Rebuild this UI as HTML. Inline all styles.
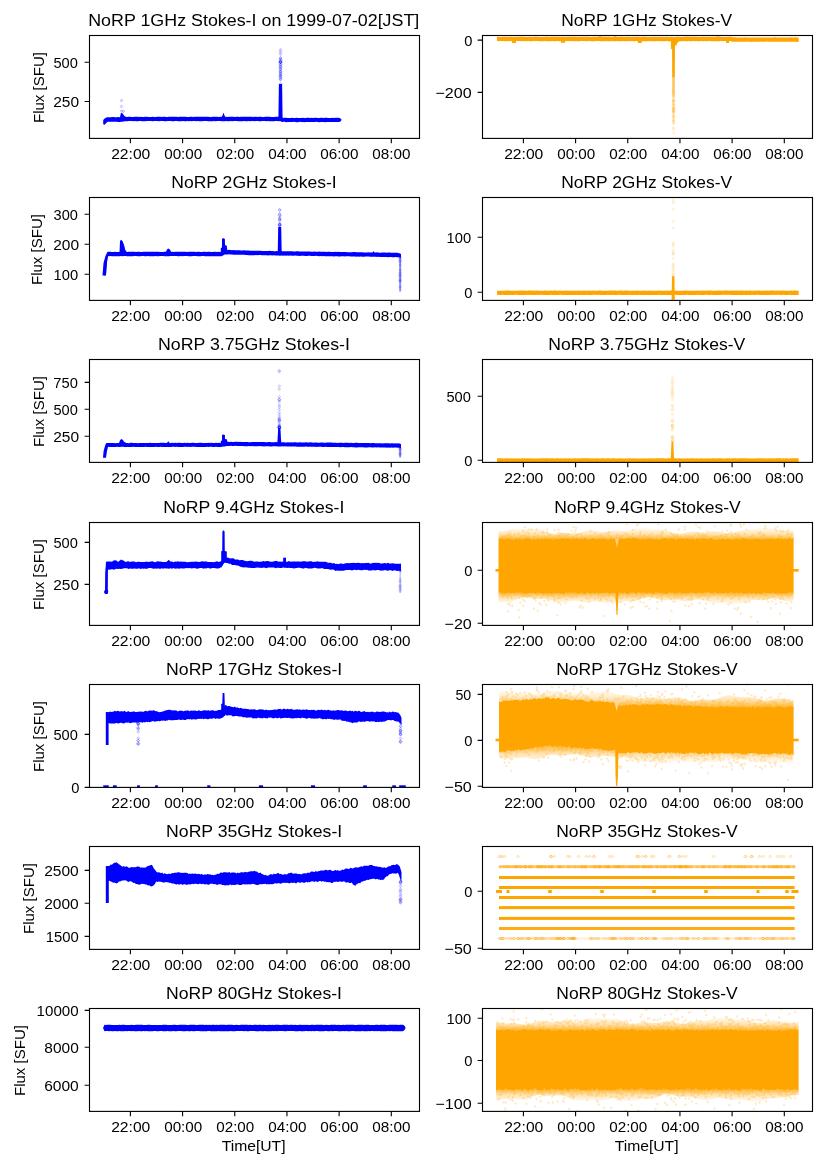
<!DOCTYPE html>
<html><head><meta charset="utf-8"><style>
html,body{margin:0;padding:0;background:#fff;}
svg{display:block;will-change:transform;}
text{font-family:"Liberation Sans",sans-serif;fill:#000;}
</style></head><body>
<svg width="827" height="1169" viewBox="0 0 827 1169">
<rect width="827" height="1169" fill="#fff"/>
<clipPath id="c00"><rect x="89.5" y="35.5" width="330" height="102.9"/></clipPath>
<g clip-path="url(#c00)">
<path d="M103.2 119.95 104.7 118.45 106.2 117.58 107.7 117.21 109.2 117.13 110.7 117.14 112.2 117.07 113.7 117.02 115.2 117.27 116.7 117.29 118.2 117.01 119.7 117.15 121.2 116.97 122.7 117.16 124.2 116.93 125.7 116.76 127.2 116.92 128.7 116.67 130.2 116.68 131.7 116.99 133.2 116.99 134.7 116.81 136.2 116.67 137.7 116.87 139.2 116.92 140.7 116.85 142.2 116.99 143.7 116.92 145.2 116.85 146.7 116.83 148.2 116.92 149.7 116.92 151.2 116.92 152.7 116.84 154.2 116.9 155.7 116.99 157.2 116.71 158.7 116.81 160.2 116.78 161.7 116.93 163.2 116.65 164.7 116.7 166.2 116.96 167.7 116.88 169.2 116.75 170.7 116.75 172.2 116.67 173.7 116.85 175.2 116.71 176.7 116.77 178.2 116.89 179.7 116.79 181.2 116.69 182.7 116.7 184.2 116.82 185.7 116.79 187.2 116.99 188.7 116.92 190.2 116.72 191.7 116.85 193.2 116.94 194.7 116.81 196.2 116.75 197.7 116.76 199.2 116.87 200.7 116.85 202.2 116.82 203.7 116.73 205.2 116.82 206.7 116.86 208.2 116.83 209.7 116.99 211.2 116.98 212.7 116.75 214.2 116.66 215.7 116.79 217.2 116.86 218.7 116.94 220.2 116.82 221.7 116.66 223.2 116.73 224.7 116.81 226.2 116.7 227.7 116.92 229.2 116.82 230.7 116.67 232.2 116.8 233.7 116.84 235.2 116.91 236.7 116.81 238.2 116.67 239.7 117 241.2 116.73 242.7 116.71 244.2 116.69 245.7 116.74 247.2 116.72 248.7 116.82 250.2 116.8 251.7 116.85 253.2 116.98 254.7 116.7 256.2 116.8 257.7 116.93 259.2 116.82 260.7 116.83 262.2 116.88 263.7 116.88 265.2 116.81 266.7 116.78 268.2 116.79 269.7 116.84 271.2 116.99 272.7 116.92 274.2 116.94 275.7 116.8 277.2 116.7 278.7 116.72 280.2 116.82 281.7 117.56 283.2 117.91 284.7 117.71 286.2 117.76 287.7 117.97 289.2 117.99 290.7 117.99 292.2 117.74 293.7 117.91 295.2 117.96 296.7 117.78 298.2 117.88 299.7 117.98 301.2 117.94 302.7 117.82 304.2 117.94 305.7 117.9 307.2 117.75 308.7 117.84 310.2 117.89 311.7 117.83 313.2 117.99 314.7 117.86 316.2 117.85 317.7 117.93 319.2 117.96 320.7 117.69 322.2 117.82 323.7 117.93 325.2 117.79 326.7 117.71 328.2 117.99 329.7 117.99 331.2 117.95 332.7 117.75 334.2 117.94 335.7 117.75 337.2 117.76 338.7 117.81 340.2 118.16 341.5 119.46 341.5 120.01 340.2 121.74 338.7 121.99 337.2 121.92 335.7 121.91 334.2 122.11 332.7 122.1 331.2 121.91 329.7 121.91 328.2 121.91 326.7 121.94 325.2 122.13 323.7 122.03 322.2 122.03 320.7 121.96 319.2 122.14 317.7 121.9 316.2 121.83 314.7 121.89 313.2 121.91 311.7 121.99 310.2 121.89 308.7 122.03 307.2 122.04 305.7 121.99 304.2 122.14 302.7 122.02 301.2 121.88 299.7 121.84 298.2 122.14 296.7 122.14 295.2 122.12 293.7 121.82 292.2 121.91 290.7 121.96 289.2 122.01 287.7 121.9 286.2 122.14 284.7 121.8 283.2 121.81 281.7 121.91 280.2 121.12 278.7 121.17 277.2 121.09 275.7 121.1 274.2 121.31 272.7 121.33 271.2 121.13 269.7 121.31 268.2 121.03 266.7 121.25 265.2 121.07 263.7 121.05 262.2 121.03 260.7 121.13 259.2 121.33 257.7 121.07 256.2 121 254.7 121.29 253.2 121.02 251.7 121.01 250.2 121.22 248.7 120.98 247.2 121.27 245.7 121.25 244.2 121.07 242.7 121.14 241.2 121.3 239.7 121.17 238.2 121.28 236.7 121.07 235.2 121 233.7 121.05 232.2 121.17 230.7 121.1 229.2 121.24 227.7 121.18 226.2 121.08 224.7 121.25 223.2 121.24 221.7 121.27 220.2 120.99 218.7 120.97 217.2 121 215.7 121.15 214.2 121 212.7 121.27 211.2 121.29 209.7 121.17 208.2 121.26 206.7 121.05 205.2 121.07 203.7 121.08 202.2 121.24 200.7 121.16 199.2 121.21 197.7 121.02 196.2 121.26 194.7 121 193.2 120.97 191.7 121.2 190.2 121.02 188.7 121.29 187.2 121.11 185.7 121.18 184.2 121.25 182.7 121.06 181.2 121.26 179.7 121.23 178.2 121.17 176.7 121.01 175.2 121.05 173.7 121.2 172.2 121.28 170.7 121.04 169.2 121 167.7 120.93 166.2 121.24 164.7 121.23 163.2 121.04 161.7 121.1 160.2 121.03 158.7 121.15 157.2 120.96 155.7 120.99 154.2 121.07 152.7 121.15 151.2 120.99 149.7 121.04 148.2 121.05 146.7 121.09 145.2 121.16 143.7 121.25 142.2 121.21 140.7 120.97 139.2 121.11 137.7 121.24 136.2 121.19 134.7 120.92 133.2 121.21 131.7 120.91 130.2 120.99 128.7 121.05 127.2 121.16 125.7 121.27 124.2 121.25 122.7 121.64 121.2 121.65 119.7 122 118.2 122.01 116.7 121.75 115.2 121.65 113.7 121.82 112.2 121.69 110.7 121.76 109.2 121.67 107.7 121.73 106.2 123.08 104.7 124.85 103.2 124.28Z" fill="#0000ff"/>
<path d="M119.8 118 120.8 113.2 122.2 113 124.5 116 127 118Z" fill="#0000ff"/>
<path d="M221.5 118 223.5 112.8 225.5 118Z" fill="#0000ff"/>
<path d="M278.4 119 278.9 84 282.1 84 282.6 119Z" fill="#0000ff"/>
<path d="M280.5 76.9l1.45 1.45l-1.45 1.45l-1.45 -1.45ZM280.5 75.4l1.45 1.45l-1.45 1.45l-1.45 -1.45ZM280.5 75.9l1.45 1.45l-1.45 1.45l-1.45 -1.45ZM280.5 82.3l1.45 1.45l-1.45 1.45l-1.45 -1.45ZM280.5 74.1l1.45 1.45l-1.45 1.45l-1.45 -1.45ZM280.5 74.4l1.45 1.45l-1.45 1.45l-1.45 -1.45ZM280.5 78.3l1.45 1.45l-1.45 1.45l-1.45 -1.45ZM280.5 77.7l1.45 1.45l-1.45 1.45l-1.45 -1.45Z" fill="#0000ff" fill-opacity="0.1" stroke="#0000ff" stroke-width="0.7" stroke-opacity="0.3"/>
<path d="M280.5 60.9l1.45 1.45l-1.45 1.45l-1.45 -1.45ZM280.5 65.8l1.45 1.45l-1.45 1.45l-1.45 -1.45ZM280.5 73.5l1.45 1.45l-1.45 1.45l-1.45 -1.45ZM280.5 66.0l1.45 1.45l-1.45 1.45l-1.45 -1.45ZM280.5 67.6l1.45 1.45l-1.45 1.45l-1.45 -1.45ZM280.5 69.2l1.45 1.45l-1.45 1.45l-1.45 -1.45ZM280.5 61.9l1.45 1.45l-1.45 1.45l-1.45 -1.45ZM280.5 64.9l1.45 1.45l-1.45 1.45l-1.45 -1.45ZM280.5 70.5l1.45 1.45l-1.45 1.45l-1.45 -1.45ZM280.5 60.7l1.45 1.45l-1.45 1.45l-1.45 -1.45ZM280.5 60.7l1.45 1.45l-1.45 1.45l-1.45 -1.45ZM280.5 60.0l1.45 1.45l-1.45 1.45l-1.45 -1.45ZM280.5 72.1l1.45 1.45l-1.45 1.45l-1.45 -1.45ZM280.5 60.7l1.45 1.45l-1.45 1.45l-1.45 -1.45ZM280.5 72.0l1.45 1.45l-1.45 1.45l-1.45 -1.45ZM280.5 63.4l1.45 1.45l-1.45 1.45l-1.45 -1.45ZM280.5 58.3l1.45 1.45l-1.45 1.45l-1.45 -1.45ZM280.5 70.3l1.45 1.45l-1.45 1.45l-1.45 -1.45ZM280.5 67.8l1.45 1.45l-1.45 1.45l-1.45 -1.45ZM280.5 59.0l1.45 1.45l-1.45 1.45l-1.45 -1.45ZM280.5 63.2l1.45 1.45l-1.45 1.45l-1.45 -1.45ZM280.5 60.7l1.45 1.45l-1.45 1.45l-1.45 -1.45Z" fill="#0000ff" fill-opacity="0.1" stroke="#0000ff" stroke-width="0.7" stroke-opacity="0.35"/>
<path d="M280.5 52.9l1.45 1.45l-1.45 1.45l-1.45 -1.45ZM280.5 48.1l1.45 1.45l-1.45 1.45l-1.45 -1.45ZM280.5 49.8l1.45 1.45l-1.45 1.45l-1.45 -1.45ZM280.5 56.7l1.45 1.45l-1.45 1.45l-1.45 -1.45ZM280.5 57.0l1.45 1.45l-1.45 1.45l-1.45 -1.45ZM280.5 56.5l1.45 1.45l-1.45 1.45l-1.45 -1.45ZM280.5 51.4l1.45 1.45l-1.45 1.45l-1.45 -1.45Z" fill="#0000ff" fill-opacity="0.1" stroke="#0000ff" stroke-width="0.7" stroke-opacity="0.25"/>
<path d="M121.5 99.0l1.45 1.45l-1.45 1.45l-1.45 -1.45ZM121.5 105.0l1.45 1.45l-1.45 1.45l-1.45 -1.45ZM121.5 109.8l1.45 1.45l-1.45 1.45l-1.45 -1.45ZM123.3 109.8l1.45 1.45l-1.45 1.45l-1.45 -1.45Z" fill="#0000ff" fill-opacity="0.1" stroke="#0000ff" stroke-width="0.7" stroke-opacity="0.3"/>
</g>
<clipPath id="c01"><rect x="482.5" y="35.5" width="330" height="102.9"/></clipPath>
<g clip-path="url(#c01)">
<path d="M497 36.71 498.5 36.72 500 36.98 501.5 36.97 503 36.75 504.5 36.78 506 36.8 507.5 36.91 509 36.82 510.5 36.82 512 36.83 513.5 36.95 515 36.87 516.5 36.88 518 36.78 519.5 36.7 521 36.72 522.5 36.84 524 36.87 525.5 36.92 527 36.99 528.5 36.99 530 36.86 531.5 36.9 533 36.89 534.5 36.73 536 36.84 537.5 36.83 539 36.93 540.5 36.99 542 36.9 543.5 36.96 545 36.85 546.5 36.7 548 36.8 549.5 36.95 551 36.73 552.5 36.76 554 36.78 555.5 36.73 557 36.77 558.5 36.76 560 36.89 561.5 36.71 563 36.71 564.5 36.95 566 36.77 567.5 36.79 569 36.86 570.5 36.84 572 36.85 573.5 36.72 575 36.85 576.5 36.75 578 36.89 579.5 36.74 581 36.73 582.5 36.86 584 36.83 585.5 36.72 587 36.78 588.5 36.85 590 36.93 591.5 36.9 593 36.79 594.5 36.95 596 36.73 597.5 36.92 599 36.73 600.5 36.91 602 36.71 603.5 36.79 605 36.85 606.5 36.84 608 36.8 609.5 36.82 611 36.91 612.5 36.94 614 36.85 615.5 36.72 617 36.81 618.5 36.98 620 36.75 621.5 36.78 623 36.73 624.5 36.94 626 36.78 627.5 36.98 629 36.8 630.5 36.92 632 36.93 633.5 36.74 635 36.97 636.5 36.84 638 36.74 639.5 36.93 641 36.94 642.5 36.74 644 36.87 645.5 36.78 647 36.99 648.5 36.89 650 36.95 651.5 36.8 653 36.98 654.5 36.71 656 36.99 657.5 36.78 659 36.99 660.5 36.92 662 36.76 663.5 36.95 665 36.94 666.5 36.79 668 36.88 669.5 36.99 671 36.7 672.5 36.95 674 36.99 675.5 36.9 677 36.82 678.5 36.78 680 36.97 681.5 36.9 683 36.99 684.5 36.87 686 36.77 687.5 36.78 689 36.73 690.5 36.77 692 36.74 693.5 36.79 695 36.86 696.5 36.93 698 36.8 699.5 36.91 701 36.97 702.5 36.87 704 36.74 705.5 36.96 707 36.82 708.5 36.88 710 36.85 711.5 36.96 713 36.71 714.5 36.92 716 36.82 717.5 36.87 719 36.99 720.5 36.83 722 36.96 723.5 36.98 725 36.99 726.5 36.95 728 36.97 729.5 36.81 731 36.85 732.5 37.3 734 37.32 735.5 37.3 737 37.53 738.5 37.47 740 37.52 741.5 37.42 743 37.41 744.5 37.36 746 37.39 747.5 37.52 749 37.47 750.5 37.44 752 37.6 753.5 37.59 755 37.48 756.5 37.57 758 37.38 759.5 37.53 761 37.57 762.5 37.55 764 37.53 765.5 37.53 767 37.44 768.5 37.46 770 37.51 771.5 37.41 773 37.54 774.5 37.33 776 37.31 777.5 37.38 779 37.47 780.5 37.45 782 37.43 783.5 37.58 785 37.47 786.5 37.44 788 37.55 789.5 37.57 791 37.36 792.5 37.49 794 37.44 795.5 37.32 797 37.42 798.5 37.51 798.7 37.3 798.7 41.85 798.5 41.63 797 41.89 795.5 41.68 794 41.67 792.5 41.74 791 41.67 789.5 41.69 788 41.79 786.5 41.84 785 41.86 783.5 41.76 782 41.72 780.5 41.79 779 41.63 777.5 41.85 776 41.72 774.5 41.8 773 41.84 771.5 41.79 770 41.69 768.5 41.85 767 41.62 765.5 41.87 764 41.76 762.5 41.75 761 41.79 759.5 41.69 758 41.86 756.5 41.73 755 41.71 753.5 41.76 752 41.71 750.5 41.89 749 41.77 747.5 41.6 746 41.69 744.5 41.74 743 41.71 741.5 41.65 740 41.64 738.5 41.86 737 41.84 735.5 41.8 734 41.72 732.5 41.84 731 41.23 729.5 41.05 728 41.23 726.5 41.02 725 41.01 723.5 41.15 722 41.08 720.5 41.1 719 41.2 717.5 41.15 716 41.23 714.5 41.2 713 41.25 711.5 41.15 710 41 708.5 41.02 707 41.29 705.5 41.06 704 41.14 702.5 41.17 701 41.08 699.5 41.13 698 41.18 696.5 41.04 695 41.24 693.5 41.06 692 41.18 690.5 41.22 689 41.06 687.5 41.23 686 41.24 684.5 41.03 683 41.27 681.5 41.27 680 41.18 678.5 41.22 677 41.28 675.5 41.01 674 41.24 672.5 41.2 671 41.26 669.5 41.21 668 41.14 666.5 41 665 41.19 663.5 41.29 662 41.2 660.5 41.12 659 41.19 657.5 41.07 656 41.26 654.5 41.23 653 41.2 651.5 41.22 650 41.1 648.5 41.29 647 41.14 645.5 41.21 644 41.28 642.5 41.21 641 41.12 639.5 41.14 638 41.15 636.5 41.05 635 41.26 633.5 41.18 632 41.01 630.5 41.13 629 41.04 627.5 41.17 626 41.23 624.5 41.3 623 41.12 621.5 41.21 620 41.14 618.5 41.27 617 41.08 615.5 41.21 614 41.15 612.5 41.03 611 41.23 609.5 41.28 608 41.16 606.5 41.03 605 41.16 603.5 41.13 602 41.2 600.5 41.2 599 41.07 597.5 41.09 596 41.04 594.5 41.19 593 41.3 591.5 41.27 590 41.03 588.5 41.02 587 41.13 585.5 41.04 584 41.3 582.5 41.11 581 41.03 579.5 41.25 578 41.18 576.5 41.28 575 41.2 573.5 41.13 572 41.08 570.5 41.15 569 41.07 567.5 41.09 566 41.25 564.5 41.28 563 41.24 561.5 41.29 560 41.14 558.5 41.16 557 41.08 555.5 41.24 554 41.14 552.5 41.11 551 41.15 549.5 41.22 548 41.23 546.5 41.2 545 41.01 543.5 41.21 542 41.29 540.5 41.19 539 41.26 537.5 41.02 536 41.04 534.5 41.04 533 41.12 531.5 41.23 530 41.14 528.5 41.12 527 41.17 525.5 41.06 524 41.23 522.5 41.02 521 41.28 519.5 41.11 518 41.09 516.5 41.02 515 41.18 513.5 41.06 512 41.15 510.5 41.12 509 41.14 507.5 41 506 41.2 504.5 41.25 503 41.09 501.5 41.03 500 41.21 498.5 41.01 497 41.11Z" fill="#ffa500"/>
<path d="M672 40 672.2 77.5 674.8 77.5 675 40Z" fill="#ffa500"/>
<path d="M670.8 40.5 679.5 40.5 677 43.5 676.2 46 675 45 674.8 50 671 49Z" fill="#ffa500"/>
<rect x="672.2" y="77.5" width="2.6" height="14" fill="#ffa500" fill-opacity="0.65"/>
<rect x="672.5" y="91" width="2" height="30" fill="#ffa500" fill-opacity="0.35"/>
<path d="M673.5 99.6l1.45 1.45l-1.45 1.45l-1.45 -1.45ZM673.5 109.7l1.45 1.45l-1.45 1.45l-1.45 -1.45ZM673.5 106.2l1.45 1.45l-1.45 1.45l-1.45 -1.45ZM673.5 91.3l1.45 1.45l-1.45 1.45l-1.45 -1.45ZM673.5 90.7l1.45 1.45l-1.45 1.45l-1.45 -1.45ZM673.5 91.7l1.45 1.45l-1.45 1.45l-1.45 -1.45ZM673.5 102.7l1.45 1.45l-1.45 1.45l-1.45 -1.45ZM673.5 93.4l1.45 1.45l-1.45 1.45l-1.45 -1.45ZM673.5 109.0l1.45 1.45l-1.45 1.45l-1.45 -1.45ZM673.5 107.4l1.45 1.45l-1.45 1.45l-1.45 -1.45ZM673.5 119.8l1.45 1.45l-1.45 1.45l-1.45 -1.45ZM673.5 116.2l1.45 1.45l-1.45 1.45l-1.45 -1.45ZM673.5 94.0l1.45 1.45l-1.45 1.45l-1.45 -1.45ZM673.5 99.1l1.45 1.45l-1.45 1.45l-1.45 -1.45ZM673.5 95.2l1.45 1.45l-1.45 1.45l-1.45 -1.45ZM673.5 109.4l1.45 1.45l-1.45 1.45l-1.45 -1.45ZM673.5 106.5l1.45 1.45l-1.45 1.45l-1.45 -1.45ZM673.5 91.4l1.45 1.45l-1.45 1.45l-1.45 -1.45ZM673.5 110.6l1.45 1.45l-1.45 1.45l-1.45 -1.45ZM673.5 99.3l1.45 1.45l-1.45 1.45l-1.45 -1.45ZM673.5 103.6l1.45 1.45l-1.45 1.45l-1.45 -1.45ZM673.5 114.2l1.45 1.45l-1.45 1.45l-1.45 -1.45Z" fill="#ffa500" fill-opacity="0.1" stroke="#ffa500" stroke-width="0.7" stroke-opacity="0.3"/>
<path d="M673.5 131.3l1.45 1.45l-1.45 1.45l-1.45 -1.45ZM673.5 122.4l1.45 1.45l-1.45 1.45l-1.45 -1.45ZM673.5 120.4l1.45 1.45l-1.45 1.45l-1.45 -1.45ZM673.5 127.5l1.45 1.45l-1.45 1.45l-1.45 -1.45ZM673.5 120.9l1.45 1.45l-1.45 1.45l-1.45 -1.45ZM673.5 126.6l1.45 1.45l-1.45 1.45l-1.45 -1.45Z" fill="#ffa500" fill-opacity="0.1" stroke="#ffa500" stroke-width="0.7" stroke-opacity="0.2"/>
<rect x="512" y="41" width="4" height="2" fill="#ffa500"/>
<rect x="561" y="41" width="4" height="1.8" fill="#ffa500"/>
<rect x="613.3" y="34.4" width="3" height="2.1" fill="#ffa500"/>
<rect x="637.8" y="41" width="4" height="2" fill="#ffa500"/>
<rect x="716.5" y="34.6" width="3" height="1.9" fill="#ffa500"/>
<rect x="726.1" y="41" width="3" height="2" fill="#ffa500"/>
<rect x="598.5" y="35" width="3" height="1.7" fill="#ffa500"/>
</g>
<clipPath id="c10"><rect x="89.5" y="197.5" width="330" height="102.9"/></clipPath>
<g clip-path="url(#c10)">
<path d="M104.5 261.92 106 255.81 107.5 251.87 109 251.79 110.5 251.78 112 251.98 113.5 252 115 251.71 116.5 251.91 118 251.92 119.5 251.65 121 251.84 122.5 251.71 124 251.83 125.5 251.78 127 251.95 128.5 251.78 130 251.7 131.5 251.82 133 251.74 134.5 251.77 136 251.98 137.5 251.73 139 251.79 140.5 251.89 142 251.99 143.5 251.7 145 251.83 146.5 251.75 148 251.69 149.5 251.75 151 251.68 152.5 251.86 154 251.72 155.5 251.84 157 251.67 158.5 251.69 160 251.97 161.5 251.95 163 251.92 164.5 251.66 166 251.85 167.5 251.78 169 251.89 170.5 251.82 172 251.86 173.5 251.88 175 251.8 176.5 251.8 178 251.68 179.5 251.76 181 251.67 182.5 251.7 184 251.65 185.5 251.77 187 251.94 188.5 251.7 190 251.66 191.5 251.68 193 251.8 194.5 251.75 196 251.93 197.5 251.71 199 251.8 200.5 251.9 202 251.98 203.5 251.7 205 251.65 206.5 251.97 208 251.72 209.5 251.86 211 251.95 212.5 251.9 214 251.73 215.5 251.69 217 251.98 218.5 251.78 220 251.98 221.5 251.75 223 251.22 224.5 250.03 226 249.69 227.5 249.91 229 249.78 230.5 250.07 232 250.21 233.5 250.07 235 250.32 236.5 250.31 238 250.29 239.5 250.27 241 250.48 242.5 250.57 244 250.33 245.5 250.57 247 250.4 248.5 250.47 250 250.7 251.5 250.72 253 250.75 254.5 250.76 256 250.8 257.5 250.84 259 250.84 260.5 250.74 262 250.92 263.5 250.96 265 250.88 266.5 251.07 268 251.07 269.5 250.85 271 251.03 272.5 251.04 274 251.25 275.5 251.13 277 251.09 278.5 251.31 280 251.12 281.5 251.13 283 251.35 284.5 251.17 286 251.25 287.5 251.2 289 251.33 290.5 251.23 292 251.24 293.5 251.51 295 251.51 296.5 251.32 298 251.24 299.5 251.51 301 251.45 302.5 251.43 304 251.54 305.5 251.55 307 251.59 308.5 251.59 310 251.53 311.5 251.66 313 251.65 314.5 251.53 316 251.82 317.5 251.65 319 251.61 320.5 251.78 322 251.83 323.5 251.65 325 251.87 326.5 251.91 328 251.84 329.5 251.77 331 252 332.5 251.95 334 251.96 335.5 251.81 337 251.97 338.5 251.85 340 252.11 341.5 252.07 343 251.98 344.5 251.92 346 252.09 347.5 252.19 349 252.25 350.5 252.13 352 252.27 353.5 252.07 355 252.08 356.5 252.33 358 252.32 359.5 252.16 361 252.24 362.5 252.2 364 252.38 365.5 252.48 367 252.45 368.5 252.29 370 252.49 371.5 252.49 373 252.49 374.5 252.51 376 252.53 377.5 252.37 379 252.66 380.5 252.74 382 252.43 383.5 252.47 385 252.46 386.5 252.67 388 252.51 389.5 252.54 391 252.81 392.5 252.65 394 252.64 395.5 252.72 397 252.79 398.5 252.89 400 253.38 401 253.92 401 257.58 400 257.41 398.5 257.33 397 257.23 395.5 257.09 394 257.23 392.5 257.16 391 257.06 389.5 257.06 388 257.13 386.5 257.12 385 256.97 383.5 256.99 382 256.93 380.5 257.09 379 256.77 377.5 256.97 376 256.79 374.5 256.78 373 256.69 371.5 256.75 370 256.76 368.5 256.58 367 256.62 365.5 256.62 364 256.71 362.5 256.78 361 256.61 359.5 256.69 358 256.52 356.5 256.73 355 256.62 353.5 256.44 352 256.45 350.5 256.52 349 256.36 347.5 256.37 346 256.32 344.5 256.48 343 256.36 341.5 256.37 340 256.49 338.5 256.41 337 256.16 335.5 256.15 334 256.39 332.5 256.28 331 256.21 329.5 256.2 328 256.23 326.5 256.24 325 256.2 323.5 255.99 322 256.17 320.5 256.03 319 256.21 317.5 256.02 316 255.86 314.5 255.95 313 255.91 311.5 255.9 310 255.87 308.5 255.86 307 255.96 305.5 255.89 304 255.74 302.5 255.7 301 255.7 299.5 255.88 298 255.77 296.5 255.67 295 255.55 293.5 255.84 292 255.76 290.5 255.51 289 255.7 287.5 255.61 286 255.68 284.5 255.41 283 255.65 281.5 255.56 280 255.67 278.5 255.61 277 255.53 275.5 255.57 274 255.3 272.5 255.53 271 255.22 269.5 255.26 268 255.48 266.5 255.19 265 255.17 263.5 255.13 262 255.36 260.5 255.12 259 255.06 257.5 255.24 256 255.05 254.5 255.18 253 255.2 251.5 255.14 250 255.14 248.5 255.14 247 255.02 245.5 255.03 244 254.75 242.5 254.83 241 254.72 239.5 254.86 238 254.86 236.5 254.64 235 254.79 233.5 254.73 232 254.54 230.5 254.5 229 254.33 227.5 254.51 226 254.41 224.5 254.59 223 255.56 221.5 256.24 220 256.15 218.5 256.25 217 256.17 215.5 256.13 214 256.15 212.5 256.22 211 256.28 209.5 256.13 208 256.27 206.5 256.21 205 256.13 203.5 256.06 202 256.03 200.5 256.13 199 256.25 197.5 256.19 196 256.04 194.5 256.12 193 256.07 191.5 256.13 190 256.21 188.5 256.23 187 256.12 185.5 256.11 184 256.11 182.5 256.18 181 256.03 179.5 256.3 178 256.34 176.5 256.02 175 256.04 173.5 256.04 172 256.02 170.5 256 169 256.27 167.5 256.17 166 256.15 164.5 256.18 163 256.09 161.5 256.09 160 256.02 158.5 256.3 157 256.22 155.5 256 154 256.29 152.5 256.28 151 256.32 149.5 256.28 148 256.06 146.5 256.29 145 256.19 143.5 256.07 142 256.12 140.5 256.27 139 256.17 137.5 256.3 136 256.09 134.5 256.12 133 256.21 131.5 256.33 130 256.14 128.5 256.18 127 256.23 125.5 256.1 124 256.06 122.5 256.26 121 256 119.5 256.2 118 256.31 116.5 256.31 115 256.32 113.5 256.24 112 256.32 110.5 256.02 109 256.28 107.5 256.1 106 274.21 104.5 276.02Z" fill="#0000ff"/>
<path d="M102.5 275.5 103.5 263 105.5 256 107.5 252 108 256.5 106.5 265 106 275.5Z" fill="#0000ff"/>
<path d="M119.5 253 120 241 121.2 239.8 122.6 241.2 123.5 243.5 124.5 246.5 125.2 250 126.5 251.5 126.5 253Z" fill="#0000ff"/>
<path d="M165.5 253 167 249.5 168.3 248.6 170 249.5 171.5 253Z" fill="#0000ff"/>
<path d="M220.8 254 220.8 248 222 247.5 222 239 223.4 238 224.9 239 225 245 226.8 245.8 227.2 250 227.2 254Z" fill="#0000ff"/>
<path d="M277.7 254 278.2 227 281.2 227 281.7 254Z" fill="#0000ff"/>
<path d="M279.7 223.9l1.45 1.45l-1.45 1.45l-1.45 -1.45ZM279.7 221.5l1.45 1.45l-1.45 1.45l-1.45 -1.45ZM279.7 218.4l1.45 1.45l-1.45 1.45l-1.45 -1.45ZM279.7 218.6l1.45 1.45l-1.45 1.45l-1.45 -1.45ZM279.7 222.7l1.45 1.45l-1.45 1.45l-1.45 -1.45ZM279.7 213.5l1.45 1.45l-1.45 1.45l-1.45 -1.45ZM279.7 213.9l1.45 1.45l-1.45 1.45l-1.45 -1.45ZM279.7 208.6l1.45 1.45l-1.45 1.45l-1.45 -1.45ZM279.7 223.2l1.45 1.45l-1.45 1.45l-1.45 -1.45ZM279.7 212.3l1.45 1.45l-1.45 1.45l-1.45 -1.45ZM279.7 223.6l1.45 1.45l-1.45 1.45l-1.45 -1.45ZM279.7 208.4l1.45 1.45l-1.45 1.45l-1.45 -1.45ZM279.7 223.4l1.45 1.45l-1.45 1.45l-1.45 -1.45ZM279.7 225.5l1.45 1.45l-1.45 1.45l-1.45 -1.45ZM279.7 223.4l1.45 1.45l-1.45 1.45l-1.45 -1.45ZM279.7 217.3l1.45 1.45l-1.45 1.45l-1.45 -1.45ZM279.7 217.5l1.45 1.45l-1.45 1.45l-1.45 -1.45ZM279.7 215.8l1.45 1.45l-1.45 1.45l-1.45 -1.45Z" fill="#0000ff" fill-opacity="0.1" stroke="#0000ff" stroke-width="0.7" stroke-opacity="0.3"/>
<path d="M371 255 373.5 251 376 255Z" fill="#0000ff"/>
<rect x="399.2" y="257" width="1.9" height="34.5" fill="#0000ff" fill-opacity="0.45"/>
<path d="M400.1 271.1l1.45 1.45l-1.45 1.45l-1.45 -1.45ZM400.1 260.2l1.45 1.45l-1.45 1.45l-1.45 -1.45ZM400.1 255.8l1.45 1.45l-1.45 1.45l-1.45 -1.45ZM400.1 285.6l1.45 1.45l-1.45 1.45l-1.45 -1.45ZM400.1 274.1l1.45 1.45l-1.45 1.45l-1.45 -1.45ZM400.1 256.9l1.45 1.45l-1.45 1.45l-1.45 -1.45ZM400.1 279.1l1.45 1.45l-1.45 1.45l-1.45 -1.45ZM400.1 279.8l1.45 1.45l-1.45 1.45l-1.45 -1.45ZM400.1 263.5l1.45 1.45l-1.45 1.45l-1.45 -1.45ZM400.1 272.5l1.45 1.45l-1.45 1.45l-1.45 -1.45ZM400.1 275.3l1.45 1.45l-1.45 1.45l-1.45 -1.45ZM400.1 268.4l1.45 1.45l-1.45 1.45l-1.45 -1.45ZM400.1 259.0l1.45 1.45l-1.45 1.45l-1.45 -1.45ZM400.1 278.1l1.45 1.45l-1.45 1.45l-1.45 -1.45Z" fill="#0000ff" fill-opacity="0.1" stroke="#0000ff" stroke-width="0.7" stroke-opacity="0.22"/>
</g>
<clipPath id="c11"><rect x="482.5" y="197.5" width="330" height="102.9"/></clipPath>
<g clip-path="url(#c11)">
<path d="M497 290.73 498.5 290.77 500 290.68 501.5 290.75 503 290.78 504.5 290.68 506 290.52 507.5 290.56 509 290.57 510.5 290.73 512 290.64 513.5 290.72 515 290.75 516.5 290.77 518 290.74 519.5 290.52 521 290.55 522.5 290.56 524 290.56 525.5 290.74 527 290.71 528.5 290.61 530 290.58 531.5 290.54 533 290.54 534.5 290.77 536 290.62 537.5 290.6 539 290.65 540.5 290.75 542 290.66 543.5 290.77 545 290.52 546.5 290.54 548 290.64 549.5 290.71 551 290.53 552.5 290.63 554 290.54 555.5 290.55 557 290.65 558.5 290.68 560 290.62 561.5 290.67 563 290.75 564.5 290.71 566 290.56 567.5 290.79 569 290.79 570.5 290.61 572 290.72 573.5 290.64 575 290.66 576.5 290.7 578 290.5 579.5 290.74 581 290.68 582.5 290.74 584 290.61 585.5 290.72 587 290.69 588.5 290.58 590 290.7 591.5 290.63 593 290.53 594.5 290.77 596 290.78 597.5 290.73 599 290.57 600.5 290.62 602 290.73 603.5 290.7 605 290.75 606.5 290.66 608 290.79 609.5 290.59 611 290.53 612.5 290.51 614 290.58 615.5 290.51 617 290.79 618.5 290.71 620 290.51 621.5 290.57 623 290.68 624.5 290.52 626 290.61 627.5 290.55 629 290.71 630.5 290.74 632 290.67 633.5 290.76 635 290.69 636.5 290.51 638 290.7 639.5 290.8 641 290.79 642.5 290.75 644 290.56 645.5 290.69 647 290.71 648.5 290.77 650 290.51 651.5 290.67 653 290.74 654.5 290.78 656 290.78 657.5 290.75 659 290.6 660.5 290.76 662 290.79 663.5 290.65 665 290.73 666.5 290.5 668 290.76 669.5 290.64 671 290.57 672.5 290.68 674 290.5 675.5 290.66 677 290.73 678.5 290.68 680 290.79 681.5 290.67 683 290.73 684.5 290.53 686 290.55 687.5 290.65 689 290.79 690.5 290.72 692 290.73 693.5 290.74 695 290.73 696.5 290.54 698 290.76 699.5 290.78 701 290.52 702.5 290.63 704 290.5 705.5 290.68 707 290.53 708.5 290.6 710 290.56 711.5 290.58 713 290.65 714.5 290.77 716 290.74 717.5 290.54 719 290.53 720.5 290.52 722 290.7 723.5 290.6 725 290.56 726.5 290.61 728 290.56 729.5 290.64 731 290.6 732.5 290.59 734 290.72 735.5 290.52 737 290.51 738.5 290.78 740 290.51 741.5 290.51 743 290.6 744.5 290.79 746 290.53 747.5 290.76 749 290.51 750.5 290.6 752 290.78 753.5 290.75 755 290.61 756.5 290.63 758 290.58 759.5 290.52 761 290.73 762.5 290.8 764 290.52 765.5 290.8 767 290.54 768.5 290.77 770 290.56 771.5 290.57 773 290.54 774.5 290.63 776 290.54 777.5 290.74 779 290.6 780.5 290.7 782 290.53 783.5 290.57 785 290.66 786.5 290.64 788 290.79 789.5 290.79 791 290.62 792.5 290.65 794 290.54 795.5 290.62 797 290.76 798.5 290.69 798.7 290.57 798.7 295.05 798.5 294.91 797 295.08 795.5 295.08 794 295.01 792.5 295.1 791 295.05 789.5 294.86 788 295.02 786.5 294.94 785 294.97 783.5 294.87 782 295.05 780.5 295.05 779 294.85 777.5 294.85 776 295.09 774.5 294.81 773 295.06 771.5 294.81 770 294.93 768.5 294.92 767 294.9 765.5 295.06 764 295 762.5 294.92 761 294.88 759.5 295.06 758 294.85 756.5 294.82 755 294.95 753.5 295.05 752 294.85 750.5 294.95 749 294.97 747.5 295.02 746 295.01 744.5 294.97 743 295.02 741.5 295.06 740 295.09 738.5 295 737 295.02 735.5 295.01 734 295.07 732.5 294.89 731 295.1 729.5 294.82 728 294.84 726.5 294.89 725 294.81 723.5 294.83 722 294.85 720.5 294.96 719 294.88 717.5 295.09 716 294.96 714.5 295 713 295.04 711.5 294.85 710 295.08 708.5 294.89 707 294.87 705.5 294.84 704 295.03 702.5 295.07 701 295.08 699.5 294.87 698 294.88 696.5 294.83 695 294.89 693.5 294.98 692 295.08 690.5 295.1 689 295.09 687.5 294.82 686 294.85 684.5 294.99 683 295.09 681.5 294.91 680 294.98 678.5 295.01 677 294.96 675.5 294.86 674 294.8 672.5 294.92 671 294.89 669.5 295.05 668 294.92 666.5 294.92 665 295.07 663.5 295.1 662 294.99 660.5 294.9 659 294.87 657.5 294.89 656 295.01 654.5 295.07 653 294.98 651.5 294.92 650 295.08 648.5 294.89 647 295.05 645.5 294.99 644 295.02 642.5 295 641 295 639.5 294.84 638 295.09 636.5 295.03 635 295.08 633.5 294.97 632 294.95 630.5 294.98 629 294.85 627.5 295.09 626 295.04 624.5 295.04 623 295.05 621.5 295.08 620 294.81 618.5 294.81 617 294.89 615.5 294.9 614 295 612.5 294.85 611 295.08 609.5 294.92 608 294.83 606.5 294.99 605 294.91 603.5 294.97 602 294.91 600.5 295.07 599 294.85 597.5 295.04 596 294.84 594.5 294.82 593 294.84 591.5 295 590 294.91 588.5 295.03 587 294.84 585.5 294.93 584 294.98 582.5 295.04 581 295.06 579.5 294.89 578 295.07 576.5 294.94 575 295.07 573.5 294.89 572 294.98 570.5 295 569 294.99 567.5 295.1 566 295.03 564.5 294.91 563 295.05 561.5 294.87 560 294.82 558.5 294.95 557 295.01 555.5 294.95 554 294.96 552.5 294.89 551 294.8 549.5 295.01 548 295.07 546.5 294.96 545 294.9 543.5 294.95 542 294.84 540.5 294.85 539 295.06 537.5 294.85 536 295.04 534.5 294.93 533 295.05 531.5 294.89 530 294.86 528.5 295.06 527 294.82 525.5 295.03 524 295.06 522.5 294.93 521 294.95 519.5 295.07 518 294.99 516.5 294.83 515 294.83 513.5 295.09 512 294.95 510.5 294.87 509 294.89 507.5 295.04 506 294.91 504.5 294.96 503 294.83 501.5 295.05 500 295.05 498.5 294.8 497 294.96Z" fill="#ffa500"/>
<path d="M671.6 299.8 672 276.3 674.4 276.3 674.8 299.8Z" fill="#ffa500"/>
<path d="M673.2 252.6l1.45 1.45l-1.45 1.45l-1.45 -1.45ZM673.2 252.0l1.45 1.45l-1.45 1.45l-1.45 -1.45ZM673.2 226.4l1.45 1.45l-1.45 1.45l-1.45 -1.45ZM673.2 244.9l1.45 1.45l-1.45 1.45l-1.45 -1.45ZM673.2 256.7l1.45 1.45l-1.45 1.45l-1.45 -1.45ZM673.2 271.2l1.45 1.45l-1.45 1.45l-1.45 -1.45ZM673.2 199.1l1.45 1.45l-1.45 1.45l-1.45 -1.45ZM673.2 220.1l1.45 1.45l-1.45 1.45l-1.45 -1.45ZM673.2 265.7l1.45 1.45l-1.45 1.45l-1.45 -1.45ZM673.2 242.7l1.45 1.45l-1.45 1.45l-1.45 -1.45ZM673.2 241.6l1.45 1.45l-1.45 1.45l-1.45 -1.45ZM673.2 273.9l1.45 1.45l-1.45 1.45l-1.45 -1.45ZM673.2 201.5l1.45 1.45l-1.45 1.45l-1.45 -1.45ZM673.2 248.8l1.45 1.45l-1.45 1.45l-1.45 -1.45ZM673.2 274.8l1.45 1.45l-1.45 1.45l-1.45 -1.45ZM673.2 208.1l1.45 1.45l-1.45 1.45l-1.45 -1.45ZM673.2 266.5l1.45 1.45l-1.45 1.45l-1.45 -1.45ZM673.2 268.9l1.45 1.45l-1.45 1.45l-1.45 -1.45ZM673.2 262.6l1.45 1.45l-1.45 1.45l-1.45 -1.45ZM673.2 251.4l1.45 1.45l-1.45 1.45l-1.45 -1.45ZM673.2 273.6l1.45 1.45l-1.45 1.45l-1.45 -1.45ZM673.2 264.0l1.45 1.45l-1.45 1.45l-1.45 -1.45Z" fill="#ffa500" fill-opacity="0.1" stroke="#ffa500" stroke-width="0.7" stroke-opacity="0.2"/>
</g>
<clipPath id="c20"><rect x="89.5" y="359.5" width="330" height="102.9"/></clipPath>
<g clip-path="url(#c20)">
<path d="M106.5 443.06 108 443.03 109.5 442.92 111 443.05 112.5 443.04 114 443.01 115.5 443.13 117 443.03 118.5 442.99 120 442.94 121.5 443.15 123 443.08 124.5 443.14 126 442.92 127.5 442.96 129 443.15 130.5 442.86 132 442.87 133.5 442.96 135 442.97 136.5 443.1 138 443.14 139.5 442.98 141 443.12 142.5 443.08 144 443.06 145.5 443.12 147 442.99 148.5 442.99 150 442.87 151.5 442.97 153 442.93 154.5 442.97 156 442.91 157.5 442.97 159 443.02 160.5 442.81 162 442.8 163.5 442.85 165 442.89 166.5 443 168 443.02 169.5 443 171 443.07 172.5 442.85 174 442.96 175.5 442.83 177 442.96 178.5 442.79 180 442.82 181.5 443.07 183 443 184.5 442.79 186 442.92 187.5 442.76 189 442.94 190.5 443.03 192 442.86 193.5 442.81 195 442.96 196.5 443.02 198 442.94 199.5 442.75 201 442.81 202.5 443 204 442.96 205.5 443 207 443.01 208.5 442.78 210 442.97 211.5 442.85 213 442.88 214.5 442.95 216 442.79 217.5 442.97 219 442.81 220.5 442.97 222 442.73 223.5 442.58 225 442.35 226.5 441.92 228 441.76 229.5 441.92 231 441.76 232.5 441.97 234 441.93 235.5 441.8 237 441.87 238.5 442.05 240 441.79 241.5 442.04 243 442.03 244.5 441.89 246 442.03 247.5 442.06 249 442.13 250.5 442.14 252 442 253.5 442.12 255 442.02 256.5 442.1 258 442.09 259.5 441.95 261 442.1 262.5 442.09 264 442.01 265.5 442.23 267 442.25 268.5 442.04 270 442.07 271.5 442.26 273 442.29 274.5 442.13 276 442.09 277.5 442.32 279 442.11 280.5 442.14 282 442.23 283.5 442.3 285 442.41 286.5 442.44 288 442.18 289.5 442.4 291 442.28 292.5 442.42 294 442.26 295.5 442.35 297 442.45 298.5 442.5 300 442.34 301.5 442.55 303 442.52 304.5 442.43 306 442.35 307.5 442.44 309 442.55 310.5 442.37 312 442.59 313.5 442.66 315 442.6 316.5 442.56 318 442.69 319.5 442.66 321 442.62 322.5 442.57 324 442.71 325.5 442.66 327 442.51 328.5 442.49 330 442.6 331.5 442.61 333 442.66 334.5 442.81 336 442.86 337.5 442.88 339 442.63 340.5 442.71 342 442.65 343.5 442.95 345 442.78 346.5 442.85 348 442.79 349.5 442.93 351 442.74 352.5 443.04 354 442.91 355.5 442.87 357 442.84 358.5 442.91 360 442.94 361.5 442.93 363 442.91 364.5 443.09 366 443.01 367.5 442.96 369 442.99 370.5 443.14 372 443.05 373.5 443.05 375 443.15 376.5 443.15 378 443.24 379.5 443.2 381 443.21 382.5 443.38 384 443.23 385.5 443.15 387 443.2 388.5 443.26 390 443.38 391.5 443.29 393 443.36 394.5 443.42 396 443.31 397.5 443.56 399 443.37 400.5 443.89 401 443.82 401 448.12 400.5 448.01 399 447.73 397.5 447.74 396 447.62 394.5 447.62 393 447.68 391.5 447.55 390 447.71 388.5 447.51 387 447.65 385.5 447.55 384 447.52 382.5 447.61 381 447.46 379.5 447.43 378 447.36 376.5 447.57 375 447.36 373.5 447.58 372 447.47 370.5 447.33 369 447.35 367.5 447.38 366 447.49 364.5 447.44 363 447.31 361.5 447.2 360 447.29 358.5 447.21 357 447.39 355.5 447.38 354 447.2 352.5 447.22 351 447.06 349.5 447.23 348 447.16 346.5 447.16 345 447.21 343.5 447.08 342 447.09 340.5 447.21 339 446.91 337.5 447.07 336 447.02 334.5 447.01 333 446.9 331.5 446.99 330 446.96 328.5 447.07 327 447.02 325.5 446.81 324 447.01 322.5 446.97 321 446.82 319.5 446.78 318 446.84 316.5 446.91 315 446.8 313.5 446.82 312 446.83 310.5 446.68 309 446.73 307.5 446.63 306 446.57 304.5 446.81 303 446.66 301.5 446.78 300 446.69 298.5 446.72 297 446.67 295.5 446.59 294 446.46 292.5 446.44 291 446.62 289.5 446.47 288 446.4 286.5 446.58 285 446.34 283.5 446.55 282 446.3 280.5 446.42 279 446.49 277.5 446.41 276 446.36 274.5 446.23 273 446.3 271.5 446.43 270 446.43 268.5 446.24 267 446.37 265.5 446.27 264 446.39 262.5 446.37 261 446.33 259.5 446.11 258 446.25 256.5 446.21 255 446.25 253.5 446.2 252 446.03 250.5 446.15 249 446.07 247.5 446.2 246 446.14 244.5 446.15 243 446.04 241.5 445.96 240 446.11 238.5 446 237 445.94 235.5 445.82 234 445.98 232.5 446.03 231 445.76 229.5 445.99 228 445.94 226.5 446.05 225 446.4 223.5 446.59 222 446.8 220.5 447.01 219 446.9 217.5 446.88 216 446.85 214.5 447.01 213 446.94 211.5 446.8 210 446.85 208.5 446.94 207 446.86 205.5 447.01 204 447.09 202.5 447.04 201 447 199.5 446.99 198 446.93 196.5 446.99 195 446.81 193.5 446.84 192 446.87 190.5 447.05 189 446.81 187.5 446.94 186 446.84 184.5 446.81 183 447.04 181.5 446.89 180 446.97 178.5 447.01 177 446.81 175.5 447.06 174 446.81 172.5 446.82 171 446.94 169.5 447.09 168 447.05 166.5 446.89 165 446.95 163.5 446.99 162 446.92 160.5 446.86 159 446.88 157.5 446.94 156 446.85 154.5 446.88 153 447.09 151.5 447.01 150 447.05 148.5 447.05 147 446.95 145.5 446.84 144 446.89 142.5 446.97 141 446.92 139.5 447.06 138 447.07 136.5 447.04 135 446.93 133.5 446.86 132 447 130.5 446.9 129 447.07 127.5 446.93 126 447 124.5 447.07 123 446.85 121.5 446.86 120 447 118.5 446.89 117 446.8 115.5 446.88 114 447.08 112.5 446.98 111 446.95 109.5 447.01 108 446.87 106.5 446.94Z" fill="#0000ff"/>
<path d="M103 457.8 103.6 451 105 446 106 443.2 108.5 443.5 108 447 107 451 106 457.8Z" fill="#0000ff"/>
<path d="M118.5 444 120.2 440 121.5 438.9 123 440 124 441.8 126.5 443 126.5 444Z" fill="#0000ff"/>
<path d="M166 444 168.3 441.3 170.5 444Z" fill="#0000ff"/>
<path d="M220.8 445 220.8 441 222 440.5 222 435 223.4 434.6 224.9 435 225 439 226.8 439.2 227.6 442.5 227.6 445Z" fill="#0000ff"/>
<path d="M277.3 444 278.2 428 280.4 428 281.3 444Z" fill="#0000ff"/>
<path d="M279.3 413.3l1.45 1.45l-1.45 1.45l-1.45 -1.45ZM279.3 400.3l1.45 1.45l-1.45 1.45l-1.45 -1.45ZM279.3 426.5l1.45 1.45l-1.45 1.45l-1.45 -1.45ZM279.3 422.1l1.45 1.45l-1.45 1.45l-1.45 -1.45ZM279.3 398.4l1.45 1.45l-1.45 1.45l-1.45 -1.45ZM279.3 408.2l1.45 1.45l-1.45 1.45l-1.45 -1.45ZM279.3 425.3l1.45 1.45l-1.45 1.45l-1.45 -1.45ZM279.3 425.0l1.45 1.45l-1.45 1.45l-1.45 -1.45ZM279.3 426.3l1.45 1.45l-1.45 1.45l-1.45 -1.45ZM279.3 426.2l1.45 1.45l-1.45 1.45l-1.45 -1.45ZM279.3 419.8l1.45 1.45l-1.45 1.45l-1.45 -1.45ZM279.3 384.7l1.45 1.45l-1.45 1.45l-1.45 -1.45ZM279.3 426.3l1.45 1.45l-1.45 1.45l-1.45 -1.45ZM279.3 411.3l1.45 1.45l-1.45 1.45l-1.45 -1.45ZM279.3 369.1l1.45 1.45l-1.45 1.45l-1.45 -1.45ZM279.3 425.8l1.45 1.45l-1.45 1.45l-1.45 -1.45ZM279.3 425.5l1.45 1.45l-1.45 1.45l-1.45 -1.45ZM279.3 403.8l1.45 1.45l-1.45 1.45l-1.45 -1.45ZM279.3 397.9l1.45 1.45l-1.45 1.45l-1.45 -1.45ZM279.3 424.8l1.45 1.45l-1.45 1.45l-1.45 -1.45ZM279.3 417.1l1.45 1.45l-1.45 1.45l-1.45 -1.45ZM279.3 405.6l1.45 1.45l-1.45 1.45l-1.45 -1.45ZM279.3 417.8l1.45 1.45l-1.45 1.45l-1.45 -1.45ZM279.3 395.4l1.45 1.45l-1.45 1.45l-1.45 -1.45ZM279.3 370.3l1.45 1.45l-1.45 1.45l-1.45 -1.45ZM279.3 419.1l1.45 1.45l-1.45 1.45l-1.45 -1.45ZM279.3 398.5l1.45 1.45l-1.45 1.45l-1.45 -1.45ZM279.3 425.8l1.45 1.45l-1.45 1.45l-1.45 -1.45ZM279.3 418.8l1.45 1.45l-1.45 1.45l-1.45 -1.45ZM279.3 387.8l1.45 1.45l-1.45 1.45l-1.45 -1.45ZM279.3 426.5l1.45 1.45l-1.45 1.45l-1.45 -1.45ZM279.3 415.6l1.45 1.45l-1.45 1.45l-1.45 -1.45ZM279.3 423.6l1.45 1.45l-1.45 1.45l-1.45 -1.45ZM279.3 417.7l1.45 1.45l-1.45 1.45l-1.45 -1.45ZM279.3 425.9l1.45 1.45l-1.45 1.45l-1.45 -1.45ZM279.3 424.7l1.45 1.45l-1.45 1.45l-1.45 -1.45ZM279.3 426.5l1.45 1.45l-1.45 1.45l-1.45 -1.45ZM279.3 419.6l1.45 1.45l-1.45 1.45l-1.45 -1.45ZM279.3 426.4l1.45 1.45l-1.45 1.45l-1.45 -1.45ZM279.3 424.0l1.45 1.45l-1.45 1.45l-1.45 -1.45Z" fill="#0000ff" fill-opacity="0.1" stroke="#0000ff" stroke-width="0.7" stroke-opacity="0.24"/>
<rect x="399.2" y="447" width="1.9" height="10.5" fill="#0000ff" fill-opacity="0.45"/>
<path d="M400.1 448.3l1.45 1.45l-1.45 1.45l-1.45 -1.45ZM400.1 452.7l1.45 1.45l-1.45 1.45l-1.45 -1.45ZM400.1 447.5l1.45 1.45l-1.45 1.45l-1.45 -1.45ZM400.1 447.1l1.45 1.45l-1.45 1.45l-1.45 -1.45ZM400.1 453.3l1.45 1.45l-1.45 1.45l-1.45 -1.45ZM400.1 451.1l1.45 1.45l-1.45 1.45l-1.45 -1.45Z" fill="#0000ff" fill-opacity="0.1" stroke="#0000ff" stroke-width="0.7" stroke-opacity="0.22"/>
</g>
<clipPath id="c21"><rect x="482.5" y="359.5" width="330" height="102.9"/></clipPath>
<g clip-path="url(#c21)">
<path d="M497 458.47 498.5 458.29 500 458.3 501.5 458.22 503 458.42 504.5 458.42 506 458.28 507.5 458.3 509 458.41 510.5 458.29 512 458.38 513.5 458.27 515 458.46 516.5 458.43 518 458.23 519.5 458.39 521 458.42 522.5 458.26 524 458.31 525.5 458.46 527 458.33 528.5 458.3 530 458.45 531.5 458.3 533 458.46 534.5 458.4 536 458.48 537.5 458.44 539 458.21 540.5 458.38 542 458.2 543.5 458.37 545 458.32 546.5 458.24 548 458.29 549.5 458.47 551 458.32 552.5 458.31 554 458.45 555.5 458.47 557 458.24 558.5 458.35 560 458.44 561.5 458.36 563 458.43 564.5 458.26 566 458.35 567.5 458.47 569 458.25 570.5 458.47 572 458.42 573.5 458.49 575 458.28 576.5 458.47 578 458.34 579.5 458.47 581 458.36 582.5 458.29 584 458.34 585.5 458.36 587 458.35 588.5 458.37 590 458.32 591.5 458.47 593 458.36 594.5 458.43 596 458.24 597.5 458.22 599 458.48 600.5 458.46 602 458.29 603.5 458.33 605 458.49 606.5 458.29 608 458.22 609.5 458.37 611 458.4 612.5 458.33 614 458.22 615.5 458.42 617 458.41 618.5 458.44 620 458.31 621.5 458.36 623 458.42 624.5 458.38 626 458.49 627.5 458.41 629 458.21 630.5 458.32 632 458.42 633.5 458.22 635 458.39 636.5 458.42 638 458.49 639.5 458.46 641 458.44 642.5 458.43 644 458.24 645.5 458.42 647 458.43 648.5 458.32 650 458.22 651.5 458.41 653 458.27 654.5 458.39 656 458.33 657.5 458.32 659 458.22 660.5 458.27 662 458.35 663.5 458.25 665 458.39 666.5 458.38 668 458.21 669.5 458.34 671 458.27 672.5 458.41 674 458.23 675.5 458.32 677 458.43 678.5 458.22 680 458.36 681.5 458.4 683 458.42 684.5 458.47 686 458.44 687.5 458.29 689 458.46 690.5 458.42 692 458.37 693.5 458.34 695 458.39 696.5 458.26 698 458.42 699.5 458.39 701 458.37 702.5 458.46 704 458.43 705.5 458.46 707 458.28 708.5 458.46 710 458.3 711.5 458.43 713 458.31 714.5 458.3 716 458.39 717.5 458.22 719 458.3 720.5 458.33 722 458.49 723.5 458.38 725 458.42 726.5 458.36 728 458.22 729.5 458.24 731 458.48 732.5 458.3 734 458.22 735.5 458.34 737 458.47 738.5 458.24 740 458.37 741.5 458.21 743 458.24 744.5 458.25 746 458.22 747.5 458.48 749 458.26 750.5 458.41 752 458.46 753.5 458.39 755 458.32 756.5 458.5 758 458.37 759.5 458.26 761 458.35 762.5 458.34 764 458.41 765.5 458.21 767 458.43 768.5 458.3 770 458.31 771.5 458.5 773 458.2 774.5 458.43 776 458.2 777.5 458.22 779 458.23 780.5 458.24 782 458.38 783.5 458.37 785 458.4 786.5 458.22 788 458.49 789.5 458.46 791 458.21 792.5 458.26 794 458.29 795.5 458.21 797 458.34 798.5 458.25 798.7 458.37 798.7 462.09 798.5 462.13 797 462.1 795.5 462.29 794 462.01 792.5 462.19 791 462.04 789.5 462.09 788 462.27 786.5 462.15 785 462.28 783.5 462.28 782 462.29 780.5 462.19 779 462.21 777.5 462.14 776 462.27 774.5 462.01 773 462.07 771.5 462.14 770 462.28 768.5 462.15 767 462.13 765.5 462.25 764 462 762.5 462.24 761 462.24 759.5 462.07 758 462.29 756.5 462.07 755 462.17 753.5 462.27 752 462.09 750.5 462.2 749 462.22 747.5 462 746 462.07 744.5 462.08 743 462.06 741.5 462.06 740 462.19 738.5 462.07 737 462.04 735.5 462.29 734 462.05 732.5 462.09 731 462.07 729.5 462.09 728 462.21 726.5 462.16 725 462.28 723.5 462.05 722 462.28 720.5 462.21 719 462.29 717.5 462.17 716 462.25 714.5 462.1 713 462.13 711.5 462.29 710 462.05 708.5 462.13 707 462.27 705.5 462.28 704 462.23 702.5 462.15 701 462.03 699.5 462.07 698 462.11 696.5 462.02 695 462 693.5 462.14 692 462.01 690.5 462.19 689 462.23 687.5 462.29 686 462.14 684.5 462.08 683 462.1 681.5 462.27 680 462.11 678.5 462.29 677 462.2 675.5 462.02 674 462.12 672.5 462.14 671 462.14 669.5 462.03 668 462.27 666.5 462.07 665 462.17 663.5 462.03 662 462.22 660.5 462.02 659 462.25 657.5 462.19 656 462.26 654.5 462.04 653 462.16 651.5 462.11 650 462.23 648.5 462.16 647 462.06 645.5 462.18 644 462.07 642.5 462.25 641 462.25 639.5 462.02 638 462.23 636.5 462.23 635 462.13 633.5 462.23 632 462.03 630.5 462.18 629 462.12 627.5 462.07 626 462.25 624.5 462.03 623 462.24 621.5 462.06 620 462.05 618.5 462.27 617 462.09 615.5 462 614 462.13 612.5 462.3 611 462.25 609.5 462.11 608 462.17 606.5 462.26 605 462.11 603.5 462.11 602 462.18 600.5 462.14 599 462.12 597.5 462.09 596 462.27 594.5 462.18 593 462.04 591.5 462.02 590 462.15 588.5 462.01 587 462.24 585.5 462.05 584 462.29 582.5 462.11 581 462.19 579.5 462.15 578 462.2 576.5 462.16 575 462.05 573.5 462.16 572 462.27 570.5 462.08 569 462.26 567.5 462.04 566 462.19 564.5 462.05 563 462.09 561.5 462.25 560 462.15 558.5 462.1 557 462.23 555.5 462.14 554 462.18 552.5 462.12 551 462.21 549.5 462.11 548 462.06 546.5 462.21 545 462.19 543.5 462.22 542 462.07 540.5 462.13 539 462.23 537.5 462.19 536 462.21 534.5 462.2 533 462.01 531.5 462.17 530 462.26 528.5 462.03 527 462.07 525.5 462.26 524 462.08 522.5 462.07 521 462.07 519.5 462.04 518 462.16 516.5 462.12 515 462.14 513.5 462.26 512 462.01 510.5 462.06 509 462.13 507.5 462.29 506 462.2 504.5 462.13 503 462.24 501.5 462.17 500 462.13 498.5 462.02 497 462.27Z" fill="#ffa500"/>
<path d="M670.7 459 671.5 441.5 673.3 441.5 674.1 459Z" fill="#ffa500"/>
<path d="M672.4 379.0l1.45 1.45l-1.45 1.45l-1.45 -1.45ZM672.4 404.6l1.45 1.45l-1.45 1.45l-1.45 -1.45ZM672.4 376.3l1.45 1.45l-1.45 1.45l-1.45 -1.45ZM672.4 389.4l1.45 1.45l-1.45 1.45l-1.45 -1.45ZM672.4 391.9l1.45 1.45l-1.45 1.45l-1.45 -1.45ZM672.4 436.3l1.45 1.45l-1.45 1.45l-1.45 -1.45ZM672.4 407.2l1.45 1.45l-1.45 1.45l-1.45 -1.45ZM672.4 435.5l1.45 1.45l-1.45 1.45l-1.45 -1.45ZM672.4 391.8l1.45 1.45l-1.45 1.45l-1.45 -1.45ZM672.4 398.4l1.45 1.45l-1.45 1.45l-1.45 -1.45ZM672.4 384.0l1.45 1.45l-1.45 1.45l-1.45 -1.45ZM672.4 436.5l1.45 1.45l-1.45 1.45l-1.45 -1.45ZM672.4 428.5l1.45 1.45l-1.45 1.45l-1.45 -1.45ZM672.4 419.2l1.45 1.45l-1.45 1.45l-1.45 -1.45ZM672.4 418.8l1.45 1.45l-1.45 1.45l-1.45 -1.45ZM672.4 412.8l1.45 1.45l-1.45 1.45l-1.45 -1.45ZM672.4 391.2l1.45 1.45l-1.45 1.45l-1.45 -1.45ZM672.4 424.3l1.45 1.45l-1.45 1.45l-1.45 -1.45ZM672.4 440.0l1.45 1.45l-1.45 1.45l-1.45 -1.45ZM672.4 438.1l1.45 1.45l-1.45 1.45l-1.45 -1.45ZM672.4 408.8l1.45 1.45l-1.45 1.45l-1.45 -1.45ZM672.4 434.7l1.45 1.45l-1.45 1.45l-1.45 -1.45ZM672.4 388.5l1.45 1.45l-1.45 1.45l-1.45 -1.45ZM672.4 439.2l1.45 1.45l-1.45 1.45l-1.45 -1.45ZM672.4 425.7l1.45 1.45l-1.45 1.45l-1.45 -1.45ZM672.4 419.9l1.45 1.45l-1.45 1.45l-1.45 -1.45ZM672.4 423.5l1.45 1.45l-1.45 1.45l-1.45 -1.45ZM672.4 381.2l1.45 1.45l-1.45 1.45l-1.45 -1.45ZM672.4 436.4l1.45 1.45l-1.45 1.45l-1.45 -1.45ZM672.4 395.5l1.45 1.45l-1.45 1.45l-1.45 -1.45ZM672.4 386.4l1.45 1.45l-1.45 1.45l-1.45 -1.45ZM672.4 427.3l1.45 1.45l-1.45 1.45l-1.45 -1.45ZM672.4 386.1l1.45 1.45l-1.45 1.45l-1.45 -1.45ZM672.4 425.3l1.45 1.45l-1.45 1.45l-1.45 -1.45ZM672.4 424.2l1.45 1.45l-1.45 1.45l-1.45 -1.45ZM672.4 393.8l1.45 1.45l-1.45 1.45l-1.45 -1.45ZM672.4 404.1l1.45 1.45l-1.45 1.45l-1.45 -1.45ZM672.4 439.9l1.45 1.45l-1.45 1.45l-1.45 -1.45ZM672.4 381.6l1.45 1.45l-1.45 1.45l-1.45 -1.45ZM672.4 423.7l1.45 1.45l-1.45 1.45l-1.45 -1.45Z" fill="#ffa500" fill-opacity="0.1" stroke="#ffa500" stroke-width="0.7" stroke-opacity="0.2"/>
</g>
<clipPath id="c30"><rect x="89.5" y="522.5" width="330" height="102.9"/></clipPath>
<g clip-path="url(#c30)">
<path d="M106 561.67 107.5 561.57 109 561.62 110.5 561.6 112 561.63 113.5 560.61 115 560.18 116.5 560.39 118 561.99 119.5 560.67 121 559.58 122.5 560.27 124 560.81 125.5 561.92 127 561.49 128.5 561.34 130 561.97 131.5 561.4 133 561.47 134.5 561.6 136 562.18 137.5 561.79 139 561.64 140.5 561.93 142 562 143.5 561.92 145 561.97 146.5 561.49 148 561.89 149.5 561.82 151 561.62 152.5 561.35 154 561.94 155.5 562.16 157 561.32 158.5 561.45 160 561.49 161.5 561.73 163 561.99 164.5 562.06 166 561.93 167.5 561.79 169 562.14 170.5 561.57 172 561.54 173.5 562.19 175 561.44 176.5 561.76 178 561.37 179.5 561.77 181 561.48 182.5 561.79 184 561.65 185.5 561.75 187 562.18 188.5 562.07 190 561.99 191.5 561.83 193 561.87 194.5 561.71 196 561.61 197.5 561.84 199 561.91 200.5 561.74 202 561.34 203.5 561.5 205 561.61 206.5 561.46 208 561.99 209.5 562.11 211 562.12 212.5 562.09 214 562.19 215.5 561.64 217 561.37 218.5 562.1 220 561.58 221.5 561.1 223 560 224.5 559.29 226 557.6 227.5 557.44 229 557.88 230.5 558.39 232 558.3 233.5 558.31 235 559.41 236.5 559.59 238 559.6 239.5 560.14 241 559.98 242.5 559.97 244 560.44 245.5 561 247 561.13 248.5 561.1 250 560.8 251.5 560.69 253 561.19 254.5 561.67 256 561.61 257.5 561.43 259 561.71 260.5 561.71 262 561.43 263.5 561.07 265 561.62 266.5 561.04 268 561.05 269.5 561.45 271 561.65 272.5 561.69 274 561.26 275.5 561.12 277 561.09 278.5 561.68 280 561.49 281.5 561.86 283 561.61 284.5 561.62 286 561.78 287.5 561.83 289 561.01 290.5 561.63 292 561.46 293.5 561.43 295 561.49 296.5 561.39 298 561.48 299.5 561.49 301 561.87 302.5 561.37 304 561.34 305.5 561.3 307 561.67 308.5 561.54 310 561.24 311.5 561.31 313 561.93 314.5 561.68 316 561.83 317.5 561.35 319 561.63 320.5 561.64 322 561.8 323.5 561.82 325 561.8 326.5 562.11 328 562.7 329.5 562.77 331 562.79 332.5 563.53 334 562.99 335.5 564 337 563.69 338.5 564.24 340 563.43 341.5 563.58 343 563.92 344.5 563.58 346 563.19 347.5 563.1 349 563.18 350.5 563.12 352 562.94 353.5 562.7 355 563.04 356.5 562.96 358 562.81 359.5 563.08 361 563.35 362.5 563.03 364 563.25 365.5 562.93 367 562.91 368.5 562.78 370 563.51 371.5 563.6 373 562.79 374.5 562.98 376 562.75 377.5 562.92 379 562.81 380.5 563.54 382 563.52 383.5 563.15 385 563.02 386.5 563.61 388 562.87 389.5 563.53 391 563.56 392.5 563.36 394 563.6 395.5 563.7 397 563.72 398.5 563.77 400 563.76 401 563.39 401 571.3 400 570.88 398.5 570.85 397 570.99 395.5 570.56 394 570.37 392.5 570.94 391 570.29 389.5 570.23 388 570.83 386.5 570.53 385 570.1 383.5 570.5 382 570.48 380.5 570.7 379 570.08 377.5 570 376 570.23 374.5 570.38 373 569.98 371.5 570.51 370 570.54 368.5 570.57 367 569.71 365.5 570.05 364 569.87 362.5 570.28 361 570.18 359.5 569.96 358 569.85 356.5 570.29 355 569.63 353.5 569.98 352 570.5 350.5 570.02 349 570.02 347.5 569.9 346 569.97 344.5 570.51 343 570.75 341.5 570.68 340 570.82 338.5 570.74 337 570.6 335.5 570.89 334 569.77 332.5 569.52 331 569.75 329.5 569.43 328 569.08 326.5 568.89 325 569 323.5 568.75 322 568.1 320.5 568.59 319 568.6 317.5 568.62 316 568 314.5 567.84 313 568.32 311.5 568.42 310 568.56 308.5 568.41 307 568.29 305.5 567.83 304 568.56 302.5 568.54 301 568.02 299.5 567.83 298 567.86 296.5 567.92 295 568.19 293.5 568.47 292 568.06 290.5 567.99 289 567.71 287.5 567.97 286 567.81 284.5 567.64 283 567.57 281.5 567.88 280 568 278.5 567.64 277 567.77 275.5 568.19 274 567.6 272.5 567.52 271 567.5 269.5 567.56 268 567.51 266.5 568.13 265 567.64 263.5 567.59 262 568.12 260.5 567.69 259 567.8 257.5 567.57 256 567.69 254.5 568.06 253 568.03 251.5 568.06 250 567.85 248.5 567.68 247 567.61 245.5 567.2 244 567.45 242.5 567.22 241 566.94 239.5 566.19 238 565.61 236.5 565.45 235 565 233.5 564.95 232 564.91 230.5 563.76 229 563.84 227.5 563.02 226 562.99 224.5 562.02 223 564.51 221.5 567.14 220 567.73 218.5 568.42 217 568.58 215.5 568.31 214 568.01 212.5 567.98 211 568.56 209.5 568.49 208 567.84 206.5 568.43 205 568.18 203.5 568.65 202 568.07 200.5 568.08 199 568.37 197.5 568.65 196 568.45 194.5 567.91 193 568.21 191.5 568.4 190 568.12 188.5 568.26 187 568.01 185.5 568.16 184 568.42 182.5 568.45 181 568.19 179.5 568.79 178 568.41 176.5 568.4 175 568.75 173.5 567.99 172 568.71 170.5 568.33 169 568.85 167.5 568.53 166 568.51 164.5 568.17 163 568.8 161.5 568.16 160 568.89 158.5 568.15 157 568.87 155.5 568.44 154 568.81 152.5 568.42 151 568.1 149.5 568.12 148 568.23 146.5 568.95 145 568.47 143.5 568.69 142 568.43 140.5 569.01 139 568.17 137.5 568.63 136 568.8 134.5 568.52 133 568.69 131.5 568.87 130 568.54 128.5 569.04 127 568.26 125.5 568.37 124 568.27 122.5 568.68 121 569.1 119.5 568.69 118 568.95 116.5 568.8 115 569.15 113.5 569.64 112 569.06 110.5 569.72 109 569.5 107.5 569.91 106 570Z" fill="#0000ff"/>
<path d="M105 593.5 105.2 573 106 562 108.2 562 107.9 573 107.8 593.5Z" fill="#0000ff"/>
<path d="M104.2 591 105.5 589.5 108.2 590.5 108 593.5 105.8 594.2 104.2 593Z" fill="#0000ff"/>
<path d="M166 562.5 168.7 559.8 171 562.5Z" fill="#0000ff"/>
<path d="M221.2 567.5 221.2 551.2 222.2 551 222.4 531.5 223.5 530.3 224.6 531.5 224.8 551 226.8 551.5 226.8 562 224 563Z" fill="#0000ff"/>
<rect x="283.2" y="557.7" width="2.8" height="6" fill="#0000ff"/>
<rect x="399.4" y="569" width="1.6" height="23.5" fill="#0000ff" fill-opacity="0.22"/>
<path d="M400.2 580.3l1.45 1.45l-1.45 1.45l-1.45 -1.45ZM400.2 590.2l1.45 1.45l-1.45 1.45l-1.45 -1.45ZM400.2 585.8l1.45 1.45l-1.45 1.45l-1.45 -1.45ZM400.2 583.4l1.45 1.45l-1.45 1.45l-1.45 -1.45ZM400.2 569.2l1.45 1.45l-1.45 1.45l-1.45 -1.45ZM400.2 585.3l1.45 1.45l-1.45 1.45l-1.45 -1.45ZM400.2 579.8l1.45 1.45l-1.45 1.45l-1.45 -1.45ZM400.2 587.6l1.45 1.45l-1.45 1.45l-1.45 -1.45ZM400.2 577.6l1.45 1.45l-1.45 1.45l-1.45 -1.45ZM400.2 569.9l1.45 1.45l-1.45 1.45l-1.45 -1.45ZM400.2 588.2l1.45 1.45l-1.45 1.45l-1.45 -1.45ZM400.2 584.4l1.45 1.45l-1.45 1.45l-1.45 -1.45Z" fill="#0000ff" fill-opacity="0.1" stroke="#0000ff" stroke-width="0.7" stroke-opacity="0.16"/>
</g>
<clipPath id="c31"><rect x="482.5" y="522.5" width="330" height="102.9"/></clipPath>
<g clip-path="url(#c31)">
<linearGradient id="g1" x1="0" y1="0" x2="0" y2="1"><stop offset="0" stop-color="#ffa500" stop-opacity="0"/><stop offset="0.55" stop-color="#ffa500" stop-opacity="0.31"/><stop offset="1" stop-color="#ffa500" stop-opacity="0.78"/></linearGradient>
<path d="M498.5 540 502.19 540 505.88 540 509.57 540 513.25 540 516.94 540 520.63 540 524.32 540 528.01 540 531.7 540 535.39 540 539.08 540 542.76 540 546.45 540 550.14 540 553.83 540 557.52 540 561.21 540 564.9 540 568.59 540 572.27 540 575.96 540 579.65 540 583.34 540 587.03 540 590.72 540 594.41 540 598.1 540 601.78 540 605.47 540 609.16 540 612.85 540 616.54 540 620.23 540 623.92 540 627.61 540 631.3 540 634.98 540 638.67 540 642.36 540 646.05 540 649.74 540 653.43 540 657.12 540 660.81 540 664.49 540 668.18 540 671.87 540 675.56 540 679.25 540 682.94 540 686.63 540 690.32 540 694 540 697.69 540 701.38 540 705.07 540 708.76 540 712.45 540 716.14 540 719.83 540 723.51 540 727.2 540 730.89 540 734.58 540 738.27 540 741.96 540 745.65 540 749.34 540 753.02 540 756.71 540 760.4 540 764.09 540 767.78 540 771.47 540 775.16 540 778.85 540 782.53 540 786.22 540 789.91 540 793.6 540 793.6 531.07 789.91 530.72 786.22 530.83 782.53 530.96 778.85 530.56 775.16 529.46 771.47 528.06 767.78 527.04 764.09 526.94 760.4 527.71 756.71 528.81 753.02 529.61 749.34 529.87 745.65 529.89 741.96 530.2 738.27 531.1 734.58 532.35 730.89 533.35 727.2 533.54 723.51 532.89 719.83 531.87 716.14 531.2 712.45 531.25 708.76 531.84 705.07 532.42 701.38 532.51 697.69 532.11 694 531.68 690.32 531.75 686.63 532.47 682.94 533.45 679.25 533.99 675.56 533.62 671.87 532.46 668.18 531.06 664.49 530.08 660.81 529.72 657.12 529.69 653.43 529.45 649.74 528.72 646.05 527.73 642.36 527.1 638.67 527.32 634.98 528.4 631.3 529.8 627.61 530.82 623.92 531.07 620.23 530.78 616.54 530.5 612.85 530.7 609.16 531.35 605.47 531.98 601.78 532.05 598.1 531.44 594.41 530.57 590.72 530.13 587.03 530.54 583.34 531.66 579.65 532.89 575.96 533.6 572.27 533.6 568.59 533.24 564.9 533.06 561.21 533.35 557.52 533.85 553.83 533.99 550.14 533.29 546.45 531.82 542.76 530.16 539.08 529.01 535.39 528.71 531.7 529.02 528.01 529.35 524.32 529.26 520.63 528.79 516.94 528.41 513.25 528.63 509.57 529.54 505.88 530.68 502.19 531.38 498.5 531.22Z" fill="url(#g1)"/>
<linearGradient id="g2" x1="0" y1="0" x2="0" y2="1"><stop offset="0" stop-color="#ffa500" stop-opacity="0.78"/><stop offset="0.45" stop-color="#ffa500" stop-opacity="0.31"/><stop offset="1" stop-color="#ffa500" stop-opacity="0"/></linearGradient>
<path d="M498.5 592 502.19 592 505.88 592 509.57 592 513.25 592 516.94 592 520.63 592 524.32 592 528.01 592 531.7 592 535.39 592 539.08 592 542.76 592 546.45 592 550.14 592 553.83 592 557.52 592 561.21 592 564.9 592 568.59 592 572.27 592 575.96 592 579.65 592 583.34 592 587.03 592 590.72 592 594.41 592 598.1 592 601.78 592 605.47 592 609.16 592 612.85 592 616.54 592 620.23 592 623.92 592 627.61 592 631.3 592 634.98 592 638.67 592 642.36 592 646.05 592 649.74 592 653.43 592 657.12 592 660.81 592 664.49 592 668.18 592 671.87 592 675.56 592 679.25 592 682.94 592 686.63 592 690.32 592 694 592 697.69 592 701.38 592 705.07 592 708.76 592 712.45 592 716.14 592 719.83 592 723.51 592 727.2 592 730.89 592 734.58 592 738.27 592 741.96 592 745.65 592 749.34 592 753.02 592 756.71 592 760.4 592 764.09 592 767.78 592 771.47 592 775.16 592 778.85 592 782.53 592 786.22 592 789.91 592 793.6 592 793.6 600.37 789.91 601.13 786.22 601.14 782.53 600.36 778.85 599.27 775.16 598.58 771.47 598.65 767.78 599.29 764.09 599.96 760.4 600.21 756.71 600.05 753.02 599.97 749.34 600.51 745.65 601.79 741.96 603.37 738.27 604.55 734.58 604.82 730.89 604.27 727.2 603.43 723.51 602.91 719.83 602.88 716.14 603 712.45 602.75 708.76 601.86 705.07 600.6 701.38 599.61 697.69 599.43 694 600.06 690.32 600.98 686.63 601.51 682.94 601.31 679.25 600.6 675.56 599.95 671.87 599.8 668.18 600.1 664.49 600.37 660.81 600.07 657.12 599.12 653.43 597.96 649.74 597.28 646.05 597.54 642.36 598.59 638.67 599.86 634.98 600.74 631.3 601.05 627.61 601.15 623.92 601.55 620.23 602.5 616.54 603.7 612.85 604.51 609.16 604.44 605.47 603.53 601.78 602.34 598.1 601.56 594.41 601.49 590.72 601.91 587.03 602.23 583.34 602.04 579.65 601.41 575.96 600.84 572.27 600.86 568.59 601.53 564.9 602.39 561.21 602.77 557.52 602.26 553.83 601.04 550.14 599.74 546.45 598.94 542.76 598.81 539.08 598.95 535.39 598.85 531.7 598.28 528.01 597.54 524.32 597.23 520.63 597.82 516.94 599.2 513.25 600.77 509.57 601.85 505.88 602.13 502.19 601.89 498.5 601.71Z" fill="url(#g2)"/>
<path d="M498.5 539.67 500 538.62 501.5 538.73 503 539.04 504.5 539.57 506 538.41 507.5 538.38 509 538.98 510.5 538.99 512 539.53 513.5 539.99 515 539.26 516.5 538.83 518 539.86 519.5 538.41 521 539.54 522.5 539.53 524 539.92 525.5 538 527 538.52 528.5 538.25 530 538.77 531.5 539.93 533 539.34 534.5 539 536 539.77 537.5 538.1 539 539.26 540.5 539.69 542 538.36 543.5 539.75 545 538.14 546.5 539.09 548 538.9 549.5 539.31 551 539.03 552.5 539.63 554 539.93 555.5 538.27 557 539.53 558.5 538.44 560 539.58 561.5 538.06 563 538.21 564.5 538.49 566 538.47 567.5 538.84 569 538.54 570.5 539.76 572 539.05 573.5 538.35 575 539.6 576.5 538.15 578 538.22 579.5 539.18 581 539.27 582.5 539.1 584 539.23 585.5 538.01 587 539.23 588.5 539.95 590 539.81 591.5 538.56 593 538.01 594.5 539.01 596 539.02 597.5 538.9 599 538.5 600.5 539.56 602 538.78 603.5 538.89 605 538.75 606.5 539.64 608 539.66 609.5 539.3 611 538.15 612.5 539.31 614 538.81 615.5 539.39 617 539.79 618.5 539.87 620 538.37 621.5 538.45 623 539.25 624.5 538.63 626 538.65 627.5 538.2 629 538.08 630.5 539.19 632 538.02 633.5 538.08 635 538.82 636.5 538.23 638 539.02 639.5 539.25 641 539.51 642.5 538.25 644 539.68 645.5 539.86 647 538.39 648.5 538.45 650 539.03 651.5 538.33 653 539.9 654.5 539.48 656 539.42 657.5 539.16 659 539.66 660.5 539.86 662 539.32 663.5 538.2 665 538.03 666.5 538.51 668 539.04 669.5 539.5 671 538.08 672.5 538.95 674 538.54 675.5 539.94 677 539.58 678.5 538.32 680 538.41 681.5 538.24 683 538.8 684.5 539.15 686 538.84 687.5 538.3 689 539.38 690.5 538.93 692 539.45 693.5 538.46 695 539.98 696.5 538.63 698 538.09 699.5 539.95 701 538.81 702.5 538.71 704 538.3 705.5 538.83 707 539.49 708.5 539.19 710 538.08 711.5 538.19 713 539.73 714.5 539.81 716 539.81 717.5 539.95 719 539.11 720.5 539.72 722 538.27 723.5 538.69 725 539.75 726.5 538.92 728 539.35 729.5 539.01 731 539.56 732.5 539.67 734 539.63 735.5 539.24 737 538.58 738.5 538.9 740 539.91 741.5 538.58 743 538.25 744.5 538.45 746 538.42 747.5 539.98 749 539.07 750.5 539.87 752 538.47 753.5 539.65 755 538.58 756.5 539.49 758 538.61 759.5 539.37 761 539.92 762.5 539.22 764 539.38 765.5 538.2 767 539.41 768.5 538.99 770 538.9 771.5 538.1 773 539.8 774.5 538.8 776 538.98 777.5 538.53 779 538.07 780.5 539.38 782 538.6 783.5 538.95 785 538.88 786.5 539.87 788 538.37 789.5 538.05 791 539.29 792.5 539.36 793.6 538.01 793.6 593.08 792.5 592.36 791 592.81 789.5 592.17 788 592.72 786.5 593.77 785 593.48 783.5 593.55 782 593.11 780.5 594 779 592.41 777.5 593.76 776 593.07 774.5 593.86 773 592.32 771.5 593.29 770 593.51 768.5 593.21 767 593.23 765.5 592.7 764 592.02 762.5 593.59 761 593.87 759.5 593.88 758 592.78 756.5 593.94 755 593.82 753.5 593.07 752 593.81 750.5 593.56 749 592.43 747.5 593.36 746 593.81 744.5 593.61 743 593.7 741.5 592.32 740 592.99 738.5 593.42 737 592.35 735.5 593.26 734 593.07 732.5 592.7 731 592.08 729.5 592.43 728 593.65 726.5 592.16 725 593.05 723.5 593.46 722 593.38 720.5 592.82 719 593.08 717.5 593.86 716 592.21 714.5 592.32 713 593.31 711.5 593.36 710 592.99 708.5 592.07 707 592.12 705.5 592.54 704 592.38 702.5 593.36 701 593.02 699.5 592.14 698 592.14 696.5 593.78 695 593.25 693.5 592.6 692 592.71 690.5 592.54 689 592.68 687.5 593.6 686 592.94 684.5 593.24 683 593.21 681.5 593.63 680 592.12 678.5 592.38 677 593.52 675.5 593.49 674 593.8 672.5 592.16 671 593.16 669.5 592.04 668 593.77 666.5 593.85 665 593.69 663.5 593.6 662 592.45 660.5 593.1 659 592.81 657.5 592.38 656 592.1 654.5 593.06 653 593.64 651.5 593.58 650 592.27 648.5 592.74 647 593.79 645.5 592.91 644 592.62 642.5 592.19 641 593.09 639.5 592.02 638 592.48 636.5 593.4 635 593.22 633.5 592.08 632 593 630.5 592.04 629 593.41 627.5 593.87 626 593.62 624.5 592.07 623 593.92 621.5 592.38 620 592.54 618.5 592.77 617 592.35 615.5 592.56 614 593.23 612.5 592.87 611 592.93 609.5 593.88 608 592.76 606.5 592.55 605 593.2 603.5 592.4 602 593.36 600.5 592.31 599 593.69 597.5 592.51 596 592.64 594.5 593.9 593 592.52 591.5 593.36 590 593.28 588.5 592.67 587 592.41 585.5 593.41 584 593.91 582.5 592.22 581 592.92 579.5 593.48 578 593.89 576.5 592.61 575 592.16 573.5 593.11 572 592.29 570.5 592.78 569 592.62 567.5 592.63 566 592.01 564.5 593.98 563 593.93 561.5 593.65 560 593.23 558.5 592.77 557 593.83 555.5 592.49 554 593.37 552.5 593.4 551 593.72 549.5 593.34 548 593.52 546.5 593.25 545 593.56 543.5 593.78 542 593.43 540.5 592.98 539 592.96 537.5 592.17 536 593.93 534.5 593.26 533 592.97 531.5 592.77 530 592.47 528.5 592.91 527 593.45 525.5 593.63 524 593.41 522.5 592.49 521 592.87 519.5 592.1 518 592.45 516.5 592.8 515 592.78 513.5 593.03 512 592.89 510.5 593.29 509 592.04 507.5 593.24 506 592.9 504.5 593.52 503 593.63 501.5 592.15 500 592.15 498.5 592.22Z" fill="#ffa500"/>
<path d="M736.0 535.7l1.4 1.4l-1.4 1.4l-1.4 -1.4ZM736.0 594.0l1.4 1.4l-1.4 1.4l-1.4 -1.4ZM569.0 538.6l1.4 1.4l-1.4 1.4l-1.4 -1.4ZM569.0 592.8l1.4 1.4l-1.4 1.4l-1.4 -1.4ZM671.0 538.3l1.4 1.4l-1.4 1.4l-1.4 -1.4ZM671.0 598.2l1.4 1.4l-1.4 1.4l-1.4 -1.4ZM567.8 537.5l1.4 1.4l-1.4 1.4l-1.4 -1.4ZM567.8 590.8l1.4 1.4l-1.4 1.4l-1.4 -1.4ZM791.4 533.2l1.4 1.4l-1.4 1.4l-1.4 -1.4ZM791.4 600.6l1.4 1.4l-1.4 1.4l-1.4 -1.4ZM679.9 538.5l1.4 1.4l-1.4 1.4l-1.4 -1.4ZM679.9 592.5l1.4 1.4l-1.4 1.4l-1.4 -1.4ZM645.3 538.1l1.4 1.4l-1.4 1.4l-1.4 -1.4ZM645.3 605.2l1.4 1.4l-1.4 1.4l-1.4 -1.4ZM607.6 537.9l1.4 1.4l-1.4 1.4l-1.4 -1.4ZM607.6 598.8l1.4 1.4l-1.4 1.4l-1.4 -1.4ZM536.5 528.1l1.4 1.4l-1.4 1.4l-1.4 -1.4ZM536.5 593.5l1.4 1.4l-1.4 1.4l-1.4 -1.4ZM661.2 536.9l1.4 1.4l-1.4 1.4l-1.4 -1.4ZM661.2 593.8l1.4 1.4l-1.4 1.4l-1.4 -1.4ZM554.6 538.4l1.4 1.4l-1.4 1.4l-1.4 -1.4ZM554.6 600.2l1.4 1.4l-1.4 1.4l-1.4 -1.4ZM568.6 532.5l1.4 1.4l-1.4 1.4l-1.4 -1.4ZM568.6 591.7l1.4 1.4l-1.4 1.4l-1.4 -1.4ZM783.0 529.6l1.4 1.4l-1.4 1.4l-1.4 -1.4ZM783.0 597.3l1.4 1.4l-1.4 1.4l-1.4 -1.4ZM722.8 535.1l1.4 1.4l-1.4 1.4l-1.4 -1.4ZM722.8 596.9l1.4 1.4l-1.4 1.4l-1.4 -1.4ZM535.8 536.0l1.4 1.4l-1.4 1.4l-1.4 -1.4ZM535.8 599.0l1.4 1.4l-1.4 1.4l-1.4 -1.4ZM558.7 528.3l1.4 1.4l-1.4 1.4l-1.4 -1.4ZM558.7 601.1l1.4 1.4l-1.4 1.4l-1.4 -1.4ZM619.6 536.8l1.4 1.4l-1.4 1.4l-1.4 -1.4ZM619.6 593.5l1.4 1.4l-1.4 1.4l-1.4 -1.4ZM612.7 517.5l1.4 1.4l-1.4 1.4l-1.4 -1.4ZM612.7 592.9l1.4 1.4l-1.4 1.4l-1.4 -1.4ZM507.8 538.2l1.4 1.4l-1.4 1.4l-1.4 -1.4ZM507.8 596.7l1.4 1.4l-1.4 1.4l-1.4 -1.4ZM790.0 535.9l1.4 1.4l-1.4 1.4l-1.4 -1.4ZM790.0 593.8l1.4 1.4l-1.4 1.4l-1.4 -1.4ZM660.8 533.1l1.4 1.4l-1.4 1.4l-1.4 -1.4ZM660.8 591.8l1.4 1.4l-1.4 1.4l-1.4 -1.4ZM677.9 535.3l1.4 1.4l-1.4 1.4l-1.4 -1.4ZM677.9 595.3l1.4 1.4l-1.4 1.4l-1.4 -1.4ZM552.8 537.9l1.4 1.4l-1.4 1.4l-1.4 -1.4ZM552.8 592.7l1.4 1.4l-1.4 1.4l-1.4 -1.4ZM770.8 536.9l1.4 1.4l-1.4 1.4l-1.4 -1.4ZM770.8 595.0l1.4 1.4l-1.4 1.4l-1.4 -1.4ZM589.6 538.2l1.4 1.4l-1.4 1.4l-1.4 -1.4ZM589.6 590.9l1.4 1.4l-1.4 1.4l-1.4 -1.4ZM737.7 532.6l1.4 1.4l-1.4 1.4l-1.4 -1.4ZM737.7 592.9l1.4 1.4l-1.4 1.4l-1.4 -1.4ZM699.6 534.1l1.4 1.4l-1.4 1.4l-1.4 -1.4ZM699.6 601.6l1.4 1.4l-1.4 1.4l-1.4 -1.4ZM779.9 536.5l1.4 1.4l-1.4 1.4l-1.4 -1.4ZM779.9 612.3l1.4 1.4l-1.4 1.4l-1.4 -1.4ZM780.8 535.0l1.4 1.4l-1.4 1.4l-1.4 -1.4ZM780.8 600.9l1.4 1.4l-1.4 1.4l-1.4 -1.4ZM643.4 536.7l1.4 1.4l-1.4 1.4l-1.4 -1.4ZM643.4 592.0l1.4 1.4l-1.4 1.4l-1.4 -1.4ZM755.9 537.9l1.4 1.4l-1.4 1.4l-1.4 -1.4ZM755.9 590.9l1.4 1.4l-1.4 1.4l-1.4 -1.4ZM735.2 532.7l1.4 1.4l-1.4 1.4l-1.4 -1.4ZM735.2 593.8l1.4 1.4l-1.4 1.4l-1.4 -1.4ZM744.5 538.4l1.4 1.4l-1.4 1.4l-1.4 -1.4ZM744.5 592.0l1.4 1.4l-1.4 1.4l-1.4 -1.4ZM584.7 536.4l1.4 1.4l-1.4 1.4l-1.4 -1.4ZM584.7 591.5l1.4 1.4l-1.4 1.4l-1.4 -1.4ZM520.3 536.9l1.4 1.4l-1.4 1.4l-1.4 -1.4ZM520.3 601.6l1.4 1.4l-1.4 1.4l-1.4 -1.4ZM787.3 533.1l1.4 1.4l-1.4 1.4l-1.4 -1.4ZM787.3 593.7l1.4 1.4l-1.4 1.4l-1.4 -1.4ZM573.7 525.8l1.4 1.4l-1.4 1.4l-1.4 -1.4ZM573.7 594.2l1.4 1.4l-1.4 1.4l-1.4 -1.4ZM712.8 538.5l1.4 1.4l-1.4 1.4l-1.4 -1.4ZM712.8 591.7l1.4 1.4l-1.4 1.4l-1.4 -1.4ZM744.9 532.3l1.4 1.4l-1.4 1.4l-1.4 -1.4ZM744.9 600.8l1.4 1.4l-1.4 1.4l-1.4 -1.4ZM675.7 536.4l1.4 1.4l-1.4 1.4l-1.4 -1.4ZM675.7 594.8l1.4 1.4l-1.4 1.4l-1.4 -1.4ZM748.1 537.1l1.4 1.4l-1.4 1.4l-1.4 -1.4ZM748.1 594.3l1.4 1.4l-1.4 1.4l-1.4 -1.4ZM580.6 532.8l1.4 1.4l-1.4 1.4l-1.4 -1.4ZM580.6 590.6l1.4 1.4l-1.4 1.4l-1.4 -1.4ZM700.2 526.3l1.4 1.4l-1.4 1.4l-1.4 -1.4ZM700.2 590.7l1.4 1.4l-1.4 1.4l-1.4 -1.4ZM673.4 534.5l1.4 1.4l-1.4 1.4l-1.4 -1.4ZM673.4 599.8l1.4 1.4l-1.4 1.4l-1.4 -1.4ZM670.7 537.4l1.4 1.4l-1.4 1.4l-1.4 -1.4ZM670.7 593.1l1.4 1.4l-1.4 1.4l-1.4 -1.4ZM780.0 529.2l1.4 1.4l-1.4 1.4l-1.4 -1.4ZM780.0 591.3l1.4 1.4l-1.4 1.4l-1.4 -1.4ZM527.7 538.2l1.4 1.4l-1.4 1.4l-1.4 -1.4ZM527.7 590.7l1.4 1.4l-1.4 1.4l-1.4 -1.4ZM630.5 538.0l1.4 1.4l-1.4 1.4l-1.4 -1.4ZM630.5 600.3l1.4 1.4l-1.4 1.4l-1.4 -1.4ZM691.4 538.1l1.4 1.4l-1.4 1.4l-1.4 -1.4ZM691.4 594.3l1.4 1.4l-1.4 1.4l-1.4 -1.4ZM594.7 535.9l1.4 1.4l-1.4 1.4l-1.4 -1.4ZM594.7 591.8l1.4 1.4l-1.4 1.4l-1.4 -1.4ZM548.5 537.8l1.4 1.4l-1.4 1.4l-1.4 -1.4ZM548.5 592.9l1.4 1.4l-1.4 1.4l-1.4 -1.4ZM707.4 535.4l1.4 1.4l-1.4 1.4l-1.4 -1.4ZM707.4 590.8l1.4 1.4l-1.4 1.4l-1.4 -1.4ZM707.6 530.3l1.4 1.4l-1.4 1.4l-1.4 -1.4ZM707.6 597.7l1.4 1.4l-1.4 1.4l-1.4 -1.4ZM731.0 538.6l1.4 1.4l-1.4 1.4l-1.4 -1.4ZM731.0 593.6l1.4 1.4l-1.4 1.4l-1.4 -1.4ZM518.5 532.8l1.4 1.4l-1.4 1.4l-1.4 -1.4ZM518.5 591.5l1.4 1.4l-1.4 1.4l-1.4 -1.4ZM707.8 537.4l1.4 1.4l-1.4 1.4l-1.4 -1.4ZM707.8 596.3l1.4 1.4l-1.4 1.4l-1.4 -1.4ZM591.6 538.4l1.4 1.4l-1.4 1.4l-1.4 -1.4ZM591.6 593.0l1.4 1.4l-1.4 1.4l-1.4 -1.4ZM590.4 529.4l1.4 1.4l-1.4 1.4l-1.4 -1.4ZM590.4 592.3l1.4 1.4l-1.4 1.4l-1.4 -1.4ZM647.0 535.4l1.4 1.4l-1.4 1.4l-1.4 -1.4ZM647.0 604.8l1.4 1.4l-1.4 1.4l-1.4 -1.4ZM528.8 534.9l1.4 1.4l-1.4 1.4l-1.4 -1.4ZM528.8 594.0l1.4 1.4l-1.4 1.4l-1.4 -1.4ZM714.6 524.9l1.4 1.4l-1.4 1.4l-1.4 -1.4ZM714.6 592.4l1.4 1.4l-1.4 1.4l-1.4 -1.4ZM704.3 535.6l1.4 1.4l-1.4 1.4l-1.4 -1.4ZM704.3 594.5l1.4 1.4l-1.4 1.4l-1.4 -1.4ZM518.6 531.9l1.4 1.4l-1.4 1.4l-1.4 -1.4ZM518.6 608.7l1.4 1.4l-1.4 1.4l-1.4 -1.4ZM603.8 537.1l1.4 1.4l-1.4 1.4l-1.4 -1.4ZM603.8 614.6l1.4 1.4l-1.4 1.4l-1.4 -1.4ZM531.4 538.3l1.4 1.4l-1.4 1.4l-1.4 -1.4ZM531.4 591.0l1.4 1.4l-1.4 1.4l-1.4 -1.4ZM737.9 532.9l1.4 1.4l-1.4 1.4l-1.4 -1.4ZM737.9 593.5l1.4 1.4l-1.4 1.4l-1.4 -1.4ZM681.5 538.5l1.4 1.4l-1.4 1.4l-1.4 -1.4ZM681.5 595.6l1.4 1.4l-1.4 1.4l-1.4 -1.4ZM629.3 535.7l1.4 1.4l-1.4 1.4l-1.4 -1.4ZM629.3 593.0l1.4 1.4l-1.4 1.4l-1.4 -1.4ZM617.3 537.6l1.4 1.4l-1.4 1.4l-1.4 -1.4ZM617.3 590.8l1.4 1.4l-1.4 1.4l-1.4 -1.4ZM626.7 537.5l1.4 1.4l-1.4 1.4l-1.4 -1.4ZM626.7 596.4l1.4 1.4l-1.4 1.4l-1.4 -1.4ZM738.7 533.5l1.4 1.4l-1.4 1.4l-1.4 -1.4ZM738.7 593.5l1.4 1.4l-1.4 1.4l-1.4 -1.4ZM569.1 536.7l1.4 1.4l-1.4 1.4l-1.4 -1.4ZM569.1 593.8l1.4 1.4l-1.4 1.4l-1.4 -1.4ZM684.6 525.4l1.4 1.4l-1.4 1.4l-1.4 -1.4ZM684.6 591.0l1.4 1.4l-1.4 1.4l-1.4 -1.4ZM640.1 535.9l1.4 1.4l-1.4 1.4l-1.4 -1.4ZM640.1 596.7l1.4 1.4l-1.4 1.4l-1.4 -1.4ZM760.1 532.6l1.4 1.4l-1.4 1.4l-1.4 -1.4ZM760.1 595.3l1.4 1.4l-1.4 1.4l-1.4 -1.4ZM721.6 534.2l1.4 1.4l-1.4 1.4l-1.4 -1.4ZM721.6 600.0l1.4 1.4l-1.4 1.4l-1.4 -1.4ZM704.2 534.0l1.4 1.4l-1.4 1.4l-1.4 -1.4ZM704.2 592.0l1.4 1.4l-1.4 1.4l-1.4 -1.4ZM767.8 536.6l1.4 1.4l-1.4 1.4l-1.4 -1.4ZM767.8 595.2l1.4 1.4l-1.4 1.4l-1.4 -1.4ZM740.9 525.3l1.4 1.4l-1.4 1.4l-1.4 -1.4ZM740.9 612.3l1.4 1.4l-1.4 1.4l-1.4 -1.4ZM501.9 537.1l1.4 1.4l-1.4 1.4l-1.4 -1.4ZM501.9 592.4l1.4 1.4l-1.4 1.4l-1.4 -1.4ZM614.3 538.0l1.4 1.4l-1.4 1.4l-1.4 -1.4ZM614.3 594.5l1.4 1.4l-1.4 1.4l-1.4 -1.4ZM523.2 537.2l1.4 1.4l-1.4 1.4l-1.4 -1.4ZM523.2 604.4l1.4 1.4l-1.4 1.4l-1.4 -1.4ZM716.8 536.1l1.4 1.4l-1.4 1.4l-1.4 -1.4ZM716.8 591.1l1.4 1.4l-1.4 1.4l-1.4 -1.4ZM779.2 533.7l1.4 1.4l-1.4 1.4l-1.4 -1.4ZM779.2 591.7l1.4 1.4l-1.4 1.4l-1.4 -1.4ZM597.9 534.5l1.4 1.4l-1.4 1.4l-1.4 -1.4ZM597.9 596.1l1.4 1.4l-1.4 1.4l-1.4 -1.4ZM576.2 526.5l1.4 1.4l-1.4 1.4l-1.4 -1.4ZM576.2 592.5l1.4 1.4l-1.4 1.4l-1.4 -1.4ZM574.3 531.1l1.4 1.4l-1.4 1.4l-1.4 -1.4ZM574.3 591.4l1.4 1.4l-1.4 1.4l-1.4 -1.4ZM699.0 537.7l1.4 1.4l-1.4 1.4l-1.4 -1.4ZM699.0 595.0l1.4 1.4l-1.4 1.4l-1.4 -1.4ZM581.0 536.7l1.4 1.4l-1.4 1.4l-1.4 -1.4ZM581.0 604.2l1.4 1.4l-1.4 1.4l-1.4 -1.4ZM636.4 536.3l1.4 1.4l-1.4 1.4l-1.4 -1.4ZM636.4 595.2l1.4 1.4l-1.4 1.4l-1.4 -1.4ZM582.0 537.8l1.4 1.4l-1.4 1.4l-1.4 -1.4ZM582.0 592.9l1.4 1.4l-1.4 1.4l-1.4 -1.4ZM579.6 537.8l1.4 1.4l-1.4 1.4l-1.4 -1.4ZM579.6 606.1l1.4 1.4l-1.4 1.4l-1.4 -1.4ZM510.0 531.9l1.4 1.4l-1.4 1.4l-1.4 -1.4ZM510.0 603.7l1.4 1.4l-1.4 1.4l-1.4 -1.4ZM705.8 538.5l1.4 1.4l-1.4 1.4l-1.4 -1.4ZM705.8 593.9l1.4 1.4l-1.4 1.4l-1.4 -1.4ZM511.5 534.9l1.4 1.4l-1.4 1.4l-1.4 -1.4ZM511.5 596.4l1.4 1.4l-1.4 1.4l-1.4 -1.4ZM570.2 538.6l1.4 1.4l-1.4 1.4l-1.4 -1.4ZM570.2 594.4l1.4 1.4l-1.4 1.4l-1.4 -1.4ZM527.6 537.1l1.4 1.4l-1.4 1.4l-1.4 -1.4ZM527.6 593.5l1.4 1.4l-1.4 1.4l-1.4 -1.4ZM761.3 536.8l1.4 1.4l-1.4 1.4l-1.4 -1.4ZM761.3 591.3l1.4 1.4l-1.4 1.4l-1.4 -1.4ZM731.3 531.7l1.4 1.4l-1.4 1.4l-1.4 -1.4ZM731.3 594.2l1.4 1.4l-1.4 1.4l-1.4 -1.4ZM514.4 537.8l1.4 1.4l-1.4 1.4l-1.4 -1.4ZM514.4 593.1l1.4 1.4l-1.4 1.4l-1.4 -1.4ZM661.2 537.6l1.4 1.4l-1.4 1.4l-1.4 -1.4ZM661.2 598.4l1.4 1.4l-1.4 1.4l-1.4 -1.4ZM746.4 528.2l1.4 1.4l-1.4 1.4l-1.4 -1.4ZM746.4 600.9l1.4 1.4l-1.4 1.4l-1.4 -1.4ZM505.1 535.1l1.4 1.4l-1.4 1.4l-1.4 -1.4ZM505.1 591.0l1.4 1.4l-1.4 1.4l-1.4 -1.4ZM762.8 533.1l1.4 1.4l-1.4 1.4l-1.4 -1.4ZM762.8 597.4l1.4 1.4l-1.4 1.4l-1.4 -1.4ZM555.0 538.4l1.4 1.4l-1.4 1.4l-1.4 -1.4ZM555.0 598.7l1.4 1.4l-1.4 1.4l-1.4 -1.4ZM677.2 534.7l1.4 1.4l-1.4 1.4l-1.4 -1.4ZM677.2 593.7l1.4 1.4l-1.4 1.4l-1.4 -1.4ZM733.7 537.0l1.4 1.4l-1.4 1.4l-1.4 -1.4ZM733.7 592.1l1.4 1.4l-1.4 1.4l-1.4 -1.4ZM603.1 537.2l1.4 1.4l-1.4 1.4l-1.4 -1.4ZM603.1 595.3l1.4 1.4l-1.4 1.4l-1.4 -1.4ZM760.0 538.3l1.4 1.4l-1.4 1.4l-1.4 -1.4ZM760.0 590.9l1.4 1.4l-1.4 1.4l-1.4 -1.4ZM649.5 534.1l1.4 1.4l-1.4 1.4l-1.4 -1.4ZM649.5 591.6l1.4 1.4l-1.4 1.4l-1.4 -1.4ZM578.8 538.4l1.4 1.4l-1.4 1.4l-1.4 -1.4ZM578.8 590.8l1.4 1.4l-1.4 1.4l-1.4 -1.4ZM644.6 534.0l1.4 1.4l-1.4 1.4l-1.4 -1.4ZM644.6 595.7l1.4 1.4l-1.4 1.4l-1.4 -1.4ZM546.2 538.2l1.4 1.4l-1.4 1.4l-1.4 -1.4ZM546.2 603.4l1.4 1.4l-1.4 1.4l-1.4 -1.4ZM657.3 536.5l1.4 1.4l-1.4 1.4l-1.4 -1.4ZM657.3 596.2l1.4 1.4l-1.4 1.4l-1.4 -1.4ZM712.6 535.6l1.4 1.4l-1.4 1.4l-1.4 -1.4ZM712.6 591.0l1.4 1.4l-1.4 1.4l-1.4 -1.4ZM741.6 537.6l1.4 1.4l-1.4 1.4l-1.4 -1.4ZM741.6 590.8l1.4 1.4l-1.4 1.4l-1.4 -1.4ZM602.9 535.6l1.4 1.4l-1.4 1.4l-1.4 -1.4ZM602.9 595.3l1.4 1.4l-1.4 1.4l-1.4 -1.4ZM550.9 533.7l1.4 1.4l-1.4 1.4l-1.4 -1.4ZM550.9 593.9l1.4 1.4l-1.4 1.4l-1.4 -1.4ZM547.3 531.0l1.4 1.4l-1.4 1.4l-1.4 -1.4ZM547.3 598.5l1.4 1.4l-1.4 1.4l-1.4 -1.4ZM764.7 534.0l1.4 1.4l-1.4 1.4l-1.4 -1.4ZM764.7 591.8l1.4 1.4l-1.4 1.4l-1.4 -1.4ZM727.2 529.3l1.4 1.4l-1.4 1.4l-1.4 -1.4ZM727.2 594.3l1.4 1.4l-1.4 1.4l-1.4 -1.4ZM765.4 524.6l1.4 1.4l-1.4 1.4l-1.4 -1.4ZM765.4 593.0l1.4 1.4l-1.4 1.4l-1.4 -1.4ZM775.1 527.6l1.4 1.4l-1.4 1.4l-1.4 -1.4ZM775.1 598.2l1.4 1.4l-1.4 1.4l-1.4 -1.4ZM503.3 536.9l1.4 1.4l-1.4 1.4l-1.4 -1.4ZM503.3 595.2l1.4 1.4l-1.4 1.4l-1.4 -1.4ZM677.4 533.0l1.4 1.4l-1.4 1.4l-1.4 -1.4ZM677.4 595.6l1.4 1.4l-1.4 1.4l-1.4 -1.4ZM547.2 527.9l1.4 1.4l-1.4 1.4l-1.4 -1.4ZM547.2 594.3l1.4 1.4l-1.4 1.4l-1.4 -1.4ZM757.5 537.7l1.4 1.4l-1.4 1.4l-1.4 -1.4ZM757.5 620.6l1.4 1.4l-1.4 1.4l-1.4 -1.4ZM662.1 532.6l1.4 1.4l-1.4 1.4l-1.4 -1.4ZM662.1 597.1l1.4 1.4l-1.4 1.4l-1.4 -1.4ZM757.9 536.8l1.4 1.4l-1.4 1.4l-1.4 -1.4ZM757.9 591.0l1.4 1.4l-1.4 1.4l-1.4 -1.4ZM618.5 537.8l1.4 1.4l-1.4 1.4l-1.4 -1.4ZM618.5 594.3l1.4 1.4l-1.4 1.4l-1.4 -1.4ZM738.1 536.8l1.4 1.4l-1.4 1.4l-1.4 -1.4ZM738.1 591.3l1.4 1.4l-1.4 1.4l-1.4 -1.4ZM507.9 536.4l1.4 1.4l-1.4 1.4l-1.4 -1.4ZM507.9 594.8l1.4 1.4l-1.4 1.4l-1.4 -1.4ZM507.7 534.2l1.4 1.4l-1.4 1.4l-1.4 -1.4ZM507.7 591.7l1.4 1.4l-1.4 1.4l-1.4 -1.4ZM531.3 528.1l1.4 1.4l-1.4 1.4l-1.4 -1.4ZM531.3 594.2l1.4 1.4l-1.4 1.4l-1.4 -1.4ZM761.5 535.7l1.4 1.4l-1.4 1.4l-1.4 -1.4ZM761.5 591.2l1.4 1.4l-1.4 1.4l-1.4 -1.4ZM570.1 536.4l1.4 1.4l-1.4 1.4l-1.4 -1.4ZM570.1 595.5l1.4 1.4l-1.4 1.4l-1.4 -1.4ZM725.2 533.0l1.4 1.4l-1.4 1.4l-1.4 -1.4ZM725.2 595.6l1.4 1.4l-1.4 1.4l-1.4 -1.4ZM573.9 536.4l1.4 1.4l-1.4 1.4l-1.4 -1.4ZM573.9 592.9l1.4 1.4l-1.4 1.4l-1.4 -1.4ZM643.0 537.4l1.4 1.4l-1.4 1.4l-1.4 -1.4ZM643.0 594.3l1.4 1.4l-1.4 1.4l-1.4 -1.4ZM634.0 538.5l1.4 1.4l-1.4 1.4l-1.4 -1.4ZM634.0 598.9l1.4 1.4l-1.4 1.4l-1.4 -1.4ZM671.3 532.1l1.4 1.4l-1.4 1.4l-1.4 -1.4ZM671.3 597.0l1.4 1.4l-1.4 1.4l-1.4 -1.4ZM713.5 518.5l1.4 1.4l-1.4 1.4l-1.4 -1.4ZM713.5 592.9l1.4 1.4l-1.4 1.4l-1.4 -1.4ZM615.0 538.6l1.4 1.4l-1.4 1.4l-1.4 -1.4ZM615.0 595.8l1.4 1.4l-1.4 1.4l-1.4 -1.4ZM669.9 535.2l1.4 1.4l-1.4 1.4l-1.4 -1.4ZM669.9 619.7l1.4 1.4l-1.4 1.4l-1.4 -1.4ZM557.5 537.6l1.4 1.4l-1.4 1.4l-1.4 -1.4ZM557.5 597.0l1.4 1.4l-1.4 1.4l-1.4 -1.4ZM737.3 536.0l1.4 1.4l-1.4 1.4l-1.4 -1.4ZM737.3 590.9l1.4 1.4l-1.4 1.4l-1.4 -1.4ZM608.2 531.6l1.4 1.4l-1.4 1.4l-1.4 -1.4ZM608.2 593.9l1.4 1.4l-1.4 1.4l-1.4 -1.4ZM634.8 536.6l1.4 1.4l-1.4 1.4l-1.4 -1.4ZM634.8 595.4l1.4 1.4l-1.4 1.4l-1.4 -1.4ZM674.8 533.9l1.4 1.4l-1.4 1.4l-1.4 -1.4ZM674.8 600.2l1.4 1.4l-1.4 1.4l-1.4 -1.4ZM719.5 536.7l1.4 1.4l-1.4 1.4l-1.4 -1.4ZM719.5 592.0l1.4 1.4l-1.4 1.4l-1.4 -1.4ZM728.4 532.3l1.4 1.4l-1.4 1.4l-1.4 -1.4ZM728.4 603.2l1.4 1.4l-1.4 1.4l-1.4 -1.4ZM558.1 531.1l1.4 1.4l-1.4 1.4l-1.4 -1.4ZM558.1 601.2l1.4 1.4l-1.4 1.4l-1.4 -1.4ZM522.6 537.1l1.4 1.4l-1.4 1.4l-1.4 -1.4ZM522.6 595.4l1.4 1.4l-1.4 1.4l-1.4 -1.4ZM542.7 531.5l1.4 1.4l-1.4 1.4l-1.4 -1.4ZM542.7 592.1l1.4 1.4l-1.4 1.4l-1.4 -1.4ZM699.3 537.2l1.4 1.4l-1.4 1.4l-1.4 -1.4ZM699.3 591.8l1.4 1.4l-1.4 1.4l-1.4 -1.4ZM560.5 535.8l1.4 1.4l-1.4 1.4l-1.4 -1.4ZM560.5 596.6l1.4 1.4l-1.4 1.4l-1.4 -1.4ZM563.6 534.0l1.4 1.4l-1.4 1.4l-1.4 -1.4ZM563.6 592.6l1.4 1.4l-1.4 1.4l-1.4 -1.4ZM689.6 536.8l1.4 1.4l-1.4 1.4l-1.4 -1.4ZM689.6 591.6l1.4 1.4l-1.4 1.4l-1.4 -1.4ZM541.2 538.4l1.4 1.4l-1.4 1.4l-1.4 -1.4ZM541.2 596.3l1.4 1.4l-1.4 1.4l-1.4 -1.4ZM620.8 538.1l1.4 1.4l-1.4 1.4l-1.4 -1.4ZM620.8 600.8l1.4 1.4l-1.4 1.4l-1.4 -1.4ZM691.3 538.5l1.4 1.4l-1.4 1.4l-1.4 -1.4ZM691.3 596.8l1.4 1.4l-1.4 1.4l-1.4 -1.4ZM673.7 536.3l1.4 1.4l-1.4 1.4l-1.4 -1.4ZM673.7 593.9l1.4 1.4l-1.4 1.4l-1.4 -1.4ZM781.1 536.7l1.4 1.4l-1.4 1.4l-1.4 -1.4ZM781.1 595.5l1.4 1.4l-1.4 1.4l-1.4 -1.4ZM685.7 536.8l1.4 1.4l-1.4 1.4l-1.4 -1.4ZM685.7 592.6l1.4 1.4l-1.4 1.4l-1.4 -1.4ZM720.5 534.6l1.4 1.4l-1.4 1.4l-1.4 -1.4ZM720.5 593.5l1.4 1.4l-1.4 1.4l-1.4 -1.4ZM650.1 537.6l1.4 1.4l-1.4 1.4l-1.4 -1.4ZM650.1 598.1l1.4 1.4l-1.4 1.4l-1.4 -1.4ZM505.8 534.5l1.4 1.4l-1.4 1.4l-1.4 -1.4ZM505.8 593.5l1.4 1.4l-1.4 1.4l-1.4 -1.4ZM564.7 535.1l1.4 1.4l-1.4 1.4l-1.4 -1.4ZM564.7 594.8l1.4 1.4l-1.4 1.4l-1.4 -1.4ZM525.3 535.9l1.4 1.4l-1.4 1.4l-1.4 -1.4ZM525.3 591.5l1.4 1.4l-1.4 1.4l-1.4 -1.4ZM733.4 537.0l1.4 1.4l-1.4 1.4l-1.4 -1.4ZM733.4 592.5l1.4 1.4l-1.4 1.4l-1.4 -1.4ZM562.9 538.4l1.4 1.4l-1.4 1.4l-1.4 -1.4ZM562.9 591.6l1.4 1.4l-1.4 1.4l-1.4 -1.4ZM544.3 534.7l1.4 1.4l-1.4 1.4l-1.4 -1.4ZM544.3 599.6l1.4 1.4l-1.4 1.4l-1.4 -1.4ZM564.6 538.1l1.4 1.4l-1.4 1.4l-1.4 -1.4ZM564.6 594.3l1.4 1.4l-1.4 1.4l-1.4 -1.4ZM533.8 536.5l1.4 1.4l-1.4 1.4l-1.4 -1.4ZM533.8 597.5l1.4 1.4l-1.4 1.4l-1.4 -1.4ZM559.3 533.8l1.4 1.4l-1.4 1.4l-1.4 -1.4ZM559.3 594.3l1.4 1.4l-1.4 1.4l-1.4 -1.4ZM524.8 537.5l1.4 1.4l-1.4 1.4l-1.4 -1.4ZM524.8 595.0l1.4 1.4l-1.4 1.4l-1.4 -1.4ZM528.1 537.7l1.4 1.4l-1.4 1.4l-1.4 -1.4ZM528.1 594.7l1.4 1.4l-1.4 1.4l-1.4 -1.4ZM739.0 535.7l1.4 1.4l-1.4 1.4l-1.4 -1.4ZM739.0 595.8l1.4 1.4l-1.4 1.4l-1.4 -1.4ZM502.6 537.2l1.4 1.4l-1.4 1.4l-1.4 -1.4ZM502.6 592.4l1.4 1.4l-1.4 1.4l-1.4 -1.4ZM766.8 536.8l1.4 1.4l-1.4 1.4l-1.4 -1.4ZM766.8 598.0l1.4 1.4l-1.4 1.4l-1.4 -1.4ZM510.0 535.8l1.4 1.4l-1.4 1.4l-1.4 -1.4ZM510.0 601.3l1.4 1.4l-1.4 1.4l-1.4 -1.4ZM725.3 535.1l1.4 1.4l-1.4 1.4l-1.4 -1.4ZM725.3 591.6l1.4 1.4l-1.4 1.4l-1.4 -1.4ZM770.6 538.3l1.4 1.4l-1.4 1.4l-1.4 -1.4ZM770.6 606.7l1.4 1.4l-1.4 1.4l-1.4 -1.4ZM726.7 533.5l1.4 1.4l-1.4 1.4l-1.4 -1.4ZM726.7 594.2l1.4 1.4l-1.4 1.4l-1.4 -1.4ZM547.9 536.9l1.4 1.4l-1.4 1.4l-1.4 -1.4ZM547.9 595.8l1.4 1.4l-1.4 1.4l-1.4 -1.4ZM691.6 536.6l1.4 1.4l-1.4 1.4l-1.4 -1.4ZM691.6 598.4l1.4 1.4l-1.4 1.4l-1.4 -1.4ZM515.6 537.2l1.4 1.4l-1.4 1.4l-1.4 -1.4ZM515.6 591.1l1.4 1.4l-1.4 1.4l-1.4 -1.4ZM594.9 532.3l1.4 1.4l-1.4 1.4l-1.4 -1.4ZM594.9 597.3l1.4 1.4l-1.4 1.4l-1.4 -1.4ZM543.6 537.1l1.4 1.4l-1.4 1.4l-1.4 -1.4ZM543.6 591.2l1.4 1.4l-1.4 1.4l-1.4 -1.4ZM693.3 536.3l1.4 1.4l-1.4 1.4l-1.4 -1.4ZM693.3 591.9l1.4 1.4l-1.4 1.4l-1.4 -1.4ZM609.3 530.6l1.4 1.4l-1.4 1.4l-1.4 -1.4ZM609.3 593.3l1.4 1.4l-1.4 1.4l-1.4 -1.4ZM701.8 534.6l1.4 1.4l-1.4 1.4l-1.4 -1.4ZM701.8 593.7l1.4 1.4l-1.4 1.4l-1.4 -1.4ZM662.5 536.8l1.4 1.4l-1.4 1.4l-1.4 -1.4ZM662.5 591.7l1.4 1.4l-1.4 1.4l-1.4 -1.4ZM644.4 537.1l1.4 1.4l-1.4 1.4l-1.4 -1.4ZM644.4 592.5l1.4 1.4l-1.4 1.4l-1.4 -1.4ZM554.5 528.8l1.4 1.4l-1.4 1.4l-1.4 -1.4ZM554.5 593.3l1.4 1.4l-1.4 1.4l-1.4 -1.4ZM558.5 538.5l1.4 1.4l-1.4 1.4l-1.4 -1.4ZM558.5 591.8l1.4 1.4l-1.4 1.4l-1.4 -1.4ZM753.7 537.0l1.4 1.4l-1.4 1.4l-1.4 -1.4ZM753.7 595.9l1.4 1.4l-1.4 1.4l-1.4 -1.4ZM567.3 534.4l1.4 1.4l-1.4 1.4l-1.4 -1.4ZM567.3 593.5l1.4 1.4l-1.4 1.4l-1.4 -1.4ZM715.1 535.6l1.4 1.4l-1.4 1.4l-1.4 -1.4ZM715.1 592.9l1.4 1.4l-1.4 1.4l-1.4 -1.4ZM581.8 535.0l1.4 1.4l-1.4 1.4l-1.4 -1.4ZM581.8 599.2l1.4 1.4l-1.4 1.4l-1.4 -1.4ZM702.0 536.0l1.4 1.4l-1.4 1.4l-1.4 -1.4ZM702.0 592.5l1.4 1.4l-1.4 1.4l-1.4 -1.4ZM760.4 531.1l1.4 1.4l-1.4 1.4l-1.4 -1.4ZM760.4 591.4l1.4 1.4l-1.4 1.4l-1.4 -1.4ZM698.4 532.7l1.4 1.4l-1.4 1.4l-1.4 -1.4ZM698.4 596.0l1.4 1.4l-1.4 1.4l-1.4 -1.4ZM781.7 530.2l1.4 1.4l-1.4 1.4l-1.4 -1.4ZM781.7 592.0l1.4 1.4l-1.4 1.4l-1.4 -1.4ZM791.1 537.0l1.4 1.4l-1.4 1.4l-1.4 -1.4ZM791.1 592.9l1.4 1.4l-1.4 1.4l-1.4 -1.4ZM785.2 537.9l1.4 1.4l-1.4 1.4l-1.4 -1.4ZM785.2 593.0l1.4 1.4l-1.4 1.4l-1.4 -1.4ZM682.8 537.3l1.4 1.4l-1.4 1.4l-1.4 -1.4ZM682.8 592.1l1.4 1.4l-1.4 1.4l-1.4 -1.4ZM732.0 534.8l1.4 1.4l-1.4 1.4l-1.4 -1.4ZM732.0 597.1l1.4 1.4l-1.4 1.4l-1.4 -1.4ZM730.7 530.4l1.4 1.4l-1.4 1.4l-1.4 -1.4ZM730.7 601.4l1.4 1.4l-1.4 1.4l-1.4 -1.4ZM740.5 523.3l1.4 1.4l-1.4 1.4l-1.4 -1.4ZM740.5 593.9l1.4 1.4l-1.4 1.4l-1.4 -1.4ZM704.9 535.7l1.4 1.4l-1.4 1.4l-1.4 -1.4ZM704.9 607.3l1.4 1.4l-1.4 1.4l-1.4 -1.4ZM691.3 536.3l1.4 1.4l-1.4 1.4l-1.4 -1.4ZM691.3 595.8l1.4 1.4l-1.4 1.4l-1.4 -1.4ZM586.1 538.0l1.4 1.4l-1.4 1.4l-1.4 -1.4ZM586.1 592.9l1.4 1.4l-1.4 1.4l-1.4 -1.4ZM540.0 538.6l1.4 1.4l-1.4 1.4l-1.4 -1.4ZM540.0 591.1l1.4 1.4l-1.4 1.4l-1.4 -1.4ZM632.7 532.8l1.4 1.4l-1.4 1.4l-1.4 -1.4ZM632.7 590.8l1.4 1.4l-1.4 1.4l-1.4 -1.4ZM686.0 538.1l1.4 1.4l-1.4 1.4l-1.4 -1.4ZM686.0 594.0l1.4 1.4l-1.4 1.4l-1.4 -1.4ZM586.4 536.2l1.4 1.4l-1.4 1.4l-1.4 -1.4ZM586.4 596.6l1.4 1.4l-1.4 1.4l-1.4 -1.4ZM620.8 536.6l1.4 1.4l-1.4 1.4l-1.4 -1.4ZM620.8 596.9l1.4 1.4l-1.4 1.4l-1.4 -1.4ZM533.8 536.9l1.4 1.4l-1.4 1.4l-1.4 -1.4ZM533.8 596.4l1.4 1.4l-1.4 1.4l-1.4 -1.4ZM743.9 523.1l1.4 1.4l-1.4 1.4l-1.4 -1.4ZM743.9 592.0l1.4 1.4l-1.4 1.4l-1.4 -1.4ZM682.6 537.1l1.4 1.4l-1.4 1.4l-1.4 -1.4ZM682.6 596.4l1.4 1.4l-1.4 1.4l-1.4 -1.4ZM747.2 538.0l1.4 1.4l-1.4 1.4l-1.4 -1.4ZM747.2 592.6l1.4 1.4l-1.4 1.4l-1.4 -1.4ZM773.5 536.9l1.4 1.4l-1.4 1.4l-1.4 -1.4ZM773.5 595.4l1.4 1.4l-1.4 1.4l-1.4 -1.4ZM739.1 537.3l1.4 1.4l-1.4 1.4l-1.4 -1.4ZM739.1 597.9l1.4 1.4l-1.4 1.4l-1.4 -1.4ZM501.1 536.9l1.4 1.4l-1.4 1.4l-1.4 -1.4ZM501.1 591.5l1.4 1.4l-1.4 1.4l-1.4 -1.4ZM601.0 537.6l1.4 1.4l-1.4 1.4l-1.4 -1.4ZM601.0 590.7l1.4 1.4l-1.4 1.4l-1.4 -1.4ZM734.6 537.8l1.4 1.4l-1.4 1.4l-1.4 -1.4ZM734.6 594.7l1.4 1.4l-1.4 1.4l-1.4 -1.4ZM661.9 531.0l1.4 1.4l-1.4 1.4l-1.4 -1.4ZM661.9 599.6l1.4 1.4l-1.4 1.4l-1.4 -1.4ZM681.6 537.9l1.4 1.4l-1.4 1.4l-1.4 -1.4ZM681.6 597.5l1.4 1.4l-1.4 1.4l-1.4 -1.4ZM528.5 528.0l1.4 1.4l-1.4 1.4l-1.4 -1.4ZM528.5 592.4l1.4 1.4l-1.4 1.4l-1.4 -1.4ZM573.8 537.6l1.4 1.4l-1.4 1.4l-1.4 -1.4ZM573.8 593.0l1.4 1.4l-1.4 1.4l-1.4 -1.4ZM731.2 530.9l1.4 1.4l-1.4 1.4l-1.4 -1.4ZM731.2 597.2l1.4 1.4l-1.4 1.4l-1.4 -1.4ZM713.0 537.5l1.4 1.4l-1.4 1.4l-1.4 -1.4ZM713.0 592.5l1.4 1.4l-1.4 1.4l-1.4 -1.4ZM588.9 536.3l1.4 1.4l-1.4 1.4l-1.4 -1.4ZM588.9 600.6l1.4 1.4l-1.4 1.4l-1.4 -1.4ZM790.9 538.3l1.4 1.4l-1.4 1.4l-1.4 -1.4ZM790.9 606.6l1.4 1.4l-1.4 1.4l-1.4 -1.4ZM768.3 536.1l1.4 1.4l-1.4 1.4l-1.4 -1.4ZM768.3 596.3l1.4 1.4l-1.4 1.4l-1.4 -1.4ZM729.2 537.8l1.4 1.4l-1.4 1.4l-1.4 -1.4ZM729.2 595.2l1.4 1.4l-1.4 1.4l-1.4 -1.4ZM786.8 530.1l1.4 1.4l-1.4 1.4l-1.4 -1.4ZM786.8 602.2l1.4 1.4l-1.4 1.4l-1.4 -1.4ZM524.8 533.6l1.4 1.4l-1.4 1.4l-1.4 -1.4ZM524.8 593.8l1.4 1.4l-1.4 1.4l-1.4 -1.4ZM765.6 537.9l1.4 1.4l-1.4 1.4l-1.4 -1.4ZM765.6 594.4l1.4 1.4l-1.4 1.4l-1.4 -1.4ZM535.2 532.1l1.4 1.4l-1.4 1.4l-1.4 -1.4ZM535.2 596.8l1.4 1.4l-1.4 1.4l-1.4 -1.4ZM509.1 537.1l1.4 1.4l-1.4 1.4l-1.4 -1.4ZM509.1 591.3l1.4 1.4l-1.4 1.4l-1.4 -1.4ZM685.6 534.6l1.4 1.4l-1.4 1.4l-1.4 -1.4ZM685.6 590.9l1.4 1.4l-1.4 1.4l-1.4 -1.4ZM777.8 525.2l1.4 1.4l-1.4 1.4l-1.4 -1.4ZM777.8 593.4l1.4 1.4l-1.4 1.4l-1.4 -1.4ZM667.7 536.8l1.4 1.4l-1.4 1.4l-1.4 -1.4ZM667.7 595.1l1.4 1.4l-1.4 1.4l-1.4 -1.4ZM616.4 536.3l1.4 1.4l-1.4 1.4l-1.4 -1.4ZM616.4 597.2l1.4 1.4l-1.4 1.4l-1.4 -1.4ZM554.5 537.2l1.4 1.4l-1.4 1.4l-1.4 -1.4ZM554.5 597.5l1.4 1.4l-1.4 1.4l-1.4 -1.4ZM565.7 538.3l1.4 1.4l-1.4 1.4l-1.4 -1.4ZM565.7 602.2l1.4 1.4l-1.4 1.4l-1.4 -1.4ZM546.6 536.5l1.4 1.4l-1.4 1.4l-1.4 -1.4ZM546.6 592.4l1.4 1.4l-1.4 1.4l-1.4 -1.4ZM576.4 536.9l1.4 1.4l-1.4 1.4l-1.4 -1.4ZM576.4 594.3l1.4 1.4l-1.4 1.4l-1.4 -1.4ZM533.9 535.6l1.4 1.4l-1.4 1.4l-1.4 -1.4ZM533.9 590.9l1.4 1.4l-1.4 1.4l-1.4 -1.4ZM523.0 537.7l1.4 1.4l-1.4 1.4l-1.4 -1.4ZM523.0 591.9l1.4 1.4l-1.4 1.4l-1.4 -1.4ZM599.8 537.2l1.4 1.4l-1.4 1.4l-1.4 -1.4ZM599.8 599.3l1.4 1.4l-1.4 1.4l-1.4 -1.4ZM692.2 536.0l1.4 1.4l-1.4 1.4l-1.4 -1.4ZM692.2 597.7l1.4 1.4l-1.4 1.4l-1.4 -1.4ZM700.3 537.1l1.4 1.4l-1.4 1.4l-1.4 -1.4ZM700.3 595.2l1.4 1.4l-1.4 1.4l-1.4 -1.4ZM717.7 535.5l1.4 1.4l-1.4 1.4l-1.4 -1.4ZM717.7 597.3l1.4 1.4l-1.4 1.4l-1.4 -1.4ZM684.8 528.1l1.4 1.4l-1.4 1.4l-1.4 -1.4ZM684.8 592.1l1.4 1.4l-1.4 1.4l-1.4 -1.4ZM696.2 523.5l1.4 1.4l-1.4 1.4l-1.4 -1.4ZM696.2 594.2l1.4 1.4l-1.4 1.4l-1.4 -1.4ZM764.4 538.2l1.4 1.4l-1.4 1.4l-1.4 -1.4ZM764.4 596.8l1.4 1.4l-1.4 1.4l-1.4 -1.4ZM577.5 533.1l1.4 1.4l-1.4 1.4l-1.4 -1.4ZM577.5 593.2l1.4 1.4l-1.4 1.4l-1.4 -1.4ZM656.3 537.5l1.4 1.4l-1.4 1.4l-1.4 -1.4ZM656.3 592.0l1.4 1.4l-1.4 1.4l-1.4 -1.4ZM752.8 534.5l1.4 1.4l-1.4 1.4l-1.4 -1.4ZM752.8 595.4l1.4 1.4l-1.4 1.4l-1.4 -1.4ZM533.8 537.2l1.4 1.4l-1.4 1.4l-1.4 -1.4ZM533.8 607.1l1.4 1.4l-1.4 1.4l-1.4 -1.4ZM559.4 535.5l1.4 1.4l-1.4 1.4l-1.4 -1.4ZM559.4 596.3l1.4 1.4l-1.4 1.4l-1.4 -1.4ZM649.1 535.4l1.4 1.4l-1.4 1.4l-1.4 -1.4ZM649.1 607.5l1.4 1.4l-1.4 1.4l-1.4 -1.4ZM728.2 537.5l1.4 1.4l-1.4 1.4l-1.4 -1.4ZM728.2 593.3l1.4 1.4l-1.4 1.4l-1.4 -1.4ZM622.6 534.0l1.4 1.4l-1.4 1.4l-1.4 -1.4ZM622.6 596.0l1.4 1.4l-1.4 1.4l-1.4 -1.4ZM576.2 533.9l1.4 1.4l-1.4 1.4l-1.4 -1.4ZM576.2 593.3l1.4 1.4l-1.4 1.4l-1.4 -1.4ZM504.5 537.2l1.4 1.4l-1.4 1.4l-1.4 -1.4ZM504.5 592.9l1.4 1.4l-1.4 1.4l-1.4 -1.4ZM557.5 534.2l1.4 1.4l-1.4 1.4l-1.4 -1.4ZM557.5 614.0l1.4 1.4l-1.4 1.4l-1.4 -1.4ZM772.1 534.6l1.4 1.4l-1.4 1.4l-1.4 -1.4ZM772.1 599.9l1.4 1.4l-1.4 1.4l-1.4 -1.4ZM643.6 535.1l1.4 1.4l-1.4 1.4l-1.4 -1.4ZM643.6 601.4l1.4 1.4l-1.4 1.4l-1.4 -1.4ZM517.4 536.8l1.4 1.4l-1.4 1.4l-1.4 -1.4ZM517.4 592.8l1.4 1.4l-1.4 1.4l-1.4 -1.4ZM599.6 536.4l1.4 1.4l-1.4 1.4l-1.4 -1.4ZM599.6 590.9l1.4 1.4l-1.4 1.4l-1.4 -1.4ZM698.4 526.0l1.4 1.4l-1.4 1.4l-1.4 -1.4ZM698.4 591.9l1.4 1.4l-1.4 1.4l-1.4 -1.4ZM554.3 537.0l1.4 1.4l-1.4 1.4l-1.4 -1.4ZM554.3 598.2l1.4 1.4l-1.4 1.4l-1.4 -1.4ZM566.2 532.7l1.4 1.4l-1.4 1.4l-1.4 -1.4ZM566.2 591.5l1.4 1.4l-1.4 1.4l-1.4 -1.4ZM673.8 533.5l1.4 1.4l-1.4 1.4l-1.4 -1.4ZM673.8 596.0l1.4 1.4l-1.4 1.4l-1.4 -1.4ZM524.7 526.0l1.4 1.4l-1.4 1.4l-1.4 -1.4ZM524.7 599.6l1.4 1.4l-1.4 1.4l-1.4 -1.4ZM640.5 530.8l1.4 1.4l-1.4 1.4l-1.4 -1.4ZM640.5 595.0l1.4 1.4l-1.4 1.4l-1.4 -1.4ZM549.2 536.6l1.4 1.4l-1.4 1.4l-1.4 -1.4ZM549.2 598.9l1.4 1.4l-1.4 1.4l-1.4 -1.4ZM635.5 538.4l1.4 1.4l-1.4 1.4l-1.4 -1.4ZM635.5 591.5l1.4 1.4l-1.4 1.4l-1.4 -1.4ZM554.4 535.1l1.4 1.4l-1.4 1.4l-1.4 -1.4ZM554.4 595.6l1.4 1.4l-1.4 1.4l-1.4 -1.4ZM630.8 536.5l1.4 1.4l-1.4 1.4l-1.4 -1.4ZM630.8 606.4l1.4 1.4l-1.4 1.4l-1.4 -1.4ZM600.2 534.1l1.4 1.4l-1.4 1.4l-1.4 -1.4ZM600.2 591.7l1.4 1.4l-1.4 1.4l-1.4 -1.4ZM650.2 537.8l1.4 1.4l-1.4 1.4l-1.4 -1.4ZM650.2 591.2l1.4 1.4l-1.4 1.4l-1.4 -1.4ZM598.4 538.1l1.4 1.4l-1.4 1.4l-1.4 -1.4ZM598.4 592.9l1.4 1.4l-1.4 1.4l-1.4 -1.4ZM690.7 535.4l1.4 1.4l-1.4 1.4l-1.4 -1.4ZM690.7 598.2l1.4 1.4l-1.4 1.4l-1.4 -1.4ZM639.4 538.2l1.4 1.4l-1.4 1.4l-1.4 -1.4ZM639.4 596.8l1.4 1.4l-1.4 1.4l-1.4 -1.4ZM617.4 533.0l1.4 1.4l-1.4 1.4l-1.4 -1.4ZM617.4 608.4l1.4 1.4l-1.4 1.4l-1.4 -1.4ZM653.1 537.4l1.4 1.4l-1.4 1.4l-1.4 -1.4ZM653.1 592.7l1.4 1.4l-1.4 1.4l-1.4 -1.4ZM645.6 537.1l1.4 1.4l-1.4 1.4l-1.4 -1.4ZM645.6 591.1l1.4 1.4l-1.4 1.4l-1.4 -1.4ZM616.4 534.3l1.4 1.4l-1.4 1.4l-1.4 -1.4ZM616.4 598.7l1.4 1.4l-1.4 1.4l-1.4 -1.4ZM722.5 530.0l1.4 1.4l-1.4 1.4l-1.4 -1.4ZM722.5 598.4l1.4 1.4l-1.4 1.4l-1.4 -1.4ZM620.2 534.5l1.4 1.4l-1.4 1.4l-1.4 -1.4ZM620.2 590.9l1.4 1.4l-1.4 1.4l-1.4 -1.4ZM731.9 533.7l1.4 1.4l-1.4 1.4l-1.4 -1.4ZM731.9 592.1l1.4 1.4l-1.4 1.4l-1.4 -1.4ZM638.0 537.3l1.4 1.4l-1.4 1.4l-1.4 -1.4ZM638.0 598.2l1.4 1.4l-1.4 1.4l-1.4 -1.4ZM624.6 532.5l1.4 1.4l-1.4 1.4l-1.4 -1.4ZM624.6 603.0l1.4 1.4l-1.4 1.4l-1.4 -1.4ZM727.2 536.7l1.4 1.4l-1.4 1.4l-1.4 -1.4ZM727.2 592.6l1.4 1.4l-1.4 1.4l-1.4 -1.4ZM776.3 529.2l1.4 1.4l-1.4 1.4l-1.4 -1.4ZM776.3 591.6l1.4 1.4l-1.4 1.4l-1.4 -1.4ZM605.8 532.4l1.4 1.4l-1.4 1.4l-1.4 -1.4ZM605.8 597.4l1.4 1.4l-1.4 1.4l-1.4 -1.4ZM582.7 536.2l1.4 1.4l-1.4 1.4l-1.4 -1.4ZM582.7 606.3l1.4 1.4l-1.4 1.4l-1.4 -1.4ZM526.4 537.3l1.4 1.4l-1.4 1.4l-1.4 -1.4ZM526.4 595.8l1.4 1.4l-1.4 1.4l-1.4 -1.4ZM765.1 526.9l1.4 1.4l-1.4 1.4l-1.4 -1.4ZM765.1 593.6l1.4 1.4l-1.4 1.4l-1.4 -1.4ZM730.8 524.3l1.4 1.4l-1.4 1.4l-1.4 -1.4ZM730.8 592.5l1.4 1.4l-1.4 1.4l-1.4 -1.4ZM566.4 537.4l1.4 1.4l-1.4 1.4l-1.4 -1.4ZM566.4 597.9l1.4 1.4l-1.4 1.4l-1.4 -1.4ZM540.8 535.4l1.4 1.4l-1.4 1.4l-1.4 -1.4ZM540.8 603.3l1.4 1.4l-1.4 1.4l-1.4 -1.4ZM558.7 534.6l1.4 1.4l-1.4 1.4l-1.4 -1.4ZM558.7 594.2l1.4 1.4l-1.4 1.4l-1.4 -1.4ZM782.3 535.7l1.4 1.4l-1.4 1.4l-1.4 -1.4ZM782.3 593.8l1.4 1.4l-1.4 1.4l-1.4 -1.4ZM763.9 533.0l1.4 1.4l-1.4 1.4l-1.4 -1.4ZM763.9 591.4l1.4 1.4l-1.4 1.4l-1.4 -1.4ZM734.8 536.6l1.4 1.4l-1.4 1.4l-1.4 -1.4ZM734.8 607.2l1.4 1.4l-1.4 1.4l-1.4 -1.4ZM781.3 535.9l1.4 1.4l-1.4 1.4l-1.4 -1.4ZM781.3 593.2l1.4 1.4l-1.4 1.4l-1.4 -1.4ZM566.3 537.3l1.4 1.4l-1.4 1.4l-1.4 -1.4ZM566.3 591.7l1.4 1.4l-1.4 1.4l-1.4 -1.4ZM549.1 533.4l1.4 1.4l-1.4 1.4l-1.4 -1.4ZM549.1 590.9l1.4 1.4l-1.4 1.4l-1.4 -1.4ZM674.9 535.0l1.4 1.4l-1.4 1.4l-1.4 -1.4ZM674.9 597.0l1.4 1.4l-1.4 1.4l-1.4 -1.4ZM665.7 528.1l1.4 1.4l-1.4 1.4l-1.4 -1.4ZM665.7 592.2l1.4 1.4l-1.4 1.4l-1.4 -1.4ZM527.2 535.1l1.4 1.4l-1.4 1.4l-1.4 -1.4ZM527.2 592.1l1.4 1.4l-1.4 1.4l-1.4 -1.4ZM788.6 528.4l1.4 1.4l-1.4 1.4l-1.4 -1.4ZM788.6 596.2l1.4 1.4l-1.4 1.4l-1.4 -1.4ZM743.5 537.5l1.4 1.4l-1.4 1.4l-1.4 -1.4ZM743.5 593.8l1.4 1.4l-1.4 1.4l-1.4 -1.4ZM611.8 536.9l1.4 1.4l-1.4 1.4l-1.4 -1.4ZM611.8 592.8l1.4 1.4l-1.4 1.4l-1.4 -1.4ZM639.6 534.4l1.4 1.4l-1.4 1.4l-1.4 -1.4ZM639.6 590.7l1.4 1.4l-1.4 1.4l-1.4 -1.4ZM657.5 538.1l1.4 1.4l-1.4 1.4l-1.4 -1.4ZM657.5 607.2l1.4 1.4l-1.4 1.4l-1.4 -1.4ZM661.2 535.0l1.4 1.4l-1.4 1.4l-1.4 -1.4ZM661.2 592.4l1.4 1.4l-1.4 1.4l-1.4 -1.4ZM706.1 533.6l1.4 1.4l-1.4 1.4l-1.4 -1.4ZM706.1 602.2l1.4 1.4l-1.4 1.4l-1.4 -1.4ZM669.6 537.3l1.4 1.4l-1.4 1.4l-1.4 -1.4ZM669.6 595.4l1.4 1.4l-1.4 1.4l-1.4 -1.4ZM514.7 533.1l1.4 1.4l-1.4 1.4l-1.4 -1.4ZM514.7 592.4l1.4 1.4l-1.4 1.4l-1.4 -1.4ZM710.1 538.0l1.4 1.4l-1.4 1.4l-1.4 -1.4ZM710.1 595.0l1.4 1.4l-1.4 1.4l-1.4 -1.4ZM549.4 538.5l1.4 1.4l-1.4 1.4l-1.4 -1.4ZM549.4 592.1l1.4 1.4l-1.4 1.4l-1.4 -1.4ZM747.8 536.6l1.4 1.4l-1.4 1.4l-1.4 -1.4ZM747.8 594.2l1.4 1.4l-1.4 1.4l-1.4 -1.4ZM730.9 523.3l1.4 1.4l-1.4 1.4l-1.4 -1.4ZM730.9 592.0l1.4 1.4l-1.4 1.4l-1.4 -1.4ZM702.7 532.5l1.4 1.4l-1.4 1.4l-1.4 -1.4ZM702.7 598.2l1.4 1.4l-1.4 1.4l-1.4 -1.4ZM601.3 536.0l1.4 1.4l-1.4 1.4l-1.4 -1.4ZM601.3 598.0l1.4 1.4l-1.4 1.4l-1.4 -1.4ZM573.3 535.9l1.4 1.4l-1.4 1.4l-1.4 -1.4ZM573.3 595.4l1.4 1.4l-1.4 1.4l-1.4 -1.4ZM748.6 537.5l1.4 1.4l-1.4 1.4l-1.4 -1.4ZM748.6 595.9l1.4 1.4l-1.4 1.4l-1.4 -1.4ZM563.4 537.9l1.4 1.4l-1.4 1.4l-1.4 -1.4ZM563.4 593.7l1.4 1.4l-1.4 1.4l-1.4 -1.4ZM689.2 534.5l1.4 1.4l-1.4 1.4l-1.4 -1.4ZM689.2 604.8l1.4 1.4l-1.4 1.4l-1.4 -1.4ZM548.0 535.6l1.4 1.4l-1.4 1.4l-1.4 -1.4ZM548.0 593.7l1.4 1.4l-1.4 1.4l-1.4 -1.4ZM575.6 528.6l1.4 1.4l-1.4 1.4l-1.4 -1.4ZM575.6 591.3l1.4 1.4l-1.4 1.4l-1.4 -1.4ZM576.1 538.4l1.4 1.4l-1.4 1.4l-1.4 -1.4ZM576.1 595.6l1.4 1.4l-1.4 1.4l-1.4 -1.4ZM692.1 537.6l1.4 1.4l-1.4 1.4l-1.4 -1.4ZM692.1 602.8l1.4 1.4l-1.4 1.4l-1.4 -1.4ZM685.4 537.7l1.4 1.4l-1.4 1.4l-1.4 -1.4ZM685.4 604.2l1.4 1.4l-1.4 1.4l-1.4 -1.4ZM749.3 537.1l1.4 1.4l-1.4 1.4l-1.4 -1.4ZM749.3 600.2l1.4 1.4l-1.4 1.4l-1.4 -1.4ZM538.1 536.9l1.4 1.4l-1.4 1.4l-1.4 -1.4ZM538.1 593.2l1.4 1.4l-1.4 1.4l-1.4 -1.4ZM779.0 537.2l1.4 1.4l-1.4 1.4l-1.4 -1.4ZM779.0 592.9l1.4 1.4l-1.4 1.4l-1.4 -1.4ZM560.5 531.8l1.4 1.4l-1.4 1.4l-1.4 -1.4ZM560.5 591.6l1.4 1.4l-1.4 1.4l-1.4 -1.4ZM747.6 536.9l1.4 1.4l-1.4 1.4l-1.4 -1.4ZM747.6 594.4l1.4 1.4l-1.4 1.4l-1.4 -1.4ZM756.1 537.4l1.4 1.4l-1.4 1.4l-1.4 -1.4ZM756.1 594.2l1.4 1.4l-1.4 1.4l-1.4 -1.4ZM685.8 535.2l1.4 1.4l-1.4 1.4l-1.4 -1.4ZM685.8 593.1l1.4 1.4l-1.4 1.4l-1.4 -1.4ZM688.7 537.1l1.4 1.4l-1.4 1.4l-1.4 -1.4ZM688.7 591.4l1.4 1.4l-1.4 1.4l-1.4 -1.4ZM502.6 534.9l1.4 1.4l-1.4 1.4l-1.4 -1.4ZM502.6 594.7l1.4 1.4l-1.4 1.4l-1.4 -1.4ZM733.6 537.9l1.4 1.4l-1.4 1.4l-1.4 -1.4ZM733.6 596.0l1.4 1.4l-1.4 1.4l-1.4 -1.4ZM632.4 535.6l1.4 1.4l-1.4 1.4l-1.4 -1.4ZM632.4 599.1l1.4 1.4l-1.4 1.4l-1.4 -1.4ZM651.6 536.3l1.4 1.4l-1.4 1.4l-1.4 -1.4ZM651.6 595.6l1.4 1.4l-1.4 1.4l-1.4 -1.4ZM543.2 530.4l1.4 1.4l-1.4 1.4l-1.4 -1.4ZM543.2 594.1l1.4 1.4l-1.4 1.4l-1.4 -1.4ZM512.4 536.0l1.4 1.4l-1.4 1.4l-1.4 -1.4ZM512.4 604.6l1.4 1.4l-1.4 1.4l-1.4 -1.4ZM785.9 536.4l1.4 1.4l-1.4 1.4l-1.4 -1.4ZM785.9 592.1l1.4 1.4l-1.4 1.4l-1.4 -1.4ZM773.5 537.3l1.4 1.4l-1.4 1.4l-1.4 -1.4ZM773.5 590.7l1.4 1.4l-1.4 1.4l-1.4 -1.4ZM572.2 536.1l1.4 1.4l-1.4 1.4l-1.4 -1.4ZM572.2 596.0l1.4 1.4l-1.4 1.4l-1.4 -1.4ZM519.5 537.0l1.4 1.4l-1.4 1.4l-1.4 -1.4ZM519.5 596.8l1.4 1.4l-1.4 1.4l-1.4 -1.4ZM600.6 537.8l1.4 1.4l-1.4 1.4l-1.4 -1.4ZM600.6 596.6l1.4 1.4l-1.4 1.4l-1.4 -1.4ZM627.5 533.8l1.4 1.4l-1.4 1.4l-1.4 -1.4ZM627.5 593.8l1.4 1.4l-1.4 1.4l-1.4 -1.4ZM737.3 535.7l1.4 1.4l-1.4 1.4l-1.4 -1.4ZM737.3 608.3l1.4 1.4l-1.4 1.4l-1.4 -1.4ZM737.5 533.5l1.4 1.4l-1.4 1.4l-1.4 -1.4ZM737.5 593.8l1.4 1.4l-1.4 1.4l-1.4 -1.4ZM678.1 536.7l1.4 1.4l-1.4 1.4l-1.4 -1.4ZM678.1 591.0l1.4 1.4l-1.4 1.4l-1.4 -1.4ZM758.4 532.0l1.4 1.4l-1.4 1.4l-1.4 -1.4ZM758.4 597.6l1.4 1.4l-1.4 1.4l-1.4 -1.4ZM751.0 535.4l1.4 1.4l-1.4 1.4l-1.4 -1.4ZM751.0 615.6l1.4 1.4l-1.4 1.4l-1.4 -1.4ZM638.2 522.8l1.4 1.4l-1.4 1.4l-1.4 -1.4ZM638.2 591.0l1.4 1.4l-1.4 1.4l-1.4 -1.4ZM610.5 535.2l1.4 1.4l-1.4 1.4l-1.4 -1.4ZM610.5 598.8l1.4 1.4l-1.4 1.4l-1.4 -1.4ZM652.1 532.4l1.4 1.4l-1.4 1.4l-1.4 -1.4ZM652.1 592.8l1.4 1.4l-1.4 1.4l-1.4 -1.4ZM697.8 532.2l1.4 1.4l-1.4 1.4l-1.4 -1.4ZM697.8 595.0l1.4 1.4l-1.4 1.4l-1.4 -1.4ZM506.1 534.3l1.4 1.4l-1.4 1.4l-1.4 -1.4ZM506.1 590.6l1.4 1.4l-1.4 1.4l-1.4 -1.4ZM588.5 538.1l1.4 1.4l-1.4 1.4l-1.4 -1.4ZM588.5 597.5l1.4 1.4l-1.4 1.4l-1.4 -1.4ZM549.2 533.5l1.4 1.4l-1.4 1.4l-1.4 -1.4ZM549.2 591.0l1.4 1.4l-1.4 1.4l-1.4 -1.4ZM560.5 533.8l1.4 1.4l-1.4 1.4l-1.4 -1.4ZM560.5 603.0l1.4 1.4l-1.4 1.4l-1.4 -1.4ZM520.9 534.8l1.4 1.4l-1.4 1.4l-1.4 -1.4ZM520.9 593.0l1.4 1.4l-1.4 1.4l-1.4 -1.4ZM681.7 538.3l1.4 1.4l-1.4 1.4l-1.4 -1.4ZM681.7 590.7l1.4 1.4l-1.4 1.4l-1.4 -1.4ZM523.0 529.7l1.4 1.4l-1.4 1.4l-1.4 -1.4ZM523.0 593.8l1.4 1.4l-1.4 1.4l-1.4 -1.4ZM678.9 538.0l1.4 1.4l-1.4 1.4l-1.4 -1.4ZM678.9 596.2l1.4 1.4l-1.4 1.4l-1.4 -1.4ZM763.2 537.7l1.4 1.4l-1.4 1.4l-1.4 -1.4ZM763.2 597.9l1.4 1.4l-1.4 1.4l-1.4 -1.4ZM747.8 519.2l1.4 1.4l-1.4 1.4l-1.4 -1.4ZM747.8 594.6l1.4 1.4l-1.4 1.4l-1.4 -1.4ZM688.4 536.9l1.4 1.4l-1.4 1.4l-1.4 -1.4ZM688.4 597.9l1.4 1.4l-1.4 1.4l-1.4 -1.4ZM590.7 534.7l1.4 1.4l-1.4 1.4l-1.4 -1.4ZM590.7 595.3l1.4 1.4l-1.4 1.4l-1.4 -1.4ZM789.0 532.4l1.4 1.4l-1.4 1.4l-1.4 -1.4ZM789.0 591.1l1.4 1.4l-1.4 1.4l-1.4 -1.4ZM551.7 536.8l1.4 1.4l-1.4 1.4l-1.4 -1.4ZM551.7 593.0l1.4 1.4l-1.4 1.4l-1.4 -1.4ZM709.4 537.4l1.4 1.4l-1.4 1.4l-1.4 -1.4ZM709.4 594.5l1.4 1.4l-1.4 1.4l-1.4 -1.4ZM632.1 537.1l1.4 1.4l-1.4 1.4l-1.4 -1.4ZM632.1 595.5l1.4 1.4l-1.4 1.4l-1.4 -1.4ZM626.8 523.0l1.4 1.4l-1.4 1.4l-1.4 -1.4ZM626.8 591.3l1.4 1.4l-1.4 1.4l-1.4 -1.4ZM762.6 534.5l1.4 1.4l-1.4 1.4l-1.4 -1.4ZM762.6 593.5l1.4 1.4l-1.4 1.4l-1.4 -1.4ZM522.7 534.4l1.4 1.4l-1.4 1.4l-1.4 -1.4ZM522.7 598.4l1.4 1.4l-1.4 1.4l-1.4 -1.4ZM602.2 533.6l1.4 1.4l-1.4 1.4l-1.4 -1.4ZM602.2 594.2l1.4 1.4l-1.4 1.4l-1.4 -1.4ZM526.4 530.8l1.4 1.4l-1.4 1.4l-1.4 -1.4ZM526.4 592.4l1.4 1.4l-1.4 1.4l-1.4 -1.4ZM640.3 532.9l1.4 1.4l-1.4 1.4l-1.4 -1.4ZM640.3 600.6l1.4 1.4l-1.4 1.4l-1.4 -1.4ZM749.4 536.8l1.4 1.4l-1.4 1.4l-1.4 -1.4ZM749.4 599.6l1.4 1.4l-1.4 1.4l-1.4 -1.4ZM544.6 535.4l1.4 1.4l-1.4 1.4l-1.4 -1.4ZM544.6 593.3l1.4 1.4l-1.4 1.4l-1.4 -1.4ZM753.0 533.5l1.4 1.4l-1.4 1.4l-1.4 -1.4ZM753.0 595.8l1.4 1.4l-1.4 1.4l-1.4 -1.4ZM736.8 536.9l1.4 1.4l-1.4 1.4l-1.4 -1.4ZM736.8 593.4l1.4 1.4l-1.4 1.4l-1.4 -1.4ZM530.0 536.9l1.4 1.4l-1.4 1.4l-1.4 -1.4ZM530.0 591.7l1.4 1.4l-1.4 1.4l-1.4 -1.4ZM713.6 538.0l1.4 1.4l-1.4 1.4l-1.4 -1.4ZM713.6 602.4l1.4 1.4l-1.4 1.4l-1.4 -1.4ZM675.3 536.2l1.4 1.4l-1.4 1.4l-1.4 -1.4ZM675.3 591.2l1.4 1.4l-1.4 1.4l-1.4 -1.4ZM630.4 535.3l1.4 1.4l-1.4 1.4l-1.4 -1.4ZM630.4 591.3l1.4 1.4l-1.4 1.4l-1.4 -1.4ZM785.3 536.8l1.4 1.4l-1.4 1.4l-1.4 -1.4ZM785.3 593.3l1.4 1.4l-1.4 1.4l-1.4 -1.4ZM583.3 536.7l1.4 1.4l-1.4 1.4l-1.4 -1.4ZM583.3 592.2l1.4 1.4l-1.4 1.4l-1.4 -1.4ZM749.5 538.3l1.4 1.4l-1.4 1.4l-1.4 -1.4ZM749.5 592.8l1.4 1.4l-1.4 1.4l-1.4 -1.4ZM674.6 536.0l1.4 1.4l-1.4 1.4l-1.4 -1.4ZM674.6 592.5l1.4 1.4l-1.4 1.4l-1.4 -1.4ZM641.4 538.3l1.4 1.4l-1.4 1.4l-1.4 -1.4ZM641.4 592.4l1.4 1.4l-1.4 1.4l-1.4 -1.4ZM627.1 532.8l1.4 1.4l-1.4 1.4l-1.4 -1.4ZM627.1 593.3l1.4 1.4l-1.4 1.4l-1.4 -1.4ZM621.3 534.4l1.4 1.4l-1.4 1.4l-1.4 -1.4ZM621.3 592.2l1.4 1.4l-1.4 1.4l-1.4 -1.4ZM660.7 537.7l1.4 1.4l-1.4 1.4l-1.4 -1.4ZM660.7 595.2l1.4 1.4l-1.4 1.4l-1.4 -1.4ZM657.5 534.4l1.4 1.4l-1.4 1.4l-1.4 -1.4ZM657.5 600.6l1.4 1.4l-1.4 1.4l-1.4 -1.4ZM732.3 520.7l1.4 1.4l-1.4 1.4l-1.4 -1.4ZM732.3 591.9l1.4 1.4l-1.4 1.4l-1.4 -1.4ZM778.6 536.2l1.4 1.4l-1.4 1.4l-1.4 -1.4ZM778.6 592.8l1.4 1.4l-1.4 1.4l-1.4 -1.4ZM632.9 528.4l1.4 1.4l-1.4 1.4l-1.4 -1.4ZM632.9 605.4l1.4 1.4l-1.4 1.4l-1.4 -1.4ZM735.1 537.2l1.4 1.4l-1.4 1.4l-1.4 -1.4ZM735.1 591.2l1.4 1.4l-1.4 1.4l-1.4 -1.4ZM559.5 534.1l1.4 1.4l-1.4 1.4l-1.4 -1.4ZM559.5 596.4l1.4 1.4l-1.4 1.4l-1.4 -1.4ZM519.2 538.6l1.4 1.4l-1.4 1.4l-1.4 -1.4ZM519.2 616.1l1.4 1.4l-1.4 1.4l-1.4 -1.4ZM598.7 538.4l1.4 1.4l-1.4 1.4l-1.4 -1.4ZM598.7 593.6l1.4 1.4l-1.4 1.4l-1.4 -1.4ZM528.6 531.9l1.4 1.4l-1.4 1.4l-1.4 -1.4ZM528.6 594.2l1.4 1.4l-1.4 1.4l-1.4 -1.4ZM678.8 528.1l1.4 1.4l-1.4 1.4l-1.4 -1.4ZM678.8 591.2l1.4 1.4l-1.4 1.4l-1.4 -1.4ZM562.8 532.4l1.4 1.4l-1.4 1.4l-1.4 -1.4ZM562.8 595.1l1.4 1.4l-1.4 1.4l-1.4 -1.4ZM628.1 536.8l1.4 1.4l-1.4 1.4l-1.4 -1.4ZM628.1 595.2l1.4 1.4l-1.4 1.4l-1.4 -1.4ZM775.9 526.7l1.4 1.4l-1.4 1.4l-1.4 -1.4ZM775.9 602.6l1.4 1.4l-1.4 1.4l-1.4 -1.4ZM785.8 538.0l1.4 1.4l-1.4 1.4l-1.4 -1.4ZM785.8 590.7l1.4 1.4l-1.4 1.4l-1.4 -1.4ZM742.2 537.5l1.4 1.4l-1.4 1.4l-1.4 -1.4ZM742.2 594.1l1.4 1.4l-1.4 1.4l-1.4 -1.4ZM636.8 524.0l1.4 1.4l-1.4 1.4l-1.4 -1.4ZM636.8 593.4l1.4 1.4l-1.4 1.4l-1.4 -1.4ZM539.3 537.7l1.4 1.4l-1.4 1.4l-1.4 -1.4ZM539.3 601.8l1.4 1.4l-1.4 1.4l-1.4 -1.4ZM738.3 538.0l1.4 1.4l-1.4 1.4l-1.4 -1.4ZM738.3 606.5l1.4 1.4l-1.4 1.4l-1.4 -1.4ZM608.6 533.4l1.4 1.4l-1.4 1.4l-1.4 -1.4ZM608.6 594.6l1.4 1.4l-1.4 1.4l-1.4 -1.4ZM750.6 535.9l1.4 1.4l-1.4 1.4l-1.4 -1.4ZM750.6 590.7l1.4 1.4l-1.4 1.4l-1.4 -1.4ZM662.9 531.0l1.4 1.4l-1.4 1.4l-1.4 -1.4ZM662.9 593.1l1.4 1.4l-1.4 1.4l-1.4 -1.4ZM741.4 536.2l1.4 1.4l-1.4 1.4l-1.4 -1.4ZM741.4 592.7l1.4 1.4l-1.4 1.4l-1.4 -1.4ZM604.9 537.6l1.4 1.4l-1.4 1.4l-1.4 -1.4ZM604.9 593.9l1.4 1.4l-1.4 1.4l-1.4 -1.4ZM780.2 535.0l1.4 1.4l-1.4 1.4l-1.4 -1.4ZM780.2 597.6l1.4 1.4l-1.4 1.4l-1.4 -1.4ZM552.4 536.8l1.4 1.4l-1.4 1.4l-1.4 -1.4ZM552.4 594.8l1.4 1.4l-1.4 1.4l-1.4 -1.4ZM612.1 538.6l1.4 1.4l-1.4 1.4l-1.4 -1.4ZM612.1 600.3l1.4 1.4l-1.4 1.4l-1.4 -1.4ZM537.7 534.3l1.4 1.4l-1.4 1.4l-1.4 -1.4ZM537.7 609.5l1.4 1.4l-1.4 1.4l-1.4 -1.4ZM584.6 537.3l1.4 1.4l-1.4 1.4l-1.4 -1.4ZM584.6 592.5l1.4 1.4l-1.4 1.4l-1.4 -1.4ZM658.3 523.0l1.4 1.4l-1.4 1.4l-1.4 -1.4ZM658.3 591.4l1.4 1.4l-1.4 1.4l-1.4 -1.4ZM571.6 529.5l1.4 1.4l-1.4 1.4l-1.4 -1.4ZM571.6 592.2l1.4 1.4l-1.4 1.4l-1.4 -1.4ZM694.9 533.5l1.4 1.4l-1.4 1.4l-1.4 -1.4ZM694.9 590.6l1.4 1.4l-1.4 1.4l-1.4 -1.4ZM508.0 532.9l1.4 1.4l-1.4 1.4l-1.4 -1.4ZM508.0 602.6l1.4 1.4l-1.4 1.4l-1.4 -1.4ZM702.9 536.1l1.4 1.4l-1.4 1.4l-1.4 -1.4ZM702.9 591.1l1.4 1.4l-1.4 1.4l-1.4 -1.4ZM653.9 538.1l1.4 1.4l-1.4 1.4l-1.4 -1.4ZM653.9 592.5l1.4 1.4l-1.4 1.4l-1.4 -1.4ZM510.3 535.7l1.4 1.4l-1.4 1.4l-1.4 -1.4ZM510.3 593.6l1.4 1.4l-1.4 1.4l-1.4 -1.4ZM583.1 537.6l1.4 1.4l-1.4 1.4l-1.4 -1.4ZM583.1 590.9l1.4 1.4l-1.4 1.4l-1.4 -1.4ZM508.1 538.1l1.4 1.4l-1.4 1.4l-1.4 -1.4ZM508.1 610.0l1.4 1.4l-1.4 1.4l-1.4 -1.4ZM509.7 533.6l1.4 1.4l-1.4 1.4l-1.4 -1.4ZM509.7 593.5l1.4 1.4l-1.4 1.4l-1.4 -1.4ZM671.6 537.1l1.4 1.4l-1.4 1.4l-1.4 -1.4ZM671.6 609.6l1.4 1.4l-1.4 1.4l-1.4 -1.4ZM735.9 536.5l1.4 1.4l-1.4 1.4l-1.4 -1.4ZM735.9 593.3l1.4 1.4l-1.4 1.4l-1.4 -1.4ZM768.1 537.9l1.4 1.4l-1.4 1.4l-1.4 -1.4ZM768.1 600.5l1.4 1.4l-1.4 1.4l-1.4 -1.4ZM680.9 535.3l1.4 1.4l-1.4 1.4l-1.4 -1.4ZM680.9 594.3l1.4 1.4l-1.4 1.4l-1.4 -1.4Z" fill="#ffa500" fill-opacity="0.25"/>
<rect x="495.5" y="569" width="4" height="2.6" fill="#ffa500"/>
<rect x="793" y="569" width="5.6" height="2.6" fill="#ffa500"/>
<path d="M615 538.5 617 548 619 538.5Z" fill="#ffcf80"/>
<path d="M615.3 590 618.7 590 618.2 600 617.5 615 616.5 615 615.8 600Z" fill="#ffa500"/>
</g>
<clipPath id="c40"><rect x="89.5" y="684.5" width="330" height="102.9"/></clipPath>
<g clip-path="url(#c40)">
<path d="M106.5 712.99 107.7 712.66 108.9 712.14 110.1 711.61 111.3 712 112.5 711.82 113.7 711.47 114.9 710.68 116.1 711.38 117.3 710.78 118.5 710.91 119.7 711.54 120.9 711.15 122.1 711.29 123.3 711.38 124.5 710.78 125.7 711.83 126.9 711.95 128.1 710.99 129.3 711.63 130.5 711.9 131.7 711.8 132.9 711.81 134.1 711.21 135.3 712.08 136.5 712.12 137.7 711.76 138.9 711.85 140.1 711.44 141.3 711.43 142.5 711.82 143.7 711.85 144.9 711.01 146.1 710.71 147.3 711.62 148.5 710.71 149.7 710.43 150.9 710.53 152.1 710.86 153.3 710.19 154.5 710.52 155.7 711.37 156.9 711.13 158.1 711.85 159.3 712.3 160.5 712.03 161.7 711.79 162.9 711.48 164.1 710.97 165.3 710.52 166.5 710.14 167.7 709.89 168.9 709.63 170.1 709.64 171.3 710.29 172.5 710.56 173.7 710.18 174.9 710.39 176.1 710.37 177.3 711.13 178.5 711.14 179.7 710.46 180.9 710.82 182.1 710.7 183.3 711.34 184.5 710.99 185.7 710.4 186.9 710.67 188.1 710.27 189.3 711.13 190.5 710.82 191.7 710.42 192.9 710.79 194.1 710.39 195.3 710.62 196.5 711.09 197.7 711.09 198.9 710.1 200.1 711.03 201.3 710.93 202.5 710.75 203.7 710.32 204.9 710.14 206.1 710.54 207.3 710.49 208.5 710.15 209.7 710.69 210.9 710.57 212.1 710.28 213.3 710.24 214.5 710.88 215.7 710.77 216.9 710.73 218.1 710.06 219.3 710.07 220.5 709.75 221.7 709.71 222.9 708.77 224.1 706.71 225.3 704.97 226.5 705.6 227.7 706.18 228.9 705.99 230.1 706.31 231.3 706.64 232.5 707 233.7 707.13 234.9 706.53 236.1 707.64 237.3 707.23 238.5 707.9 239.7 708.13 240.9 707.65 242.1 708.44 243.3 708.78 244.5 708.7 245.7 708.65 246.9 709.05 248.1 708.89 249.3 709.56 250.5 709.45 251.7 709.26 252.9 709.56 254.1 709.3 255.3 709.6 256.5 709.99 257.7 710.02 258.9 709.32 260.1 709.38 261.3 709.2 262.5 709.52 263.7 709.67 264.9 710.16 266.1 709.44 267.3 710.29 268.5 709.99 269.7 710.34 270.9 710.02 272.1 710.01 273.3 709.8 274.5 709.4 275.7 709.5 276.9 709.74 278.1 709.06 279.3 709.03 280.5 708.84 281.7 709.63 282.9 708.9 284.1 708.52 285.3 709.26 286.5 709.37 287.7 708.74 288.9 709.28 290.1 709.29 291.3 708.87 292.5 709.4 293.7 709.65 294.9 709.67 296.1 709.57 297.3 709.23 298.5 709.64 299.7 709.24 300.9 710.05 302.1 709.87 303.3 709.48 304.5 709.66 305.7 709.66 306.9 709.21 308.1 709.96 309.3 710.09 310.5 710.27 311.7 709.8 312.9 710.03 314.1 709.86 315.3 710.4 316.5 710.43 317.7 710.04 318.9 709.64 320.1 710.17 321.3 709.53 322.5 709.93 323.7 710.15 324.9 709.77 326.1 710.4 327.3 710.02 328.5 709.78 329.7 710.15 330.9 710.42 332.1 710.7 333.3 710.2 334.5 710.66 335.7 710.48 336.9 710.33 338.1 709.92 339.3 710.24 340.5 710.45 341.7 710.14 342.9 710.81 344.1 710.78 345.3 710.52 346.5 710.72 347.7 711.14 348.9 710.99 350.1 710.6 351.3 711.3 352.5 710.85 353.7 711.63 354.9 710.69 356.1 711.05 357.3 711.51 358.5 710.84 359.7 711.11 360.9 711.95 362.1 711.77 363.3 711.53 364.5 710.99 365.7 711.96 366.9 712.09 368.1 711.82 369.3 712.14 370.5 711.76 371.7 711.64 372.9 711.77 374.1 712.13 375.3 712.28 376.5 711.45 377.7 711.87 378.9 711.85 380.1 711.88 381.3 711.67 382.5 711.46 383.7 711.56 384.9 711.7 386.1 712.13 387.3 712.31 388.5 712.4 389.7 711.56 390.9 712.44 392.1 711.87 393.3 711.5 394.5 712.15 395.7 712.07 396.9 712.49 398.1 712.51 399.3 713.73 400.5 715.48 401.5 717.96 401.5 725.09 400.5 723.7 399.3 722.47 398.1 721.41 396.9 721.58 395.7 721.21 394.5 720.99 393.3 720.11 392.1 720.12 390.9 720.54 389.7 720 388.5 720.08 387.3 720.35 386.1 720.71 384.9 721.57 383.7 721.43 382.5 721.65 381.3 722.04 380.1 721.42 378.9 722.27 377.7 721.68 376.5 722.04 375.3 721.93 374.1 721.37 372.9 721.52 371.7 721.33 370.5 721.54 369.3 721.74 368.1 721.08 366.9 721.28 365.7 721.13 364.5 721.97 363.3 721.41 362.1 721.67 360.9 722.04 359.7 721.42 358.5 721.41 357.3 722.43 356.1 722.44 354.9 722.51 353.7 722.46 352.5 723.17 351.3 722.52 350.1 722.35 348.9 721.96 347.7 721.6 346.5 721.86 345.3 720.69 344.1 720.98 342.9 720.77 341.7 720.74 340.5 719.46 339.3 719.56 338.1 719.84 336.9 719.82 335.7 719.16 334.5 720 333.3 719.62 332.1 719.22 330.9 719.37 329.7 718.81 328.5 719.05 327.3 718.78 326.1 719.47 324.9 718.63 323.7 719.28 322.5 719.24 321.3 718.84 320.1 718.27 318.9 718 317.7 718.79 316.5 718.52 315.3 718.39 314.1 718.71 312.9 718.57 311.7 718.44 310.5 718.42 309.3 717.82 308.1 718.22 306.9 718.72 305.7 718.53 304.5 717.98 303.3 718.09 302.1 717.6 300.9 718.6 299.7 718.12 298.5 717.98 297.3 717.91 296.1 718.29 294.9 718.01 293.7 718.57 292.5 718.55 291.3 718.23 290.1 718.21 288.9 717.76 287.7 717.9 286.5 718.01 285.3 717.68 284.1 717.88 282.9 718.04 281.7 718.23 280.5 718.51 279.3 717.61 278.1 718.21 276.9 718.24 275.7 717.64 274.5 718.1 273.3 718.48 272.1 718.08 270.9 717.47 269.7 717.74 268.5 717.62 267.3 718.41 266.1 718.22 264.9 717.88 263.7 717.81 262.5 718.43 261.3 718.07 260.1 718.36 258.9 717.67 257.7 717.76 256.5 718.39 255.3 718.18 254.1 718.35 252.9 718.47 251.7 717.56 250.5 717.48 249.3 717.44 248.1 717.47 246.9 717.7 245.7 717.43 244.5 716.91 243.3 717.59 242.1 716.86 240.9 716.44 239.7 716.57 238.5 716.54 237.3 716.02 236.1 715.99 234.9 716.02 233.7 716.42 232.5 716.23 231.3 715.3 230.1 715.22 228.9 715.21 227.7 715.44 226.5 715.57 225.3 714.52 224.1 716.14 222.9 717.38 221.7 717.99 220.5 718.48 219.3 718.69 218.1 718.69 216.9 718.13 215.7 718.94 214.5 718.19 213.3 718.28 212.1 718.85 210.9 718.71 209.7 718.57 208.5 719.14 207.3 719.27 206.1 718.75 204.9 718.75 203.7 719.37 202.5 718.59 201.3 718.99 200.1 718.72 198.9 719.06 197.7 718.76 196.5 719.6 195.3 719.58 194.1 719.31 192.9 719.29 191.7 719.87 190.5 719.01 189.3 719.56 188.1 719.01 186.9 719.25 185.7 720.08 184.5 719.99 183.3 719.69 182.1 719.78 180.9 720.04 179.7 719.81 178.5 719.54 177.3 720.12 176.1 719.97 174.9 719.96 173.7 720.36 172.5 720.36 171.3 720.13 170.1 720.27 168.9 719.74 167.7 720.58 166.5 720.45 165.3 720.9 164.1 720.44 162.9 720.87 161.7 720.4 160.5 720.98 159.3 721.31 158.1 721.03 156.9 721.27 155.7 721.42 154.5 721.79 153.3 721.11 152.1 721.18 150.9 721.66 149.7 722.13 148.5 721.66 147.3 722.32 146.1 721.66 144.9 722.46 143.7 721.91 142.5 722.81 141.3 722.19 140.1 722.24 138.9 722.23 137.7 722.43 136.5 722.82 135.3 722.6 134.1 722.45 132.9 722.52 131.7 722.67 130.5 723.29 129.3 722.64 128.1 722.55 126.9 722.75 125.7 722.5 124.5 723.35 123.3 723.38 122.1 723.09 120.9 722.63 119.7 723 118.5 723.39 117.3 723.15 116.1 723.03 114.9 723.58 113.7 723.41 112.5 723.61 111.3 723.44 110.1 723.54 108.9 723.11 107.7 723.18 106.5 723.5Z" fill="#0000ff"/>
<rect x="105.8" y="712" width="2.8" height="33" fill="#0000ff"/>
<path d="M221.2 716 221.2 704 222.3 703.5 222.6 693 224.4 693 224.8 704 225.2 716Z" fill="#0000ff"/>
<path d="M138.2 722.3l1.45 1.45l-1.45 1.45l-1.45 -1.45ZM138.2 726.2l1.45 1.45l-1.45 1.45l-1.45 -1.45ZM138.2 730.4l1.45 1.45l-1.45 1.45l-1.45 -1.45ZM138.2 722.7l1.45 1.45l-1.45 1.45l-1.45 -1.45ZM138.2 739.2l1.45 1.45l-1.45 1.45l-1.45 -1.45ZM138.2 742.0l1.45 1.45l-1.45 1.45l-1.45 -1.45ZM138.2 727.6l1.45 1.45l-1.45 1.45l-1.45 -1.45ZM138.2 736.8l1.45 1.45l-1.45 1.45l-1.45 -1.45ZM138.2 721.6l1.45 1.45l-1.45 1.45l-1.45 -1.45ZM138.2 739.2l1.45 1.45l-1.45 1.45l-1.45 -1.45ZM138.2 742.2l1.45 1.45l-1.45 1.45l-1.45 -1.45ZM138.2 722.4l1.45 1.45l-1.45 1.45l-1.45 -1.45ZM138.2 742.9l1.45 1.45l-1.45 1.45l-1.45 -1.45ZM138.2 723.6l1.45 1.45l-1.45 1.45l-1.45 -1.45ZM138.2 722.0l1.45 1.45l-1.45 1.45l-1.45 -1.45ZM138.2 727.2l1.45 1.45l-1.45 1.45l-1.45 -1.45Z" fill="#0000ff" fill-opacity="0.1" stroke="#0000ff" stroke-width="0.7" stroke-opacity="0.3"/>
<path d="M400.5 730.6l1.45 1.45l-1.45 1.45l-1.45 -1.45ZM400.5 737.1l1.45 1.45l-1.45 1.45l-1.45 -1.45ZM400.5 732.6l1.45 1.45l-1.45 1.45l-1.45 -1.45ZM400.5 739.7l1.45 1.45l-1.45 1.45l-1.45 -1.45ZM400.5 732.6l1.45 1.45l-1.45 1.45l-1.45 -1.45ZM400.5 729.1l1.45 1.45l-1.45 1.45l-1.45 -1.45ZM400.5 729.6l1.45 1.45l-1.45 1.45l-1.45 -1.45ZM400.5 740.8l1.45 1.45l-1.45 1.45l-1.45 -1.45ZM400.5 725.0l1.45 1.45l-1.45 1.45l-1.45 -1.45ZM400.5 728.9l1.45 1.45l-1.45 1.45l-1.45 -1.45ZM400.5 731.5l1.45 1.45l-1.45 1.45l-1.45 -1.45ZM400.5 727.4l1.45 1.45l-1.45 1.45l-1.45 -1.45ZM400.5 740.3l1.45 1.45l-1.45 1.45l-1.45 -1.45ZM400.5 733.4l1.45 1.45l-1.45 1.45l-1.45 -1.45ZM400.5 721.8l1.45 1.45l-1.45 1.45l-1.45 -1.45ZM400.5 724.7l1.45 1.45l-1.45 1.45l-1.45 -1.45Z" fill="#0000ff" fill-opacity="0.1" stroke="#0000ff" stroke-width="0.7" stroke-opacity="0.3"/>
<rect x="103.25" y="785.3" width="5.5" height="2.6" fill="#0000ff"/>
<rect x="112.9" y="785.3" width="3.8" height="2.6" fill="#0000ff"/>
<rect x="137.1" y="785.3" width="2.8" height="2.6" fill="#0000ff"/>
<rect x="155.1" y="785.3" width="2.8" height="2.6" fill="#0000ff"/>
<rect x="207.2" y="785.3" width="3.2" height="2.6" fill="#0000ff"/>
<rect x="258.9" y="785.3" width="4.2" height="2.6" fill="#0000ff"/>
<rect x="310.95" y="785.3" width="4.1" height="2.6" fill="#0000ff"/>
<rect x="363.15" y="785.3" width="3.7" height="2.6" fill="#0000ff"/>
<rect x="392.25" y="785.3" width="3.7" height="2.6" fill="#0000ff"/>
<rect x="399.2" y="785.3" width="6.6" height="2.6" fill="#0000ff"/>
</g>
<clipPath id="c41"><rect x="482.5" y="684.5" width="330" height="102.9"/></clipPath>
<g clip-path="url(#c41)">
<linearGradient id="g3" x1="0" y1="0" x2="0" y2="1"><stop offset="0" stop-color="#ffa500" stop-opacity="0"/><stop offset="0.55" stop-color="#ffa500" stop-opacity="0.31"/><stop offset="1" stop-color="#ffa500" stop-opacity="0.78"/></linearGradient>
<path d="M499 702.5 502.68 702.24 506.37 701.97 510.05 701.71 513.73 701.45 517.41 701.18 521.1 700.92 524.78 700.66 528.46 700.4 532.14 700.13 535.83 699.87 539.51 699.61 543.19 699.34 546.87 699.08 550.56 699.16 554.24 699.39 557.92 699.62 561.6 699.85 565.28 700.08 568.97 700.31 572.65 700.54 576.33 700.77 580.01 701 583.7 701.31 587.38 701.62 591.06 701.92 594.75 702.23 598.43 702.54 602.11 702.84 605.79 703.15 609.48 703.46 613.16 703.76 616.84 705.68 620.52 706.8 624.21 706.55 627.89 706.3 631.57 706.05 635.25 705.8 638.93 705.55 642.62 705.3 646.3 705.05 649.98 705.15 653.66 705.33 657.35 705.52 661.03 705.7 664.71 705.89 668.39 706.07 672.08 706.25 675.76 706.44 679.44 706.62 683.12 706.81 686.81 706.99 690.49 707.17 694.17 707.36 697.86 707.54 701.54 707.73 705.22 707.91 708.9 708 712.59 708 716.27 708 719.95 708 723.63 708 727.32 708 731 708 734.68 708 738.36 708 742.05 708 745.73 708 749.41 708 753.09 708 756.77 708 760.46 708 764.14 708 767.82 708 771.5 708 775.19 708 778.87 708 782.55 708 786.24 708 789.92 708 793.6 708 793.6 700.29 789.92 700.14 786.24 699.46 782.55 698.65 778.87 698.3 775.19 698.71 771.5 699.64 767.82 700.41 764.14 700.45 760.46 699.66 756.77 698.48 753.09 697.57 749.41 697.26 745.73 697.36 742.05 697.35 738.36 696.83 734.68 695.92 731 695.17 727.32 695.19 723.63 696.17 719.95 697.69 716.27 699.04 712.59 699.73 708.9 699.78 705.22 699.6 701.54 699.68 697.86 700.22 694.17 700.8 690.49 700.84 686.81 700.07 683.12 698.79 679.44 697.67 675.76 697.28 672.08 697.68 668.39 698.39 664.71 698.76 661.03 698.5 657.35 697.82 653.66 697.27 649.98 697.23 646.3 697.68 642.62 698.3 638.93 698.2 635.25 697.23 631.57 695.86 627.89 694.79 624.21 694.51 620.52 694.94 616.84 694.21 613.16 692.35 609.48 691.71 605.79 691.08 602.11 691 598.43 691.71 594.75 692.87 591.06 693.79 587.38 693.91 583.7 693.23 580.01 692.23 576.33 691.63 572.65 691.65 568.97 692.02 565.28 692.19 561.6 691.79 557.92 690.96 554.24 690.28 550.56 690.28 546.87 691.21 543.19 692.77 539.51 693.93 535.83 694.24 532.14 693.82 528.46 693.24 524.78 693.01 521.1 693.21 517.41 693.44 513.73 693.17 510.05 692.22 506.37 690.94 502.68 690.04 499 690.03Z" fill="url(#g3)"/>
<linearGradient id="g4" x1="0" y1="0" x2="0" y2="1"><stop offset="0" stop-color="#ffa500" stop-opacity="0.78"/><stop offset="0.45" stop-color="#ffa500" stop-opacity="0.31"/><stop offset="1" stop-color="#ffa500" stop-opacity="0"/></linearGradient>
<path d="M499 751.5 502.68 750.97 506.37 750.45 510.05 749.92 513.73 749.4 517.41 748.87 521.1 748.34 524.78 747.82 528.46 747.29 532.14 746.77 535.83 746.24 539.51 745.71 543.19 745.19 546.87 744.66 550.56 744.7 554.24 744.99 557.92 745.27 561.6 745.56 565.28 745.85 568.97 746.14 572.65 746.43 576.33 746.71 580.01 747 583.7 747.26 587.38 747.51 591.06 747.77 594.75 748.02 598.43 748.28 602.11 748.54 605.79 748.79 609.48 749.05 613.16 749.3 616.84 750.62 620.52 751.53 624.21 751.57 627.89 751.62 631.57 751.66 635.25 751.7 638.93 751.74 642.62 751.78 646.3 751.82 649.98 751.86 653.66 751.9 657.35 751.95 661.03 751.99 664.71 752.03 668.39 752.07 672.08 752.11 675.76 752.15 679.44 752.19 683.12 752.23 686.81 752.27 690.49 752.32 694.17 752.36 697.86 752.4 701.54 752.44 705.22 752.48 708.9 752.51 712.59 752.53 716.27 752.55 719.95 752.57 723.63 752.6 727.32 752.62 731 752.64 734.68 752.66 738.36 752.68 742.05 752.7 745.73 752.72 749.41 752.74 753.09 752.77 756.77 752.79 760.46 752.81 764.14 752.83 767.82 752.85 771.5 752.87 775.19 752.89 778.87 752.91 782.55 752.94 786.24 752.96 789.92 752.98 793.6 753 793.6 763.32 789.92 763.82 786.24 763.68 782.55 763.18 778.87 762.84 775.19 763.04 771.5 763.63 767.82 764.02 764.14 763.65 760.46 762.42 756.77 760.78 753.09 759.46 749.41 758.9 745.73 759.03 742.05 759.31 738.36 759.25 734.68 758.81 731 758.41 727.32 758.62 723.63 759.62 719.95 761.08 716.27 762.28 712.59 762.7 708.9 762.31 705.22 761.64 701.54 761.29 697.86 761.53 694.17 762.09 690.49 762.42 686.81 762.16 683.12 761.48 679.44 760.97 675.76 761.18 672.08 762.16 668.39 763.43 664.71 764.29 661.03 764.3 657.35 763.63 653.66 762.82 649.98 762.37 646.3 762.34 642.62 762.29 638.93 761.7 635.25 760.39 631.57 758.78 627.89 757.55 624.21 757.21 620.52 757.72 616.84 757.67 613.16 756.88 609.48 756.59 605.79 756.03 602.11 755.75 598.43 756.05 594.75 756.75 591.06 757.24 587.38 757.01 583.7 756.02 580.01 754.77 576.33 753.92 572.65 753.9 568.97 754.51 565.28 755.17 561.6 755.37 557.92 755.08 554.24 754.74 550.56 754.87 546.87 755.86 543.19 757.6 539.51 758.86 535.83 759.18 532.14 758.64 528.46 757.85 524.78 757.45 521.1 757.66 517.41 758.18 513.73 758.46 510.05 758.23 506.37 757.69 502.68 757.45 499 758.01Z" fill="url(#g4)"/>
<path d="M499 701.74 500.5 701.93 502 701.95 503.5 700.35 505 700.92 506.5 700.58 508 700.75 509.5 700.98 511 700.18 512.5 700.38 514 699.87 515.5 700 517 699.54 518.5 700.23 520 700.69 521.5 700.59 523 699.34 524.5 700.34 526 699.26 527.5 699.22 529 700.24 530.5 698.68 532 700.08 533.5 698.3 535 698.25 536.5 699.39 538 698.26 539.5 698.14 541 699.25 542.5 698.05 544 699.04 545.5 697.35 547 697.69 548.5 697.07 550 699.02 551.5 698.58 553 698.07 554.5 698.19 556 699.14 557.5 697.82 559 697.99 560.5 699.18 562 699.58 563.5 698.63 565 699.25 566.5 698.83 568 699.26 569.5 699.55 571 700.39 572.5 700.26 574 699.71 575.5 699.26 577 699.96 578.5 699.42 580 699.92 581.5 699.36 583 699.94 584.5 700.73 586 701.22 587.5 701.49 589 701.67 590.5 700.15 592 700.25 593.5 700.62 595 702.03 596.5 701.05 598 702.24 599.5 700.85 601 701.44 602.5 701.38 604 701.78 605.5 702.29 607 701.55 608.5 701.45 610 703.02 611.5 702.75 613 702.28 614.5 702.52 616 703.18 617.5 706.1 619 704.96 620.5 706.24 622 706.27 623.5 705.22 625 705.94 626.5 704.59 628 705.64 629.5 704.34 631 705.33 632.5 704.21 634 704.38 635.5 704.32 637 705.25 638.5 705.25 640 705.41 641.5 705.01 643 703.94 644.5 705.04 646 704.59 647.5 703.89 649 704.79 650.5 704.52 652 704.79 653.5 703.97 655 705.16 656.5 703.48 658 704.35 659.5 704.2 661 704.59 662.5 704.78 664 703.91 665.5 704.14 667 704.36 668.5 706.02 670 704.97 671.5 704.34 673 705.02 674.5 705.35 676 705.15 677.5 706.17 679 705.14 680.5 705.11 682 706.61 683.5 705.81 685 705.71 686.5 706.27 688 705.69 689.5 705.28 691 705.39 692.5 706.66 694 707.05 695.5 705.72 697 706.28 698.5 705.92 700 705.91 701.5 707.17 703 706.63 704.5 707.27 706 706.36 707.5 706.62 709 707.52 710.5 707 712 706.81 713.5 707.53 715 707.64 716.5 707.05 718 707.86 719.5 707.01 721 706.12 722.5 706.35 724 707.89 725.5 706.35 727 706.57 728.5 706.58 730 707.95 731.5 706.48 733 707.61 734.5 706.39 736 707.36 737.5 707.27 739 707.66 740.5 706.26 742 707.56 743.5 706.25 745 706.97 746.5 707.7 748 706.69 749.5 706.94 751 707.95 752.5 706.35 754 707.46 755.5 707.95 757 706.47 758.5 706.55 760 707.23 761.5 707.63 763 706.95 764.5 706.83 766 706.62 767.5 707.02 769 706.86 770.5 706.56 772 707.62 773.5 707.64 775 707.03 776.5 706.49 778 706.39 779.5 706.29 781 707.12 782.5 706.57 784 707.79 785.5 707.22 787 707.87 788.5 706.33 790 706 791.5 706.66 793 706.5 793.6 707.26 793.6 754.78 793 754.42 791.5 753.78 790 754.91 788.5 754.64 787 753.78 785.5 753.45 784 753.83 782.5 752.97 781 754.83 779.5 753.18 778 753.72 776.5 753.76 775 753.09 773.5 753.34 772 753.88 770.5 754.05 769 754.71 767.5 754.03 766 754.18 764.5 754.33 763 753.88 761.5 754.61 760 753.84 758.5 754.68 757 753.46 755.5 753.26 754 753.29 752.5 753.34 751 752.98 749.5 753.44 748 753.2 746.5 754.57 745 754.35 743.5 754.6 742 754.42 740.5 753.64 739 753.26 737.5 753.57 736 752.86 734.5 752.96 733 754.18 731.5 753.41 730 753.33 728.5 753.58 727 753.32 725.5 753.44 724 753.62 722.5 752.76 721 753.02 719.5 753.08 718 753.65 716.5 753.47 715 752.92 713.5 754.03 712 754.42 710.5 753.12 709 752.8 707.5 754.4 706 753.22 704.5 754.45 703 752.64 701.5 753.73 700 753.99 698.5 754.27 697 753.5 695.5 752.54 694 753.34 692.5 752.35 691 753.02 689.5 752.6 688 754.26 686.5 752.62 685 754.16 683.5 753.84 682 753.8 680.5 752.74 679 753.79 677.5 752.33 676 753.81 674.5 752.46 673 753.17 671.5 752.28 670 753.07 668.5 752.61 667 752.59 665.5 754.01 664 752.39 662.5 752.58 661 753.36 659.5 752.99 658 752.99 656.5 753.73 655 753.76 653.5 753.81 652 752.63 650.5 752.81 649 752.62 647.5 752.91 646 753.55 644.5 753.61 643 753.63 641.5 751.94 640 752.99 638.5 752.97 637 751.79 635.5 752.24 634 752.55 632.5 752.57 631 752.79 629.5 753.53 628 751.65 626.5 753.14 625 753.53 623.5 753.48 622 753.18 620.5 752.91 619 753.13 617.5 753.29 616 751.29 614.5 749.56 613 750.21 611.5 750.46 610 750.54 608.5 750.94 607 750.12 605.5 750.49 604 750.59 602.5 749.7 601 748.63 599.5 749.2 598 748.6 596.5 748.88 595 748.63 593.5 748.34 592 747.91 590.5 749.04 589 748.53 587.5 749.41 586 748.25 584.5 749.17 583 747.68 581.5 748.4 580 747.02 578.5 748.39 577 747.85 575.5 747.46 574 747.14 572.5 748.4 571 747.99 569.5 746.36 568 746.6 566.5 747.65 565 746.33 563.5 746.27 562 746.92 560.5 745.86 559 746.4 557.5 746.75 556 746.75 554.5 745.5 553 746.7 551.5 746.16 550 745.2 548.5 745.6 547 746.01 545.5 745.36 544 746.04 542.5 747.06 541 746.56 539.5 746.66 538 747.73 536.5 746.48 535 747.05 533.5 748.13 532 748.49 530.5 747.55 529 749.14 527.5 749.26 526 749.44 524.5 749.24 523 749.83 521.5 750.23 520 750.3 518.5 749.1 517 750.6 515.5 749.77 514 751.16 512.5 750.2 511 751.47 509.5 750.18 508 750.53 506.5 750.77 505 752.37 503.5 751.56 502 751.81 500.5 751.46 499 753.09Z" fill="#ffa500"/>
<path d="M661.8 702.2l1.4 1.4l-1.4 1.4l-1.4 -1.4ZM661.8 756.9l1.4 1.4l-1.4 1.4l-1.4 -1.4ZM668.6 698.0l1.4 1.4l-1.4 1.4l-1.4 -1.4ZM668.6 755.9l1.4 1.4l-1.4 1.4l-1.4 -1.4ZM745.2 704.1l1.4 1.4l-1.4 1.4l-1.4 -1.4ZM745.2 752.1l1.4 1.4l-1.4 1.4l-1.4 -1.4ZM544.2 692.2l1.4 1.4l-1.4 1.4l-1.4 -1.4ZM544.2 744.5l1.4 1.4l-1.4 1.4l-1.4 -1.4ZM691.4 701.6l1.4 1.4l-1.4 1.4l-1.4 -1.4ZM691.4 751.2l1.4 1.4l-1.4 1.4l-1.4 -1.4ZM729.2 706.5l1.4 1.4l-1.4 1.4l-1.4 -1.4ZM729.2 760.9l1.4 1.4l-1.4 1.4l-1.4 -1.4ZM745.7 705.5l1.4 1.4l-1.4 1.4l-1.4 -1.4ZM745.7 757.5l1.4 1.4l-1.4 1.4l-1.4 -1.4ZM714.1 706.0l1.4 1.4l-1.4 1.4l-1.4 -1.4ZM714.1 756.5l1.4 1.4l-1.4 1.4l-1.4 -1.4ZM536.6 687.7l1.4 1.4l-1.4 1.4l-1.4 -1.4ZM536.6 750.3l1.4 1.4l-1.4 1.4l-1.4 -1.4ZM786.3 706.4l1.4 1.4l-1.4 1.4l-1.4 -1.4ZM786.3 753.4l1.4 1.4l-1.4 1.4l-1.4 -1.4ZM681.3 701.2l1.4 1.4l-1.4 1.4l-1.4 -1.4ZM681.3 751.8l1.4 1.4l-1.4 1.4l-1.4 -1.4ZM759.4 698.4l1.4 1.4l-1.4 1.4l-1.4 -1.4ZM759.4 753.1l1.4 1.4l-1.4 1.4l-1.4 -1.4ZM543.0 693.1l1.4 1.4l-1.4 1.4l-1.4 -1.4ZM543.0 746.3l1.4 1.4l-1.4 1.4l-1.4 -1.4ZM693.9 703.0l1.4 1.4l-1.4 1.4l-1.4 -1.4ZM693.9 753.4l1.4 1.4l-1.4 1.4l-1.4 -1.4ZM506.8 699.9l1.4 1.4l-1.4 1.4l-1.4 -1.4ZM506.8 751.9l1.4 1.4l-1.4 1.4l-1.4 -1.4ZM712.8 704.2l1.4 1.4l-1.4 1.4l-1.4 -1.4ZM712.8 757.7l1.4 1.4l-1.4 1.4l-1.4 -1.4ZM657.9 694.8l1.4 1.4l-1.4 1.4l-1.4 -1.4ZM657.9 755.7l1.4 1.4l-1.4 1.4l-1.4 -1.4ZM594.4 700.1l1.4 1.4l-1.4 1.4l-1.4 -1.4ZM594.4 746.9l1.4 1.4l-1.4 1.4l-1.4 -1.4ZM512.0 691.4l1.4 1.4l-1.4 1.4l-1.4 -1.4ZM512.0 758.2l1.4 1.4l-1.4 1.4l-1.4 -1.4ZM719.6 706.1l1.4 1.4l-1.4 1.4l-1.4 -1.4ZM719.6 756.4l1.4 1.4l-1.4 1.4l-1.4 -1.4ZM537.7 688.7l1.4 1.4l-1.4 1.4l-1.4 -1.4ZM537.7 749.7l1.4 1.4l-1.4 1.4l-1.4 -1.4ZM719.1 702.5l1.4 1.4l-1.4 1.4l-1.4 -1.4ZM719.1 753.8l1.4 1.4l-1.4 1.4l-1.4 -1.4ZM747.9 692.2l1.4 1.4l-1.4 1.4l-1.4 -1.4ZM747.9 752.7l1.4 1.4l-1.4 1.4l-1.4 -1.4ZM628.0 699.1l1.4 1.4l-1.4 1.4l-1.4 -1.4ZM628.0 755.7l1.4 1.4l-1.4 1.4l-1.4 -1.4ZM620.2 702.8l1.4 1.4l-1.4 1.4l-1.4 -1.4ZM620.2 766.6l1.4 1.4l-1.4 1.4l-1.4 -1.4ZM581.0 698.6l1.4 1.4l-1.4 1.4l-1.4 -1.4ZM581.0 751.2l1.4 1.4l-1.4 1.4l-1.4 -1.4ZM581.3 689.7l1.4 1.4l-1.4 1.4l-1.4 -1.4ZM581.3 747.6l1.4 1.4l-1.4 1.4l-1.4 -1.4ZM770.1 704.5l1.4 1.4l-1.4 1.4l-1.4 -1.4ZM770.1 761.9l1.4 1.4l-1.4 1.4l-1.4 -1.4ZM719.5 700.8l1.4 1.4l-1.4 1.4l-1.4 -1.4ZM719.5 752.3l1.4 1.4l-1.4 1.4l-1.4 -1.4ZM548.4 697.5l1.4 1.4l-1.4 1.4l-1.4 -1.4ZM548.4 744.1l1.4 1.4l-1.4 1.4l-1.4 -1.4ZM694.9 705.7l1.4 1.4l-1.4 1.4l-1.4 -1.4ZM694.9 752.3l1.4 1.4l-1.4 1.4l-1.4 -1.4ZM665.8 703.8l1.4 1.4l-1.4 1.4l-1.4 -1.4ZM665.8 752.6l1.4 1.4l-1.4 1.4l-1.4 -1.4ZM567.1 693.8l1.4 1.4l-1.4 1.4l-1.4 -1.4ZM567.1 745.2l1.4 1.4l-1.4 1.4l-1.4 -1.4ZM791.4 702.6l1.4 1.4l-1.4 1.4l-1.4 -1.4ZM791.4 757.6l1.4 1.4l-1.4 1.4l-1.4 -1.4ZM661.6 701.3l1.4 1.4l-1.4 1.4l-1.4 -1.4ZM661.6 767.5l1.4 1.4l-1.4 1.4l-1.4 -1.4ZM761.1 699.0l1.4 1.4l-1.4 1.4l-1.4 -1.4ZM761.1 751.6l1.4 1.4l-1.4 1.4l-1.4 -1.4ZM672.4 692.4l1.4 1.4l-1.4 1.4l-1.4 -1.4ZM672.4 755.6l1.4 1.4l-1.4 1.4l-1.4 -1.4ZM650.1 699.1l1.4 1.4l-1.4 1.4l-1.4 -1.4ZM650.1 751.4l1.4 1.4l-1.4 1.4l-1.4 -1.4ZM712.7 699.9l1.4 1.4l-1.4 1.4l-1.4 -1.4ZM712.7 751.5l1.4 1.4l-1.4 1.4l-1.4 -1.4ZM649.2 699.7l1.4 1.4l-1.4 1.4l-1.4 -1.4ZM649.2 752.5l1.4 1.4l-1.4 1.4l-1.4 -1.4ZM699.3 695.0l1.4 1.4l-1.4 1.4l-1.4 -1.4ZM699.3 762.4l1.4 1.4l-1.4 1.4l-1.4 -1.4ZM590.2 699.7l1.4 1.4l-1.4 1.4l-1.4 -1.4ZM590.2 755.5l1.4 1.4l-1.4 1.4l-1.4 -1.4ZM678.9 697.4l1.4 1.4l-1.4 1.4l-1.4 -1.4ZM678.9 760.5l1.4 1.4l-1.4 1.4l-1.4 -1.4ZM582.0 695.9l1.4 1.4l-1.4 1.4l-1.4 -1.4ZM582.0 747.5l1.4 1.4l-1.4 1.4l-1.4 -1.4ZM733.0 701.4l1.4 1.4l-1.4 1.4l-1.4 -1.4ZM733.0 752.6l1.4 1.4l-1.4 1.4l-1.4 -1.4ZM646.3 699.7l1.4 1.4l-1.4 1.4l-1.4 -1.4ZM646.3 751.7l1.4 1.4l-1.4 1.4l-1.4 -1.4ZM553.7 695.1l1.4 1.4l-1.4 1.4l-1.4 -1.4ZM553.7 743.9l1.4 1.4l-1.4 1.4l-1.4 -1.4ZM644.9 691.4l1.4 1.4l-1.4 1.4l-1.4 -1.4ZM644.9 758.8l1.4 1.4l-1.4 1.4l-1.4 -1.4ZM516.3 692.2l1.4 1.4l-1.4 1.4l-1.4 -1.4ZM516.3 753.7l1.4 1.4l-1.4 1.4l-1.4 -1.4ZM707.0 706.5l1.4 1.4l-1.4 1.4l-1.4 -1.4ZM707.0 757.9l1.4 1.4l-1.4 1.4l-1.4 -1.4ZM557.5 691.0l1.4 1.4l-1.4 1.4l-1.4 -1.4ZM557.5 745.7l1.4 1.4l-1.4 1.4l-1.4 -1.4ZM607.4 701.1l1.4 1.4l-1.4 1.4l-1.4 -1.4ZM607.4 757.2l1.4 1.4l-1.4 1.4l-1.4 -1.4ZM565.2 689.6l1.4 1.4l-1.4 1.4l-1.4 -1.4ZM565.2 747.9l1.4 1.4l-1.4 1.4l-1.4 -1.4ZM543.8 693.2l1.4 1.4l-1.4 1.4l-1.4 -1.4ZM543.8 747.3l1.4 1.4l-1.4 1.4l-1.4 -1.4ZM508.4 692.8l1.4 1.4l-1.4 1.4l-1.4 -1.4ZM508.4 750.3l1.4 1.4l-1.4 1.4l-1.4 -1.4ZM507.5 694.1l1.4 1.4l-1.4 1.4l-1.4 -1.4ZM507.5 755.1l1.4 1.4l-1.4 1.4l-1.4 -1.4ZM613.0 701.4l1.4 1.4l-1.4 1.4l-1.4 -1.4ZM613.0 751.5l1.4 1.4l-1.4 1.4l-1.4 -1.4ZM671.5 699.7l1.4 1.4l-1.4 1.4l-1.4 -1.4ZM671.5 753.9l1.4 1.4l-1.4 1.4l-1.4 -1.4ZM666.1 698.9l1.4 1.4l-1.4 1.4l-1.4 -1.4ZM666.1 751.7l1.4 1.4l-1.4 1.4l-1.4 -1.4ZM553.2 695.0l1.4 1.4l-1.4 1.4l-1.4 -1.4ZM553.2 750.2l1.4 1.4l-1.4 1.4l-1.4 -1.4ZM734.6 698.2l1.4 1.4l-1.4 1.4l-1.4 -1.4ZM734.6 754.0l1.4 1.4l-1.4 1.4l-1.4 -1.4ZM708.6 706.1l1.4 1.4l-1.4 1.4l-1.4 -1.4ZM708.6 753.5l1.4 1.4l-1.4 1.4l-1.4 -1.4ZM520.0 691.7l1.4 1.4l-1.4 1.4l-1.4 -1.4ZM520.0 787.4l1.4 1.4l-1.4 1.4l-1.4 -1.4ZM695.8 699.9l1.4 1.4l-1.4 1.4l-1.4 -1.4ZM695.8 753.2l1.4 1.4l-1.4 1.4l-1.4 -1.4ZM732.3 706.2l1.4 1.4l-1.4 1.4l-1.4 -1.4ZM732.3 753.5l1.4 1.4l-1.4 1.4l-1.4 -1.4ZM602.8 692.7l1.4 1.4l-1.4 1.4l-1.4 -1.4ZM602.8 748.1l1.4 1.4l-1.4 1.4l-1.4 -1.4ZM546.9 697.3l1.4 1.4l-1.4 1.4l-1.4 -1.4ZM546.9 752.1l1.4 1.4l-1.4 1.4l-1.4 -1.4ZM592.5 690.4l1.4 1.4l-1.4 1.4l-1.4 -1.4ZM592.5 748.3l1.4 1.4l-1.4 1.4l-1.4 -1.4ZM744.5 705.6l1.4 1.4l-1.4 1.4l-1.4 -1.4ZM744.5 762.5l1.4 1.4l-1.4 1.4l-1.4 -1.4ZM784.4 697.3l1.4 1.4l-1.4 1.4l-1.4 -1.4ZM784.4 757.2l1.4 1.4l-1.4 1.4l-1.4 -1.4ZM761.9 695.8l1.4 1.4l-1.4 1.4l-1.4 -1.4ZM761.9 767.3l1.4 1.4l-1.4 1.4l-1.4 -1.4ZM580.8 691.3l1.4 1.4l-1.4 1.4l-1.4 -1.4ZM580.8 752.9l1.4 1.4l-1.4 1.4l-1.4 -1.4ZM601.4 700.6l1.4 1.4l-1.4 1.4l-1.4 -1.4ZM601.4 758.1l1.4 1.4l-1.4 1.4l-1.4 -1.4ZM638.2 700.9l1.4 1.4l-1.4 1.4l-1.4 -1.4ZM638.2 760.8l1.4 1.4l-1.4 1.4l-1.4 -1.4ZM641.6 702.7l1.4 1.4l-1.4 1.4l-1.4 -1.4ZM641.6 755.9l1.4 1.4l-1.4 1.4l-1.4 -1.4ZM655.7 702.6l1.4 1.4l-1.4 1.4l-1.4 -1.4ZM655.7 756.2l1.4 1.4l-1.4 1.4l-1.4 -1.4ZM764.1 705.4l1.4 1.4l-1.4 1.4l-1.4 -1.4ZM764.1 759.5l1.4 1.4l-1.4 1.4l-1.4 -1.4ZM720.3 703.3l1.4 1.4l-1.4 1.4l-1.4 -1.4ZM720.3 752.2l1.4 1.4l-1.4 1.4l-1.4 -1.4ZM694.4 704.5l1.4 1.4l-1.4 1.4l-1.4 -1.4ZM694.4 752.3l1.4 1.4l-1.4 1.4l-1.4 -1.4ZM749.4 705.2l1.4 1.4l-1.4 1.4l-1.4 -1.4ZM749.4 751.8l1.4 1.4l-1.4 1.4l-1.4 -1.4ZM747.0 683.4l1.4 1.4l-1.4 1.4l-1.4 -1.4ZM747.0 753.1l1.4 1.4l-1.4 1.4l-1.4 -1.4ZM618.6 702.1l1.4 1.4l-1.4 1.4l-1.4 -1.4ZM618.6 756.8l1.4 1.4l-1.4 1.4l-1.4 -1.4ZM504.1 696.1l1.4 1.4l-1.4 1.4l-1.4 -1.4ZM504.1 750.7l1.4 1.4l-1.4 1.4l-1.4 -1.4ZM771.4 704.2l1.4 1.4l-1.4 1.4l-1.4 -1.4ZM771.4 765.3l1.4 1.4l-1.4 1.4l-1.4 -1.4ZM631.8 699.9l1.4 1.4l-1.4 1.4l-1.4 -1.4ZM631.8 750.4l1.4 1.4l-1.4 1.4l-1.4 -1.4ZM559.6 696.8l1.4 1.4l-1.4 1.4l-1.4 -1.4ZM559.6 746.2l1.4 1.4l-1.4 1.4l-1.4 -1.4ZM551.0 695.4l1.4 1.4l-1.4 1.4l-1.4 -1.4ZM551.0 743.8l1.4 1.4l-1.4 1.4l-1.4 -1.4ZM665.6 690.0l1.4 1.4l-1.4 1.4l-1.4 -1.4ZM665.6 760.0l1.4 1.4l-1.4 1.4l-1.4 -1.4ZM681.9 687.7l1.4 1.4l-1.4 1.4l-1.4 -1.4ZM681.9 757.1l1.4 1.4l-1.4 1.4l-1.4 -1.4ZM685.4 702.8l1.4 1.4l-1.4 1.4l-1.4 -1.4ZM685.4 751.3l1.4 1.4l-1.4 1.4l-1.4 -1.4ZM761.0 696.6l1.4 1.4l-1.4 1.4l-1.4 -1.4ZM761.0 759.3l1.4 1.4l-1.4 1.4l-1.4 -1.4ZM701.4 699.0l1.4 1.4l-1.4 1.4l-1.4 -1.4ZM701.4 766.3l1.4 1.4l-1.4 1.4l-1.4 -1.4ZM783.9 700.1l1.4 1.4l-1.4 1.4l-1.4 -1.4ZM783.9 751.6l1.4 1.4l-1.4 1.4l-1.4 -1.4ZM776.7 702.9l1.4 1.4l-1.4 1.4l-1.4 -1.4ZM776.7 754.4l1.4 1.4l-1.4 1.4l-1.4 -1.4ZM626.2 703.6l1.4 1.4l-1.4 1.4l-1.4 -1.4ZM626.2 750.4l1.4 1.4l-1.4 1.4l-1.4 -1.4ZM680.8 701.1l1.4 1.4l-1.4 1.4l-1.4 -1.4ZM680.8 751.2l1.4 1.4l-1.4 1.4l-1.4 -1.4ZM769.6 696.3l1.4 1.4l-1.4 1.4l-1.4 -1.4ZM769.6 761.1l1.4 1.4l-1.4 1.4l-1.4 -1.4ZM657.2 702.0l1.4 1.4l-1.4 1.4l-1.4 -1.4ZM657.2 753.6l1.4 1.4l-1.4 1.4l-1.4 -1.4ZM608.6 688.3l1.4 1.4l-1.4 1.4l-1.4 -1.4ZM608.6 759.7l1.4 1.4l-1.4 1.4l-1.4 -1.4ZM762.5 703.4l1.4 1.4l-1.4 1.4l-1.4 -1.4ZM762.5 754.9l1.4 1.4l-1.4 1.4l-1.4 -1.4ZM700.9 704.8l1.4 1.4l-1.4 1.4l-1.4 -1.4ZM700.9 752.0l1.4 1.4l-1.4 1.4l-1.4 -1.4ZM787.7 705.2l1.4 1.4l-1.4 1.4l-1.4 -1.4ZM787.7 753.1l1.4 1.4l-1.4 1.4l-1.4 -1.4ZM644.1 703.4l1.4 1.4l-1.4 1.4l-1.4 -1.4ZM644.1 754.0l1.4 1.4l-1.4 1.4l-1.4 -1.4ZM547.2 689.9l1.4 1.4l-1.4 1.4l-1.4 -1.4ZM547.2 743.6l1.4 1.4l-1.4 1.4l-1.4 -1.4ZM734.4 705.2l1.4 1.4l-1.4 1.4l-1.4 -1.4ZM734.4 758.7l1.4 1.4l-1.4 1.4l-1.4 -1.4ZM734.0 692.9l1.4 1.4l-1.4 1.4l-1.4 -1.4ZM734.0 752.2l1.4 1.4l-1.4 1.4l-1.4 -1.4ZM787.6 705.9l1.4 1.4l-1.4 1.4l-1.4 -1.4ZM787.6 753.6l1.4 1.4l-1.4 1.4l-1.4 -1.4ZM502.6 697.8l1.4 1.4l-1.4 1.4l-1.4 -1.4ZM502.6 750.0l1.4 1.4l-1.4 1.4l-1.4 -1.4ZM662.5 692.5l1.4 1.4l-1.4 1.4l-1.4 -1.4ZM662.5 757.9l1.4 1.4l-1.4 1.4l-1.4 -1.4ZM689.4 705.3l1.4 1.4l-1.4 1.4l-1.4 -1.4ZM689.4 771.6l1.4 1.4l-1.4 1.4l-1.4 -1.4ZM606.9 688.7l1.4 1.4l-1.4 1.4l-1.4 -1.4ZM606.9 748.2l1.4 1.4l-1.4 1.4l-1.4 -1.4ZM587.7 687.3l1.4 1.4l-1.4 1.4l-1.4 -1.4ZM587.7 752.7l1.4 1.4l-1.4 1.4l-1.4 -1.4ZM554.8 695.3l1.4 1.4l-1.4 1.4l-1.4 -1.4ZM554.8 747.4l1.4 1.4l-1.4 1.4l-1.4 -1.4ZM573.9 698.1l1.4 1.4l-1.4 1.4l-1.4 -1.4ZM573.9 745.5l1.4 1.4l-1.4 1.4l-1.4 -1.4ZM649.1 701.3l1.4 1.4l-1.4 1.4l-1.4 -1.4ZM649.1 752.5l1.4 1.4l-1.4 1.4l-1.4 -1.4ZM640.4 702.2l1.4 1.4l-1.4 1.4l-1.4 -1.4ZM640.4 752.7l1.4 1.4l-1.4 1.4l-1.4 -1.4ZM723.2 705.9l1.4 1.4l-1.4 1.4l-1.4 -1.4ZM723.2 751.7l1.4 1.4l-1.4 1.4l-1.4 -1.4ZM630.8 703.2l1.4 1.4l-1.4 1.4l-1.4 -1.4ZM630.8 753.3l1.4 1.4l-1.4 1.4l-1.4 -1.4ZM751.2 693.7l1.4 1.4l-1.4 1.4l-1.4 -1.4ZM751.2 759.5l1.4 1.4l-1.4 1.4l-1.4 -1.4ZM769.0 705.4l1.4 1.4l-1.4 1.4l-1.4 -1.4ZM769.0 753.5l1.4 1.4l-1.4 1.4l-1.4 -1.4ZM533.1 697.2l1.4 1.4l-1.4 1.4l-1.4 -1.4ZM533.1 746.7l1.4 1.4l-1.4 1.4l-1.4 -1.4ZM570.4 697.2l1.4 1.4l-1.4 1.4l-1.4 -1.4ZM570.4 758.4l1.4 1.4l-1.4 1.4l-1.4 -1.4ZM650.7 693.7l1.4 1.4l-1.4 1.4l-1.4 -1.4ZM650.7 754.1l1.4 1.4l-1.4 1.4l-1.4 -1.4ZM718.9 701.7l1.4 1.4l-1.4 1.4l-1.4 -1.4ZM718.9 755.5l1.4 1.4l-1.4 1.4l-1.4 -1.4ZM770.0 702.6l1.4 1.4l-1.4 1.4l-1.4 -1.4ZM770.0 754.8l1.4 1.4l-1.4 1.4l-1.4 -1.4ZM567.4 698.4l1.4 1.4l-1.4 1.4l-1.4 -1.4ZM567.4 747.3l1.4 1.4l-1.4 1.4l-1.4 -1.4ZM618.9 704.9l1.4 1.4l-1.4 1.4l-1.4 -1.4ZM618.9 764.7l1.4 1.4l-1.4 1.4l-1.4 -1.4ZM505.6 698.1l1.4 1.4l-1.4 1.4l-1.4 -1.4ZM505.6 750.5l1.4 1.4l-1.4 1.4l-1.4 -1.4ZM619.6 697.5l1.4 1.4l-1.4 1.4l-1.4 -1.4ZM619.6 766.1l1.4 1.4l-1.4 1.4l-1.4 -1.4ZM616.7 698.5l1.4 1.4l-1.4 1.4l-1.4 -1.4ZM616.7 759.7l1.4 1.4l-1.4 1.4l-1.4 -1.4ZM585.1 697.8l1.4 1.4l-1.4 1.4l-1.4 -1.4ZM585.1 748.7l1.4 1.4l-1.4 1.4l-1.4 -1.4ZM744.5 705.0l1.4 1.4l-1.4 1.4l-1.4 -1.4ZM744.5 762.2l1.4 1.4l-1.4 1.4l-1.4 -1.4ZM554.5 693.0l1.4 1.4l-1.4 1.4l-1.4 -1.4ZM554.5 748.4l1.4 1.4l-1.4 1.4l-1.4 -1.4ZM510.4 698.5l1.4 1.4l-1.4 1.4l-1.4 -1.4ZM510.4 757.1l1.4 1.4l-1.4 1.4l-1.4 -1.4ZM617.7 705.3l1.4 1.4l-1.4 1.4l-1.4 -1.4ZM617.7 753.2l1.4 1.4l-1.4 1.4l-1.4 -1.4ZM658.2 701.4l1.4 1.4l-1.4 1.4l-1.4 -1.4ZM658.2 753.2l1.4 1.4l-1.4 1.4l-1.4 -1.4ZM774.1 701.7l1.4 1.4l-1.4 1.4l-1.4 -1.4ZM774.1 754.3l1.4 1.4l-1.4 1.4l-1.4 -1.4ZM630.8 698.2l1.4 1.4l-1.4 1.4l-1.4 -1.4ZM630.8 751.6l1.4 1.4l-1.4 1.4l-1.4 -1.4ZM641.1 697.7l1.4 1.4l-1.4 1.4l-1.4 -1.4ZM641.1 750.8l1.4 1.4l-1.4 1.4l-1.4 -1.4ZM543.6 697.7l1.4 1.4l-1.4 1.4l-1.4 -1.4ZM543.6 749.0l1.4 1.4l-1.4 1.4l-1.4 -1.4ZM733.8 701.8l1.4 1.4l-1.4 1.4l-1.4 -1.4ZM733.8 755.9l1.4 1.4l-1.4 1.4l-1.4 -1.4ZM509.8 698.3l1.4 1.4l-1.4 1.4l-1.4 -1.4ZM509.8 751.5l1.4 1.4l-1.4 1.4l-1.4 -1.4ZM598.7 699.9l1.4 1.4l-1.4 1.4l-1.4 -1.4ZM598.7 749.1l1.4 1.4l-1.4 1.4l-1.4 -1.4ZM566.8 698.5l1.4 1.4l-1.4 1.4l-1.4 -1.4ZM566.8 748.6l1.4 1.4l-1.4 1.4l-1.4 -1.4ZM507.6 698.0l1.4 1.4l-1.4 1.4l-1.4 -1.4ZM507.6 751.3l1.4 1.4l-1.4 1.4l-1.4 -1.4ZM736.8 701.2l1.4 1.4l-1.4 1.4l-1.4 -1.4ZM736.8 754.2l1.4 1.4l-1.4 1.4l-1.4 -1.4ZM502.3 695.4l1.4 1.4l-1.4 1.4l-1.4 -1.4ZM502.3 755.8l1.4 1.4l-1.4 1.4l-1.4 -1.4ZM686.5 685.0l1.4 1.4l-1.4 1.4l-1.4 -1.4ZM686.5 754.1l1.4 1.4l-1.4 1.4l-1.4 -1.4ZM615.9 699.2l1.4 1.4l-1.4 1.4l-1.4 -1.4ZM615.9 748.6l1.4 1.4l-1.4 1.4l-1.4 -1.4ZM683.2 704.8l1.4 1.4l-1.4 1.4l-1.4 -1.4ZM683.2 756.1l1.4 1.4l-1.4 1.4l-1.4 -1.4ZM678.9 700.1l1.4 1.4l-1.4 1.4l-1.4 -1.4ZM678.9 751.8l1.4 1.4l-1.4 1.4l-1.4 -1.4ZM708.2 694.0l1.4 1.4l-1.4 1.4l-1.4 -1.4ZM708.2 771.5l1.4 1.4l-1.4 1.4l-1.4 -1.4ZM723.6 705.8l1.4 1.4l-1.4 1.4l-1.4 -1.4ZM723.6 758.3l1.4 1.4l-1.4 1.4l-1.4 -1.4ZM552.2 680.7l1.4 1.4l-1.4 1.4l-1.4 -1.4ZM552.2 743.6l1.4 1.4l-1.4 1.4l-1.4 -1.4ZM505.4 698.4l1.4 1.4l-1.4 1.4l-1.4 -1.4ZM505.4 749.6l1.4 1.4l-1.4 1.4l-1.4 -1.4ZM778.2 694.9l1.4 1.4l-1.4 1.4l-1.4 -1.4ZM778.2 753.0l1.4 1.4l-1.4 1.4l-1.4 -1.4ZM754.1 704.7l1.4 1.4l-1.4 1.4l-1.4 -1.4ZM754.1 759.6l1.4 1.4l-1.4 1.4l-1.4 -1.4ZM536.8 686.0l1.4 1.4l-1.4 1.4l-1.4 -1.4ZM536.8 747.5l1.4 1.4l-1.4 1.4l-1.4 -1.4ZM569.3 696.3l1.4 1.4l-1.4 1.4l-1.4 -1.4ZM569.3 744.8l1.4 1.4l-1.4 1.4l-1.4 -1.4ZM511.3 697.4l1.4 1.4l-1.4 1.4l-1.4 -1.4ZM511.3 752.7l1.4 1.4l-1.4 1.4l-1.4 -1.4ZM791.2 703.4l1.4 1.4l-1.4 1.4l-1.4 -1.4ZM791.2 753.6l1.4 1.4l-1.4 1.4l-1.4 -1.4ZM576.7 699.3l1.4 1.4l-1.4 1.4l-1.4 -1.4ZM576.7 757.2l1.4 1.4l-1.4 1.4l-1.4 -1.4ZM704.5 705.1l1.4 1.4l-1.4 1.4l-1.4 -1.4ZM704.5 757.9l1.4 1.4l-1.4 1.4l-1.4 -1.4ZM701.8 701.9l1.4 1.4l-1.4 1.4l-1.4 -1.4ZM701.8 753.9l1.4 1.4l-1.4 1.4l-1.4 -1.4ZM754.3 695.1l1.4 1.4l-1.4 1.4l-1.4 -1.4ZM754.3 758.2l1.4 1.4l-1.4 1.4l-1.4 -1.4ZM554.6 695.4l1.4 1.4l-1.4 1.4l-1.4 -1.4ZM554.6 748.6l1.4 1.4l-1.4 1.4l-1.4 -1.4ZM778.0 703.5l1.4 1.4l-1.4 1.4l-1.4 -1.4ZM778.0 754.7l1.4 1.4l-1.4 1.4l-1.4 -1.4ZM520.3 699.3l1.4 1.4l-1.4 1.4l-1.4 -1.4ZM520.3 748.6l1.4 1.4l-1.4 1.4l-1.4 -1.4ZM697.7 705.1l1.4 1.4l-1.4 1.4l-1.4 -1.4ZM697.7 757.7l1.4 1.4l-1.4 1.4l-1.4 -1.4ZM688.0 704.2l1.4 1.4l-1.4 1.4l-1.4 -1.4ZM688.0 754.4l1.4 1.4l-1.4 1.4l-1.4 -1.4ZM743.8 706.5l1.4 1.4l-1.4 1.4l-1.4 -1.4ZM743.8 756.0l1.4 1.4l-1.4 1.4l-1.4 -1.4ZM719.8 691.7l1.4 1.4l-1.4 1.4l-1.4 -1.4ZM719.8 753.1l1.4 1.4l-1.4 1.4l-1.4 -1.4ZM686.3 698.4l1.4 1.4l-1.4 1.4l-1.4 -1.4ZM686.3 752.6l1.4 1.4l-1.4 1.4l-1.4 -1.4ZM726.6 700.5l1.4 1.4l-1.4 1.4l-1.4 -1.4ZM726.6 765.7l1.4 1.4l-1.4 1.4l-1.4 -1.4ZM621.4 704.8l1.4 1.4l-1.4 1.4l-1.4 -1.4ZM621.4 753.6l1.4 1.4l-1.4 1.4l-1.4 -1.4ZM698.2 695.4l1.4 1.4l-1.4 1.4l-1.4 -1.4ZM698.2 757.8l1.4 1.4l-1.4 1.4l-1.4 -1.4ZM660.0 695.7l1.4 1.4l-1.4 1.4l-1.4 -1.4ZM660.0 759.7l1.4 1.4l-1.4 1.4l-1.4 -1.4ZM679.0 703.8l1.4 1.4l-1.4 1.4l-1.4 -1.4ZM679.0 750.8l1.4 1.4l-1.4 1.4l-1.4 -1.4ZM671.4 704.8l1.4 1.4l-1.4 1.4l-1.4 -1.4ZM671.4 752.8l1.4 1.4l-1.4 1.4l-1.4 -1.4ZM789.0 705.3l1.4 1.4l-1.4 1.4l-1.4 -1.4ZM789.0 757.2l1.4 1.4l-1.4 1.4l-1.4 -1.4ZM714.8 704.9l1.4 1.4l-1.4 1.4l-1.4 -1.4ZM714.8 755.6l1.4 1.4l-1.4 1.4l-1.4 -1.4ZM758.8 700.9l1.4 1.4l-1.4 1.4l-1.4 -1.4ZM758.8 753.4l1.4 1.4l-1.4 1.4l-1.4 -1.4ZM790.5 701.7l1.4 1.4l-1.4 1.4l-1.4 -1.4ZM790.5 752.9l1.4 1.4l-1.4 1.4l-1.4 -1.4ZM736.1 699.9l1.4 1.4l-1.4 1.4l-1.4 -1.4ZM736.1 761.3l1.4 1.4l-1.4 1.4l-1.4 -1.4ZM744.4 699.6l1.4 1.4l-1.4 1.4l-1.4 -1.4ZM744.4 753.7l1.4 1.4l-1.4 1.4l-1.4 -1.4ZM720.9 700.2l1.4 1.4l-1.4 1.4l-1.4 -1.4ZM720.9 759.5l1.4 1.4l-1.4 1.4l-1.4 -1.4ZM563.2 679.6l1.4 1.4l-1.4 1.4l-1.4 -1.4ZM563.2 748.4l1.4 1.4l-1.4 1.4l-1.4 -1.4ZM765.5 703.4l1.4 1.4l-1.4 1.4l-1.4 -1.4ZM765.5 758.7l1.4 1.4l-1.4 1.4l-1.4 -1.4ZM676.7 703.6l1.4 1.4l-1.4 1.4l-1.4 -1.4ZM676.7 754.0l1.4 1.4l-1.4 1.4l-1.4 -1.4ZM740.1 705.2l1.4 1.4l-1.4 1.4l-1.4 -1.4ZM740.1 763.7l1.4 1.4l-1.4 1.4l-1.4 -1.4ZM713.9 699.8l1.4 1.4l-1.4 1.4l-1.4 -1.4ZM713.9 754.7l1.4 1.4l-1.4 1.4l-1.4 -1.4ZM707.1 702.2l1.4 1.4l-1.4 1.4l-1.4 -1.4ZM707.1 753.7l1.4 1.4l-1.4 1.4l-1.4 -1.4ZM501.1 697.3l1.4 1.4l-1.4 1.4l-1.4 -1.4ZM501.1 755.4l1.4 1.4l-1.4 1.4l-1.4 -1.4ZM662.3 702.1l1.4 1.4l-1.4 1.4l-1.4 -1.4ZM662.3 754.4l1.4 1.4l-1.4 1.4l-1.4 -1.4ZM531.0 694.3l1.4 1.4l-1.4 1.4l-1.4 -1.4ZM531.0 745.9l1.4 1.4l-1.4 1.4l-1.4 -1.4ZM538.9 697.9l1.4 1.4l-1.4 1.4l-1.4 -1.4ZM538.9 759.0l1.4 1.4l-1.4 1.4l-1.4 -1.4ZM765.4 702.3l1.4 1.4l-1.4 1.4l-1.4 -1.4ZM765.4 764.8l1.4 1.4l-1.4 1.4l-1.4 -1.4ZM561.6 693.7l1.4 1.4l-1.4 1.4l-1.4 -1.4ZM561.6 747.2l1.4 1.4l-1.4 1.4l-1.4 -1.4ZM531.9 695.0l1.4 1.4l-1.4 1.4l-1.4 -1.4ZM531.9 746.0l1.4 1.4l-1.4 1.4l-1.4 -1.4ZM582.3 699.1l1.4 1.4l-1.4 1.4l-1.4 -1.4ZM582.3 747.1l1.4 1.4l-1.4 1.4l-1.4 -1.4ZM762.0 703.6l1.4 1.4l-1.4 1.4l-1.4 -1.4ZM762.0 755.2l1.4 1.4l-1.4 1.4l-1.4 -1.4ZM542.6 697.3l1.4 1.4l-1.4 1.4l-1.4 -1.4ZM542.6 744.4l1.4 1.4l-1.4 1.4l-1.4 -1.4ZM705.0 702.7l1.4 1.4l-1.4 1.4l-1.4 -1.4ZM705.0 757.6l1.4 1.4l-1.4 1.4l-1.4 -1.4ZM671.4 703.6l1.4 1.4l-1.4 1.4l-1.4 -1.4ZM671.4 753.1l1.4 1.4l-1.4 1.4l-1.4 -1.4ZM607.5 690.4l1.4 1.4l-1.4 1.4l-1.4 -1.4ZM607.5 753.3l1.4 1.4l-1.4 1.4l-1.4 -1.4ZM743.2 701.9l1.4 1.4l-1.4 1.4l-1.4 -1.4ZM743.2 767.1l1.4 1.4l-1.4 1.4l-1.4 -1.4ZM723.5 706.6l1.4 1.4l-1.4 1.4l-1.4 -1.4ZM723.5 751.6l1.4 1.4l-1.4 1.4l-1.4 -1.4ZM511.8 690.3l1.4 1.4l-1.4 1.4l-1.4 -1.4ZM511.8 749.4l1.4 1.4l-1.4 1.4l-1.4 -1.4ZM635.4 700.5l1.4 1.4l-1.4 1.4l-1.4 -1.4ZM635.4 751.5l1.4 1.4l-1.4 1.4l-1.4 -1.4ZM581.0 690.2l1.4 1.4l-1.4 1.4l-1.4 -1.4ZM581.0 746.6l1.4 1.4l-1.4 1.4l-1.4 -1.4ZM743.0 703.8l1.4 1.4l-1.4 1.4l-1.4 -1.4ZM743.0 756.9l1.4 1.4l-1.4 1.4l-1.4 -1.4ZM614.9 697.5l1.4 1.4l-1.4 1.4l-1.4 -1.4ZM614.9 753.9l1.4 1.4l-1.4 1.4l-1.4 -1.4ZM623.8 703.6l1.4 1.4l-1.4 1.4l-1.4 -1.4ZM623.8 752.9l1.4 1.4l-1.4 1.4l-1.4 -1.4ZM717.9 706.6l1.4 1.4l-1.4 1.4l-1.4 -1.4ZM717.9 752.3l1.4 1.4l-1.4 1.4l-1.4 -1.4ZM602.8 696.2l1.4 1.4l-1.4 1.4l-1.4 -1.4ZM602.8 750.6l1.4 1.4l-1.4 1.4l-1.4 -1.4ZM566.1 689.4l1.4 1.4l-1.4 1.4l-1.4 -1.4ZM566.1 748.6l1.4 1.4l-1.4 1.4l-1.4 -1.4ZM760.0 704.5l1.4 1.4l-1.4 1.4l-1.4 -1.4ZM760.0 765.8l1.4 1.4l-1.4 1.4l-1.4 -1.4ZM669.9 702.9l1.4 1.4l-1.4 1.4l-1.4 -1.4ZM669.9 751.5l1.4 1.4l-1.4 1.4l-1.4 -1.4ZM733.9 705.8l1.4 1.4l-1.4 1.4l-1.4 -1.4ZM733.9 759.5l1.4 1.4l-1.4 1.4l-1.4 -1.4ZM737.2 706.0l1.4 1.4l-1.4 1.4l-1.4 -1.4ZM737.2 757.5l1.4 1.4l-1.4 1.4l-1.4 -1.4ZM704.9 706.1l1.4 1.4l-1.4 1.4l-1.4 -1.4ZM704.9 757.9l1.4 1.4l-1.4 1.4l-1.4 -1.4ZM777.4 704.8l1.4 1.4l-1.4 1.4l-1.4 -1.4ZM777.4 755.1l1.4 1.4l-1.4 1.4l-1.4 -1.4ZM620.2 704.2l1.4 1.4l-1.4 1.4l-1.4 -1.4ZM620.2 751.0l1.4 1.4l-1.4 1.4l-1.4 -1.4ZM694.2 690.9l1.4 1.4l-1.4 1.4l-1.4 -1.4ZM694.2 751.6l1.4 1.4l-1.4 1.4l-1.4 -1.4ZM506.8 697.1l1.4 1.4l-1.4 1.4l-1.4 -1.4ZM506.8 750.5l1.4 1.4l-1.4 1.4l-1.4 -1.4ZM753.7 705.1l1.4 1.4l-1.4 1.4l-1.4 -1.4ZM753.7 751.5l1.4 1.4l-1.4 1.4l-1.4 -1.4ZM591.0 698.2l1.4 1.4l-1.4 1.4l-1.4 -1.4ZM591.0 749.1l1.4 1.4l-1.4 1.4l-1.4 -1.4ZM620.1 703.9l1.4 1.4l-1.4 1.4l-1.4 -1.4ZM620.1 766.0l1.4 1.4l-1.4 1.4l-1.4 -1.4ZM504.5 699.6l1.4 1.4l-1.4 1.4l-1.4 -1.4ZM504.5 757.5l1.4 1.4l-1.4 1.4l-1.4 -1.4ZM559.2 697.3l1.4 1.4l-1.4 1.4l-1.4 -1.4ZM559.2 746.4l1.4 1.4l-1.4 1.4l-1.4 -1.4ZM684.8 697.8l1.4 1.4l-1.4 1.4l-1.4 -1.4ZM684.8 758.3l1.4 1.4l-1.4 1.4l-1.4 -1.4ZM552.1 686.0l1.4 1.4l-1.4 1.4l-1.4 -1.4ZM552.1 744.3l1.4 1.4l-1.4 1.4l-1.4 -1.4ZM735.9 698.0l1.4 1.4l-1.4 1.4l-1.4 -1.4ZM735.9 751.9l1.4 1.4l-1.4 1.4l-1.4 -1.4ZM610.9 701.1l1.4 1.4l-1.4 1.4l-1.4 -1.4ZM610.9 750.7l1.4 1.4l-1.4 1.4l-1.4 -1.4ZM728.6 699.5l1.4 1.4l-1.4 1.4l-1.4 -1.4ZM728.6 758.0l1.4 1.4l-1.4 1.4l-1.4 -1.4ZM509.2 698.9l1.4 1.4l-1.4 1.4l-1.4 -1.4ZM509.2 761.0l1.4 1.4l-1.4 1.4l-1.4 -1.4ZM715.5 700.3l1.4 1.4l-1.4 1.4l-1.4 -1.4ZM715.5 752.1l1.4 1.4l-1.4 1.4l-1.4 -1.4ZM546.0 694.8l1.4 1.4l-1.4 1.4l-1.4 -1.4ZM546.0 747.9l1.4 1.4l-1.4 1.4l-1.4 -1.4ZM536.8 689.3l1.4 1.4l-1.4 1.4l-1.4 -1.4ZM536.8 748.8l1.4 1.4l-1.4 1.4l-1.4 -1.4ZM771.1 696.2l1.4 1.4l-1.4 1.4l-1.4 -1.4ZM771.1 753.9l1.4 1.4l-1.4 1.4l-1.4 -1.4ZM580.9 691.7l1.4 1.4l-1.4 1.4l-1.4 -1.4ZM580.9 749.0l1.4 1.4l-1.4 1.4l-1.4 -1.4ZM675.6 699.4l1.4 1.4l-1.4 1.4l-1.4 -1.4ZM675.6 769.0l1.4 1.4l-1.4 1.4l-1.4 -1.4ZM650.6 701.1l1.4 1.4l-1.4 1.4l-1.4 -1.4ZM650.6 759.8l1.4 1.4l-1.4 1.4l-1.4 -1.4ZM522.8 696.9l1.4 1.4l-1.4 1.4l-1.4 -1.4ZM522.8 747.9l1.4 1.4l-1.4 1.4l-1.4 -1.4ZM678.6 697.6l1.4 1.4l-1.4 1.4l-1.4 -1.4ZM678.6 753.4l1.4 1.4l-1.4 1.4l-1.4 -1.4ZM561.0 697.8l1.4 1.4l-1.4 1.4l-1.4 -1.4ZM561.0 755.2l1.4 1.4l-1.4 1.4l-1.4 -1.4ZM671.2 692.8l1.4 1.4l-1.4 1.4l-1.4 -1.4ZM671.2 752.2l1.4 1.4l-1.4 1.4l-1.4 -1.4ZM583.8 699.0l1.4 1.4l-1.4 1.4l-1.4 -1.4ZM583.8 750.7l1.4 1.4l-1.4 1.4l-1.4 -1.4ZM664.2 695.9l1.4 1.4l-1.4 1.4l-1.4 -1.4ZM664.2 754.9l1.4 1.4l-1.4 1.4l-1.4 -1.4ZM598.0 700.6l1.4 1.4l-1.4 1.4l-1.4 -1.4ZM598.0 754.2l1.4 1.4l-1.4 1.4l-1.4 -1.4ZM777.0 704.9l1.4 1.4l-1.4 1.4l-1.4 -1.4ZM777.0 753.3l1.4 1.4l-1.4 1.4l-1.4 -1.4ZM653.7 701.9l1.4 1.4l-1.4 1.4l-1.4 -1.4ZM653.7 757.1l1.4 1.4l-1.4 1.4l-1.4 -1.4ZM640.6 701.1l1.4 1.4l-1.4 1.4l-1.4 -1.4ZM640.6 752.6l1.4 1.4l-1.4 1.4l-1.4 -1.4ZM573.6 687.9l1.4 1.4l-1.4 1.4l-1.4 -1.4ZM573.6 758.9l1.4 1.4l-1.4 1.4l-1.4 -1.4ZM561.7 696.4l1.4 1.4l-1.4 1.4l-1.4 -1.4ZM561.7 750.3l1.4 1.4l-1.4 1.4l-1.4 -1.4ZM603.6 699.0l1.4 1.4l-1.4 1.4l-1.4 -1.4ZM603.6 751.2l1.4 1.4l-1.4 1.4l-1.4 -1.4ZM579.4 697.4l1.4 1.4l-1.4 1.4l-1.4 -1.4ZM579.4 751.6l1.4 1.4l-1.4 1.4l-1.4 -1.4ZM774.4 706.3l1.4 1.4l-1.4 1.4l-1.4 -1.4ZM774.4 761.5l1.4 1.4l-1.4 1.4l-1.4 -1.4ZM525.9 694.5l1.4 1.4l-1.4 1.4l-1.4 -1.4ZM525.9 746.5l1.4 1.4l-1.4 1.4l-1.4 -1.4ZM659.5 703.1l1.4 1.4l-1.4 1.4l-1.4 -1.4ZM659.5 758.5l1.4 1.4l-1.4 1.4l-1.4 -1.4ZM506.5 697.4l1.4 1.4l-1.4 1.4l-1.4 -1.4ZM506.5 764.6l1.4 1.4l-1.4 1.4l-1.4 -1.4ZM655.5 701.5l1.4 1.4l-1.4 1.4l-1.4 -1.4ZM655.5 755.5l1.4 1.4l-1.4 1.4l-1.4 -1.4ZM732.1 701.5l1.4 1.4l-1.4 1.4l-1.4 -1.4ZM732.1 753.8l1.4 1.4l-1.4 1.4l-1.4 -1.4ZM560.4 691.7l1.4 1.4l-1.4 1.4l-1.4 -1.4ZM560.4 747.4l1.4 1.4l-1.4 1.4l-1.4 -1.4ZM779.4 704.8l1.4 1.4l-1.4 1.4l-1.4 -1.4ZM779.4 753.3l1.4 1.4l-1.4 1.4l-1.4 -1.4ZM636.4 684.8l1.4 1.4l-1.4 1.4l-1.4 -1.4ZM636.4 757.6l1.4 1.4l-1.4 1.4l-1.4 -1.4ZM586.4 694.9l1.4 1.4l-1.4 1.4l-1.4 -1.4ZM586.4 754.4l1.4 1.4l-1.4 1.4l-1.4 -1.4ZM517.2 693.8l1.4 1.4l-1.4 1.4l-1.4 -1.4ZM517.2 750.6l1.4 1.4l-1.4 1.4l-1.4 -1.4ZM757.6 700.5l1.4 1.4l-1.4 1.4l-1.4 -1.4ZM757.6 753.6l1.4 1.4l-1.4 1.4l-1.4 -1.4ZM524.2 697.0l1.4 1.4l-1.4 1.4l-1.4 -1.4ZM524.2 748.8l1.4 1.4l-1.4 1.4l-1.4 -1.4ZM559.9 693.2l1.4 1.4l-1.4 1.4l-1.4 -1.4ZM559.9 753.6l1.4 1.4l-1.4 1.4l-1.4 -1.4ZM629.9 704.2l1.4 1.4l-1.4 1.4l-1.4 -1.4ZM629.9 754.2l1.4 1.4l-1.4 1.4l-1.4 -1.4ZM599.7 701.0l1.4 1.4l-1.4 1.4l-1.4 -1.4ZM599.7 747.5l1.4 1.4l-1.4 1.4l-1.4 -1.4ZM613.9 702.3l1.4 1.4l-1.4 1.4l-1.4 -1.4ZM613.9 748.6l1.4 1.4l-1.4 1.4l-1.4 -1.4ZM776.3 703.2l1.4 1.4l-1.4 1.4l-1.4 -1.4ZM776.3 752.5l1.4 1.4l-1.4 1.4l-1.4 -1.4ZM512.6 698.6l1.4 1.4l-1.4 1.4l-1.4 -1.4ZM512.6 750.0l1.4 1.4l-1.4 1.4l-1.4 -1.4ZM775.3 705.7l1.4 1.4l-1.4 1.4l-1.4 -1.4ZM775.3 763.6l1.4 1.4l-1.4 1.4l-1.4 -1.4ZM647.1 696.4l1.4 1.4l-1.4 1.4l-1.4 -1.4ZM647.1 754.4l1.4 1.4l-1.4 1.4l-1.4 -1.4ZM780.3 692.4l1.4 1.4l-1.4 1.4l-1.4 -1.4ZM780.3 756.2l1.4 1.4l-1.4 1.4l-1.4 -1.4ZM599.1 699.6l1.4 1.4l-1.4 1.4l-1.4 -1.4ZM599.1 747.8l1.4 1.4l-1.4 1.4l-1.4 -1.4ZM567.4 694.6l1.4 1.4l-1.4 1.4l-1.4 -1.4ZM567.4 747.2l1.4 1.4l-1.4 1.4l-1.4 -1.4ZM658.0 690.8l1.4 1.4l-1.4 1.4l-1.4 -1.4ZM658.0 756.9l1.4 1.4l-1.4 1.4l-1.4 -1.4ZM772.8 700.2l1.4 1.4l-1.4 1.4l-1.4 -1.4ZM772.8 752.8l1.4 1.4l-1.4 1.4l-1.4 -1.4ZM512.8 694.8l1.4 1.4l-1.4 1.4l-1.4 -1.4ZM512.8 748.9l1.4 1.4l-1.4 1.4l-1.4 -1.4ZM691.7 705.4l1.4 1.4l-1.4 1.4l-1.4 -1.4ZM691.7 755.1l1.4 1.4l-1.4 1.4l-1.4 -1.4ZM654.4 701.3l1.4 1.4l-1.4 1.4l-1.4 -1.4ZM654.4 758.5l1.4 1.4l-1.4 1.4l-1.4 -1.4ZM704.5 705.4l1.4 1.4l-1.4 1.4l-1.4 -1.4ZM704.5 754.3l1.4 1.4l-1.4 1.4l-1.4 -1.4ZM621.6 703.2l1.4 1.4l-1.4 1.4l-1.4 -1.4ZM621.6 751.4l1.4 1.4l-1.4 1.4l-1.4 -1.4ZM565.1 694.5l1.4 1.4l-1.4 1.4l-1.4 -1.4ZM565.1 744.7l1.4 1.4l-1.4 1.4l-1.4 -1.4ZM625.6 702.0l1.4 1.4l-1.4 1.4l-1.4 -1.4ZM625.6 753.2l1.4 1.4l-1.4 1.4l-1.4 -1.4ZM702.1 699.2l1.4 1.4l-1.4 1.4l-1.4 -1.4ZM702.1 754.8l1.4 1.4l-1.4 1.4l-1.4 -1.4ZM547.9 696.8l1.4 1.4l-1.4 1.4l-1.4 -1.4ZM547.9 756.1l1.4 1.4l-1.4 1.4l-1.4 -1.4ZM636.7 701.3l1.4 1.4l-1.4 1.4l-1.4 -1.4ZM636.7 751.5l1.4 1.4l-1.4 1.4l-1.4 -1.4ZM684.2 703.4l1.4 1.4l-1.4 1.4l-1.4 -1.4ZM684.2 754.9l1.4 1.4l-1.4 1.4l-1.4 -1.4ZM661.9 693.7l1.4 1.4l-1.4 1.4l-1.4 -1.4ZM661.9 757.8l1.4 1.4l-1.4 1.4l-1.4 -1.4ZM766.7 697.5l1.4 1.4l-1.4 1.4l-1.4 -1.4ZM766.7 751.9l1.4 1.4l-1.4 1.4l-1.4 -1.4ZM679.6 703.8l1.4 1.4l-1.4 1.4l-1.4 -1.4ZM679.6 752.8l1.4 1.4l-1.4 1.4l-1.4 -1.4ZM650.4 700.5l1.4 1.4l-1.4 1.4l-1.4 -1.4ZM650.4 754.6l1.4 1.4l-1.4 1.4l-1.4 -1.4ZM628.3 704.4l1.4 1.4l-1.4 1.4l-1.4 -1.4ZM628.3 770.0l1.4 1.4l-1.4 1.4l-1.4 -1.4ZM511.1 687.4l1.4 1.4l-1.4 1.4l-1.4 -1.4ZM511.1 769.4l1.4 1.4l-1.4 1.4l-1.4 -1.4ZM694.5 704.9l1.4 1.4l-1.4 1.4l-1.4 -1.4ZM694.5 756.8l1.4 1.4l-1.4 1.4l-1.4 -1.4ZM597.8 699.1l1.4 1.4l-1.4 1.4l-1.4 -1.4ZM597.8 755.9l1.4 1.4l-1.4 1.4l-1.4 -1.4ZM712.0 706.5l1.4 1.4l-1.4 1.4l-1.4 -1.4ZM712.0 764.8l1.4 1.4l-1.4 1.4l-1.4 -1.4ZM615.1 701.0l1.4 1.4l-1.4 1.4l-1.4 -1.4ZM615.1 750.4l1.4 1.4l-1.4 1.4l-1.4 -1.4ZM560.3 695.9l1.4 1.4l-1.4 1.4l-1.4 -1.4ZM560.3 752.9l1.4 1.4l-1.4 1.4l-1.4 -1.4ZM785.9 698.5l1.4 1.4l-1.4 1.4l-1.4 -1.4ZM785.9 756.5l1.4 1.4l-1.4 1.4l-1.4 -1.4ZM624.5 702.3l1.4 1.4l-1.4 1.4l-1.4 -1.4ZM624.5 751.0l1.4 1.4l-1.4 1.4l-1.4 -1.4ZM574.0 699.0l1.4 1.4l-1.4 1.4l-1.4 -1.4ZM574.0 752.3l1.4 1.4l-1.4 1.4l-1.4 -1.4ZM531.1 697.9l1.4 1.4l-1.4 1.4l-1.4 -1.4ZM531.1 748.2l1.4 1.4l-1.4 1.4l-1.4 -1.4ZM737.3 706.3l1.4 1.4l-1.4 1.4l-1.4 -1.4ZM737.3 758.0l1.4 1.4l-1.4 1.4l-1.4 -1.4ZM587.7 698.0l1.4 1.4l-1.4 1.4l-1.4 -1.4ZM587.7 749.0l1.4 1.4l-1.4 1.4l-1.4 -1.4ZM788.6 683.4l1.4 1.4l-1.4 1.4l-1.4 -1.4ZM788.6 753.0l1.4 1.4l-1.4 1.4l-1.4 -1.4ZM675.5 703.3l1.4 1.4l-1.4 1.4l-1.4 -1.4ZM675.5 752.7l1.4 1.4l-1.4 1.4l-1.4 -1.4ZM740.5 702.1l1.4 1.4l-1.4 1.4l-1.4 -1.4ZM740.5 754.9l1.4 1.4l-1.4 1.4l-1.4 -1.4ZM589.3 698.3l1.4 1.4l-1.4 1.4l-1.4 -1.4ZM589.3 749.3l1.4 1.4l-1.4 1.4l-1.4 -1.4ZM739.9 705.2l1.4 1.4l-1.4 1.4l-1.4 -1.4ZM739.9 755.3l1.4 1.4l-1.4 1.4l-1.4 -1.4ZM731.7 706.3l1.4 1.4l-1.4 1.4l-1.4 -1.4ZM731.7 752.5l1.4 1.4l-1.4 1.4l-1.4 -1.4ZM723.1 706.3l1.4 1.4l-1.4 1.4l-1.4 -1.4ZM723.1 765.2l1.4 1.4l-1.4 1.4l-1.4 -1.4ZM626.9 700.6l1.4 1.4l-1.4 1.4l-1.4 -1.4ZM626.9 750.8l1.4 1.4l-1.4 1.4l-1.4 -1.4ZM630.3 702.0l1.4 1.4l-1.4 1.4l-1.4 -1.4ZM630.3 757.5l1.4 1.4l-1.4 1.4l-1.4 -1.4ZM673.9 704.2l1.4 1.4l-1.4 1.4l-1.4 -1.4ZM673.9 751.1l1.4 1.4l-1.4 1.4l-1.4 -1.4ZM576.6 695.5l1.4 1.4l-1.4 1.4l-1.4 -1.4ZM576.6 745.9l1.4 1.4l-1.4 1.4l-1.4 -1.4ZM545.8 695.9l1.4 1.4l-1.4 1.4l-1.4 -1.4ZM545.8 744.7l1.4 1.4l-1.4 1.4l-1.4 -1.4ZM677.5 704.0l1.4 1.4l-1.4 1.4l-1.4 -1.4ZM677.5 751.9l1.4 1.4l-1.4 1.4l-1.4 -1.4ZM719.6 702.3l1.4 1.4l-1.4 1.4l-1.4 -1.4ZM719.6 757.6l1.4 1.4l-1.4 1.4l-1.4 -1.4ZM542.9 693.6l1.4 1.4l-1.4 1.4l-1.4 -1.4ZM542.9 746.1l1.4 1.4l-1.4 1.4l-1.4 -1.4ZM638.3 703.1l1.4 1.4l-1.4 1.4l-1.4 -1.4ZM638.3 758.5l1.4 1.4l-1.4 1.4l-1.4 -1.4ZM737.9 703.9l1.4 1.4l-1.4 1.4l-1.4 -1.4ZM737.9 753.4l1.4 1.4l-1.4 1.4l-1.4 -1.4ZM573.3 696.1l1.4 1.4l-1.4 1.4l-1.4 -1.4ZM573.3 746.8l1.4 1.4l-1.4 1.4l-1.4 -1.4ZM628.4 700.7l1.4 1.4l-1.4 1.4l-1.4 -1.4ZM628.4 759.4l1.4 1.4l-1.4 1.4l-1.4 -1.4ZM749.5 706.3l1.4 1.4l-1.4 1.4l-1.4 -1.4ZM749.5 758.6l1.4 1.4l-1.4 1.4l-1.4 -1.4ZM613.8 701.9l1.4 1.4l-1.4 1.4l-1.4 -1.4ZM613.8 750.9l1.4 1.4l-1.4 1.4l-1.4 -1.4ZM755.0 704.4l1.4 1.4l-1.4 1.4l-1.4 -1.4ZM755.0 753.1l1.4 1.4l-1.4 1.4l-1.4 -1.4ZM656.3 700.4l1.4 1.4l-1.4 1.4l-1.4 -1.4ZM656.3 762.6l1.4 1.4l-1.4 1.4l-1.4 -1.4ZM765.0 689.0l1.4 1.4l-1.4 1.4l-1.4 -1.4ZM765.0 751.8l1.4 1.4l-1.4 1.4l-1.4 -1.4ZM712.2 703.7l1.4 1.4l-1.4 1.4l-1.4 -1.4ZM712.2 755.4l1.4 1.4l-1.4 1.4l-1.4 -1.4ZM745.8 705.0l1.4 1.4l-1.4 1.4l-1.4 -1.4ZM745.8 751.3l1.4 1.4l-1.4 1.4l-1.4 -1.4ZM574.2 684.5l1.4 1.4l-1.4 1.4l-1.4 -1.4ZM574.2 757.8l1.4 1.4l-1.4 1.4l-1.4 -1.4ZM635.7 703.7l1.4 1.4l-1.4 1.4l-1.4 -1.4ZM635.7 756.8l1.4 1.4l-1.4 1.4l-1.4 -1.4ZM591.6 691.3l1.4 1.4l-1.4 1.4l-1.4 -1.4ZM591.6 749.8l1.4 1.4l-1.4 1.4l-1.4 -1.4ZM586.8 699.9l1.4 1.4l-1.4 1.4l-1.4 -1.4ZM586.8 747.6l1.4 1.4l-1.4 1.4l-1.4 -1.4ZM599.1 699.7l1.4 1.4l-1.4 1.4l-1.4 -1.4ZM599.1 753.6l1.4 1.4l-1.4 1.4l-1.4 -1.4ZM747.5 701.9l1.4 1.4l-1.4 1.4l-1.4 -1.4ZM747.5 754.2l1.4 1.4l-1.4 1.4l-1.4 -1.4ZM697.4 705.9l1.4 1.4l-1.4 1.4l-1.4 -1.4ZM697.4 754.4l1.4 1.4l-1.4 1.4l-1.4 -1.4ZM656.5 699.9l1.4 1.4l-1.4 1.4l-1.4 -1.4ZM656.5 752.0l1.4 1.4l-1.4 1.4l-1.4 -1.4ZM753.3 704.7l1.4 1.4l-1.4 1.4l-1.4 -1.4ZM753.3 754.3l1.4 1.4l-1.4 1.4l-1.4 -1.4ZM535.7 695.3l1.4 1.4l-1.4 1.4l-1.4 -1.4ZM535.7 744.9l1.4 1.4l-1.4 1.4l-1.4 -1.4ZM655.1 703.0l1.4 1.4l-1.4 1.4l-1.4 -1.4ZM655.1 765.0l1.4 1.4l-1.4 1.4l-1.4 -1.4ZM630.9 703.5l1.4 1.4l-1.4 1.4l-1.4 -1.4ZM630.9 755.5l1.4 1.4l-1.4 1.4l-1.4 -1.4ZM541.1 694.8l1.4 1.4l-1.4 1.4l-1.4 -1.4ZM541.1 747.0l1.4 1.4l-1.4 1.4l-1.4 -1.4ZM775.8 700.7l1.4 1.4l-1.4 1.4l-1.4 -1.4ZM775.8 760.9l1.4 1.4l-1.4 1.4l-1.4 -1.4ZM787.9 702.6l1.4 1.4l-1.4 1.4l-1.4 -1.4ZM787.9 756.9l1.4 1.4l-1.4 1.4l-1.4 -1.4ZM701.2 698.7l1.4 1.4l-1.4 1.4l-1.4 -1.4ZM701.2 760.8l1.4 1.4l-1.4 1.4l-1.4 -1.4ZM755.5 695.4l1.4 1.4l-1.4 1.4l-1.4 -1.4ZM755.5 764.7l1.4 1.4l-1.4 1.4l-1.4 -1.4ZM549.9 691.2l1.4 1.4l-1.4 1.4l-1.4 -1.4ZM549.9 749.2l1.4 1.4l-1.4 1.4l-1.4 -1.4ZM761.2 704.6l1.4 1.4l-1.4 1.4l-1.4 -1.4ZM761.2 758.3l1.4 1.4l-1.4 1.4l-1.4 -1.4ZM502.1 698.7l1.4 1.4l-1.4 1.4l-1.4 -1.4ZM502.1 750.9l1.4 1.4l-1.4 1.4l-1.4 -1.4ZM571.1 698.7l1.4 1.4l-1.4 1.4l-1.4 -1.4ZM571.1 748.4l1.4 1.4l-1.4 1.4l-1.4 -1.4ZM541.0 697.9l1.4 1.4l-1.4 1.4l-1.4 -1.4ZM541.0 748.7l1.4 1.4l-1.4 1.4l-1.4 -1.4ZM727.4 704.8l1.4 1.4l-1.4 1.4l-1.4 -1.4ZM727.4 751.4l1.4 1.4l-1.4 1.4l-1.4 -1.4ZM754.1 704.7l1.4 1.4l-1.4 1.4l-1.4 -1.4ZM754.1 753.7l1.4 1.4l-1.4 1.4l-1.4 -1.4ZM763.5 705.9l1.4 1.4l-1.4 1.4l-1.4 -1.4ZM763.5 756.5l1.4 1.4l-1.4 1.4l-1.4 -1.4ZM607.4 697.8l1.4 1.4l-1.4 1.4l-1.4 -1.4ZM607.4 750.4l1.4 1.4l-1.4 1.4l-1.4 -1.4ZM559.1 685.9l1.4 1.4l-1.4 1.4l-1.4 -1.4ZM559.1 747.5l1.4 1.4l-1.4 1.4l-1.4 -1.4ZM554.0 695.3l1.4 1.4l-1.4 1.4l-1.4 -1.4ZM554.0 748.0l1.4 1.4l-1.4 1.4l-1.4 -1.4ZM767.7 705.0l1.4 1.4l-1.4 1.4l-1.4 -1.4ZM767.7 752.0l1.4 1.4l-1.4 1.4l-1.4 -1.4ZM636.9 696.0l1.4 1.4l-1.4 1.4l-1.4 -1.4ZM636.9 750.5l1.4 1.4l-1.4 1.4l-1.4 -1.4ZM768.7 703.6l1.4 1.4l-1.4 1.4l-1.4 -1.4ZM768.7 754.5l1.4 1.4l-1.4 1.4l-1.4 -1.4ZM682.3 699.5l1.4 1.4l-1.4 1.4l-1.4 -1.4ZM682.3 755.9l1.4 1.4l-1.4 1.4l-1.4 -1.4ZM770.0 702.4l1.4 1.4l-1.4 1.4l-1.4 -1.4ZM770.0 753.3l1.4 1.4l-1.4 1.4l-1.4 -1.4ZM618.9 703.1l1.4 1.4l-1.4 1.4l-1.4 -1.4ZM618.9 751.3l1.4 1.4l-1.4 1.4l-1.4 -1.4ZM589.2 698.3l1.4 1.4l-1.4 1.4l-1.4 -1.4ZM589.2 760.1l1.4 1.4l-1.4 1.4l-1.4 -1.4ZM760.7 700.7l1.4 1.4l-1.4 1.4l-1.4 -1.4ZM760.7 757.4l1.4 1.4l-1.4 1.4l-1.4 -1.4ZM575.6 697.3l1.4 1.4l-1.4 1.4l-1.4 -1.4ZM575.6 746.4l1.4 1.4l-1.4 1.4l-1.4 -1.4ZM739.3 701.6l1.4 1.4l-1.4 1.4l-1.4 -1.4ZM739.3 756.3l1.4 1.4l-1.4 1.4l-1.4 -1.4ZM506.4 694.8l1.4 1.4l-1.4 1.4l-1.4 -1.4ZM506.4 756.6l1.4 1.4l-1.4 1.4l-1.4 -1.4ZM652.8 697.6l1.4 1.4l-1.4 1.4l-1.4 -1.4ZM652.8 758.5l1.4 1.4l-1.4 1.4l-1.4 -1.4ZM686.2 703.9l1.4 1.4l-1.4 1.4l-1.4 -1.4ZM686.2 754.8l1.4 1.4l-1.4 1.4l-1.4 -1.4ZM756.7 706.1l1.4 1.4l-1.4 1.4l-1.4 -1.4ZM756.7 759.9l1.4 1.4l-1.4 1.4l-1.4 -1.4ZM600.2 696.1l1.4 1.4l-1.4 1.4l-1.4 -1.4ZM600.2 747.6l1.4 1.4l-1.4 1.4l-1.4 -1.4ZM633.5 676.7l1.4 1.4l-1.4 1.4l-1.4 -1.4ZM633.5 754.5l1.4 1.4l-1.4 1.4l-1.4 -1.4ZM640.6 702.4l1.4 1.4l-1.4 1.4l-1.4 -1.4ZM640.6 752.6l1.4 1.4l-1.4 1.4l-1.4 -1.4ZM692.4 694.8l1.4 1.4l-1.4 1.4l-1.4 -1.4ZM692.4 751.6l1.4 1.4l-1.4 1.4l-1.4 -1.4ZM600.1 699.2l1.4 1.4l-1.4 1.4l-1.4 -1.4ZM600.1 748.6l1.4 1.4l-1.4 1.4l-1.4 -1.4ZM783.1 699.1l1.4 1.4l-1.4 1.4l-1.4 -1.4ZM783.1 755.1l1.4 1.4l-1.4 1.4l-1.4 -1.4ZM506.2 690.6l1.4 1.4l-1.4 1.4l-1.4 -1.4ZM506.2 755.5l1.4 1.4l-1.4 1.4l-1.4 -1.4ZM757.7 705.0l1.4 1.4l-1.4 1.4l-1.4 -1.4ZM757.7 753.2l1.4 1.4l-1.4 1.4l-1.4 -1.4ZM619.6 703.2l1.4 1.4l-1.4 1.4l-1.4 -1.4ZM619.6 753.0l1.4 1.4l-1.4 1.4l-1.4 -1.4ZM789.0 698.2l1.4 1.4l-1.4 1.4l-1.4 -1.4ZM789.0 751.9l1.4 1.4l-1.4 1.4l-1.4 -1.4ZM626.4 704.3l1.4 1.4l-1.4 1.4l-1.4 -1.4ZM626.4 753.4l1.4 1.4l-1.4 1.4l-1.4 -1.4ZM632.4 699.8l1.4 1.4l-1.4 1.4l-1.4 -1.4ZM632.4 759.2l1.4 1.4l-1.4 1.4l-1.4 -1.4ZM640.0 695.0l1.4 1.4l-1.4 1.4l-1.4 -1.4ZM640.0 751.4l1.4 1.4l-1.4 1.4l-1.4 -1.4ZM599.8 700.7l1.4 1.4l-1.4 1.4l-1.4 -1.4ZM599.8 755.3l1.4 1.4l-1.4 1.4l-1.4 -1.4ZM737.9 702.7l1.4 1.4l-1.4 1.4l-1.4 -1.4ZM737.9 752.8l1.4 1.4l-1.4 1.4l-1.4 -1.4ZM600.0 701.1l1.4 1.4l-1.4 1.4l-1.4 -1.4ZM600.0 751.8l1.4 1.4l-1.4 1.4l-1.4 -1.4ZM563.0 697.4l1.4 1.4l-1.4 1.4l-1.4 -1.4ZM563.0 745.9l1.4 1.4l-1.4 1.4l-1.4 -1.4ZM731.8 705.1l1.4 1.4l-1.4 1.4l-1.4 -1.4ZM731.8 764.5l1.4 1.4l-1.4 1.4l-1.4 -1.4ZM669.7 704.2l1.4 1.4l-1.4 1.4l-1.4 -1.4ZM669.7 751.9l1.4 1.4l-1.4 1.4l-1.4 -1.4ZM790.9 703.6l1.4 1.4l-1.4 1.4l-1.4 -1.4ZM790.9 755.7l1.4 1.4l-1.4 1.4l-1.4 -1.4ZM529.9 691.9l1.4 1.4l-1.4 1.4l-1.4 -1.4ZM529.9 747.9l1.4 1.4l-1.4 1.4l-1.4 -1.4ZM505.3 700.0l1.4 1.4l-1.4 1.4l-1.4 -1.4ZM505.3 751.0l1.4 1.4l-1.4 1.4l-1.4 -1.4ZM526.6 697.5l1.4 1.4l-1.4 1.4l-1.4 -1.4ZM526.6 751.1l1.4 1.4l-1.4 1.4l-1.4 -1.4ZM557.8 680.2l1.4 1.4l-1.4 1.4l-1.4 -1.4ZM557.8 748.4l1.4 1.4l-1.4 1.4l-1.4 -1.4ZM690.6 701.6l1.4 1.4l-1.4 1.4l-1.4 -1.4ZM690.6 754.4l1.4 1.4l-1.4 1.4l-1.4 -1.4ZM688.6 704.3l1.4 1.4l-1.4 1.4l-1.4 -1.4ZM688.6 752.9l1.4 1.4l-1.4 1.4l-1.4 -1.4ZM565.5 695.2l1.4 1.4l-1.4 1.4l-1.4 -1.4ZM565.5 748.5l1.4 1.4l-1.4 1.4l-1.4 -1.4ZM738.1 701.2l1.4 1.4l-1.4 1.4l-1.4 -1.4ZM738.1 760.7l1.4 1.4l-1.4 1.4l-1.4 -1.4ZM618.0 696.7l1.4 1.4l-1.4 1.4l-1.4 -1.4ZM618.0 750.9l1.4 1.4l-1.4 1.4l-1.4 -1.4ZM641.6 699.5l1.4 1.4l-1.4 1.4l-1.4 -1.4ZM641.6 750.5l1.4 1.4l-1.4 1.4l-1.4 -1.4ZM575.0 697.1l1.4 1.4l-1.4 1.4l-1.4 -1.4ZM575.0 751.4l1.4 1.4l-1.4 1.4l-1.4 -1.4ZM621.4 686.4l1.4 1.4l-1.4 1.4l-1.4 -1.4ZM621.4 755.2l1.4 1.4l-1.4 1.4l-1.4 -1.4ZM744.3 688.7l1.4 1.4l-1.4 1.4l-1.4 -1.4ZM744.3 754.9l1.4 1.4l-1.4 1.4l-1.4 -1.4ZM679.2 704.7l1.4 1.4l-1.4 1.4l-1.4 -1.4ZM679.2 754.8l1.4 1.4l-1.4 1.4l-1.4 -1.4ZM575.5 697.4l1.4 1.4l-1.4 1.4l-1.4 -1.4ZM575.5 749.0l1.4 1.4l-1.4 1.4l-1.4 -1.4ZM553.6 693.6l1.4 1.4l-1.4 1.4l-1.4 -1.4ZM553.6 745.1l1.4 1.4l-1.4 1.4l-1.4 -1.4ZM740.9 681.6l1.4 1.4l-1.4 1.4l-1.4 -1.4ZM740.9 753.0l1.4 1.4l-1.4 1.4l-1.4 -1.4ZM586.9 699.7l1.4 1.4l-1.4 1.4l-1.4 -1.4ZM586.9 746.3l1.4 1.4l-1.4 1.4l-1.4 -1.4ZM536.0 697.3l1.4 1.4l-1.4 1.4l-1.4 -1.4ZM536.0 750.4l1.4 1.4l-1.4 1.4l-1.4 -1.4ZM712.1 704.1l1.4 1.4l-1.4 1.4l-1.4 -1.4ZM712.1 753.7l1.4 1.4l-1.4 1.4l-1.4 -1.4ZM602.9 700.6l1.4 1.4l-1.4 1.4l-1.4 -1.4ZM602.9 762.8l1.4 1.4l-1.4 1.4l-1.4 -1.4ZM543.6 695.5l1.4 1.4l-1.4 1.4l-1.4 -1.4ZM543.6 743.9l1.4 1.4l-1.4 1.4l-1.4 -1.4ZM659.1 701.3l1.4 1.4l-1.4 1.4l-1.4 -1.4ZM659.1 751.0l1.4 1.4l-1.4 1.4l-1.4 -1.4ZM682.8 702.3l1.4 1.4l-1.4 1.4l-1.4 -1.4ZM682.8 756.6l1.4 1.4l-1.4 1.4l-1.4 -1.4ZM661.8 702.6l1.4 1.4l-1.4 1.4l-1.4 -1.4ZM661.8 755.9l1.4 1.4l-1.4 1.4l-1.4 -1.4ZM645.3 694.7l1.4 1.4l-1.4 1.4l-1.4 -1.4ZM645.3 763.6l1.4 1.4l-1.4 1.4l-1.4 -1.4ZM757.1 701.9l1.4 1.4l-1.4 1.4l-1.4 -1.4ZM757.1 753.1l1.4 1.4l-1.4 1.4l-1.4 -1.4ZM524.7 690.9l1.4 1.4l-1.4 1.4l-1.4 -1.4ZM524.7 746.5l1.4 1.4l-1.4 1.4l-1.4 -1.4ZM753.7 705.8l1.4 1.4l-1.4 1.4l-1.4 -1.4ZM753.7 753.0l1.4 1.4l-1.4 1.4l-1.4 -1.4ZM699.0 705.4l1.4 1.4l-1.4 1.4l-1.4 -1.4ZM699.0 753.3l1.4 1.4l-1.4 1.4l-1.4 -1.4ZM639.5 704.1l1.4 1.4l-1.4 1.4l-1.4 -1.4ZM639.5 751.1l1.4 1.4l-1.4 1.4l-1.4 -1.4ZM570.7 694.7l1.4 1.4l-1.4 1.4l-1.4 -1.4ZM570.7 749.8l1.4 1.4l-1.4 1.4l-1.4 -1.4ZM537.6 678.5l1.4 1.4l-1.4 1.4l-1.4 -1.4ZM537.6 745.9l1.4 1.4l-1.4 1.4l-1.4 -1.4ZM548.3 695.9l1.4 1.4l-1.4 1.4l-1.4 -1.4ZM548.3 743.7l1.4 1.4l-1.4 1.4l-1.4 -1.4ZM609.6 701.9l1.4 1.4l-1.4 1.4l-1.4 -1.4ZM609.6 749.1l1.4 1.4l-1.4 1.4l-1.4 -1.4ZM738.7 705.8l1.4 1.4l-1.4 1.4l-1.4 -1.4ZM738.7 755.4l1.4 1.4l-1.4 1.4l-1.4 -1.4ZM637.5 698.4l1.4 1.4l-1.4 1.4l-1.4 -1.4ZM637.5 751.2l1.4 1.4l-1.4 1.4l-1.4 -1.4ZM781.1 704.8l1.4 1.4l-1.4 1.4l-1.4 -1.4ZM781.1 765.2l1.4 1.4l-1.4 1.4l-1.4 -1.4ZM565.1 697.4l1.4 1.4l-1.4 1.4l-1.4 -1.4ZM565.1 753.7l1.4 1.4l-1.4 1.4l-1.4 -1.4ZM626.1 699.9l1.4 1.4l-1.4 1.4l-1.4 -1.4ZM626.1 759.0l1.4 1.4l-1.4 1.4l-1.4 -1.4ZM704.0 700.7l1.4 1.4l-1.4 1.4l-1.4 -1.4ZM704.0 759.3l1.4 1.4l-1.4 1.4l-1.4 -1.4ZM504.4 699.6l1.4 1.4l-1.4 1.4l-1.4 -1.4ZM504.4 761.2l1.4 1.4l-1.4 1.4l-1.4 -1.4ZM731.2 706.2l1.4 1.4l-1.4 1.4l-1.4 -1.4ZM731.2 761.9l1.4 1.4l-1.4 1.4l-1.4 -1.4ZM719.1 704.4l1.4 1.4l-1.4 1.4l-1.4 -1.4ZM719.1 753.6l1.4 1.4l-1.4 1.4l-1.4 -1.4ZM602.2 694.0l1.4 1.4l-1.4 1.4l-1.4 -1.4ZM602.2 748.6l1.4 1.4l-1.4 1.4l-1.4 -1.4ZM622.9 701.2l1.4 1.4l-1.4 1.4l-1.4 -1.4ZM622.9 753.6l1.4 1.4l-1.4 1.4l-1.4 -1.4ZM646.5 702.9l1.4 1.4l-1.4 1.4l-1.4 -1.4ZM646.5 755.4l1.4 1.4l-1.4 1.4l-1.4 -1.4ZM581.4 685.5l1.4 1.4l-1.4 1.4l-1.4 -1.4ZM581.4 746.9l1.4 1.4l-1.4 1.4l-1.4 -1.4ZM785.5 704.0l1.4 1.4l-1.4 1.4l-1.4 -1.4ZM785.5 752.0l1.4 1.4l-1.4 1.4l-1.4 -1.4ZM619.3 703.5l1.4 1.4l-1.4 1.4l-1.4 -1.4ZM619.3 751.3l1.4 1.4l-1.4 1.4l-1.4 -1.4ZM670.3 701.2l1.4 1.4l-1.4 1.4l-1.4 -1.4ZM670.3 755.9l1.4 1.4l-1.4 1.4l-1.4 -1.4ZM662.4 703.5l1.4 1.4l-1.4 1.4l-1.4 -1.4ZM662.4 760.3l1.4 1.4l-1.4 1.4l-1.4 -1.4ZM635.8 704.3l1.4 1.4l-1.4 1.4l-1.4 -1.4ZM635.8 756.3l1.4 1.4l-1.4 1.4l-1.4 -1.4ZM783.9 698.6l1.4 1.4l-1.4 1.4l-1.4 -1.4ZM783.9 758.9l1.4 1.4l-1.4 1.4l-1.4 -1.4ZM700.9 705.5l1.4 1.4l-1.4 1.4l-1.4 -1.4ZM700.9 752.0l1.4 1.4l-1.4 1.4l-1.4 -1.4ZM742.2 700.2l1.4 1.4l-1.4 1.4l-1.4 -1.4ZM742.2 755.3l1.4 1.4l-1.4 1.4l-1.4 -1.4ZM585.5 695.9l1.4 1.4l-1.4 1.4l-1.4 -1.4ZM585.5 758.3l1.4 1.4l-1.4 1.4l-1.4 -1.4ZM532.7 697.1l1.4 1.4l-1.4 1.4l-1.4 -1.4ZM532.7 749.3l1.4 1.4l-1.4 1.4l-1.4 -1.4ZM578.6 693.7l1.4 1.4l-1.4 1.4l-1.4 -1.4ZM578.6 746.6l1.4 1.4l-1.4 1.4l-1.4 -1.4ZM541.7 697.0l1.4 1.4l-1.4 1.4l-1.4 -1.4ZM541.7 744.1l1.4 1.4l-1.4 1.4l-1.4 -1.4ZM621.2 702.1l1.4 1.4l-1.4 1.4l-1.4 -1.4ZM621.2 765.1l1.4 1.4l-1.4 1.4l-1.4 -1.4ZM640.6 693.4l1.4 1.4l-1.4 1.4l-1.4 -1.4ZM640.6 750.8l1.4 1.4l-1.4 1.4l-1.4 -1.4ZM607.9 690.4l1.4 1.4l-1.4 1.4l-1.4 -1.4ZM607.9 749.4l1.4 1.4l-1.4 1.4l-1.4 -1.4ZM505.4 700.3l1.4 1.4l-1.4 1.4l-1.4 -1.4ZM505.4 754.6l1.4 1.4l-1.4 1.4l-1.4 -1.4ZM695.1 701.5l1.4 1.4l-1.4 1.4l-1.4 -1.4ZM695.1 759.5l1.4 1.4l-1.4 1.4l-1.4 -1.4ZM749.6 698.4l1.4 1.4l-1.4 1.4l-1.4 -1.4ZM749.6 758.1l1.4 1.4l-1.4 1.4l-1.4 -1.4ZM586.9 697.5l1.4 1.4l-1.4 1.4l-1.4 -1.4ZM586.9 751.3l1.4 1.4l-1.4 1.4l-1.4 -1.4ZM632.9 704.1l1.4 1.4l-1.4 1.4l-1.4 -1.4ZM632.9 752.3l1.4 1.4l-1.4 1.4l-1.4 -1.4ZM617.4 703.8l1.4 1.4l-1.4 1.4l-1.4 -1.4ZM617.4 750.3l1.4 1.4l-1.4 1.4l-1.4 -1.4ZM669.5 703.5l1.4 1.4l-1.4 1.4l-1.4 -1.4ZM669.5 755.4l1.4 1.4l-1.4 1.4l-1.4 -1.4ZM599.7 696.3l1.4 1.4l-1.4 1.4l-1.4 -1.4ZM599.7 755.2l1.4 1.4l-1.4 1.4l-1.4 -1.4ZM657.5 702.4l1.4 1.4l-1.4 1.4l-1.4 -1.4ZM657.5 755.9l1.4 1.4l-1.4 1.4l-1.4 -1.4ZM583.6 693.8l1.4 1.4l-1.4 1.4l-1.4 -1.4ZM583.6 760.5l1.4 1.4l-1.4 1.4l-1.4 -1.4ZM742.1 702.8l1.4 1.4l-1.4 1.4l-1.4 -1.4ZM742.1 762.8l1.4 1.4l-1.4 1.4l-1.4 -1.4ZM659.1 699.7l1.4 1.4l-1.4 1.4l-1.4 -1.4ZM659.1 750.6l1.4 1.4l-1.4 1.4l-1.4 -1.4ZM611.2 700.6l1.4 1.4l-1.4 1.4l-1.4 -1.4ZM611.2 748.0l1.4 1.4l-1.4 1.4l-1.4 -1.4ZM515.7 695.9l1.4 1.4l-1.4 1.4l-1.4 -1.4ZM515.7 748.7l1.4 1.4l-1.4 1.4l-1.4 -1.4ZM623.2 695.6l1.4 1.4l-1.4 1.4l-1.4 -1.4ZM623.2 750.5l1.4 1.4l-1.4 1.4l-1.4 -1.4ZM588.5 696.4l1.4 1.4l-1.4 1.4l-1.4 -1.4ZM588.5 752.3l1.4 1.4l-1.4 1.4l-1.4 -1.4ZM614.5 702.3l1.4 1.4l-1.4 1.4l-1.4 -1.4ZM614.5 751.6l1.4 1.4l-1.4 1.4l-1.4 -1.4ZM524.8 698.1l1.4 1.4l-1.4 1.4l-1.4 -1.4ZM524.8 750.6l1.4 1.4l-1.4 1.4l-1.4 -1.4ZM543.9 697.7l1.4 1.4l-1.4 1.4l-1.4 -1.4ZM543.9 756.1l1.4 1.4l-1.4 1.4l-1.4 -1.4ZM529.0 692.3l1.4 1.4l-1.4 1.4l-1.4 -1.4ZM529.0 753.1l1.4 1.4l-1.4 1.4l-1.4 -1.4ZM745.7 706.6l1.4 1.4l-1.4 1.4l-1.4 -1.4ZM745.7 751.9l1.4 1.4l-1.4 1.4l-1.4 -1.4ZM767.6 703.8l1.4 1.4l-1.4 1.4l-1.4 -1.4ZM767.6 755.1l1.4 1.4l-1.4 1.4l-1.4 -1.4ZM519.1 698.4l1.4 1.4l-1.4 1.4l-1.4 -1.4ZM519.1 747.3l1.4 1.4l-1.4 1.4l-1.4 -1.4ZM644.6 702.3l1.4 1.4l-1.4 1.4l-1.4 -1.4ZM644.6 757.4l1.4 1.4l-1.4 1.4l-1.4 -1.4ZM731.9 705.1l1.4 1.4l-1.4 1.4l-1.4 -1.4ZM731.9 768.0l1.4 1.4l-1.4 1.4l-1.4 -1.4ZM600.0 700.8l1.4 1.4l-1.4 1.4l-1.4 -1.4ZM600.0 748.6l1.4 1.4l-1.4 1.4l-1.4 -1.4ZM741.7 703.3l1.4 1.4l-1.4 1.4l-1.4 -1.4ZM741.7 764.9l1.4 1.4l-1.4 1.4l-1.4 -1.4ZM570.0 692.0l1.4 1.4l-1.4 1.4l-1.4 -1.4ZM570.0 746.4l1.4 1.4l-1.4 1.4l-1.4 -1.4ZM702.8 697.6l1.4 1.4l-1.4 1.4l-1.4 -1.4ZM702.8 754.5l1.4 1.4l-1.4 1.4l-1.4 -1.4ZM764.8 702.4l1.4 1.4l-1.4 1.4l-1.4 -1.4ZM764.8 754.9l1.4 1.4l-1.4 1.4l-1.4 -1.4ZM731.5 704.6l1.4 1.4l-1.4 1.4l-1.4 -1.4ZM731.5 753.0l1.4 1.4l-1.4 1.4l-1.4 -1.4ZM570.9 698.5l1.4 1.4l-1.4 1.4l-1.4 -1.4ZM570.9 745.4l1.4 1.4l-1.4 1.4l-1.4 -1.4ZM660.6 699.3l1.4 1.4l-1.4 1.4l-1.4 -1.4ZM660.6 751.1l1.4 1.4l-1.4 1.4l-1.4 -1.4ZM782.8 703.6l1.4 1.4l-1.4 1.4l-1.4 -1.4ZM782.8 752.2l1.4 1.4l-1.4 1.4l-1.4 -1.4ZM787.8 705.3l1.4 1.4l-1.4 1.4l-1.4 -1.4ZM787.8 778.4l1.4 1.4l-1.4 1.4l-1.4 -1.4ZM538.8 691.0l1.4 1.4l-1.4 1.4l-1.4 -1.4ZM538.8 747.0l1.4 1.4l-1.4 1.4l-1.4 -1.4ZM504.8 699.8l1.4 1.4l-1.4 1.4l-1.4 -1.4ZM504.8 752.7l1.4 1.4l-1.4 1.4l-1.4 -1.4ZM571.5 695.7l1.4 1.4l-1.4 1.4l-1.4 -1.4ZM571.5 748.0l1.4 1.4l-1.4 1.4l-1.4 -1.4Z" fill="#ffa500" fill-opacity="0.25"/>
<rect x="495.5" y="738.7" width="4" height="2.6" fill="#ffa500"/>
<rect x="793" y="738.7" width="5.6" height="2.6" fill="#ffa500"/>
<path d="M613.6 699 616.7 711 619.8 699Z" fill="#ffd99a"/>
<path d="M615.2 745 618.4 745 618 775 617.3 786 616.1 786 615.5 775Z" fill="#ffa500"/>
</g>
<clipPath id="c50"><rect x="89.5" y="846.5" width="330" height="102.9"/></clipPath>
<g clip-path="url(#c50)">
<path d="M107 866.91 108.2 866.04 109.4 865.89 110.6 864.53 111.8 864.68 113 863.74 114.2 862.73 115.4 862.8 116.6 862.24 117.8 863.32 119 864.34 120.2 865.05 121.4 865.9 122.6 866.64 123.8 866.03 125 866.89 126.2 866.34 127.4 866.65 128.6 867.79 129.8 867.67 131 867.36 132.2 866.88 133.4 867.57 134.6 866.96 135.8 867.18 137 866.6 138.2 866.46 139.4 866.82 140.6 867.67 141.8 867.15 143 867.7 144.2 867.39 145.4 867.76 146.6 866.73 147.8 866.12 149 865.8 150.2 865.28 151.4 864.77 152.6 865.87 153.8 868.54 155 869.73 156.2 871.6 157.4 872.46 158.6 872.28 159.8 872.62 161 873.2 162.2 872.6 163.4 873.94 164.6 873.31 165.8 873.78 167 874.14 168.2 873.84 169.4 873.64 170.6 873.95 171.8 873.09 173 873.13 174.2 872.65 175.4 872.74 176.6 872.71 177.8 872.37 179 872.36 180.2 872.64 181.4 872.85 182.6 872.95 183.8 872.69 185 872.64 186.2 872.84 187.4 872.91 188.6 873.97 189.8 873.58 191 874.07 192.2 873.55 193.4 873.64 194.6 873.75 195.8 873.48 197 874.32 198.2 873.8 199.4 874.05 200.6 874.57 201.8 873.71 203 874.88 204.2 874.44 205.4 874.41 206.6 874.39 207.8 873.99 209 874.56 210.2 874.21 211.4 874.98 212.6 874.81 213.8 875.27 215 874.73 216.2 874.56 217.4 873.7 218.6 874.08 219.8 873.23 221 872.21 222.2 872.99 223.4 872.25 224.6 872.26 225.8 872.23 227 872.47 228.2 872.57 229.4 872.05 230.6 872.9 231.8 872.43 233 872.5 234.2 872.46 235.4 872.8 236.6 873.39 237.8 872.51 239 873.14 240.2 872.53 241.4 872.13 242.6 872.22 243.8 872.51 245 871.8 246.2 872.21 247.4 872.13 248.6 871.67 249.8 871.41 251 871.21 252.2 871.21 253.4 871.22 254.6 870.66 255.8 871.41 257 871.53 258.2 872.71 259.4 873.01 260.6 872.62 261.8 873.92 263 874.2 264.2 875.16 265.4 874.82 266.6 875.5 267.8 875.63 269 875.15 270.2 874.15 271.4 874.15 272.6 874.84 273.8 873.49 275 874.34 276.2 873.63 277.4 873.36 278.6 873.12 279.8 874.21 281 873.71 282.2 874.69 283.4 874.45 284.6 874.19 285.8 874.19 287 874.5 288.2 873.3 289.4 873.18 290.6 872.71 291.8 872.83 293 873.82 294.2 873.45 295.4 873.54 296.6 873.38 297.8 873.93 299 874.11 300.2 874.04 301.4 874.52 302.6 873.43 303.8 873.51 305 873.19 306.2 873.52 307.4 872.83 308.6 872.72 309.8 872.71 311 871.58 312.2 871.46 313.4 871.79 314.6 872.11 315.8 870.88 317 871.78 318.2 871.18 319.4 870.97 320.6 870.48 321.8 870.58 323 870.51 324.2 870.48 325.4 869.83 326.6 870.02 327.8 870.57 329 870.05 330.2 869.86 331.4 870.42 332.6 870.9 333.8 870.92 335 869.84 336.2 870.75 337.4 870.04 338.6 870.77 339.8 870.73 341 870.56 342.2 869.47 343.4 870.04 344.6 869.28 345.8 868.58 347 868.62 348.2 868.97 349.4 868.84 350.6 867.74 351.8 868.26 353 868.4 354.2 867.67 355.4 867.16 356.6 867.54 357.8 867.54 359 867.28 360.2 866.73 361.4 866.16 362.6 866.8 363.8 865.79 365 865.68 366.2 865.63 367.4 865.64 368.6 865.86 369.8 865.1 371 865.01 372.2 864.94 373.4 865.94 374.6 866.07 375.8 866.51 377 866.2 378.2 866.97 379.4 866.66 380.6 867.03 381.8 867.42 383 867.84 384.2 867.22 385.4 867.79 386.6 867.84 387.8 866.87 389 866.25 390.2 866.18 391.4 865.3 392.6 864.96 393.8 864.75 395 865.14 396.2 864.28 397.4 864.13 398.6 865.26 399.8 866.45 401 870.45 401.5 872.1 401.5 882.5 401 881.54 399.8 877.63 398.6 874.02 397.4 872.84 396.2 873.71 395 873.44 393.8 873.5 392.6 873.36 391.4 873.71 390.2 874.04 389 874.61 387.8 876.2 386.6 876.23 385.4 877.25 384.2 879.1 383 879.94 381.8 879.68 380.6 879.98 379.4 879.58 378.2 879.38 377 878.82 375.8 879.55 374.6 878.73 373.4 878.67 372.2 878.85 371 879.23 369.8 879.13 368.6 879.97 367.4 879.77 366.2 880.29 365 880.74 363.8 880.99 362.6 881.55 361.4 881.85 360.2 883.31 359 883.09 357.8 883.62 356.6 884.3 355.4 885.68 354.2 885.22 353 884.46 351.8 882.48 350.6 883.06 349.4 883.08 348.2 882.22 347 882.45 345.8 882.56 344.6 881.62 343.4 881.36 342.2 881.95 341 881.47 339.8 881.49 338.6 881.86 337.4 882.11 336.2 881.47 335 882.12 333.8 881.69 332.6 882.88 331.4 882.97 330.2 882.24 329 882.36 327.8 882.06 326.6 882.22 325.4 881.38 324.2 881.72 323 880.91 321.8 881.86 320.6 881.12 319.4 881.11 318.2 881.81 317 881.9 315.8 881.12 314.6 882.08 313.4 881.57 312.2 881.14 311 881.45 309.8 882.15 308.6 882.07 307.4 882.56 306.2 881.76 305 882.77 303.8 882.69 302.6 882.47 301.4 881.92 300.2 882.95 299 882.51 297.8 882.1 296.6 883.31 295.4 883.23 294.2 882.43 293 883 291.8 882.75 290.6 882.65 289.4 883.59 288.2 883.03 287 882.76 285.8 883.01 284.6 882.74 283.4 882.69 282.2 883.1 281 883.69 279.8 883.47 278.6 883.05 277.4 883.44 276.2 883.44 275 883.28 273.8 883.74 272.6 884.28 271.4 884.15 270.2 884.07 269 884.57 267.8 884.11 266.6 884.54 265.4 883.82 264.2 883.93 263 884.07 261.8 884.18 260.6 884.34 259.4 884.21 258.2 884.96 257 884.95 255.8 884.81 254.6 884.36 253.4 883.92 252.2 883.75 251 884.57 249.8 884.15 248.6 884.21 247.4 884.55 246.2 884.17 245 884.55 243.8 884.27 242.6 884.34 241.4 884.93 240.2 885 239 885.03 237.8 884.2 236.6 884.5 235.4 884.93 234.2 884.94 233 884.78 231.8 885.2 230.6 884.58 229.4 884.86 228.2 885.39 227 884.96 225.8 885.51 224.6 885.26 223.4 885.08 222.2 885.09 221 884.15 219.8 884.13 218.6 884.32 217.4 884.94 216.2 884.62 215 884.09 213.8 884.3 212.6 883.82 211.4 883.75 210.2 883.7 209 884.8 207.8 884.69 206.6 883.97 205.4 884.39 204.2 884.24 203 883.87 201.8 884.21 200.6 883.77 199.4 883.78 198.2 884.32 197 884.06 195.8 883.86 194.6 883.84 193.4 884.33 192.2 883.72 191 884.2 189.8 884.61 188.6 884.25 187.4 884.84 186.2 884.71 185 884.21 183.8 884.13 182.6 884.96 181.4 883.98 180.2 884.32 179 884.71 177.8 883.95 176.6 884.54 175.4 884.28 174.2 883.69 173 883.4 171.8 883.55 170.6 882.71 169.4 883.03 168.2 882.31 167 882.32 165.8 881.96 164.6 882.51 163.4 882.5 162.2 882.33 161 881.67 159.8 881.8 158.6 881.51 157.4 882.07 156.2 881.61 155 883.8 153.8 885.15 152.6 885.95 151.4 886.51 150.2 886 149 885.25 147.8 885.58 146.6 884.61 145.4 884.47 144.2 883.98 143 884.02 141.8 883.74 140.6 884.31 139.4 884.69 138.2 884.51 137 884.11 135.8 883.89 134.6 882.63 133.4 883.1 132.2 881.99 131 881.34 129.8 881.26 128.6 881.94 127.4 881.5 126.2 880.62 125 880.17 123.8 880.41 122.6 880.4 121.4 880.78 120.2 881.47 119 881.53 117.8 882.82 116.6 883.51 115.4 882.96 114.2 882.4 113 882.66 111.8 881.85 110.6 881.48 109.4 880.76 108.2 881.1 107 880.91Z" fill="#0000ff"/>
<rect x="105.8" y="866" width="3" height="37" fill="#0000ff"/>
<path d="M400.5 900.8l1.45 1.45l-1.45 1.45l-1.45 -1.45ZM400.5 893.1l1.45 1.45l-1.45 1.45l-1.45 -1.45ZM400.5 899.7l1.45 1.45l-1.45 1.45l-1.45 -1.45ZM400.5 898.9l1.45 1.45l-1.45 1.45l-1.45 -1.45ZM400.5 901.4l1.45 1.45l-1.45 1.45l-1.45 -1.45ZM400.5 881.3l1.45 1.45l-1.45 1.45l-1.45 -1.45ZM400.5 890.6l1.45 1.45l-1.45 1.45l-1.45 -1.45ZM400.5 884.9l1.45 1.45l-1.45 1.45l-1.45 -1.45ZM400.5 880.0l1.45 1.45l-1.45 1.45l-1.45 -1.45ZM400.5 882.0l1.45 1.45l-1.45 1.45l-1.45 -1.45ZM400.5 894.7l1.45 1.45l-1.45 1.45l-1.45 -1.45ZM400.5 897.0l1.45 1.45l-1.45 1.45l-1.45 -1.45ZM400.5 898.2l1.45 1.45l-1.45 1.45l-1.45 -1.45ZM400.5 889.2l1.45 1.45l-1.45 1.45l-1.45 -1.45ZM400.5 897.8l1.45 1.45l-1.45 1.45l-1.45 -1.45ZM400.5 880.7l1.45 1.45l-1.45 1.45l-1.45 -1.45ZM400.5 888.0l1.45 1.45l-1.45 1.45l-1.45 -1.45ZM400.5 880.2l1.45 1.45l-1.45 1.45l-1.45 -1.45Z" fill="#0000ff" fill-opacity="0.1" stroke="#0000ff" stroke-width="0.7" stroke-opacity="0.3"/>
</g>
<clipPath id="c51"><rect x="482.5" y="846.5" width="330" height="102.9"/></clipPath>
<g clip-path="url(#c51)">
<rect x="499" y="876" width="295.6" height="3" fill="#ffa500"/>
<rect x="499" y="886" width="295.6" height="3" fill="#ffa500"/>
<rect x="499" y="896" width="295.6" height="3" fill="#ffa500"/>
<rect x="499" y="906.1" width="295.6" height="3" fill="#ffa500"/>
<rect x="499" y="916.9" width="295.6" height="3" fill="#ffa500"/>
<rect x="499" y="927" width="295.6" height="3" fill="#ffa500" fill-opacity="0.92"/>
<rect x="499" y="865.3" width="295.6" height="2.8" fill="#ffa500" fill-opacity="0.55"/>
<path d="M645.2 865.2l1.5 1.5l-1.5 1.5l-1.5 -1.5ZM663.6 865.2l1.5 1.5l-1.5 1.5l-1.5 -1.5ZM738.4 865.2l1.5 1.5l-1.5 1.5l-1.5 -1.5ZM593.8 865.2l1.5 1.5l-1.5 1.5l-1.5 -1.5ZM593.9 865.2l1.5 1.5l-1.5 1.5l-1.5 -1.5ZM703.9 865.2l1.5 1.5l-1.5 1.5l-1.5 -1.5ZM642.7 865.2l1.5 1.5l-1.5 1.5l-1.5 -1.5ZM605.2 865.2l1.5 1.5l-1.5 1.5l-1.5 -1.5ZM618.9 865.2l1.5 1.5l-1.5 1.5l-1.5 -1.5ZM596.5 865.2l1.5 1.5l-1.5 1.5l-1.5 -1.5ZM548.5 865.2l1.5 1.5l-1.5 1.5l-1.5 -1.5ZM685.8 865.2l1.5 1.5l-1.5 1.5l-1.5 -1.5ZM763.2 865.2l1.5 1.5l-1.5 1.5l-1.5 -1.5ZM702.6 865.2l1.5 1.5l-1.5 1.5l-1.5 -1.5ZM686.6 865.2l1.5 1.5l-1.5 1.5l-1.5 -1.5ZM598.8 865.2l1.5 1.5l-1.5 1.5l-1.5 -1.5ZM627.1 865.2l1.5 1.5l-1.5 1.5l-1.5 -1.5ZM541.6 865.2l1.5 1.5l-1.5 1.5l-1.5 -1.5ZM714.4 865.2l1.5 1.5l-1.5 1.5l-1.5 -1.5ZM586.6 865.2l1.5 1.5l-1.5 1.5l-1.5 -1.5ZM585.2 865.2l1.5 1.5l-1.5 1.5l-1.5 -1.5ZM788.9 865.2l1.5 1.5l-1.5 1.5l-1.5 -1.5ZM599.6 865.2l1.5 1.5l-1.5 1.5l-1.5 -1.5ZM788.3 865.2l1.5 1.5l-1.5 1.5l-1.5 -1.5ZM681.7 865.2l1.5 1.5l-1.5 1.5l-1.5 -1.5ZM724.0 865.2l1.5 1.5l-1.5 1.5l-1.5 -1.5ZM684.6 865.2l1.5 1.5l-1.5 1.5l-1.5 -1.5ZM551.8 865.2l1.5 1.5l-1.5 1.5l-1.5 -1.5ZM709.7 865.2l1.5 1.5l-1.5 1.5l-1.5 -1.5ZM575.5 865.2l1.5 1.5l-1.5 1.5l-1.5 -1.5ZM619.5 865.2l1.5 1.5l-1.5 1.5l-1.5 -1.5ZM537.6 865.2l1.5 1.5l-1.5 1.5l-1.5 -1.5ZM516.3 865.2l1.5 1.5l-1.5 1.5l-1.5 -1.5ZM607.7 865.2l1.5 1.5l-1.5 1.5l-1.5 -1.5ZM503.2 865.2l1.5 1.5l-1.5 1.5l-1.5 -1.5ZM612.9 865.2l1.5 1.5l-1.5 1.5l-1.5 -1.5ZM750.3 865.2l1.5 1.5l-1.5 1.5l-1.5 -1.5ZM794.2 865.2l1.5 1.5l-1.5 1.5l-1.5 -1.5ZM624.0 865.2l1.5 1.5l-1.5 1.5l-1.5 -1.5ZM530.9 865.2l1.5 1.5l-1.5 1.5l-1.5 -1.5ZM601.3 865.2l1.5 1.5l-1.5 1.5l-1.5 -1.5ZM517.8 865.2l1.5 1.5l-1.5 1.5l-1.5 -1.5ZM563.3 865.2l1.5 1.5l-1.5 1.5l-1.5 -1.5ZM682.7 865.2l1.5 1.5l-1.5 1.5l-1.5 -1.5ZM681.3 865.2l1.5 1.5l-1.5 1.5l-1.5 -1.5ZM508.3 865.2l1.5 1.5l-1.5 1.5l-1.5 -1.5ZM643.1 865.2l1.5 1.5l-1.5 1.5l-1.5 -1.5ZM623.9 865.2l1.5 1.5l-1.5 1.5l-1.5 -1.5ZM616.6 865.2l1.5 1.5l-1.5 1.5l-1.5 -1.5ZM538.9 865.2l1.5 1.5l-1.5 1.5l-1.5 -1.5ZM615.3 865.2l1.5 1.5l-1.5 1.5l-1.5 -1.5ZM529.2 865.2l1.5 1.5l-1.5 1.5l-1.5 -1.5ZM701.8 865.2l1.5 1.5l-1.5 1.5l-1.5 -1.5ZM691.0 865.2l1.5 1.5l-1.5 1.5l-1.5 -1.5ZM684.9 865.2l1.5 1.5l-1.5 1.5l-1.5 -1.5ZM619.5 865.2l1.5 1.5l-1.5 1.5l-1.5 -1.5ZM781.8 865.2l1.5 1.5l-1.5 1.5l-1.5 -1.5ZM608.0 865.2l1.5 1.5l-1.5 1.5l-1.5 -1.5ZM559.3 865.2l1.5 1.5l-1.5 1.5l-1.5 -1.5ZM609.4 865.2l1.5 1.5l-1.5 1.5l-1.5 -1.5ZM768.8 865.2l1.5 1.5l-1.5 1.5l-1.5 -1.5ZM545.7 865.2l1.5 1.5l-1.5 1.5l-1.5 -1.5ZM724.7 865.2l1.5 1.5l-1.5 1.5l-1.5 -1.5ZM776.3 865.2l1.5 1.5l-1.5 1.5l-1.5 -1.5ZM750.8 865.2l1.5 1.5l-1.5 1.5l-1.5 -1.5ZM636.6 865.2l1.5 1.5l-1.5 1.5l-1.5 -1.5ZM632.0 865.2l1.5 1.5l-1.5 1.5l-1.5 -1.5ZM756.6 865.2l1.5 1.5l-1.5 1.5l-1.5 -1.5ZM709.0 865.2l1.5 1.5l-1.5 1.5l-1.5 -1.5ZM737.5 865.2l1.5 1.5l-1.5 1.5l-1.5 -1.5ZM551.7 865.2l1.5 1.5l-1.5 1.5l-1.5 -1.5ZM678.8 865.2l1.5 1.5l-1.5 1.5l-1.5 -1.5ZM717.2 865.2l1.5 1.5l-1.5 1.5l-1.5 -1.5ZM569.4 865.2l1.5 1.5l-1.5 1.5l-1.5 -1.5ZM560.3 865.2l1.5 1.5l-1.5 1.5l-1.5 -1.5ZM747.7 865.2l1.5 1.5l-1.5 1.5l-1.5 -1.5ZM666.9 865.2l1.5 1.5l-1.5 1.5l-1.5 -1.5ZM620.1 865.2l1.5 1.5l-1.5 1.5l-1.5 -1.5ZM642.6 865.2l1.5 1.5l-1.5 1.5l-1.5 -1.5ZM575.0 865.2l1.5 1.5l-1.5 1.5l-1.5 -1.5ZM572.3 865.2l1.5 1.5l-1.5 1.5l-1.5 -1.5ZM530.5 865.2l1.5 1.5l-1.5 1.5l-1.5 -1.5ZM617.8 865.2l1.5 1.5l-1.5 1.5l-1.5 -1.5ZM542.4 865.2l1.5 1.5l-1.5 1.5l-1.5 -1.5ZM764.1 865.2l1.5 1.5l-1.5 1.5l-1.5 -1.5ZM781.6 865.2l1.5 1.5l-1.5 1.5l-1.5 -1.5ZM673.8 865.2l1.5 1.5l-1.5 1.5l-1.5 -1.5ZM525.7 865.2l1.5 1.5l-1.5 1.5l-1.5 -1.5ZM675.9 865.2l1.5 1.5l-1.5 1.5l-1.5 -1.5ZM545.0 865.2l1.5 1.5l-1.5 1.5l-1.5 -1.5ZM608.8 865.2l1.5 1.5l-1.5 1.5l-1.5 -1.5ZM536.9 865.2l1.5 1.5l-1.5 1.5l-1.5 -1.5ZM646.0 865.2l1.5 1.5l-1.5 1.5l-1.5 -1.5ZM521.2 865.2l1.5 1.5l-1.5 1.5l-1.5 -1.5ZM581.7 865.2l1.5 1.5l-1.5 1.5l-1.5 -1.5ZM568.0 865.2l1.5 1.5l-1.5 1.5l-1.5 -1.5ZM636.8 865.2l1.5 1.5l-1.5 1.5l-1.5 -1.5ZM774.1 865.2l1.5 1.5l-1.5 1.5l-1.5 -1.5ZM670.1 865.2l1.5 1.5l-1.5 1.5l-1.5 -1.5ZM730.3 865.2l1.5 1.5l-1.5 1.5l-1.5 -1.5ZM713.4 865.2l1.5 1.5l-1.5 1.5l-1.5 -1.5ZM656.0 865.2l1.5 1.5l-1.5 1.5l-1.5 -1.5ZM519.1 865.2l1.5 1.5l-1.5 1.5l-1.5 -1.5ZM516.2 865.2l1.5 1.5l-1.5 1.5l-1.5 -1.5ZM538.8 865.2l1.5 1.5l-1.5 1.5l-1.5 -1.5ZM651.6 865.2l1.5 1.5l-1.5 1.5l-1.5 -1.5ZM599.4 865.2l1.5 1.5l-1.5 1.5l-1.5 -1.5ZM774.1 865.2l1.5 1.5l-1.5 1.5l-1.5 -1.5ZM558.0 865.2l1.5 1.5l-1.5 1.5l-1.5 -1.5ZM537.9 865.2l1.5 1.5l-1.5 1.5l-1.5 -1.5ZM688.5 865.2l1.5 1.5l-1.5 1.5l-1.5 -1.5ZM678.4 865.2l1.5 1.5l-1.5 1.5l-1.5 -1.5ZM514.7 865.2l1.5 1.5l-1.5 1.5l-1.5 -1.5ZM600.7 865.2l1.5 1.5l-1.5 1.5l-1.5 -1.5ZM630.3 865.2l1.5 1.5l-1.5 1.5l-1.5 -1.5ZM742.2 865.2l1.5 1.5l-1.5 1.5l-1.5 -1.5ZM729.3 865.2l1.5 1.5l-1.5 1.5l-1.5 -1.5ZM757.2 865.2l1.5 1.5l-1.5 1.5l-1.5 -1.5ZM657.4 865.2l1.5 1.5l-1.5 1.5l-1.5 -1.5ZM776.3 865.2l1.5 1.5l-1.5 1.5l-1.5 -1.5ZM638.0 865.2l1.5 1.5l-1.5 1.5l-1.5 -1.5ZM584.4 865.2l1.5 1.5l-1.5 1.5l-1.5 -1.5ZM540.4 865.2l1.5 1.5l-1.5 1.5l-1.5 -1.5ZM744.9 865.2l1.5 1.5l-1.5 1.5l-1.5 -1.5ZM691.2 865.2l1.5 1.5l-1.5 1.5l-1.5 -1.5ZM681.3 865.2l1.5 1.5l-1.5 1.5l-1.5 -1.5ZM788.2 865.2l1.5 1.5l-1.5 1.5l-1.5 -1.5ZM685.9 865.2l1.5 1.5l-1.5 1.5l-1.5 -1.5ZM590.7 865.2l1.5 1.5l-1.5 1.5l-1.5 -1.5ZM704.4 865.2l1.5 1.5l-1.5 1.5l-1.5 -1.5ZM772.7 865.2l1.5 1.5l-1.5 1.5l-1.5 -1.5ZM551.8 865.2l1.5 1.5l-1.5 1.5l-1.5 -1.5ZM777.9 865.2l1.5 1.5l-1.5 1.5l-1.5 -1.5ZM622.0 865.2l1.5 1.5l-1.5 1.5l-1.5 -1.5ZM532.5 865.2l1.5 1.5l-1.5 1.5l-1.5 -1.5ZM649.2 865.2l1.5 1.5l-1.5 1.5l-1.5 -1.5ZM729.8 865.2l1.5 1.5l-1.5 1.5l-1.5 -1.5ZM644.2 865.2l1.5 1.5l-1.5 1.5l-1.5 -1.5ZM578.6 865.2l1.5 1.5l-1.5 1.5l-1.5 -1.5ZM725.9 865.2l1.5 1.5l-1.5 1.5l-1.5 -1.5ZM529.1 865.2l1.5 1.5l-1.5 1.5l-1.5 -1.5ZM697.4 865.2l1.5 1.5l-1.5 1.5l-1.5 -1.5ZM605.9 865.2l1.5 1.5l-1.5 1.5l-1.5 -1.5ZM680.1 865.2l1.5 1.5l-1.5 1.5l-1.5 -1.5ZM648.8 865.2l1.5 1.5l-1.5 1.5l-1.5 -1.5ZM581.8 865.2l1.5 1.5l-1.5 1.5l-1.5 -1.5ZM559.7 865.2l1.5 1.5l-1.5 1.5l-1.5 -1.5ZM741.5 865.2l1.5 1.5l-1.5 1.5l-1.5 -1.5ZM634.1 865.2l1.5 1.5l-1.5 1.5l-1.5 -1.5ZM582.9 865.2l1.5 1.5l-1.5 1.5l-1.5 -1.5ZM674.1 865.2l1.5 1.5l-1.5 1.5l-1.5 -1.5ZM726.0 865.2l1.5 1.5l-1.5 1.5l-1.5 -1.5ZM525.3 865.2l1.5 1.5l-1.5 1.5l-1.5 -1.5ZM634.5 865.2l1.5 1.5l-1.5 1.5l-1.5 -1.5ZM544.0 865.2l1.5 1.5l-1.5 1.5l-1.5 -1.5ZM726.1 865.2l1.5 1.5l-1.5 1.5l-1.5 -1.5ZM512.4 865.2l1.5 1.5l-1.5 1.5l-1.5 -1.5ZM745.1 865.2l1.5 1.5l-1.5 1.5l-1.5 -1.5ZM664.5 865.2l1.5 1.5l-1.5 1.5l-1.5 -1.5ZM651.6 865.2l1.5 1.5l-1.5 1.5l-1.5 -1.5ZM657.8 865.2l1.5 1.5l-1.5 1.5l-1.5 -1.5ZM581.3 865.2l1.5 1.5l-1.5 1.5l-1.5 -1.5ZM632.7 865.2l1.5 1.5l-1.5 1.5l-1.5 -1.5ZM549.3 865.2l1.5 1.5l-1.5 1.5l-1.5 -1.5ZM604.4 865.2l1.5 1.5l-1.5 1.5l-1.5 -1.5ZM675.1 865.2l1.5 1.5l-1.5 1.5l-1.5 -1.5ZM679.7 865.2l1.5 1.5l-1.5 1.5l-1.5 -1.5ZM594.8 865.2l1.5 1.5l-1.5 1.5l-1.5 -1.5ZM681.1 865.2l1.5 1.5l-1.5 1.5l-1.5 -1.5ZM731.0 865.2l1.5 1.5l-1.5 1.5l-1.5 -1.5ZM728.3 865.2l1.5 1.5l-1.5 1.5l-1.5 -1.5ZM500.0 865.2l1.5 1.5l-1.5 1.5l-1.5 -1.5ZM647.0 865.2l1.5 1.5l-1.5 1.5l-1.5 -1.5ZM549.4 865.2l1.5 1.5l-1.5 1.5l-1.5 -1.5ZM741.2 865.2l1.5 1.5l-1.5 1.5l-1.5 -1.5ZM671.2 865.2l1.5 1.5l-1.5 1.5l-1.5 -1.5ZM629.5 865.2l1.5 1.5l-1.5 1.5l-1.5 -1.5ZM679.2 865.2l1.5 1.5l-1.5 1.5l-1.5 -1.5ZM650.0 865.2l1.5 1.5l-1.5 1.5l-1.5 -1.5ZM560.3 865.2l1.5 1.5l-1.5 1.5l-1.5 -1.5ZM769.2 865.2l1.5 1.5l-1.5 1.5l-1.5 -1.5ZM515.7 865.2l1.5 1.5l-1.5 1.5l-1.5 -1.5ZM509.5 865.2l1.5 1.5l-1.5 1.5l-1.5 -1.5ZM585.8 865.2l1.5 1.5l-1.5 1.5l-1.5 -1.5ZM541.0 865.2l1.5 1.5l-1.5 1.5l-1.5 -1.5ZM609.4 865.2l1.5 1.5l-1.5 1.5l-1.5 -1.5ZM681.0 865.2l1.5 1.5l-1.5 1.5l-1.5 -1.5ZM614.4 865.2l1.5 1.5l-1.5 1.5l-1.5 -1.5ZM785.7 865.2l1.5 1.5l-1.5 1.5l-1.5 -1.5ZM595.6 865.2l1.5 1.5l-1.5 1.5l-1.5 -1.5ZM776.8 865.2l1.5 1.5l-1.5 1.5l-1.5 -1.5ZM788.8 865.2l1.5 1.5l-1.5 1.5l-1.5 -1.5ZM661.1 865.2l1.5 1.5l-1.5 1.5l-1.5 -1.5ZM737.3 865.2l1.5 1.5l-1.5 1.5l-1.5 -1.5ZM521.4 865.2l1.5 1.5l-1.5 1.5l-1.5 -1.5ZM774.9 865.2l1.5 1.5l-1.5 1.5l-1.5 -1.5ZM629.6 865.2l1.5 1.5l-1.5 1.5l-1.5 -1.5ZM598.8 865.2l1.5 1.5l-1.5 1.5l-1.5 -1.5ZM771.4 865.2l1.5 1.5l-1.5 1.5l-1.5 -1.5ZM617.6 865.2l1.5 1.5l-1.5 1.5l-1.5 -1.5ZM525.3 865.2l1.5 1.5l-1.5 1.5l-1.5 -1.5ZM507.1 865.2l1.5 1.5l-1.5 1.5l-1.5 -1.5ZM735.2 865.2l1.5 1.5l-1.5 1.5l-1.5 -1.5ZM552.3 865.2l1.5 1.5l-1.5 1.5l-1.5 -1.5ZM687.0 865.2l1.5 1.5l-1.5 1.5l-1.5 -1.5ZM524.7 865.2l1.5 1.5l-1.5 1.5l-1.5 -1.5ZM739.8 865.2l1.5 1.5l-1.5 1.5l-1.5 -1.5ZM785.5 865.2l1.5 1.5l-1.5 1.5l-1.5 -1.5ZM607.8 865.2l1.5 1.5l-1.5 1.5l-1.5 -1.5ZM734.1 865.2l1.5 1.5l-1.5 1.5l-1.5 -1.5ZM764.5 865.2l1.5 1.5l-1.5 1.5l-1.5 -1.5ZM568.0 865.2l1.5 1.5l-1.5 1.5l-1.5 -1.5ZM639.1 865.2l1.5 1.5l-1.5 1.5l-1.5 -1.5ZM794.0 865.2l1.5 1.5l-1.5 1.5l-1.5 -1.5ZM780.5 865.2l1.5 1.5l-1.5 1.5l-1.5 -1.5ZM665.5 865.2l1.5 1.5l-1.5 1.5l-1.5 -1.5ZM661.2 865.2l1.5 1.5l-1.5 1.5l-1.5 -1.5ZM505.2 865.2l1.5 1.5l-1.5 1.5l-1.5 -1.5ZM744.5 865.2l1.5 1.5l-1.5 1.5l-1.5 -1.5ZM778.8 865.2l1.5 1.5l-1.5 1.5l-1.5 -1.5Z" fill="#ffa500" fill-opacity="0.2" stroke="#ffa500" stroke-width="0.8" stroke-opacity="0.35"/>
<rect x="499" y="937.3" width="295.6" height="2.4" fill="#ffa500" fill-opacity="0.14"/>
<path d="M665.8 937.0l1.5 1.5l-1.5 1.5l-1.5 -1.5ZM567.5 937.0l1.5 1.5l-1.5 1.5l-1.5 -1.5ZM536.3 937.0l1.5 1.5l-1.5 1.5l-1.5 -1.5ZM686.7 937.0l1.5 1.5l-1.5 1.5l-1.5 -1.5ZM704.2 937.0l1.5 1.5l-1.5 1.5l-1.5 -1.5ZM675.7 937.0l1.5 1.5l-1.5 1.5l-1.5 -1.5ZM747.3 937.0l1.5 1.5l-1.5 1.5l-1.5 -1.5ZM509.5 937.0l1.5 1.5l-1.5 1.5l-1.5 -1.5ZM500.9 937.0l1.5 1.5l-1.5 1.5l-1.5 -1.5ZM529.3 937.0l1.5 1.5l-1.5 1.5l-1.5 -1.5ZM590.8 937.0l1.5 1.5l-1.5 1.5l-1.5 -1.5ZM513.6 937.0l1.5 1.5l-1.5 1.5l-1.5 -1.5ZM570.4 937.0l1.5 1.5l-1.5 1.5l-1.5 -1.5ZM560.3 937.0l1.5 1.5l-1.5 1.5l-1.5 -1.5ZM739.3 937.0l1.5 1.5l-1.5 1.5l-1.5 -1.5ZM654.8 937.0l1.5 1.5l-1.5 1.5l-1.5 -1.5ZM558.1 937.0l1.5 1.5l-1.5 1.5l-1.5 -1.5ZM648.8 937.0l1.5 1.5l-1.5 1.5l-1.5 -1.5ZM544.8 937.0l1.5 1.5l-1.5 1.5l-1.5 -1.5ZM791.0 937.0l1.5 1.5l-1.5 1.5l-1.5 -1.5ZM525.8 937.0l1.5 1.5l-1.5 1.5l-1.5 -1.5ZM569.5 937.0l1.5 1.5l-1.5 1.5l-1.5 -1.5ZM668.2 937.0l1.5 1.5l-1.5 1.5l-1.5 -1.5ZM763.3 937.0l1.5 1.5l-1.5 1.5l-1.5 -1.5ZM692.8 937.0l1.5 1.5l-1.5 1.5l-1.5 -1.5ZM539.3 937.0l1.5 1.5l-1.5 1.5l-1.5 -1.5ZM679.0 937.0l1.5 1.5l-1.5 1.5l-1.5 -1.5ZM717.6 937.0l1.5 1.5l-1.5 1.5l-1.5 -1.5ZM774.7 937.0l1.5 1.5l-1.5 1.5l-1.5 -1.5ZM687.5 937.0l1.5 1.5l-1.5 1.5l-1.5 -1.5ZM572.9 937.0l1.5 1.5l-1.5 1.5l-1.5 -1.5ZM743.8 937.0l1.5 1.5l-1.5 1.5l-1.5 -1.5ZM705.7 937.0l1.5 1.5l-1.5 1.5l-1.5 -1.5ZM762.7 937.0l1.5 1.5l-1.5 1.5l-1.5 -1.5ZM558.4 937.0l1.5 1.5l-1.5 1.5l-1.5 -1.5ZM746.4 937.0l1.5 1.5l-1.5 1.5l-1.5 -1.5ZM640.9 937.0l1.5 1.5l-1.5 1.5l-1.5 -1.5ZM564.4 937.0l1.5 1.5l-1.5 1.5l-1.5 -1.5ZM574.2 937.0l1.5 1.5l-1.5 1.5l-1.5 -1.5ZM528.3 937.0l1.5 1.5l-1.5 1.5l-1.5 -1.5ZM764.2 937.0l1.5 1.5l-1.5 1.5l-1.5 -1.5ZM541.2 937.0l1.5 1.5l-1.5 1.5l-1.5 -1.5ZM686.2 937.0l1.5 1.5l-1.5 1.5l-1.5 -1.5ZM573.5 937.0l1.5 1.5l-1.5 1.5l-1.5 -1.5ZM572.9 937.0l1.5 1.5l-1.5 1.5l-1.5 -1.5ZM603.2 937.0l1.5 1.5l-1.5 1.5l-1.5 -1.5ZM749.1 937.0l1.5 1.5l-1.5 1.5l-1.5 -1.5ZM518.6 937.0l1.5 1.5l-1.5 1.5l-1.5 -1.5ZM614.4 937.0l1.5 1.5l-1.5 1.5l-1.5 -1.5ZM595.8 937.0l1.5 1.5l-1.5 1.5l-1.5 -1.5ZM642.5 937.0l1.5 1.5l-1.5 1.5l-1.5 -1.5ZM683.3 937.0l1.5 1.5l-1.5 1.5l-1.5 -1.5ZM754.8 937.0l1.5 1.5l-1.5 1.5l-1.5 -1.5ZM686.9 937.0l1.5 1.5l-1.5 1.5l-1.5 -1.5ZM751.0 937.0l1.5 1.5l-1.5 1.5l-1.5 -1.5ZM759.8 937.0l1.5 1.5l-1.5 1.5l-1.5 -1.5ZM739.5 937.0l1.5 1.5l-1.5 1.5l-1.5 -1.5ZM506.5 937.0l1.5 1.5l-1.5 1.5l-1.5 -1.5ZM517.9 937.0l1.5 1.5l-1.5 1.5l-1.5 -1.5ZM653.8 937.0l1.5 1.5l-1.5 1.5l-1.5 -1.5ZM557.2 937.0l1.5 1.5l-1.5 1.5l-1.5 -1.5ZM606.2 937.0l1.5 1.5l-1.5 1.5l-1.5 -1.5ZM655.6 937.0l1.5 1.5l-1.5 1.5l-1.5 -1.5ZM656.1 937.0l1.5 1.5l-1.5 1.5l-1.5 -1.5ZM725.6 937.0l1.5 1.5l-1.5 1.5l-1.5 -1.5ZM727.3 937.0l1.5 1.5l-1.5 1.5l-1.5 -1.5ZM563.4 937.0l1.5 1.5l-1.5 1.5l-1.5 -1.5ZM668.2 937.0l1.5 1.5l-1.5 1.5l-1.5 -1.5ZM638.7 937.0l1.5 1.5l-1.5 1.5l-1.5 -1.5ZM630.4 937.0l1.5 1.5l-1.5 1.5l-1.5 -1.5ZM713.6 937.0l1.5 1.5l-1.5 1.5l-1.5 -1.5ZM710.2 937.0l1.5 1.5l-1.5 1.5l-1.5 -1.5ZM708.1 937.0l1.5 1.5l-1.5 1.5l-1.5 -1.5ZM612.5 937.0l1.5 1.5l-1.5 1.5l-1.5 -1.5ZM523.8 937.0l1.5 1.5l-1.5 1.5l-1.5 -1.5ZM671.8 937.0l1.5 1.5l-1.5 1.5l-1.5 -1.5ZM574.0 937.0l1.5 1.5l-1.5 1.5l-1.5 -1.5ZM590.7 937.0l1.5 1.5l-1.5 1.5l-1.5 -1.5ZM528.6 937.0l1.5 1.5l-1.5 1.5l-1.5 -1.5ZM521.3 937.0l1.5 1.5l-1.5 1.5l-1.5 -1.5ZM630.2 937.0l1.5 1.5l-1.5 1.5l-1.5 -1.5ZM783.1 937.0l1.5 1.5l-1.5 1.5l-1.5 -1.5ZM680.6 937.0l1.5 1.5l-1.5 1.5l-1.5 -1.5ZM573.9 937.0l1.5 1.5l-1.5 1.5l-1.5 -1.5ZM780.1 937.0l1.5 1.5l-1.5 1.5l-1.5 -1.5ZM556.9 937.0l1.5 1.5l-1.5 1.5l-1.5 -1.5ZM698.6 937.0l1.5 1.5l-1.5 1.5l-1.5 -1.5ZM520.1 937.0l1.5 1.5l-1.5 1.5l-1.5 -1.5ZM781.8 937.0l1.5 1.5l-1.5 1.5l-1.5 -1.5ZM768.3 937.0l1.5 1.5l-1.5 1.5l-1.5 -1.5ZM746.4 937.0l1.5 1.5l-1.5 1.5l-1.5 -1.5ZM611.4 937.0l1.5 1.5l-1.5 1.5l-1.5 -1.5ZM632.7 937.0l1.5 1.5l-1.5 1.5l-1.5 -1.5ZM645.8 937.0l1.5 1.5l-1.5 1.5l-1.5 -1.5ZM771.8 937.0l1.5 1.5l-1.5 1.5l-1.5 -1.5ZM671.0 937.0l1.5 1.5l-1.5 1.5l-1.5 -1.5ZM572.2 937.0l1.5 1.5l-1.5 1.5l-1.5 -1.5ZM767.0 937.0l1.5 1.5l-1.5 1.5l-1.5 -1.5ZM623.6 937.0l1.5 1.5l-1.5 1.5l-1.5 -1.5ZM714.8 937.0l1.5 1.5l-1.5 1.5l-1.5 -1.5ZM777.6 937.0l1.5 1.5l-1.5 1.5l-1.5 -1.5ZM727.5 937.0l1.5 1.5l-1.5 1.5l-1.5 -1.5ZM535.8 937.0l1.5 1.5l-1.5 1.5l-1.5 -1.5ZM741.0 937.0l1.5 1.5l-1.5 1.5l-1.5 -1.5ZM632.5 937.0l1.5 1.5l-1.5 1.5l-1.5 -1.5ZM793.8 937.0l1.5 1.5l-1.5 1.5l-1.5 -1.5ZM610.3 937.0l1.5 1.5l-1.5 1.5l-1.5 -1.5ZM551.3 937.0l1.5 1.5l-1.5 1.5l-1.5 -1.5ZM533.8 937.0l1.5 1.5l-1.5 1.5l-1.5 -1.5ZM793.8 937.0l1.5 1.5l-1.5 1.5l-1.5 -1.5ZM626.2 937.0l1.5 1.5l-1.5 1.5l-1.5 -1.5ZM503.1 937.0l1.5 1.5l-1.5 1.5l-1.5 -1.5ZM647.2 937.0l1.5 1.5l-1.5 1.5l-1.5 -1.5ZM782.5 937.0l1.5 1.5l-1.5 1.5l-1.5 -1.5ZM561.4 937.0l1.5 1.5l-1.5 1.5l-1.5 -1.5ZM773.2 937.0l1.5 1.5l-1.5 1.5l-1.5 -1.5ZM793.6 937.0l1.5 1.5l-1.5 1.5l-1.5 -1.5ZM559.4 937.0l1.5 1.5l-1.5 1.5l-1.5 -1.5ZM560.5 937.0l1.5 1.5l-1.5 1.5l-1.5 -1.5ZM541.9 937.0l1.5 1.5l-1.5 1.5l-1.5 -1.5ZM528.4 937.0l1.5 1.5l-1.5 1.5l-1.5 -1.5ZM499.2 937.0l1.5 1.5l-1.5 1.5l-1.5 -1.5ZM563.4 937.0l1.5 1.5l-1.5 1.5l-1.5 -1.5ZM735.6 937.0l1.5 1.5l-1.5 1.5l-1.5 -1.5ZM627.3 937.0l1.5 1.5l-1.5 1.5l-1.5 -1.5ZM620.7 937.0l1.5 1.5l-1.5 1.5l-1.5 -1.5ZM683.3 937.0l1.5 1.5l-1.5 1.5l-1.5 -1.5ZM539.3 937.0l1.5 1.5l-1.5 1.5l-1.5 -1.5ZM728.7 937.0l1.5 1.5l-1.5 1.5l-1.5 -1.5ZM573.1 937.0l1.5 1.5l-1.5 1.5l-1.5 -1.5ZM652.3 937.0l1.5 1.5l-1.5 1.5l-1.5 -1.5ZM563.6 937.0l1.5 1.5l-1.5 1.5l-1.5 -1.5ZM575.5 937.0l1.5 1.5l-1.5 1.5l-1.5 -1.5ZM542.8 937.0l1.5 1.5l-1.5 1.5l-1.5 -1.5ZM615.0 937.0l1.5 1.5l-1.5 1.5l-1.5 -1.5ZM627.2 937.0l1.5 1.5l-1.5 1.5l-1.5 -1.5ZM528.0 937.0l1.5 1.5l-1.5 1.5l-1.5 -1.5ZM745.1 937.0l1.5 1.5l-1.5 1.5l-1.5 -1.5ZM597.6 937.0l1.5 1.5l-1.5 1.5l-1.5 -1.5ZM697.9 937.0l1.5 1.5l-1.5 1.5l-1.5 -1.5ZM555.2 937.0l1.5 1.5l-1.5 1.5l-1.5 -1.5ZM511.5 937.0l1.5 1.5l-1.5 1.5l-1.5 -1.5ZM788.0 937.0l1.5 1.5l-1.5 1.5l-1.5 -1.5ZM569.8 937.0l1.5 1.5l-1.5 1.5l-1.5 -1.5ZM502.5 937.0l1.5 1.5l-1.5 1.5l-1.5 -1.5ZM773.5 937.0l1.5 1.5l-1.5 1.5l-1.5 -1.5ZM624.9 937.0l1.5 1.5l-1.5 1.5l-1.5 -1.5ZM500.9 937.0l1.5 1.5l-1.5 1.5l-1.5 -1.5ZM688.2 937.0l1.5 1.5l-1.5 1.5l-1.5 -1.5ZM598.9 937.0l1.5 1.5l-1.5 1.5l-1.5 -1.5ZM785.2 937.0l1.5 1.5l-1.5 1.5l-1.5 -1.5ZM740.7 937.0l1.5 1.5l-1.5 1.5l-1.5 -1.5ZM694.6 937.0l1.5 1.5l-1.5 1.5l-1.5 -1.5ZM706.4 937.0l1.5 1.5l-1.5 1.5l-1.5 -1.5ZM593.7 937.0l1.5 1.5l-1.5 1.5l-1.5 -1.5ZM770.2 937.0l1.5 1.5l-1.5 1.5l-1.5 -1.5ZM774.7 937.0l1.5 1.5l-1.5 1.5l-1.5 -1.5ZM571.8 937.0l1.5 1.5l-1.5 1.5l-1.5 -1.5ZM514.2 937.0l1.5 1.5l-1.5 1.5l-1.5 -1.5ZM517.8 937.0l1.5 1.5l-1.5 1.5l-1.5 -1.5ZM654.6 937.0l1.5 1.5l-1.5 1.5l-1.5 -1.5ZM681.9 937.0l1.5 1.5l-1.5 1.5l-1.5 -1.5ZM737.2 937.0l1.5 1.5l-1.5 1.5l-1.5 -1.5ZM767.1 937.0l1.5 1.5l-1.5 1.5l-1.5 -1.5ZM612.3 937.0l1.5 1.5l-1.5 1.5l-1.5 -1.5ZM630.2 937.0l1.5 1.5l-1.5 1.5l-1.5 -1.5ZM616.6 937.0l1.5 1.5l-1.5 1.5l-1.5 -1.5ZM766.8 937.0l1.5 1.5l-1.5 1.5l-1.5 -1.5ZM563.5 937.0l1.5 1.5l-1.5 1.5l-1.5 -1.5ZM537.1 937.0l1.5 1.5l-1.5 1.5l-1.5 -1.5ZM557.0 937.0l1.5 1.5l-1.5 1.5l-1.5 -1.5ZM771.8 937.0l1.5 1.5l-1.5 1.5l-1.5 -1.5ZM549.3 937.0l1.5 1.5l-1.5 1.5l-1.5 -1.5ZM793.1 937.0l1.5 1.5l-1.5 1.5l-1.5 -1.5ZM572.6 937.0l1.5 1.5l-1.5 1.5l-1.5 -1.5ZM609.1 937.0l1.5 1.5l-1.5 1.5l-1.5 -1.5ZM552.4 937.0l1.5 1.5l-1.5 1.5l-1.5 -1.5ZM786.8 937.0l1.5 1.5l-1.5 1.5l-1.5 -1.5ZM522.2 937.0l1.5 1.5l-1.5 1.5l-1.5 -1.5ZM546.7 937.0l1.5 1.5l-1.5 1.5l-1.5 -1.5ZM703.6 937.0l1.5 1.5l-1.5 1.5l-1.5 -1.5ZM642.4 937.0l1.5 1.5l-1.5 1.5l-1.5 -1.5ZM614.6 937.0l1.5 1.5l-1.5 1.5l-1.5 -1.5ZM633.6 937.0l1.5 1.5l-1.5 1.5l-1.5 -1.5ZM763.1 937.0l1.5 1.5l-1.5 1.5l-1.5 -1.5ZM543.2 937.0l1.5 1.5l-1.5 1.5l-1.5 -1.5ZM663.3 937.0l1.5 1.5l-1.5 1.5l-1.5 -1.5ZM560.4 937.0l1.5 1.5l-1.5 1.5l-1.5 -1.5ZM645.9 937.0l1.5 1.5l-1.5 1.5l-1.5 -1.5ZM613.1 937.0l1.5 1.5l-1.5 1.5l-1.5 -1.5ZM621.0 937.0l1.5 1.5l-1.5 1.5l-1.5 -1.5ZM591.3 937.0l1.5 1.5l-1.5 1.5l-1.5 -1.5ZM502.7 937.0l1.5 1.5l-1.5 1.5l-1.5 -1.5ZM558.0 937.0l1.5 1.5l-1.5 1.5l-1.5 -1.5ZM715.7 937.0l1.5 1.5l-1.5 1.5l-1.5 -1.5ZM613.2 937.0l1.5 1.5l-1.5 1.5l-1.5 -1.5ZM535.6 937.0l1.5 1.5l-1.5 1.5l-1.5 -1.5ZM530.6 937.0l1.5 1.5l-1.5 1.5l-1.5 -1.5ZM712.8 937.0l1.5 1.5l-1.5 1.5l-1.5 -1.5ZM554.5 937.0l1.5 1.5l-1.5 1.5l-1.5 -1.5Z" fill="#ffa500" fill-opacity="0.12" stroke="#ffa500" stroke-width="0.8" stroke-opacity="0.3"/>
<path d="M777.3 855.0l1.5 1.5l-1.5 1.5l-1.5 -1.5ZM653.7 855.0l1.5 1.5l-1.5 1.5l-1.5 -1.5ZM517.9 855.0l1.5 1.5l-1.5 1.5l-1.5 -1.5ZM593.5 855.0l1.5 1.5l-1.5 1.5l-1.5 -1.5ZM682.8 855.0l1.5 1.5l-1.5 1.5l-1.5 -1.5ZM790.7 855.0l1.5 1.5l-1.5 1.5l-1.5 -1.5ZM770.1 855.0l1.5 1.5l-1.5 1.5l-1.5 -1.5ZM567.7 855.0l1.5 1.5l-1.5 1.5l-1.5 -1.5ZM679.7 855.0l1.5 1.5l-1.5 1.5l-1.5 -1.5ZM668.8 855.0l1.5 1.5l-1.5 1.5l-1.5 -1.5ZM759.6 855.0l1.5 1.5l-1.5 1.5l-1.5 -1.5ZM551.4 855.0l1.5 1.5l-1.5 1.5l-1.5 -1.5ZM651.7 855.0l1.5 1.5l-1.5 1.5l-1.5 -1.5ZM670.2 855.0l1.5 1.5l-1.5 1.5l-1.5 -1.5ZM642.5 855.0l1.5 1.5l-1.5 1.5l-1.5 -1.5ZM638.6 855.0l1.5 1.5l-1.5 1.5l-1.5 -1.5ZM504.5 855.0l1.5 1.5l-1.5 1.5l-1.5 -1.5ZM550.5 855.0l1.5 1.5l-1.5 1.5l-1.5 -1.5ZM780.9 855.0l1.5 1.5l-1.5 1.5l-1.5 -1.5ZM589.6 855.0l1.5 1.5l-1.5 1.5l-1.5 -1.5ZM783.9 855.0l1.5 1.5l-1.5 1.5l-1.5 -1.5ZM502.3 855.0l1.5 1.5l-1.5 1.5l-1.5 -1.5ZM500.4 855.0l1.5 1.5l-1.5 1.5l-1.5 -1.5ZM751.7 855.0l1.5 1.5l-1.5 1.5l-1.5 -1.5ZM586.3 855.0l1.5 1.5l-1.5 1.5l-1.5 -1.5ZM751.3 855.0l1.5 1.5l-1.5 1.5l-1.5 -1.5ZM499.1 855.0l1.5 1.5l-1.5 1.5l-1.5 -1.5ZM678.8 855.0l1.5 1.5l-1.5 1.5l-1.5 -1.5ZM745.5 855.0l1.5 1.5l-1.5 1.5l-1.5 -1.5ZM578.5 855.0l1.5 1.5l-1.5 1.5l-1.5 -1.5ZM752.0 855.0l1.5 1.5l-1.5 1.5l-1.5 -1.5ZM713.6 855.0l1.5 1.5l-1.5 1.5l-1.5 -1.5ZM745.5 855.0l1.5 1.5l-1.5 1.5l-1.5 -1.5ZM609.3 855.0l1.5 1.5l-1.5 1.5l-1.5 -1.5ZM554.5 855.0l1.5 1.5l-1.5 1.5l-1.5 -1.5ZM612.4 855.0l1.5 1.5l-1.5 1.5l-1.5 -1.5ZM594.0 855.0l1.5 1.5l-1.5 1.5l-1.5 -1.5ZM569.9 855.0l1.5 1.5l-1.5 1.5l-1.5 -1.5ZM763.2 855.0l1.5 1.5l-1.5 1.5l-1.5 -1.5ZM551.0 855.0l1.5 1.5l-1.5 1.5l-1.5 -1.5ZM685.9 855.0l1.5 1.5l-1.5 1.5l-1.5 -1.5ZM636.7 855.0l1.5 1.5l-1.5 1.5l-1.5 -1.5ZM638.1 855.0l1.5 1.5l-1.5 1.5l-1.5 -1.5ZM646.0 855.0l1.5 1.5l-1.5 1.5l-1.5 -1.5ZM645.3 855.0l1.5 1.5l-1.5 1.5l-1.5 -1.5Z" fill="#ffa500" fill-opacity="0.12" stroke="#ffa500" stroke-width="0.8" stroke-opacity="0.3"/>
<rect x="496" y="890" width="6" height="3" fill="#ffa500"/>
<rect x="506.5" y="890" width="3" height="3" fill="#ffa500"/>
<rect x="548.25" y="890" width="3.5" height="3" fill="#ffa500"/>
<rect x="600.25" y="890" width="3.5" height="3" fill="#ffa500"/>
<rect x="652.25" y="890" width="3.5" height="3" fill="#ffa500"/>
<rect x="704.25" y="890" width="3.5" height="3" fill="#ffa500"/>
<rect x="756.5" y="890" width="3" height="3" fill="#ffa500"/>
<rect x="785.25" y="890" width="3.5" height="3" fill="#ffa500"/>
<rect x="791.5" y="890" width="7" height="3" fill="#ffa500"/>
</g>
<clipPath id="c60"><rect x="89.5" y="1008.5" width="330" height="102.9"/></clipPath>
<g clip-path="url(#c60)">
<path d="M103 1027.9 104.5 1024.81 106 1025 107.5 1024.71 109 1024.75 110.5 1024.7 112 1024.92 113.5 1024.94 115 1024.98 116.5 1024.94 118 1024.99 119.5 1024.79 121 1024.89 122.5 1024.76 124 1024.77 125.5 1024.9 127 1024.95 128.5 1024.9 130 1024.99 131.5 1024.81 133 1024.94 134.5 1024.96 136 1024.73 137.5 1024.87 139 1024.72 140.5 1024.71 142 1024.8 143.5 1024.93 145 1024.96 146.5 1024.93 148 1024.78 149.5 1024.85 151 1024.91 152.5 1024.99 154 1024.89 155.5 1024.88 157 1024.98 158.5 1024.93 160 1024.91 161.5 1024.88 163 1024.85 164.5 1024.83 166 1024.75 167.5 1024.91 169 1024.97 170.5 1024.91 172 1024.94 173.5 1024.83 175 1024.86 176.5 1024.9 178 1024.97 179.5 1024.77 181 1024.81 182.5 1024.81 184 1024.79 185.5 1024.74 187 1024.99 188.5 1024.94 190 1024.86 191.5 1024.79 193 1024.85 194.5 1024.85 196 1024.91 197.5 1024.93 199 1024.74 200.5 1024.71 202 1024.85 203.5 1024.86 205 1024.96 206.5 1024.82 208 1024.94 209.5 1024.81 211 1024.92 212.5 1024.86 214 1024.74 215.5 1024.91 217 1024.84 218.5 1024.9 220 1024.85 221.5 1024.74 223 1024.85 224.5 1024.71 226 1024.88 227.5 1024.86 229 1024.81 230.5 1024.85 232 1024.8 233.5 1024.91 235 1025 236.5 1024.87 238 1024.98 239.5 1024.93 241 1024.82 242.5 1024.79 244 1024.73 245.5 1024.8 247 1024.83 248.5 1024.9 250 1024.86 251.5 1024.91 253 1024.97 254.5 1024.84 256 1024.81 257.5 1024.91 259 1024.78 260.5 1024.84 262 1024.91 263.5 1024.74 265 1024.99 266.5 1024.92 268 1024.9 269.5 1024.8 271 1024.92 272.5 1024.71 274 1024.97 275.5 1024.86 277 1024.86 278.5 1024.78 280 1024.92 281.5 1024.95 283 1024.78 284.5 1024.76 286 1024.83 287.5 1024.73 289 1024.88 290.5 1024.87 292 1024.85 293.5 1024.96 295 1024.75 296.5 1024.98 298 1024.98 299.5 1024.73 301 1024.86 302.5 1024.96 304 1024.73 305.5 1024.94 307 1024.86 308.5 1025 310 1024.96 311.5 1024.86 313 1024.79 314.5 1024.96 316 1024.77 317.5 1024.81 319 1024.8 320.5 1024.71 322 1024.86 323.5 1025 325 1024.98 326.5 1024.74 328 1024.97 329.5 1024.92 331 1024.8 332.5 1024.78 334 1024.77 335.5 1024.83 337 1024.9 338.5 1024.73 340 1024.99 341.5 1024.92 343 1024.7 344.5 1024.94 346 1024.75 347.5 1024.82 349 1024.81 350.5 1024.81 352 1024.87 353.5 1024.75 355 1024.98 356.5 1024.91 358 1024.77 359.5 1024.78 361 1024.81 362.5 1024.79 364 1024.91 365.5 1024.82 367 1024.83 368.5 1024.76 370 1024.93 371.5 1024.91 373 1024.9 374.5 1024.94 376 1024.78 377.5 1024.85 379 1024.98 380.5 1024.73 382 1024.84 383.5 1024.75 385 1024.78 386.5 1024.88 388 1024.9 389.5 1024.84 391 1024.72 392.5 1024.76 394 1024.71 395.5 1024.83 397 1024.84 398.5 1024.91 400 1024.84 401.5 1024.83 403 1024.77 404.5 1025.69 405.6 1027.73 405.6 1028.08 404.5 1030.11 403 1031.23 401.5 1031.18 400 1031.26 398.5 1031.27 397 1031.24 395.5 1031.22 394 1031.3 392.5 1031.18 391 1031.03 389.5 1031.17 388 1031.05 386.5 1031.3 385 1031.18 383.5 1031.29 382 1031.28 380.5 1031.29 379 1031.06 377.5 1031.19 376 1031.04 374.5 1031.25 373 1031.07 371.5 1031.01 370 1031.19 368.5 1031.07 367 1031.25 365.5 1031.27 364 1031.26 362.5 1031.08 361 1031.29 359.5 1031.21 358 1031.23 356.5 1031.28 355 1031.27 353.5 1031.12 352 1031.02 350.5 1031.14 349 1031.21 347.5 1031.22 346 1031.01 344.5 1031.19 343 1031.09 341.5 1031.16 340 1031.24 338.5 1031.13 337 1031.05 335.5 1031.05 334 1031.11 332.5 1031.25 331 1031.06 329.5 1031.22 328 1031.23 326.5 1031.04 325 1031.08 323.5 1031.2 322 1031.3 320.5 1031.18 319 1031.21 317.5 1031.11 316 1031.07 314.5 1031.24 313 1031.02 311.5 1031.18 310 1031.05 308.5 1031.18 307 1031.11 305.5 1031.07 304 1031.25 302.5 1031.24 301 1031.15 299.5 1031.03 298 1031.2 296.5 1031.23 295 1031.28 293.5 1031.05 292 1031.03 290.5 1031.11 289 1031.09 287.5 1031.05 286 1031.17 284.5 1031.22 283 1031.11 281.5 1031.02 280 1031.03 278.5 1031.02 277 1031.14 275.5 1031.06 274 1031.24 272.5 1031.09 271 1031.26 269.5 1031.28 268 1031.26 266.5 1031.19 265 1031.02 263.5 1031.17 262 1031.13 260.5 1031.06 259 1031.29 257.5 1031.26 256 1031.29 254.5 1031.04 253 1031.04 251.5 1031.07 250 1031.05 248.5 1031.25 247 1031.2 245.5 1031.06 244 1031.22 242.5 1031 241 1031.03 239.5 1031.02 238 1031.07 236.5 1031.01 235 1031.22 233.5 1031.24 232 1031.13 230.5 1031.07 229 1031.13 227.5 1031.13 226 1031.15 224.5 1031.19 223 1031.14 221.5 1031.28 220 1031.17 218.5 1031.02 217 1031.16 215.5 1031.28 214 1031.26 212.5 1031.16 211 1031.19 209.5 1031.01 208 1031.06 206.5 1031.16 205 1031.13 203.5 1031.28 202 1031.27 200.5 1031.26 199 1031.08 197.5 1031.08 196 1031.01 194.5 1031.28 193 1031.29 191.5 1031.05 190 1031.19 188.5 1031.16 187 1031.11 185.5 1031.2 184 1031.26 182.5 1031.24 181 1031.05 179.5 1031.01 178 1031.02 176.5 1031.17 175 1031.19 173.5 1031.11 172 1031.13 170.5 1031.13 169 1031.16 167.5 1031.05 166 1031.27 164.5 1031.24 163 1031.26 161.5 1031.05 160 1031.07 158.5 1031.18 157 1031.23 155.5 1031.1 154 1031.03 152.5 1031.17 151 1031.18 149.5 1031.14 148 1031.27 146.5 1031.08 145 1031.17 143.5 1031.12 142 1031.23 140.5 1031.25 139 1031.12 137.5 1031.17 136 1031.15 134.5 1031.23 133 1031.11 131.5 1031.26 130 1031.02 128.5 1031.07 127 1031.19 125.5 1031.06 124 1031.16 122.5 1031.2 121 1031.27 119.5 1031.03 118 1031.23 116.5 1031.13 115 1031.07 113.5 1031.16 112 1031.26 110.5 1031 109 1031.18 107.5 1031.08 106 1031.02 104.5 1031.19 103 1028.08Z" fill="#0000ff"/>
</g>
<clipPath id="c61"><rect x="482.5" y="1008.5" width="330" height="102.9"/></clipPath>
<g clip-path="url(#c61)">
<linearGradient id="g5" x1="0" y1="0" x2="0" y2="1"><stop offset="0" stop-color="#ffa500" stop-opacity="0"/><stop offset="0.55" stop-color="#ffa500" stop-opacity="0.31"/><stop offset="1" stop-color="#ffa500" stop-opacity="0.78"/></linearGradient>
<path d="M496 1031 499.78 1031 503.56 1031 507.35 1031 511.13 1031 514.91 1031 518.7 1031 522.48 1031 526.26 1031 530.04 1031 533.83 1031 537.61 1031 541.39 1031 545.17 1031 548.96 1031 552.74 1031 556.52 1031 560.3 1031 564.09 1031 567.87 1031 571.65 1031 575.43 1031 579.22 1031 583 1031 586.78 1031 590.56 1031 594.35 1031 598.13 1031 601.91 1031 605.69 1031 609.48 1031 613.26 1031 617.04 1031 620.82 1031 624.61 1031 628.39 1031 632.17 1031 635.95 1031 639.74 1031 643.52 1031 647.3 1031 651.08 1031 654.87 1031 658.65 1031 662.43 1031 666.21 1031 670 1031 673.78 1031 677.56 1031 681.34 1031 685.12 1031 688.91 1031 692.69 1031 696.47 1031 700.25 1031 704.04 1031 707.82 1031 711.6 1031 715.38 1031 719.17 1031 722.95 1031 726.73 1031 730.51 1031 734.3 1031 738.08 1031 741.86 1031 745.64 1031 749.43 1031 753.21 1031 756.99 1031 760.77 1031 764.56 1031 768.34 1031 772.12 1031 775.9 1031 779.69 1031 783.47 1031 787.25 1031 791.04 1031 794.82 1031 798.6 1031 798.6 1022.54 794.82 1022.43 791.04 1022.75 787.25 1022.92 783.47 1022.47 779.69 1021.5 775.9 1020.61 772.12 1020.42 768.34 1021.12 764.56 1022.23 760.77 1022.98 756.99 1022.84 753.21 1021.9 749.43 1020.75 745.64 1020.03 741.86 1019.91 738.08 1019.99 734.3 1019.67 730.51 1018.69 726.73 1017.38 722.95 1016.46 719.17 1016.53 715.38 1017.63 711.6 1019.15 707.82 1020.35 704.04 1020.84 700.25 1020.85 696.47 1020.98 692.69 1021.65 688.91 1022.75 685.12 1023.67 681.34 1023.8 677.56 1023.01 673.78 1021.81 670 1020.97 666.21 1020.99 662.43 1021.75 658.65 1022.63 654.87 1023 651.08 1022.73 647.3 1022.24 643.52 1022.14 639.74 1022.68 635.95 1023.53 632.17 1023.95 628.39 1023.42 624.61 1021.96 620.82 1020.21 617.04 1018.93 613.26 1018.48 609.48 1018.6 605.69 1018.67 601.91 1018.27 598.13 1017.54 594.35 1017.07 590.56 1017.43 586.78 1018.69 583 1020.31 579.22 1021.5 575.43 1021.77 571.65 1021.3 567.87 1020.72 564.09 1020.64 560.3 1021.15 556.52 1021.82 552.74 1022.04 548.96 1021.57 545.17 1020.78 541.39 1020.38 537.61 1020.88 533.83 1022.19 530.04 1023.66 526.26 1024.53 522.48 1024.5 518.7 1023.87 514.91 1023.29 511.13 1023.18 507.35 1023.41 503.56 1023.39 499.78 1022.59 496 1021Z" fill="url(#g5)"/>
<linearGradient id="g6" x1="0" y1="0" x2="0" y2="1"><stop offset="0" stop-color="#ffa500" stop-opacity="0.78"/><stop offset="0.45" stop-color="#ffa500" stop-opacity="0.31"/><stop offset="1" stop-color="#ffa500" stop-opacity="0"/></linearGradient>
<path d="M496 1088.5 499.78 1088.5 503.56 1088.5 507.35 1088.5 511.13 1088.5 514.91 1088.5 518.7 1088.5 522.48 1088.5 526.26 1088.5 530.04 1088.5 533.83 1088.5 537.61 1088.5 541.39 1088.5 545.17 1088.5 548.96 1088.5 552.74 1088.5 556.52 1088.5 560.3 1088.5 564.09 1088.5 567.87 1088.5 571.65 1088.5 575.43 1088.5 579.22 1088.5 583 1088.5 586.78 1088.5 590.56 1088.5 594.35 1088.5 598.13 1088.5 601.91 1088.5 605.69 1088.5 609.48 1088.5 613.26 1088.5 617.04 1088.5 620.82 1088.5 624.61 1088.5 628.39 1088.5 632.17 1088.5 635.95 1088.5 639.74 1088.5 643.52 1088.5 647.3 1088.5 651.08 1088.5 654.87 1088.5 658.65 1088.5 662.43 1088.5 666.21 1088.5 670 1088.5 673.78 1088.5 677.56 1088.5 681.34 1088.5 685.12 1088.5 688.91 1088.5 692.69 1088.5 696.47 1088.5 700.25 1088.5 704.04 1088.5 707.82 1088.5 711.6 1088.5 715.38 1088.5 719.17 1088.5 722.95 1088.5 726.73 1088.5 730.51 1088.5 734.3 1088.5 738.08 1088.5 741.86 1088.5 745.64 1088.5 749.43 1088.5 753.21 1088.5 756.99 1088.5 760.77 1088.5 764.56 1088.5 768.34 1088.5 772.12 1088.5 775.9 1088.5 779.69 1088.5 783.47 1088.5 787.25 1088.5 791.04 1088.5 794.82 1088.5 798.6 1088.5 798.6 1095.07 794.82 1094.62 791.04 1095.15 787.25 1096.26 783.47 1097.24 779.69 1097.68 775.9 1097.75 772.12 1098.01 768.34 1098.93 764.56 1100.44 760.77 1101.91 756.99 1102.62 753.21 1102.26 749.43 1101.16 745.64 1100.09 741.86 1099.63 738.08 1099.79 734.3 1100.08 730.51 1099.92 726.73 1099.15 722.95 1098.2 719.17 1097.74 715.38 1098.15 711.6 1099.17 707.82 1100.1 704.04 1100.24 700.25 1099.44 696.47 1098.19 692.69 1097.18 688.91 1096.81 685.12 1096.9 681.34 1096.87 677.56 1096.26 673.78 1095.18 670 1094.22 666.21 1094.1 662.43 1095.05 658.65 1096.66 654.87 1098.17 651.08 1098.98 647.3 1099.09 643.52 1099.03 639.74 1099.36 635.95 1100.2 632.17 1101.13 628.39 1101.48 624.61 1100.92 620.82 1099.73 617.04 1098.65 613.26 1098.34 609.48 1098.92 605.69 1099.88 601.91 1100.52 598.13 1100.47 594.35 1099.95 590.56 1099.56 586.78 1099.75 583 1100.41 579.22 1100.92 575.43 1100.64 571.65 1099.38 567.87 1097.59 564.09 1096.07 560.3 1095.39 556.52 1095.49 552.74 1095.83 548.96 1095.84 545.17 1095.39 541.39 1094.93 537.61 1095.09 533.83 1096.14 530.04 1097.76 526.26 1099.18 522.48 1099.76 518.7 1099.43 514.91 1098.71 511.13 1098.31 507.35 1098.57 503.56 1099.23 499.78 1099.69 496 1099.51Z" fill="url(#g6)"/>
<path d="M496 1029.99 497.5 1030.09 499 1029.88 500.5 1030.23 502 1029.33 503.5 1030.68 505 1030.1 506.5 1029.47 508 1029.79 509.5 1029.19 511 1030.42 512.5 1030.28 514 1030.39 515.5 1030.74 517 1030.85 518.5 1029.97 520 1030.4 521.5 1029.84 523 1029.08 524.5 1029.01 526 1029.44 527.5 1030.34 529 1030.23 530.5 1029.2 532 1030.53 533.5 1029.35 535 1030.51 536.5 1030.1 538 1029.89 539.5 1029.08 541 1029.54 542.5 1029.32 544 1030.3 545.5 1030.3 547 1029.26 548.5 1029.83 550 1029.56 551.5 1030.8 553 1030.88 554.5 1030.15 556 1030.39 557.5 1030.47 559 1029.37 560.5 1029.16 562 1030.55 563.5 1030.8 565 1030.62 566.5 1030.63 568 1029.55 569.5 1030.24 571 1029.04 572.5 1030.96 574 1029.93 575.5 1030.73 577 1029.3 578.5 1030.24 580 1030.52 581.5 1029.83 583 1029.25 584.5 1030.97 586 1030.54 587.5 1029.19 589 1030.16 590.5 1030.81 592 1029.14 593.5 1029.11 595 1030.15 596.5 1030.61 598 1030.95 599.5 1029.51 601 1029.46 602.5 1029.52 604 1029.62 605.5 1030.29 607 1030.43 608.5 1029.85 610 1029.41 611.5 1030.06 613 1029.97 614.5 1030.22 616 1029.36 617.5 1029.09 619 1030.45 620.5 1029.08 622 1029.37 623.5 1030.19 625 1030.49 626.5 1029.63 628 1029.91 629.5 1029.82 631 1029.01 632.5 1029.04 634 1029.59 635.5 1029.96 637 1030.67 638.5 1030.85 640 1029.36 641.5 1030.49 643 1029.64 644.5 1030.39 646 1030.57 647.5 1029.63 649 1030.66 650.5 1030.86 652 1029.01 653.5 1030.2 655 1030.28 656.5 1029.42 658 1030.58 659.5 1029.41 661 1030.53 662.5 1029.55 664 1029.5 665.5 1030.78 667 1030.23 668.5 1029.31 670 1030.02 671.5 1030.14 673 1030.87 674.5 1030.69 676 1029.11 677.5 1029.02 679 1029.96 680.5 1029.67 682 1030.73 683.5 1029.11 685 1029.74 686.5 1029.54 688 1029.28 689.5 1030.52 691 1029.6 692.5 1030.06 694 1030.39 695.5 1030.65 697 1029.57 698.5 1030.62 700 1030.67 701.5 1030.24 703 1030.14 704.5 1030.12 706 1030.55 707.5 1029.05 709 1030.8 710.5 1029.41 712 1029.49 713.5 1030.08 715 1030.4 716.5 1029.32 718 1029.5 719.5 1030.5 721 1029.24 722.5 1029.72 724 1030.65 725.5 1029.09 727 1030.27 728.5 1030.71 730 1029.09 731.5 1029.49 733 1030.07 734.5 1029.9 736 1029.99 737.5 1029.99 739 1030.83 740.5 1029.72 742 1030.29 743.5 1030.67 745 1030.28 746.5 1030.2 748 1030.89 749.5 1030.43 751 1030.38 752.5 1030.71 754 1030.15 755.5 1030.9 757 1030.02 758.5 1030.32 760 1030.42 761.5 1029.69 763 1029.73 764.5 1030.76 766 1030.76 767.5 1029.69 769 1030.27 770.5 1030.68 772 1030.45 773.5 1030.46 775 1030.52 776.5 1030.93 778 1030.31 779.5 1029.26 781 1031 782.5 1030.95 784 1030.7 785.5 1029.91 787 1030.34 788.5 1029.57 790 1029.54 791.5 1029.69 793 1030.04 794.5 1029.28 796 1029.02 797.5 1030.74 798.6 1030.22 798.6 1088.61 797.5 1090.49 796 1089.14 794.5 1089.09 793 1089.54 791.5 1090.04 790 1089.81 788.5 1089.16 787 1089.02 785.5 1090.12 784 1089.93 782.5 1089.21 781 1089.58 779.5 1089.31 778 1089.11 776.5 1088.85 775 1090 773.5 1089.69 772 1090.25 770.5 1089.21 769 1090.2 767.5 1089.74 766 1089.61 764.5 1088.71 763 1088.77 761.5 1090.2 760 1090.35 758.5 1089.68 757 1089.43 755.5 1090.16 754 1088.81 752.5 1090.06 751 1088.55 749.5 1088.99 748 1089.65 746.5 1089.11 745 1089.18 743.5 1089.02 742 1088.62 740.5 1090.42 739 1090.49 737.5 1090.27 736 1089.36 734.5 1089.51 733 1090.08 731.5 1090.48 730 1088.59 728.5 1089.1 727 1089.24 725.5 1090.13 724 1088.62 722.5 1090.34 721 1089.52 719.5 1090.35 718 1089.59 716.5 1088.64 715 1089.11 713.5 1089.53 712 1088.6 710.5 1090.3 709 1090.07 707.5 1089.89 706 1088.55 704.5 1090.32 703 1089.02 701.5 1089.65 700 1089.66 698.5 1089.27 697 1089.02 695.5 1088.53 694 1089.65 692.5 1089.26 691 1089.65 689.5 1088.57 688 1089.3 686.5 1088.52 685 1089.77 683.5 1089.59 682 1089.7 680.5 1089.04 679 1090.01 677.5 1089.94 676 1089.05 674.5 1089.76 673 1089.41 671.5 1090.01 670 1090.44 668.5 1089.16 667 1089.36 665.5 1089.42 664 1088.7 662.5 1088.64 661 1090.04 659.5 1089.3 658 1089.79 656.5 1089.92 655 1089.81 653.5 1088.81 652 1089.5 650.5 1089.47 649 1089.59 647.5 1090.39 646 1089.73 644.5 1089.24 643 1088.8 641.5 1088.82 640 1088.53 638.5 1089.77 637 1088.88 635.5 1089.97 634 1089.72 632.5 1088.81 631 1088.69 629.5 1090.46 628 1089.79 626.5 1089.06 625 1089.03 623.5 1090.01 622 1088.98 620.5 1088.55 619 1089.87 617.5 1088.62 616 1089.99 614.5 1089.68 613 1090.46 611.5 1089.9 610 1090.21 608.5 1089.25 607 1090.4 605.5 1089.21 604 1089.62 602.5 1090.31 601 1089.54 599.5 1090.31 598 1089.28 596.5 1088.6 595 1090.46 593.5 1089.43 592 1088.55 590.5 1089.68 589 1089.6 587.5 1090.12 586 1089.89 584.5 1090.03 583 1090.11 581.5 1090.36 580 1090.12 578.5 1088.54 577 1089.8 575.5 1088.5 574 1089.03 572.5 1089.17 571 1088.63 569.5 1089.14 568 1090.18 566.5 1089.59 565 1088.67 563.5 1089.32 562 1090.17 560.5 1090.07 559 1089.98 557.5 1089.03 556 1089.4 554.5 1089.35 553 1089.16 551.5 1088.53 550 1090.16 548.5 1089.58 547 1090.27 545.5 1089.35 544 1088.57 542.5 1089.7 541 1090.48 539.5 1090.05 538 1090.44 536.5 1088.93 535 1088.61 533.5 1089.11 532 1089.4 530.5 1089.29 529 1090.43 527.5 1090.16 526 1089.57 524.5 1088.57 523 1090.48 521.5 1090.15 520 1088.97 518.5 1089.52 517 1089.06 515.5 1089.79 514 1090 512.5 1090.33 511 1090.06 509.5 1089.35 508 1090.07 506.5 1088.71 505 1088.67 503.5 1090.21 502 1089.05 500.5 1089.94 499 1089.31 497.5 1089.8 496 1090.24Z" fill="#ffa500"/>
<path d="M632.4 1022.7l1.4 1.4l-1.4 1.4l-1.4 -1.4ZM632.4 1091.9l1.4 1.4l-1.4 1.4l-1.4 -1.4ZM768.9 1028.0l1.4 1.4l-1.4 1.4l-1.4 -1.4ZM768.9 1089.4l1.4 1.4l-1.4 1.4l-1.4 -1.4ZM588.8 1028.9l1.4 1.4l-1.4 1.4l-1.4 -1.4ZM588.8 1087.5l1.4 1.4l-1.4 1.4l-1.4 -1.4ZM651.5 1027.9l1.4 1.4l-1.4 1.4l-1.4 -1.4ZM651.5 1091.6l1.4 1.4l-1.4 1.4l-1.4 -1.4ZM785.4 1004.4l1.4 1.4l-1.4 1.4l-1.4 -1.4ZM785.4 1094.9l1.4 1.4l-1.4 1.4l-1.4 -1.4ZM596.7 1027.3l1.4 1.4l-1.4 1.4l-1.4 -1.4ZM596.7 1099.0l1.4 1.4l-1.4 1.4l-1.4 -1.4ZM567.6 1021.3l1.4 1.4l-1.4 1.4l-1.4 -1.4ZM567.6 1088.6l1.4 1.4l-1.4 1.4l-1.4 -1.4ZM631.7 1025.7l1.4 1.4l-1.4 1.4l-1.4 -1.4ZM631.7 1103.8l1.4 1.4l-1.4 1.4l-1.4 -1.4ZM716.7 1020.8l1.4 1.4l-1.4 1.4l-1.4 -1.4ZM716.7 1089.3l1.4 1.4l-1.4 1.4l-1.4 -1.4ZM602.1 1019.8l1.4 1.4l-1.4 1.4l-1.4 -1.4ZM602.1 1091.7l1.4 1.4l-1.4 1.4l-1.4 -1.4ZM713.1 1029.1l1.4 1.4l-1.4 1.4l-1.4 -1.4ZM713.1 1087.4l1.4 1.4l-1.4 1.4l-1.4 -1.4ZM625.6 1027.8l1.4 1.4l-1.4 1.4l-1.4 -1.4ZM625.6 1088.7l1.4 1.4l-1.4 1.4l-1.4 -1.4ZM741.9 1017.5l1.4 1.4l-1.4 1.4l-1.4 -1.4ZM741.9 1088.4l1.4 1.4l-1.4 1.4l-1.4 -1.4ZM527.6 1028.6l1.4 1.4l-1.4 1.4l-1.4 -1.4ZM527.6 1088.2l1.4 1.4l-1.4 1.4l-1.4 -1.4ZM714.4 1027.3l1.4 1.4l-1.4 1.4l-1.4 -1.4ZM714.4 1107.1l1.4 1.4l-1.4 1.4l-1.4 -1.4ZM503.1 1025.9l1.4 1.4l-1.4 1.4l-1.4 -1.4ZM503.1 1087.8l1.4 1.4l-1.4 1.4l-1.4 -1.4ZM751.9 1027.3l1.4 1.4l-1.4 1.4l-1.4 -1.4ZM751.9 1088.5l1.4 1.4l-1.4 1.4l-1.4 -1.4ZM672.2 1019.7l1.4 1.4l-1.4 1.4l-1.4 -1.4ZM672.2 1087.2l1.4 1.4l-1.4 1.4l-1.4 -1.4ZM566.5 1018.4l1.4 1.4l-1.4 1.4l-1.4 -1.4ZM566.5 1089.9l1.4 1.4l-1.4 1.4l-1.4 -1.4ZM526.3 1016.7l1.4 1.4l-1.4 1.4l-1.4 -1.4ZM526.3 1102.4l1.4 1.4l-1.4 1.4l-1.4 -1.4ZM625.3 1028.6l1.4 1.4l-1.4 1.4l-1.4 -1.4ZM625.3 1087.2l1.4 1.4l-1.4 1.4l-1.4 -1.4ZM720.0 1022.5l1.4 1.4l-1.4 1.4l-1.4 -1.4ZM720.0 1094.1l1.4 1.4l-1.4 1.4l-1.4 -1.4ZM704.6 1027.5l1.4 1.4l-1.4 1.4l-1.4 -1.4ZM704.6 1088.9l1.4 1.4l-1.4 1.4l-1.4 -1.4ZM669.7 1022.0l1.4 1.4l-1.4 1.4l-1.4 -1.4ZM669.7 1090.4l1.4 1.4l-1.4 1.4l-1.4 -1.4ZM651.9 1027.2l1.4 1.4l-1.4 1.4l-1.4 -1.4ZM651.9 1096.1l1.4 1.4l-1.4 1.4l-1.4 -1.4ZM784.1 1028.1l1.4 1.4l-1.4 1.4l-1.4 -1.4ZM784.1 1103.8l1.4 1.4l-1.4 1.4l-1.4 -1.4ZM741.0 1027.1l1.4 1.4l-1.4 1.4l-1.4 -1.4ZM741.0 1088.6l1.4 1.4l-1.4 1.4l-1.4 -1.4ZM702.6 1025.8l1.4 1.4l-1.4 1.4l-1.4 -1.4ZM702.6 1091.7l1.4 1.4l-1.4 1.4l-1.4 -1.4ZM795.2 1010.6l1.4 1.4l-1.4 1.4l-1.4 -1.4ZM795.2 1093.4l1.4 1.4l-1.4 1.4l-1.4 -1.4ZM652.8 1028.7l1.4 1.4l-1.4 1.4l-1.4 -1.4ZM652.8 1087.5l1.4 1.4l-1.4 1.4l-1.4 -1.4ZM743.3 1028.2l1.4 1.4l-1.4 1.4l-1.4 -1.4ZM743.3 1093.1l1.4 1.4l-1.4 1.4l-1.4 -1.4ZM588.6 1028.4l1.4 1.4l-1.4 1.4l-1.4 -1.4ZM588.6 1093.1l1.4 1.4l-1.4 1.4l-1.4 -1.4ZM548.9 1029.2l1.4 1.4l-1.4 1.4l-1.4 -1.4ZM548.9 1115.3l1.4 1.4l-1.4 1.4l-1.4 -1.4ZM617.0 1027.5l1.4 1.4l-1.4 1.4l-1.4 -1.4ZM617.0 1095.2l1.4 1.4l-1.4 1.4l-1.4 -1.4ZM560.8 1022.0l1.4 1.4l-1.4 1.4l-1.4 -1.4ZM560.8 1088.5l1.4 1.4l-1.4 1.4l-1.4 -1.4ZM715.2 1022.9l1.4 1.4l-1.4 1.4l-1.4 -1.4ZM715.2 1087.7l1.4 1.4l-1.4 1.4l-1.4 -1.4ZM612.3 1020.6l1.4 1.4l-1.4 1.4l-1.4 -1.4ZM612.3 1090.6l1.4 1.4l-1.4 1.4l-1.4 -1.4ZM627.0 1029.3l1.4 1.4l-1.4 1.4l-1.4 -1.4ZM627.0 1088.0l1.4 1.4l-1.4 1.4l-1.4 -1.4ZM781.1 1007.9l1.4 1.4l-1.4 1.4l-1.4 -1.4ZM781.1 1090.9l1.4 1.4l-1.4 1.4l-1.4 -1.4ZM696.2 1028.9l1.4 1.4l-1.4 1.4l-1.4 -1.4ZM696.2 1102.2l1.4 1.4l-1.4 1.4l-1.4 -1.4ZM685.8 1023.3l1.4 1.4l-1.4 1.4l-1.4 -1.4ZM685.8 1097.2l1.4 1.4l-1.4 1.4l-1.4 -1.4ZM569.3 1023.9l1.4 1.4l-1.4 1.4l-1.4 -1.4ZM569.3 1090.4l1.4 1.4l-1.4 1.4l-1.4 -1.4ZM588.4 1028.7l1.4 1.4l-1.4 1.4l-1.4 -1.4ZM588.4 1093.6l1.4 1.4l-1.4 1.4l-1.4 -1.4ZM553.9 1028.7l1.4 1.4l-1.4 1.4l-1.4 -1.4ZM553.9 1089.6l1.4 1.4l-1.4 1.4l-1.4 -1.4ZM625.9 1026.8l1.4 1.4l-1.4 1.4l-1.4 -1.4ZM625.9 1088.4l1.4 1.4l-1.4 1.4l-1.4 -1.4ZM789.9 1029.1l1.4 1.4l-1.4 1.4l-1.4 -1.4ZM789.9 1095.4l1.4 1.4l-1.4 1.4l-1.4 -1.4ZM723.5 1026.7l1.4 1.4l-1.4 1.4l-1.4 -1.4ZM723.5 1089.0l1.4 1.4l-1.4 1.4l-1.4 -1.4ZM749.9 1023.0l1.4 1.4l-1.4 1.4l-1.4 -1.4ZM749.9 1088.6l1.4 1.4l-1.4 1.4l-1.4 -1.4ZM760.5 1024.7l1.4 1.4l-1.4 1.4l-1.4 -1.4ZM760.5 1088.1l1.4 1.4l-1.4 1.4l-1.4 -1.4ZM784.1 1027.4l1.4 1.4l-1.4 1.4l-1.4 -1.4ZM784.1 1087.9l1.4 1.4l-1.4 1.4l-1.4 -1.4ZM784.3 1022.9l1.4 1.4l-1.4 1.4l-1.4 -1.4ZM784.3 1090.3l1.4 1.4l-1.4 1.4l-1.4 -1.4ZM662.5 1026.2l1.4 1.4l-1.4 1.4l-1.4 -1.4ZM662.5 1090.8l1.4 1.4l-1.4 1.4l-1.4 -1.4ZM523.0 1024.7l1.4 1.4l-1.4 1.4l-1.4 -1.4ZM523.0 1089.4l1.4 1.4l-1.4 1.4l-1.4 -1.4ZM547.6 1027.5l1.4 1.4l-1.4 1.4l-1.4 -1.4ZM547.6 1089.8l1.4 1.4l-1.4 1.4l-1.4 -1.4ZM513.6 1028.0l1.4 1.4l-1.4 1.4l-1.4 -1.4ZM513.6 1089.0l1.4 1.4l-1.4 1.4l-1.4 -1.4ZM541.5 1027.0l1.4 1.4l-1.4 1.4l-1.4 -1.4ZM541.5 1087.4l1.4 1.4l-1.4 1.4l-1.4 -1.4ZM644.7 1027.6l1.4 1.4l-1.4 1.4l-1.4 -1.4ZM644.7 1088.9l1.4 1.4l-1.4 1.4l-1.4 -1.4ZM693.2 1024.7l1.4 1.4l-1.4 1.4l-1.4 -1.4ZM693.2 1087.8l1.4 1.4l-1.4 1.4l-1.4 -1.4ZM532.8 1024.5l1.4 1.4l-1.4 1.4l-1.4 -1.4ZM532.8 1089.5l1.4 1.4l-1.4 1.4l-1.4 -1.4ZM545.8 1028.1l1.4 1.4l-1.4 1.4l-1.4 -1.4ZM545.8 1088.8l1.4 1.4l-1.4 1.4l-1.4 -1.4ZM569.6 1029.4l1.4 1.4l-1.4 1.4l-1.4 -1.4ZM569.6 1089.3l1.4 1.4l-1.4 1.4l-1.4 -1.4ZM758.6 1029.6l1.4 1.4l-1.4 1.4l-1.4 -1.4ZM758.6 1087.2l1.4 1.4l-1.4 1.4l-1.4 -1.4ZM543.1 1025.8l1.4 1.4l-1.4 1.4l-1.4 -1.4ZM543.1 1089.2l1.4 1.4l-1.4 1.4l-1.4 -1.4ZM711.6 1023.3l1.4 1.4l-1.4 1.4l-1.4 -1.4ZM711.6 1092.6l1.4 1.4l-1.4 1.4l-1.4 -1.4ZM641.8 1020.2l1.4 1.4l-1.4 1.4l-1.4 -1.4ZM641.8 1110.2l1.4 1.4l-1.4 1.4l-1.4 -1.4ZM536.4 1027.2l1.4 1.4l-1.4 1.4l-1.4 -1.4ZM536.4 1097.7l1.4 1.4l-1.4 1.4l-1.4 -1.4ZM691.8 1027.1l1.4 1.4l-1.4 1.4l-1.4 -1.4ZM691.8 1093.7l1.4 1.4l-1.4 1.4l-1.4 -1.4ZM580.6 1020.3l1.4 1.4l-1.4 1.4l-1.4 -1.4ZM580.6 1087.6l1.4 1.4l-1.4 1.4l-1.4 -1.4ZM528.9 1022.2l1.4 1.4l-1.4 1.4l-1.4 -1.4ZM528.9 1090.0l1.4 1.4l-1.4 1.4l-1.4 -1.4ZM730.9 1017.9l1.4 1.4l-1.4 1.4l-1.4 -1.4ZM730.9 1094.3l1.4 1.4l-1.4 1.4l-1.4 -1.4ZM690.9 1028.0l1.4 1.4l-1.4 1.4l-1.4 -1.4ZM690.9 1090.8l1.4 1.4l-1.4 1.4l-1.4 -1.4ZM568.5 1021.3l1.4 1.4l-1.4 1.4l-1.4 -1.4ZM568.5 1112.3l1.4 1.4l-1.4 1.4l-1.4 -1.4ZM508.3 1025.9l1.4 1.4l-1.4 1.4l-1.4 -1.4ZM508.3 1096.3l1.4 1.4l-1.4 1.4l-1.4 -1.4ZM786.6 1027.2l1.4 1.4l-1.4 1.4l-1.4 -1.4ZM786.6 1090.2l1.4 1.4l-1.4 1.4l-1.4 -1.4ZM589.0 1029.3l1.4 1.4l-1.4 1.4l-1.4 -1.4ZM589.0 1088.3l1.4 1.4l-1.4 1.4l-1.4 -1.4ZM788.3 1022.4l1.4 1.4l-1.4 1.4l-1.4 -1.4ZM788.3 1111.3l1.4 1.4l-1.4 1.4l-1.4 -1.4ZM677.8 1029.4l1.4 1.4l-1.4 1.4l-1.4 -1.4ZM677.8 1090.0l1.4 1.4l-1.4 1.4l-1.4 -1.4ZM762.7 1025.9l1.4 1.4l-1.4 1.4l-1.4 -1.4ZM762.7 1096.4l1.4 1.4l-1.4 1.4l-1.4 -1.4ZM502.0 1027.7l1.4 1.4l-1.4 1.4l-1.4 -1.4ZM502.0 1090.0l1.4 1.4l-1.4 1.4l-1.4 -1.4ZM631.8 1028.1l1.4 1.4l-1.4 1.4l-1.4 -1.4ZM631.8 1094.1l1.4 1.4l-1.4 1.4l-1.4 -1.4ZM733.4 1021.0l1.4 1.4l-1.4 1.4l-1.4 -1.4ZM733.4 1089.8l1.4 1.4l-1.4 1.4l-1.4 -1.4ZM523.4 1025.8l1.4 1.4l-1.4 1.4l-1.4 -1.4ZM523.4 1096.6l1.4 1.4l-1.4 1.4l-1.4 -1.4ZM593.2 1029.3l1.4 1.4l-1.4 1.4l-1.4 -1.4ZM593.2 1089.2l1.4 1.4l-1.4 1.4l-1.4 -1.4ZM576.9 1029.6l1.4 1.4l-1.4 1.4l-1.4 -1.4ZM576.9 1092.6l1.4 1.4l-1.4 1.4l-1.4 -1.4ZM503.5 1021.6l1.4 1.4l-1.4 1.4l-1.4 -1.4ZM503.5 1100.9l1.4 1.4l-1.4 1.4l-1.4 -1.4ZM738.6 1022.7l1.4 1.4l-1.4 1.4l-1.4 -1.4ZM738.6 1093.3l1.4 1.4l-1.4 1.4l-1.4 -1.4ZM739.7 1025.7l1.4 1.4l-1.4 1.4l-1.4 -1.4ZM739.7 1091.8l1.4 1.4l-1.4 1.4l-1.4 -1.4ZM505.2 1026.6l1.4 1.4l-1.4 1.4l-1.4 -1.4ZM505.2 1106.9l1.4 1.4l-1.4 1.4l-1.4 -1.4ZM512.8 1027.2l1.4 1.4l-1.4 1.4l-1.4 -1.4ZM512.8 1099.3l1.4 1.4l-1.4 1.4l-1.4 -1.4ZM653.4 1018.4l1.4 1.4l-1.4 1.4l-1.4 -1.4ZM653.4 1091.4l1.4 1.4l-1.4 1.4l-1.4 -1.4ZM604.3 1015.4l1.4 1.4l-1.4 1.4l-1.4 -1.4ZM604.3 1089.5l1.4 1.4l-1.4 1.4l-1.4 -1.4ZM753.9 1023.8l1.4 1.4l-1.4 1.4l-1.4 -1.4ZM753.9 1107.5l1.4 1.4l-1.4 1.4l-1.4 -1.4ZM674.9 1023.0l1.4 1.4l-1.4 1.4l-1.4 -1.4ZM674.9 1087.4l1.4 1.4l-1.4 1.4l-1.4 -1.4ZM703.2 1029.5l1.4 1.4l-1.4 1.4l-1.4 -1.4ZM703.2 1088.5l1.4 1.4l-1.4 1.4l-1.4 -1.4ZM723.0 1028.1l1.4 1.4l-1.4 1.4l-1.4 -1.4ZM723.0 1088.8l1.4 1.4l-1.4 1.4l-1.4 -1.4ZM690.6 1010.5l1.4 1.4l-1.4 1.4l-1.4 -1.4ZM690.6 1087.6l1.4 1.4l-1.4 1.4l-1.4 -1.4ZM544.1 1025.1l1.4 1.4l-1.4 1.4l-1.4 -1.4ZM544.1 1094.0l1.4 1.4l-1.4 1.4l-1.4 -1.4ZM555.1 1024.7l1.4 1.4l-1.4 1.4l-1.4 -1.4ZM555.1 1087.2l1.4 1.4l-1.4 1.4l-1.4 -1.4ZM545.0 1028.8l1.4 1.4l-1.4 1.4l-1.4 -1.4ZM545.0 1089.5l1.4 1.4l-1.4 1.4l-1.4 -1.4ZM682.3 1015.6l1.4 1.4l-1.4 1.4l-1.4 -1.4ZM682.3 1091.2l1.4 1.4l-1.4 1.4l-1.4 -1.4ZM642.2 1026.3l1.4 1.4l-1.4 1.4l-1.4 -1.4ZM642.2 1088.0l1.4 1.4l-1.4 1.4l-1.4 -1.4ZM694.1 1023.7l1.4 1.4l-1.4 1.4l-1.4 -1.4ZM694.1 1092.5l1.4 1.4l-1.4 1.4l-1.4 -1.4ZM616.9 1022.5l1.4 1.4l-1.4 1.4l-1.4 -1.4ZM616.9 1087.5l1.4 1.4l-1.4 1.4l-1.4 -1.4ZM527.3 1026.7l1.4 1.4l-1.4 1.4l-1.4 -1.4ZM527.3 1090.0l1.4 1.4l-1.4 1.4l-1.4 -1.4ZM595.6 1012.7l1.4 1.4l-1.4 1.4l-1.4 -1.4ZM595.6 1094.4l1.4 1.4l-1.4 1.4l-1.4 -1.4ZM633.8 1024.8l1.4 1.4l-1.4 1.4l-1.4 -1.4ZM633.8 1088.8l1.4 1.4l-1.4 1.4l-1.4 -1.4ZM712.5 1022.9l1.4 1.4l-1.4 1.4l-1.4 -1.4ZM712.5 1088.7l1.4 1.4l-1.4 1.4l-1.4 -1.4ZM678.0 1025.8l1.4 1.4l-1.4 1.4l-1.4 -1.4ZM678.0 1092.3l1.4 1.4l-1.4 1.4l-1.4 -1.4ZM501.2 1027.1l1.4 1.4l-1.4 1.4l-1.4 -1.4ZM501.2 1087.3l1.4 1.4l-1.4 1.4l-1.4 -1.4ZM669.1 1027.3l1.4 1.4l-1.4 1.4l-1.4 -1.4ZM669.1 1091.5l1.4 1.4l-1.4 1.4l-1.4 -1.4ZM501.9 1028.1l1.4 1.4l-1.4 1.4l-1.4 -1.4ZM501.9 1089.6l1.4 1.4l-1.4 1.4l-1.4 -1.4ZM671.4 1025.5l1.4 1.4l-1.4 1.4l-1.4 -1.4ZM671.4 1088.7l1.4 1.4l-1.4 1.4l-1.4 -1.4ZM770.8 1029.5l1.4 1.4l-1.4 1.4l-1.4 -1.4ZM770.8 1093.3l1.4 1.4l-1.4 1.4l-1.4 -1.4ZM732.1 1018.6l1.4 1.4l-1.4 1.4l-1.4 -1.4ZM732.1 1087.4l1.4 1.4l-1.4 1.4l-1.4 -1.4ZM651.1 1027.9l1.4 1.4l-1.4 1.4l-1.4 -1.4ZM651.1 1087.5l1.4 1.4l-1.4 1.4l-1.4 -1.4ZM660.3 1017.2l1.4 1.4l-1.4 1.4l-1.4 -1.4ZM660.3 1090.8l1.4 1.4l-1.4 1.4l-1.4 -1.4ZM772.7 1029.3l1.4 1.4l-1.4 1.4l-1.4 -1.4ZM772.7 1095.9l1.4 1.4l-1.4 1.4l-1.4 -1.4ZM608.5 1027.9l1.4 1.4l-1.4 1.4l-1.4 -1.4ZM608.5 1087.3l1.4 1.4l-1.4 1.4l-1.4 -1.4ZM793.7 1022.1l1.4 1.4l-1.4 1.4l-1.4 -1.4ZM793.7 1090.8l1.4 1.4l-1.4 1.4l-1.4 -1.4ZM626.4 1019.3l1.4 1.4l-1.4 1.4l-1.4 -1.4ZM626.4 1114.3l1.4 1.4l-1.4 1.4l-1.4 -1.4ZM784.4 1029.3l1.4 1.4l-1.4 1.4l-1.4 -1.4ZM784.4 1088.7l1.4 1.4l-1.4 1.4l-1.4 -1.4ZM598.7 1027.9l1.4 1.4l-1.4 1.4l-1.4 -1.4ZM598.7 1091.5l1.4 1.4l-1.4 1.4l-1.4 -1.4ZM570.6 1029.5l1.4 1.4l-1.4 1.4l-1.4 -1.4ZM570.6 1094.9l1.4 1.4l-1.4 1.4l-1.4 -1.4ZM543.6 1021.1l1.4 1.4l-1.4 1.4l-1.4 -1.4ZM543.6 1090.3l1.4 1.4l-1.4 1.4l-1.4 -1.4ZM674.9 1017.2l1.4 1.4l-1.4 1.4l-1.4 -1.4ZM674.9 1097.0l1.4 1.4l-1.4 1.4l-1.4 -1.4ZM537.7 1029.1l1.4 1.4l-1.4 1.4l-1.4 -1.4ZM537.7 1091.3l1.4 1.4l-1.4 1.4l-1.4 -1.4ZM683.7 1020.5l1.4 1.4l-1.4 1.4l-1.4 -1.4ZM683.7 1089.4l1.4 1.4l-1.4 1.4l-1.4 -1.4ZM759.1 1025.2l1.4 1.4l-1.4 1.4l-1.4 -1.4ZM759.1 1094.3l1.4 1.4l-1.4 1.4l-1.4 -1.4ZM549.4 1027.9l1.4 1.4l-1.4 1.4l-1.4 -1.4ZM549.4 1089.8l1.4 1.4l-1.4 1.4l-1.4 -1.4ZM659.7 1027.5l1.4 1.4l-1.4 1.4l-1.4 -1.4ZM659.7 1093.6l1.4 1.4l-1.4 1.4l-1.4 -1.4ZM740.2 1028.1l1.4 1.4l-1.4 1.4l-1.4 -1.4ZM740.2 1089.2l1.4 1.4l-1.4 1.4l-1.4 -1.4ZM694.4 1022.6l1.4 1.4l-1.4 1.4l-1.4 -1.4ZM694.4 1090.9l1.4 1.4l-1.4 1.4l-1.4 -1.4ZM586.4 1027.8l1.4 1.4l-1.4 1.4l-1.4 -1.4ZM586.4 1117.2l1.4 1.4l-1.4 1.4l-1.4 -1.4ZM514.2 1021.6l1.4 1.4l-1.4 1.4l-1.4 -1.4ZM514.2 1087.5l1.4 1.4l-1.4 1.4l-1.4 -1.4ZM739.5 1027.6l1.4 1.4l-1.4 1.4l-1.4 -1.4ZM739.5 1101.2l1.4 1.4l-1.4 1.4l-1.4 -1.4ZM556.0 1027.2l1.4 1.4l-1.4 1.4l-1.4 -1.4ZM556.0 1088.1l1.4 1.4l-1.4 1.4l-1.4 -1.4ZM707.8 1024.3l1.4 1.4l-1.4 1.4l-1.4 -1.4ZM707.8 1100.5l1.4 1.4l-1.4 1.4l-1.4 -1.4ZM580.3 1028.3l1.4 1.4l-1.4 1.4l-1.4 -1.4ZM580.3 1089.4l1.4 1.4l-1.4 1.4l-1.4 -1.4ZM675.1 1029.2l1.4 1.4l-1.4 1.4l-1.4 -1.4ZM675.1 1087.5l1.4 1.4l-1.4 1.4l-1.4 -1.4ZM705.7 1024.9l1.4 1.4l-1.4 1.4l-1.4 -1.4ZM705.7 1092.5l1.4 1.4l-1.4 1.4l-1.4 -1.4ZM774.1 1024.2l1.4 1.4l-1.4 1.4l-1.4 -1.4ZM774.1 1095.9l1.4 1.4l-1.4 1.4l-1.4 -1.4ZM778.8 1021.2l1.4 1.4l-1.4 1.4l-1.4 -1.4ZM778.8 1091.0l1.4 1.4l-1.4 1.4l-1.4 -1.4ZM627.0 1024.1l1.4 1.4l-1.4 1.4l-1.4 -1.4ZM627.0 1088.0l1.4 1.4l-1.4 1.4l-1.4 -1.4ZM506.7 1028.9l1.4 1.4l-1.4 1.4l-1.4 -1.4ZM506.7 1087.5l1.4 1.4l-1.4 1.4l-1.4 -1.4ZM724.1 1027.7l1.4 1.4l-1.4 1.4l-1.4 -1.4ZM724.1 1089.0l1.4 1.4l-1.4 1.4l-1.4 -1.4ZM736.4 1027.7l1.4 1.4l-1.4 1.4l-1.4 -1.4ZM736.4 1087.8l1.4 1.4l-1.4 1.4l-1.4 -1.4ZM588.1 1027.4l1.4 1.4l-1.4 1.4l-1.4 -1.4ZM588.1 1092.1l1.4 1.4l-1.4 1.4l-1.4 -1.4ZM661.7 1025.4l1.4 1.4l-1.4 1.4l-1.4 -1.4ZM661.7 1088.2l1.4 1.4l-1.4 1.4l-1.4 -1.4ZM618.5 1023.0l1.4 1.4l-1.4 1.4l-1.4 -1.4ZM618.5 1089.4l1.4 1.4l-1.4 1.4l-1.4 -1.4ZM619.4 1026.6l1.4 1.4l-1.4 1.4l-1.4 -1.4ZM619.4 1091.9l1.4 1.4l-1.4 1.4l-1.4 -1.4ZM764.1 1027.1l1.4 1.4l-1.4 1.4l-1.4 -1.4ZM764.1 1093.1l1.4 1.4l-1.4 1.4l-1.4 -1.4ZM621.7 1028.8l1.4 1.4l-1.4 1.4l-1.4 -1.4ZM621.7 1093.8l1.4 1.4l-1.4 1.4l-1.4 -1.4ZM590.9 1023.7l1.4 1.4l-1.4 1.4l-1.4 -1.4ZM590.9 1087.1l1.4 1.4l-1.4 1.4l-1.4 -1.4ZM683.9 1026.4l1.4 1.4l-1.4 1.4l-1.4 -1.4ZM683.9 1091.7l1.4 1.4l-1.4 1.4l-1.4 -1.4ZM780.5 1028.4l1.4 1.4l-1.4 1.4l-1.4 -1.4ZM780.5 1087.9l1.4 1.4l-1.4 1.4l-1.4 -1.4ZM625.6 1027.4l1.4 1.4l-1.4 1.4l-1.4 -1.4ZM625.6 1109.0l1.4 1.4l-1.4 1.4l-1.4 -1.4ZM700.6 1019.7l1.4 1.4l-1.4 1.4l-1.4 -1.4ZM700.6 1091.5l1.4 1.4l-1.4 1.4l-1.4 -1.4ZM604.2 1023.0l1.4 1.4l-1.4 1.4l-1.4 -1.4ZM604.2 1088.0l1.4 1.4l-1.4 1.4l-1.4 -1.4ZM546.5 1029.2l1.4 1.4l-1.4 1.4l-1.4 -1.4ZM546.5 1090.9l1.4 1.4l-1.4 1.4l-1.4 -1.4ZM674.0 1026.4l1.4 1.4l-1.4 1.4l-1.4 -1.4ZM674.0 1091.2l1.4 1.4l-1.4 1.4l-1.4 -1.4ZM765.6 1026.7l1.4 1.4l-1.4 1.4l-1.4 -1.4ZM765.6 1096.2l1.4 1.4l-1.4 1.4l-1.4 -1.4ZM535.3 1019.6l1.4 1.4l-1.4 1.4l-1.4 -1.4ZM535.3 1105.0l1.4 1.4l-1.4 1.4l-1.4 -1.4ZM520.6 1026.2l1.4 1.4l-1.4 1.4l-1.4 -1.4ZM520.6 1093.6l1.4 1.4l-1.4 1.4l-1.4 -1.4ZM514.1 1018.3l1.4 1.4l-1.4 1.4l-1.4 -1.4ZM514.1 1092.4l1.4 1.4l-1.4 1.4l-1.4 -1.4ZM784.7 1022.8l1.4 1.4l-1.4 1.4l-1.4 -1.4ZM784.7 1087.3l1.4 1.4l-1.4 1.4l-1.4 -1.4ZM540.0 1026.9l1.4 1.4l-1.4 1.4l-1.4 -1.4ZM540.0 1088.8l1.4 1.4l-1.4 1.4l-1.4 -1.4ZM708.5 1022.4l1.4 1.4l-1.4 1.4l-1.4 -1.4ZM708.5 1088.9l1.4 1.4l-1.4 1.4l-1.4 -1.4ZM757.4 1027.5l1.4 1.4l-1.4 1.4l-1.4 -1.4ZM757.4 1087.9l1.4 1.4l-1.4 1.4l-1.4 -1.4ZM526.1 1021.1l1.4 1.4l-1.4 1.4l-1.4 -1.4ZM526.1 1122.5l1.4 1.4l-1.4 1.4l-1.4 -1.4ZM635.0 1028.6l1.4 1.4l-1.4 1.4l-1.4 -1.4ZM635.0 1090.4l1.4 1.4l-1.4 1.4l-1.4 -1.4ZM726.9 1028.0l1.4 1.4l-1.4 1.4l-1.4 -1.4ZM726.9 1087.8l1.4 1.4l-1.4 1.4l-1.4 -1.4ZM697.7 1029.6l1.4 1.4l-1.4 1.4l-1.4 -1.4ZM697.7 1087.7l1.4 1.4l-1.4 1.4l-1.4 -1.4ZM616.0 1024.5l1.4 1.4l-1.4 1.4l-1.4 -1.4ZM616.0 1089.7l1.4 1.4l-1.4 1.4l-1.4 -1.4ZM692.1 1024.6l1.4 1.4l-1.4 1.4l-1.4 -1.4ZM692.1 1088.6l1.4 1.4l-1.4 1.4l-1.4 -1.4ZM697.5 1027.5l1.4 1.4l-1.4 1.4l-1.4 -1.4ZM697.5 1087.5l1.4 1.4l-1.4 1.4l-1.4 -1.4ZM617.7 1022.1l1.4 1.4l-1.4 1.4l-1.4 -1.4ZM617.7 1098.3l1.4 1.4l-1.4 1.4l-1.4 -1.4ZM527.9 1024.1l1.4 1.4l-1.4 1.4l-1.4 -1.4ZM527.9 1095.3l1.4 1.4l-1.4 1.4l-1.4 -1.4ZM677.4 1018.6l1.4 1.4l-1.4 1.4l-1.4 -1.4ZM677.4 1094.1l1.4 1.4l-1.4 1.4l-1.4 -1.4ZM704.7 1027.1l1.4 1.4l-1.4 1.4l-1.4 -1.4ZM704.7 1092.3l1.4 1.4l-1.4 1.4l-1.4 -1.4ZM620.8 1028.2l1.4 1.4l-1.4 1.4l-1.4 -1.4ZM620.8 1098.7l1.4 1.4l-1.4 1.4l-1.4 -1.4ZM664.3 1022.0l1.4 1.4l-1.4 1.4l-1.4 -1.4ZM664.3 1089.6l1.4 1.4l-1.4 1.4l-1.4 -1.4ZM723.2 1025.2l1.4 1.4l-1.4 1.4l-1.4 -1.4ZM723.2 1087.8l1.4 1.4l-1.4 1.4l-1.4 -1.4ZM727.7 1029.5l1.4 1.4l-1.4 1.4l-1.4 -1.4ZM727.7 1088.6l1.4 1.4l-1.4 1.4l-1.4 -1.4ZM588.0 1028.9l1.4 1.4l-1.4 1.4l-1.4 -1.4ZM588.0 1089.8l1.4 1.4l-1.4 1.4l-1.4 -1.4ZM676.7 1009.2l1.4 1.4l-1.4 1.4l-1.4 -1.4ZM676.7 1089.9l1.4 1.4l-1.4 1.4l-1.4 -1.4ZM626.0 1028.6l1.4 1.4l-1.4 1.4l-1.4 -1.4ZM626.0 1094.1l1.4 1.4l-1.4 1.4l-1.4 -1.4ZM795.1 1025.8l1.4 1.4l-1.4 1.4l-1.4 -1.4ZM795.1 1087.6l1.4 1.4l-1.4 1.4l-1.4 -1.4ZM574.9 1023.8l1.4 1.4l-1.4 1.4l-1.4 -1.4ZM574.9 1088.1l1.4 1.4l-1.4 1.4l-1.4 -1.4ZM515.5 1027.9l1.4 1.4l-1.4 1.4l-1.4 -1.4ZM515.5 1102.2l1.4 1.4l-1.4 1.4l-1.4 -1.4ZM513.6 1028.5l1.4 1.4l-1.4 1.4l-1.4 -1.4ZM513.6 1088.7l1.4 1.4l-1.4 1.4l-1.4 -1.4ZM746.7 1027.1l1.4 1.4l-1.4 1.4l-1.4 -1.4ZM746.7 1089.6l1.4 1.4l-1.4 1.4l-1.4 -1.4ZM698.8 1028.2l1.4 1.4l-1.4 1.4l-1.4 -1.4ZM698.8 1089.1l1.4 1.4l-1.4 1.4l-1.4 -1.4ZM714.1 1016.1l1.4 1.4l-1.4 1.4l-1.4 -1.4ZM714.1 1089.0l1.4 1.4l-1.4 1.4l-1.4 -1.4ZM647.4 1023.0l1.4 1.4l-1.4 1.4l-1.4 -1.4ZM647.4 1096.5l1.4 1.4l-1.4 1.4l-1.4 -1.4ZM617.0 1025.7l1.4 1.4l-1.4 1.4l-1.4 -1.4ZM617.0 1087.4l1.4 1.4l-1.4 1.4l-1.4 -1.4ZM738.3 1026.3l1.4 1.4l-1.4 1.4l-1.4 -1.4ZM738.3 1087.7l1.4 1.4l-1.4 1.4l-1.4 -1.4ZM731.2 1022.6l1.4 1.4l-1.4 1.4l-1.4 -1.4ZM731.2 1097.4l1.4 1.4l-1.4 1.4l-1.4 -1.4ZM585.0 1022.3l1.4 1.4l-1.4 1.4l-1.4 -1.4ZM585.0 1089.4l1.4 1.4l-1.4 1.4l-1.4 -1.4ZM707.9 1024.6l1.4 1.4l-1.4 1.4l-1.4 -1.4ZM707.9 1090.8l1.4 1.4l-1.4 1.4l-1.4 -1.4ZM695.2 1028.0l1.4 1.4l-1.4 1.4l-1.4 -1.4ZM695.2 1089.4l1.4 1.4l-1.4 1.4l-1.4 -1.4ZM505.7 1029.2l1.4 1.4l-1.4 1.4l-1.4 -1.4ZM505.7 1090.5l1.4 1.4l-1.4 1.4l-1.4 -1.4ZM685.6 1028.9l1.4 1.4l-1.4 1.4l-1.4 -1.4ZM685.6 1089.4l1.4 1.4l-1.4 1.4l-1.4 -1.4ZM729.3 1022.4l1.4 1.4l-1.4 1.4l-1.4 -1.4ZM729.3 1103.6l1.4 1.4l-1.4 1.4l-1.4 -1.4ZM511.4 1022.5l1.4 1.4l-1.4 1.4l-1.4 -1.4ZM511.4 1087.9l1.4 1.4l-1.4 1.4l-1.4 -1.4ZM597.3 1023.4l1.4 1.4l-1.4 1.4l-1.4 -1.4ZM597.3 1092.3l1.4 1.4l-1.4 1.4l-1.4 -1.4ZM742.6 1025.7l1.4 1.4l-1.4 1.4l-1.4 -1.4ZM742.6 1087.6l1.4 1.4l-1.4 1.4l-1.4 -1.4ZM587.3 1028.3l1.4 1.4l-1.4 1.4l-1.4 -1.4ZM587.3 1098.8l1.4 1.4l-1.4 1.4l-1.4 -1.4ZM753.5 1018.5l1.4 1.4l-1.4 1.4l-1.4 -1.4ZM753.5 1090.0l1.4 1.4l-1.4 1.4l-1.4 -1.4ZM688.3 1021.3l1.4 1.4l-1.4 1.4l-1.4 -1.4ZM688.3 1089.3l1.4 1.4l-1.4 1.4l-1.4 -1.4ZM528.6 1025.5l1.4 1.4l-1.4 1.4l-1.4 -1.4ZM528.6 1091.3l1.4 1.4l-1.4 1.4l-1.4 -1.4ZM759.2 1018.6l1.4 1.4l-1.4 1.4l-1.4 -1.4ZM759.2 1089.1l1.4 1.4l-1.4 1.4l-1.4 -1.4ZM766.2 1028.8l1.4 1.4l-1.4 1.4l-1.4 -1.4ZM766.2 1089.7l1.4 1.4l-1.4 1.4l-1.4 -1.4ZM581.8 1025.3l1.4 1.4l-1.4 1.4l-1.4 -1.4ZM581.8 1087.8l1.4 1.4l-1.4 1.4l-1.4 -1.4ZM630.8 1018.8l1.4 1.4l-1.4 1.4l-1.4 -1.4ZM630.8 1089.3l1.4 1.4l-1.4 1.4l-1.4 -1.4ZM525.8 1027.1l1.4 1.4l-1.4 1.4l-1.4 -1.4ZM525.8 1090.4l1.4 1.4l-1.4 1.4l-1.4 -1.4ZM647.8 1017.4l1.4 1.4l-1.4 1.4l-1.4 -1.4ZM647.8 1090.3l1.4 1.4l-1.4 1.4l-1.4 -1.4ZM645.1 1021.5l1.4 1.4l-1.4 1.4l-1.4 -1.4ZM645.1 1088.4l1.4 1.4l-1.4 1.4l-1.4 -1.4ZM562.9 1027.7l1.4 1.4l-1.4 1.4l-1.4 -1.4ZM562.9 1099.4l1.4 1.4l-1.4 1.4l-1.4 -1.4ZM792.2 1028.1l1.4 1.4l-1.4 1.4l-1.4 -1.4ZM792.2 1092.9l1.4 1.4l-1.4 1.4l-1.4 -1.4ZM644.4 1027.2l1.4 1.4l-1.4 1.4l-1.4 -1.4ZM644.4 1088.4l1.4 1.4l-1.4 1.4l-1.4 -1.4ZM604.9 1028.4l1.4 1.4l-1.4 1.4l-1.4 -1.4ZM604.9 1087.6l1.4 1.4l-1.4 1.4l-1.4 -1.4ZM725.4 1025.3l1.4 1.4l-1.4 1.4l-1.4 -1.4ZM725.4 1092.5l1.4 1.4l-1.4 1.4l-1.4 -1.4ZM566.5 1027.4l1.4 1.4l-1.4 1.4l-1.4 -1.4ZM566.5 1088.5l1.4 1.4l-1.4 1.4l-1.4 -1.4ZM614.0 1021.8l1.4 1.4l-1.4 1.4l-1.4 -1.4ZM614.0 1088.0l1.4 1.4l-1.4 1.4l-1.4 -1.4ZM794.0 1029.1l1.4 1.4l-1.4 1.4l-1.4 -1.4ZM794.0 1091.2l1.4 1.4l-1.4 1.4l-1.4 -1.4ZM640.8 1028.6l1.4 1.4l-1.4 1.4l-1.4 -1.4ZM640.8 1087.4l1.4 1.4l-1.4 1.4l-1.4 -1.4ZM608.8 1024.5l1.4 1.4l-1.4 1.4l-1.4 -1.4ZM608.8 1089.3l1.4 1.4l-1.4 1.4l-1.4 -1.4ZM764.5 1026.6l1.4 1.4l-1.4 1.4l-1.4 -1.4ZM764.5 1091.0l1.4 1.4l-1.4 1.4l-1.4 -1.4ZM502.4 1022.4l1.4 1.4l-1.4 1.4l-1.4 -1.4ZM502.4 1087.8l1.4 1.4l-1.4 1.4l-1.4 -1.4ZM614.1 1022.2l1.4 1.4l-1.4 1.4l-1.4 -1.4ZM614.1 1087.7l1.4 1.4l-1.4 1.4l-1.4 -1.4ZM599.5 1028.4l1.4 1.4l-1.4 1.4l-1.4 -1.4ZM599.5 1089.6l1.4 1.4l-1.4 1.4l-1.4 -1.4ZM760.5 1024.0l1.4 1.4l-1.4 1.4l-1.4 -1.4ZM760.5 1089.2l1.4 1.4l-1.4 1.4l-1.4 -1.4ZM555.4 1028.3l1.4 1.4l-1.4 1.4l-1.4 -1.4ZM555.4 1088.2l1.4 1.4l-1.4 1.4l-1.4 -1.4ZM587.8 1018.5l1.4 1.4l-1.4 1.4l-1.4 -1.4ZM587.8 1089.7l1.4 1.4l-1.4 1.4l-1.4 -1.4ZM673.4 1029.1l1.4 1.4l-1.4 1.4l-1.4 -1.4ZM673.4 1089.3l1.4 1.4l-1.4 1.4l-1.4 -1.4ZM547.2 1028.7l1.4 1.4l-1.4 1.4l-1.4 -1.4ZM547.2 1088.0l1.4 1.4l-1.4 1.4l-1.4 -1.4ZM731.1 1025.2l1.4 1.4l-1.4 1.4l-1.4 -1.4ZM731.1 1093.4l1.4 1.4l-1.4 1.4l-1.4 -1.4ZM623.3 1025.4l1.4 1.4l-1.4 1.4l-1.4 -1.4ZM623.3 1092.2l1.4 1.4l-1.4 1.4l-1.4 -1.4ZM552.2 1018.2l1.4 1.4l-1.4 1.4l-1.4 -1.4ZM552.2 1095.5l1.4 1.4l-1.4 1.4l-1.4 -1.4ZM573.9 1024.8l1.4 1.4l-1.4 1.4l-1.4 -1.4ZM573.9 1090.1l1.4 1.4l-1.4 1.4l-1.4 -1.4ZM596.4 1023.2l1.4 1.4l-1.4 1.4l-1.4 -1.4ZM596.4 1094.8l1.4 1.4l-1.4 1.4l-1.4 -1.4ZM652.2 1028.9l1.4 1.4l-1.4 1.4l-1.4 -1.4ZM652.2 1087.4l1.4 1.4l-1.4 1.4l-1.4 -1.4ZM671.4 1012.9l1.4 1.4l-1.4 1.4l-1.4 -1.4ZM671.4 1097.9l1.4 1.4l-1.4 1.4l-1.4 -1.4ZM530.8 1027.8l1.4 1.4l-1.4 1.4l-1.4 -1.4ZM530.8 1087.2l1.4 1.4l-1.4 1.4l-1.4 -1.4ZM592.1 1028.2l1.4 1.4l-1.4 1.4l-1.4 -1.4ZM592.1 1093.7l1.4 1.4l-1.4 1.4l-1.4 -1.4ZM531.0 1028.9l1.4 1.4l-1.4 1.4l-1.4 -1.4ZM531.0 1093.7l1.4 1.4l-1.4 1.4l-1.4 -1.4ZM614.2 1013.2l1.4 1.4l-1.4 1.4l-1.4 -1.4ZM614.2 1087.1l1.4 1.4l-1.4 1.4l-1.4 -1.4ZM555.4 1023.8l1.4 1.4l-1.4 1.4l-1.4 -1.4ZM555.4 1087.1l1.4 1.4l-1.4 1.4l-1.4 -1.4ZM577.6 1025.8l1.4 1.4l-1.4 1.4l-1.4 -1.4ZM577.6 1089.2l1.4 1.4l-1.4 1.4l-1.4 -1.4ZM628.9 1028.8l1.4 1.4l-1.4 1.4l-1.4 -1.4ZM628.9 1097.2l1.4 1.4l-1.4 1.4l-1.4 -1.4ZM635.1 1028.8l1.4 1.4l-1.4 1.4l-1.4 -1.4ZM635.1 1090.2l1.4 1.4l-1.4 1.4l-1.4 -1.4ZM745.8 1028.3l1.4 1.4l-1.4 1.4l-1.4 -1.4ZM745.8 1093.0l1.4 1.4l-1.4 1.4l-1.4 -1.4ZM570.0 1025.5l1.4 1.4l-1.4 1.4l-1.4 -1.4ZM570.0 1088.0l1.4 1.4l-1.4 1.4l-1.4 -1.4ZM749.7 1023.6l1.4 1.4l-1.4 1.4l-1.4 -1.4ZM749.7 1097.8l1.4 1.4l-1.4 1.4l-1.4 -1.4ZM689.8 1024.5l1.4 1.4l-1.4 1.4l-1.4 -1.4ZM689.8 1089.0l1.4 1.4l-1.4 1.4l-1.4 -1.4ZM641.2 1025.5l1.4 1.4l-1.4 1.4l-1.4 -1.4ZM641.2 1090.7l1.4 1.4l-1.4 1.4l-1.4 -1.4ZM644.2 1019.7l1.4 1.4l-1.4 1.4l-1.4 -1.4ZM644.2 1090.3l1.4 1.4l-1.4 1.4l-1.4 -1.4ZM782.5 1023.6l1.4 1.4l-1.4 1.4l-1.4 -1.4ZM782.5 1089.6l1.4 1.4l-1.4 1.4l-1.4 -1.4ZM785.0 1029.3l1.4 1.4l-1.4 1.4l-1.4 -1.4ZM785.0 1088.8l1.4 1.4l-1.4 1.4l-1.4 -1.4ZM728.0 1029.3l1.4 1.4l-1.4 1.4l-1.4 -1.4ZM728.0 1091.4l1.4 1.4l-1.4 1.4l-1.4 -1.4ZM524.9 1025.5l1.4 1.4l-1.4 1.4l-1.4 -1.4ZM524.9 1091.9l1.4 1.4l-1.4 1.4l-1.4 -1.4ZM754.9 1026.4l1.4 1.4l-1.4 1.4l-1.4 -1.4ZM754.9 1087.9l1.4 1.4l-1.4 1.4l-1.4 -1.4ZM518.9 1029.4l1.4 1.4l-1.4 1.4l-1.4 -1.4ZM518.9 1087.7l1.4 1.4l-1.4 1.4l-1.4 -1.4ZM682.8 1023.2l1.4 1.4l-1.4 1.4l-1.4 -1.4ZM682.8 1089.8l1.4 1.4l-1.4 1.4l-1.4 -1.4ZM685.7 1018.8l1.4 1.4l-1.4 1.4l-1.4 -1.4ZM685.7 1087.6l1.4 1.4l-1.4 1.4l-1.4 -1.4ZM654.1 1024.9l1.4 1.4l-1.4 1.4l-1.4 -1.4ZM654.1 1089.5l1.4 1.4l-1.4 1.4l-1.4 -1.4ZM749.7 1019.9l1.4 1.4l-1.4 1.4l-1.4 -1.4ZM749.7 1092.0l1.4 1.4l-1.4 1.4l-1.4 -1.4ZM775.7 1027.5l1.4 1.4l-1.4 1.4l-1.4 -1.4ZM775.7 1088.9l1.4 1.4l-1.4 1.4l-1.4 -1.4ZM724.1 1027.6l1.4 1.4l-1.4 1.4l-1.4 -1.4ZM724.1 1090.7l1.4 1.4l-1.4 1.4l-1.4 -1.4ZM654.9 1002.0l1.4 1.4l-1.4 1.4l-1.4 -1.4ZM654.9 1092.3l1.4 1.4l-1.4 1.4l-1.4 -1.4ZM673.5 1019.6l1.4 1.4l-1.4 1.4l-1.4 -1.4ZM673.5 1088.0l1.4 1.4l-1.4 1.4l-1.4 -1.4ZM591.9 1023.9l1.4 1.4l-1.4 1.4l-1.4 -1.4ZM591.9 1094.2l1.4 1.4l-1.4 1.4l-1.4 -1.4ZM665.0 1024.9l1.4 1.4l-1.4 1.4l-1.4 -1.4ZM665.0 1101.5l1.4 1.4l-1.4 1.4l-1.4 -1.4ZM541.3 1029.0l1.4 1.4l-1.4 1.4l-1.4 -1.4ZM541.3 1091.2l1.4 1.4l-1.4 1.4l-1.4 -1.4ZM723.1 1029.4l1.4 1.4l-1.4 1.4l-1.4 -1.4ZM723.1 1088.0l1.4 1.4l-1.4 1.4l-1.4 -1.4ZM598.8 1027.6l1.4 1.4l-1.4 1.4l-1.4 -1.4ZM598.8 1089.6l1.4 1.4l-1.4 1.4l-1.4 -1.4ZM553.9 1027.0l1.4 1.4l-1.4 1.4l-1.4 -1.4ZM553.9 1093.3l1.4 1.4l-1.4 1.4l-1.4 -1.4ZM748.7 1029.5l1.4 1.4l-1.4 1.4l-1.4 -1.4ZM748.7 1090.2l1.4 1.4l-1.4 1.4l-1.4 -1.4ZM532.2 1026.9l1.4 1.4l-1.4 1.4l-1.4 -1.4ZM532.2 1087.7l1.4 1.4l-1.4 1.4l-1.4 -1.4ZM619.2 1028.6l1.4 1.4l-1.4 1.4l-1.4 -1.4ZM619.2 1097.3l1.4 1.4l-1.4 1.4l-1.4 -1.4ZM543.1 1022.3l1.4 1.4l-1.4 1.4l-1.4 -1.4ZM543.1 1087.4l1.4 1.4l-1.4 1.4l-1.4 -1.4ZM543.5 1026.3l1.4 1.4l-1.4 1.4l-1.4 -1.4ZM543.5 1093.4l1.4 1.4l-1.4 1.4l-1.4 -1.4ZM569.6 1026.3l1.4 1.4l-1.4 1.4l-1.4 -1.4ZM569.6 1087.8l1.4 1.4l-1.4 1.4l-1.4 -1.4ZM730.3 1023.1l1.4 1.4l-1.4 1.4l-1.4 -1.4ZM730.3 1089.1l1.4 1.4l-1.4 1.4l-1.4 -1.4ZM746.8 1027.8l1.4 1.4l-1.4 1.4l-1.4 -1.4ZM746.8 1090.5l1.4 1.4l-1.4 1.4l-1.4 -1.4ZM636.4 1027.4l1.4 1.4l-1.4 1.4l-1.4 -1.4ZM636.4 1089.6l1.4 1.4l-1.4 1.4l-1.4 -1.4ZM729.3 1018.7l1.4 1.4l-1.4 1.4l-1.4 -1.4ZM729.3 1087.2l1.4 1.4l-1.4 1.4l-1.4 -1.4ZM502.5 1016.9l1.4 1.4l-1.4 1.4l-1.4 -1.4ZM502.5 1089.6l1.4 1.4l-1.4 1.4l-1.4 -1.4ZM528.0 1026.1l1.4 1.4l-1.4 1.4l-1.4 -1.4ZM528.0 1094.8l1.4 1.4l-1.4 1.4l-1.4 -1.4ZM609.8 1026.3l1.4 1.4l-1.4 1.4l-1.4 -1.4ZM609.8 1089.8l1.4 1.4l-1.4 1.4l-1.4 -1.4ZM717.7 1026.2l1.4 1.4l-1.4 1.4l-1.4 -1.4ZM717.7 1090.1l1.4 1.4l-1.4 1.4l-1.4 -1.4ZM704.0 1029.2l1.4 1.4l-1.4 1.4l-1.4 -1.4ZM704.0 1087.1l1.4 1.4l-1.4 1.4l-1.4 -1.4ZM577.7 1018.8l1.4 1.4l-1.4 1.4l-1.4 -1.4ZM577.7 1109.2l1.4 1.4l-1.4 1.4l-1.4 -1.4ZM575.0 1019.2l1.4 1.4l-1.4 1.4l-1.4 -1.4ZM575.0 1088.6l1.4 1.4l-1.4 1.4l-1.4 -1.4ZM627.5 1021.1l1.4 1.4l-1.4 1.4l-1.4 -1.4ZM627.5 1090.5l1.4 1.4l-1.4 1.4l-1.4 -1.4ZM760.0 1018.6l1.4 1.4l-1.4 1.4l-1.4 -1.4ZM760.0 1089.7l1.4 1.4l-1.4 1.4l-1.4 -1.4ZM571.2 1019.1l1.4 1.4l-1.4 1.4l-1.4 -1.4ZM571.2 1092.5l1.4 1.4l-1.4 1.4l-1.4 -1.4ZM586.6 1025.4l1.4 1.4l-1.4 1.4l-1.4 -1.4ZM586.6 1088.3l1.4 1.4l-1.4 1.4l-1.4 -1.4ZM590.4 1026.6l1.4 1.4l-1.4 1.4l-1.4 -1.4ZM590.4 1092.5l1.4 1.4l-1.4 1.4l-1.4 -1.4ZM656.0 1027.2l1.4 1.4l-1.4 1.4l-1.4 -1.4ZM656.0 1089.6l1.4 1.4l-1.4 1.4l-1.4 -1.4ZM589.5 1029.5l1.4 1.4l-1.4 1.4l-1.4 -1.4ZM589.5 1088.5l1.4 1.4l-1.4 1.4l-1.4 -1.4ZM765.2 1021.8l1.4 1.4l-1.4 1.4l-1.4 -1.4ZM765.2 1088.2l1.4 1.4l-1.4 1.4l-1.4 -1.4ZM569.1 1019.8l1.4 1.4l-1.4 1.4l-1.4 -1.4ZM569.1 1107.7l1.4 1.4l-1.4 1.4l-1.4 -1.4ZM658.6 1022.9l1.4 1.4l-1.4 1.4l-1.4 -1.4ZM658.6 1091.4l1.4 1.4l-1.4 1.4l-1.4 -1.4ZM604.7 1020.7l1.4 1.4l-1.4 1.4l-1.4 -1.4ZM604.7 1087.9l1.4 1.4l-1.4 1.4l-1.4 -1.4ZM726.3 1027.8l1.4 1.4l-1.4 1.4l-1.4 -1.4ZM726.3 1091.7l1.4 1.4l-1.4 1.4l-1.4 -1.4ZM778.4 1029.4l1.4 1.4l-1.4 1.4l-1.4 -1.4ZM778.4 1092.2l1.4 1.4l-1.4 1.4l-1.4 -1.4ZM767.1 1024.6l1.4 1.4l-1.4 1.4l-1.4 -1.4ZM767.1 1087.5l1.4 1.4l-1.4 1.4l-1.4 -1.4ZM737.2 1014.9l1.4 1.4l-1.4 1.4l-1.4 -1.4ZM737.2 1092.1l1.4 1.4l-1.4 1.4l-1.4 -1.4ZM562.2 1029.2l1.4 1.4l-1.4 1.4l-1.4 -1.4ZM562.2 1091.9l1.4 1.4l-1.4 1.4l-1.4 -1.4ZM601.7 1026.5l1.4 1.4l-1.4 1.4l-1.4 -1.4ZM601.7 1094.7l1.4 1.4l-1.4 1.4l-1.4 -1.4ZM768.0 1024.7l1.4 1.4l-1.4 1.4l-1.4 -1.4ZM768.0 1088.2l1.4 1.4l-1.4 1.4l-1.4 -1.4ZM585.4 1019.1l1.4 1.4l-1.4 1.4l-1.4 -1.4ZM585.4 1088.2l1.4 1.4l-1.4 1.4l-1.4 -1.4ZM550.9 1013.0l1.4 1.4l-1.4 1.4l-1.4 -1.4ZM550.9 1091.0l1.4 1.4l-1.4 1.4l-1.4 -1.4ZM530.2 1024.8l1.4 1.4l-1.4 1.4l-1.4 -1.4ZM530.2 1096.5l1.4 1.4l-1.4 1.4l-1.4 -1.4ZM781.0 1029.5l1.4 1.4l-1.4 1.4l-1.4 -1.4ZM781.0 1092.6l1.4 1.4l-1.4 1.4l-1.4 -1.4ZM599.0 1029.2l1.4 1.4l-1.4 1.4l-1.4 -1.4ZM599.0 1093.0l1.4 1.4l-1.4 1.4l-1.4 -1.4ZM739.4 1027.3l1.4 1.4l-1.4 1.4l-1.4 -1.4ZM739.4 1089.5l1.4 1.4l-1.4 1.4l-1.4 -1.4ZM638.4 1025.6l1.4 1.4l-1.4 1.4l-1.4 -1.4ZM638.4 1109.3l1.4 1.4l-1.4 1.4l-1.4 -1.4ZM514.1 1026.4l1.4 1.4l-1.4 1.4l-1.4 -1.4ZM514.1 1090.3l1.4 1.4l-1.4 1.4l-1.4 -1.4ZM557.6 1024.3l1.4 1.4l-1.4 1.4l-1.4 -1.4ZM557.6 1100.2l1.4 1.4l-1.4 1.4l-1.4 -1.4ZM570.1 1019.6l1.4 1.4l-1.4 1.4l-1.4 -1.4ZM570.1 1088.2l1.4 1.4l-1.4 1.4l-1.4 -1.4ZM528.1 1024.7l1.4 1.4l-1.4 1.4l-1.4 -1.4ZM528.1 1092.5l1.4 1.4l-1.4 1.4l-1.4 -1.4ZM747.7 1017.1l1.4 1.4l-1.4 1.4l-1.4 -1.4ZM747.7 1092.9l1.4 1.4l-1.4 1.4l-1.4 -1.4ZM766.7 1029.2l1.4 1.4l-1.4 1.4l-1.4 -1.4ZM766.7 1087.3l1.4 1.4l-1.4 1.4l-1.4 -1.4ZM750.8 1027.5l1.4 1.4l-1.4 1.4l-1.4 -1.4ZM750.8 1089.9l1.4 1.4l-1.4 1.4l-1.4 -1.4ZM743.3 1017.7l1.4 1.4l-1.4 1.4l-1.4 -1.4ZM743.3 1094.8l1.4 1.4l-1.4 1.4l-1.4 -1.4ZM505.2 1027.0l1.4 1.4l-1.4 1.4l-1.4 -1.4ZM505.2 1108.9l1.4 1.4l-1.4 1.4l-1.4 -1.4ZM564.0 1027.0l1.4 1.4l-1.4 1.4l-1.4 -1.4ZM564.0 1096.7l1.4 1.4l-1.4 1.4l-1.4 -1.4ZM649.5 1016.8l1.4 1.4l-1.4 1.4l-1.4 -1.4ZM649.5 1090.7l1.4 1.4l-1.4 1.4l-1.4 -1.4ZM693.1 1025.4l1.4 1.4l-1.4 1.4l-1.4 -1.4ZM693.1 1087.8l1.4 1.4l-1.4 1.4l-1.4 -1.4ZM520.7 1026.1l1.4 1.4l-1.4 1.4l-1.4 -1.4ZM520.7 1089.5l1.4 1.4l-1.4 1.4l-1.4 -1.4ZM647.0 1029.3l1.4 1.4l-1.4 1.4l-1.4 -1.4ZM647.0 1091.2l1.4 1.4l-1.4 1.4l-1.4 -1.4ZM727.5 1016.4l1.4 1.4l-1.4 1.4l-1.4 -1.4ZM727.5 1088.4l1.4 1.4l-1.4 1.4l-1.4 -1.4ZM512.5 1018.8l1.4 1.4l-1.4 1.4l-1.4 -1.4ZM512.5 1097.7l1.4 1.4l-1.4 1.4l-1.4 -1.4ZM730.3 1028.3l1.4 1.4l-1.4 1.4l-1.4 -1.4ZM730.3 1094.9l1.4 1.4l-1.4 1.4l-1.4 -1.4ZM562.9 1025.3l1.4 1.4l-1.4 1.4l-1.4 -1.4ZM562.9 1088.9l1.4 1.4l-1.4 1.4l-1.4 -1.4ZM541.5 1027.9l1.4 1.4l-1.4 1.4l-1.4 -1.4ZM541.5 1117.3l1.4 1.4l-1.4 1.4l-1.4 -1.4ZM528.3 1025.9l1.4 1.4l-1.4 1.4l-1.4 -1.4ZM528.3 1087.3l1.4 1.4l-1.4 1.4l-1.4 -1.4ZM616.4 1027.7l1.4 1.4l-1.4 1.4l-1.4 -1.4ZM616.4 1091.9l1.4 1.4l-1.4 1.4l-1.4 -1.4ZM660.2 1027.2l1.4 1.4l-1.4 1.4l-1.4 -1.4ZM660.2 1091.1l1.4 1.4l-1.4 1.4l-1.4 -1.4ZM518.0 1026.6l1.4 1.4l-1.4 1.4l-1.4 -1.4ZM518.0 1087.2l1.4 1.4l-1.4 1.4l-1.4 -1.4ZM527.8 1026.4l1.4 1.4l-1.4 1.4l-1.4 -1.4ZM527.8 1095.0l1.4 1.4l-1.4 1.4l-1.4 -1.4ZM642.0 1028.9l1.4 1.4l-1.4 1.4l-1.4 -1.4ZM642.0 1090.8l1.4 1.4l-1.4 1.4l-1.4 -1.4ZM604.7 1013.8l1.4 1.4l-1.4 1.4l-1.4 -1.4ZM604.7 1092.4l1.4 1.4l-1.4 1.4l-1.4 -1.4ZM499.6 1025.8l1.4 1.4l-1.4 1.4l-1.4 -1.4ZM499.6 1097.1l1.4 1.4l-1.4 1.4l-1.4 -1.4ZM761.6 1019.5l1.4 1.4l-1.4 1.4l-1.4 -1.4ZM761.6 1093.5l1.4 1.4l-1.4 1.4l-1.4 -1.4ZM789.2 1028.9l1.4 1.4l-1.4 1.4l-1.4 -1.4ZM789.2 1089.7l1.4 1.4l-1.4 1.4l-1.4 -1.4ZM667.5 1025.8l1.4 1.4l-1.4 1.4l-1.4 -1.4ZM667.5 1091.2l1.4 1.4l-1.4 1.4l-1.4 -1.4ZM752.1 1026.1l1.4 1.4l-1.4 1.4l-1.4 -1.4ZM752.1 1087.2l1.4 1.4l-1.4 1.4l-1.4 -1.4ZM582.4 1024.1l1.4 1.4l-1.4 1.4l-1.4 -1.4ZM582.4 1092.7l1.4 1.4l-1.4 1.4l-1.4 -1.4ZM689.2 1023.6l1.4 1.4l-1.4 1.4l-1.4 -1.4ZM689.2 1097.2l1.4 1.4l-1.4 1.4l-1.4 -1.4ZM666.4 1028.3l1.4 1.4l-1.4 1.4l-1.4 -1.4ZM666.4 1087.3l1.4 1.4l-1.4 1.4l-1.4 -1.4ZM779.0 1016.1l1.4 1.4l-1.4 1.4l-1.4 -1.4ZM779.0 1093.3l1.4 1.4l-1.4 1.4l-1.4 -1.4ZM641.9 1029.2l1.4 1.4l-1.4 1.4l-1.4 -1.4ZM641.9 1088.6l1.4 1.4l-1.4 1.4l-1.4 -1.4ZM546.7 1020.3l1.4 1.4l-1.4 1.4l-1.4 -1.4ZM546.7 1090.5l1.4 1.4l-1.4 1.4l-1.4 -1.4ZM591.7 1029.5l1.4 1.4l-1.4 1.4l-1.4 -1.4ZM591.7 1093.7l1.4 1.4l-1.4 1.4l-1.4 -1.4ZM566.4 1021.4l1.4 1.4l-1.4 1.4l-1.4 -1.4ZM566.4 1088.7l1.4 1.4l-1.4 1.4l-1.4 -1.4ZM779.9 1025.3l1.4 1.4l-1.4 1.4l-1.4 -1.4ZM779.9 1089.9l1.4 1.4l-1.4 1.4l-1.4 -1.4ZM620.7 1021.2l1.4 1.4l-1.4 1.4l-1.4 -1.4ZM620.7 1092.0l1.4 1.4l-1.4 1.4l-1.4 -1.4ZM572.2 1029.0l1.4 1.4l-1.4 1.4l-1.4 -1.4ZM572.2 1093.4l1.4 1.4l-1.4 1.4l-1.4 -1.4ZM553.9 1024.3l1.4 1.4l-1.4 1.4l-1.4 -1.4ZM553.9 1091.0l1.4 1.4l-1.4 1.4l-1.4 -1.4ZM654.7 1018.3l1.4 1.4l-1.4 1.4l-1.4 -1.4ZM654.7 1089.6l1.4 1.4l-1.4 1.4l-1.4 -1.4ZM721.5 1021.1l1.4 1.4l-1.4 1.4l-1.4 -1.4ZM721.5 1090.7l1.4 1.4l-1.4 1.4l-1.4 -1.4ZM591.5 1028.3l1.4 1.4l-1.4 1.4l-1.4 -1.4ZM591.5 1087.5l1.4 1.4l-1.4 1.4l-1.4 -1.4ZM510.6 1017.8l1.4 1.4l-1.4 1.4l-1.4 -1.4ZM510.6 1098.3l1.4 1.4l-1.4 1.4l-1.4 -1.4ZM618.2 1028.6l1.4 1.4l-1.4 1.4l-1.4 -1.4ZM618.2 1091.0l1.4 1.4l-1.4 1.4l-1.4 -1.4ZM558.2 1021.1l1.4 1.4l-1.4 1.4l-1.4 -1.4ZM558.2 1087.3l1.4 1.4l-1.4 1.4l-1.4 -1.4ZM619.8 1026.6l1.4 1.4l-1.4 1.4l-1.4 -1.4ZM619.8 1096.8l1.4 1.4l-1.4 1.4l-1.4 -1.4ZM633.6 1027.7l1.4 1.4l-1.4 1.4l-1.4 -1.4ZM633.6 1092.3l1.4 1.4l-1.4 1.4l-1.4 -1.4ZM646.3 1008.6l1.4 1.4l-1.4 1.4l-1.4 -1.4ZM646.3 1091.3l1.4 1.4l-1.4 1.4l-1.4 -1.4ZM766.2 1013.7l1.4 1.4l-1.4 1.4l-1.4 -1.4ZM766.2 1089.9l1.4 1.4l-1.4 1.4l-1.4 -1.4ZM698.2 1024.7l1.4 1.4l-1.4 1.4l-1.4 -1.4ZM698.2 1091.0l1.4 1.4l-1.4 1.4l-1.4 -1.4ZM753.1 1029.3l1.4 1.4l-1.4 1.4l-1.4 -1.4ZM753.1 1090.6l1.4 1.4l-1.4 1.4l-1.4 -1.4ZM639.2 1028.8l1.4 1.4l-1.4 1.4l-1.4 -1.4ZM639.2 1096.0l1.4 1.4l-1.4 1.4l-1.4 -1.4ZM540.6 1029.4l1.4 1.4l-1.4 1.4l-1.4 -1.4ZM540.6 1099.6l1.4 1.4l-1.4 1.4l-1.4 -1.4ZM737.6 1023.0l1.4 1.4l-1.4 1.4l-1.4 -1.4ZM737.6 1087.6l1.4 1.4l-1.4 1.4l-1.4 -1.4ZM690.8 1020.3l1.4 1.4l-1.4 1.4l-1.4 -1.4ZM690.8 1090.9l1.4 1.4l-1.4 1.4l-1.4 -1.4ZM663.8 1024.4l1.4 1.4l-1.4 1.4l-1.4 -1.4ZM663.8 1087.7l1.4 1.4l-1.4 1.4l-1.4 -1.4ZM668.4 1027.1l1.4 1.4l-1.4 1.4l-1.4 -1.4ZM668.4 1088.1l1.4 1.4l-1.4 1.4l-1.4 -1.4ZM691.1 1024.5l1.4 1.4l-1.4 1.4l-1.4 -1.4ZM691.1 1087.9l1.4 1.4l-1.4 1.4l-1.4 -1.4ZM663.9 1024.0l1.4 1.4l-1.4 1.4l-1.4 -1.4ZM663.9 1088.6l1.4 1.4l-1.4 1.4l-1.4 -1.4ZM660.3 1024.5l1.4 1.4l-1.4 1.4l-1.4 -1.4ZM660.3 1093.7l1.4 1.4l-1.4 1.4l-1.4 -1.4ZM727.9 1025.5l1.4 1.4l-1.4 1.4l-1.4 -1.4ZM727.9 1090.0l1.4 1.4l-1.4 1.4l-1.4 -1.4ZM756.0 1027.6l1.4 1.4l-1.4 1.4l-1.4 -1.4ZM756.0 1102.4l1.4 1.4l-1.4 1.4l-1.4 -1.4ZM698.3 1025.0l1.4 1.4l-1.4 1.4l-1.4 -1.4ZM698.3 1093.1l1.4 1.4l-1.4 1.4l-1.4 -1.4ZM794.3 1027.9l1.4 1.4l-1.4 1.4l-1.4 -1.4ZM794.3 1087.5l1.4 1.4l-1.4 1.4l-1.4 -1.4ZM669.2 1028.6l1.4 1.4l-1.4 1.4l-1.4 -1.4ZM669.2 1087.2l1.4 1.4l-1.4 1.4l-1.4 -1.4ZM635.7 1027.6l1.4 1.4l-1.4 1.4l-1.4 -1.4ZM635.7 1089.2l1.4 1.4l-1.4 1.4l-1.4 -1.4ZM725.9 1028.4l1.4 1.4l-1.4 1.4l-1.4 -1.4ZM725.9 1096.1l1.4 1.4l-1.4 1.4l-1.4 -1.4ZM655.6 1027.6l1.4 1.4l-1.4 1.4l-1.4 -1.4ZM655.6 1107.4l1.4 1.4l-1.4 1.4l-1.4 -1.4ZM575.1 1027.0l1.4 1.4l-1.4 1.4l-1.4 -1.4ZM575.1 1087.6l1.4 1.4l-1.4 1.4l-1.4 -1.4ZM768.2 1018.7l1.4 1.4l-1.4 1.4l-1.4 -1.4ZM768.2 1090.9l1.4 1.4l-1.4 1.4l-1.4 -1.4ZM752.1 1018.6l1.4 1.4l-1.4 1.4l-1.4 -1.4ZM752.1 1094.9l1.4 1.4l-1.4 1.4l-1.4 -1.4ZM563.7 1019.8l1.4 1.4l-1.4 1.4l-1.4 -1.4ZM563.7 1100.3l1.4 1.4l-1.4 1.4l-1.4 -1.4ZM694.6 1023.1l1.4 1.4l-1.4 1.4l-1.4 -1.4ZM694.6 1095.8l1.4 1.4l-1.4 1.4l-1.4 -1.4ZM563.9 1028.4l1.4 1.4l-1.4 1.4l-1.4 -1.4ZM563.9 1092.4l1.4 1.4l-1.4 1.4l-1.4 -1.4ZM631.1 1028.7l1.4 1.4l-1.4 1.4l-1.4 -1.4ZM631.1 1089.9l1.4 1.4l-1.4 1.4l-1.4 -1.4ZM515.0 1026.0l1.4 1.4l-1.4 1.4l-1.4 -1.4ZM515.0 1091.1l1.4 1.4l-1.4 1.4l-1.4 -1.4ZM573.5 1026.2l1.4 1.4l-1.4 1.4l-1.4 -1.4ZM573.5 1093.5l1.4 1.4l-1.4 1.4l-1.4 -1.4ZM572.9 1028.0l1.4 1.4l-1.4 1.4l-1.4 -1.4ZM572.9 1096.6l1.4 1.4l-1.4 1.4l-1.4 -1.4ZM682.0 1023.5l1.4 1.4l-1.4 1.4l-1.4 -1.4ZM682.0 1094.1l1.4 1.4l-1.4 1.4l-1.4 -1.4ZM603.1 1027.2l1.4 1.4l-1.4 1.4l-1.4 -1.4ZM603.1 1088.4l1.4 1.4l-1.4 1.4l-1.4 -1.4ZM505.8 1028.4l1.4 1.4l-1.4 1.4l-1.4 -1.4ZM505.8 1101.2l1.4 1.4l-1.4 1.4l-1.4 -1.4ZM693.5 1028.5l1.4 1.4l-1.4 1.4l-1.4 -1.4ZM693.5 1087.8l1.4 1.4l-1.4 1.4l-1.4 -1.4ZM532.2 1025.3l1.4 1.4l-1.4 1.4l-1.4 -1.4ZM532.2 1092.3l1.4 1.4l-1.4 1.4l-1.4 -1.4ZM615.8 1026.9l1.4 1.4l-1.4 1.4l-1.4 -1.4ZM615.8 1095.5l1.4 1.4l-1.4 1.4l-1.4 -1.4ZM667.4 1023.9l1.4 1.4l-1.4 1.4l-1.4 -1.4ZM667.4 1094.3l1.4 1.4l-1.4 1.4l-1.4 -1.4ZM591.4 1028.3l1.4 1.4l-1.4 1.4l-1.4 -1.4ZM591.4 1089.1l1.4 1.4l-1.4 1.4l-1.4 -1.4ZM574.6 1014.4l1.4 1.4l-1.4 1.4l-1.4 -1.4ZM574.6 1089.9l1.4 1.4l-1.4 1.4l-1.4 -1.4ZM648.1 1028.1l1.4 1.4l-1.4 1.4l-1.4 -1.4ZM648.1 1090.1l1.4 1.4l-1.4 1.4l-1.4 -1.4ZM648.5 1024.9l1.4 1.4l-1.4 1.4l-1.4 -1.4ZM648.5 1089.3l1.4 1.4l-1.4 1.4l-1.4 -1.4ZM738.1 1024.4l1.4 1.4l-1.4 1.4l-1.4 -1.4ZM738.1 1091.1l1.4 1.4l-1.4 1.4l-1.4 -1.4ZM539.7 1022.4l1.4 1.4l-1.4 1.4l-1.4 -1.4ZM539.7 1095.5l1.4 1.4l-1.4 1.4l-1.4 -1.4ZM539.1 1024.8l1.4 1.4l-1.4 1.4l-1.4 -1.4ZM539.1 1090.9l1.4 1.4l-1.4 1.4l-1.4 -1.4ZM588.1 1027.3l1.4 1.4l-1.4 1.4l-1.4 -1.4ZM588.1 1089.8l1.4 1.4l-1.4 1.4l-1.4 -1.4ZM712.8 1027.7l1.4 1.4l-1.4 1.4l-1.4 -1.4ZM712.8 1090.4l1.4 1.4l-1.4 1.4l-1.4 -1.4ZM756.7 1018.4l1.4 1.4l-1.4 1.4l-1.4 -1.4ZM756.7 1093.5l1.4 1.4l-1.4 1.4l-1.4 -1.4ZM579.8 1026.9l1.4 1.4l-1.4 1.4l-1.4 -1.4ZM579.8 1087.5l1.4 1.4l-1.4 1.4l-1.4 -1.4ZM768.7 1025.0l1.4 1.4l-1.4 1.4l-1.4 -1.4ZM768.7 1090.0l1.4 1.4l-1.4 1.4l-1.4 -1.4ZM586.4 1025.7l1.4 1.4l-1.4 1.4l-1.4 -1.4ZM586.4 1087.6l1.4 1.4l-1.4 1.4l-1.4 -1.4ZM692.2 1028.8l1.4 1.4l-1.4 1.4l-1.4 -1.4ZM692.2 1089.8l1.4 1.4l-1.4 1.4l-1.4 -1.4ZM691.8 1023.2l1.4 1.4l-1.4 1.4l-1.4 -1.4ZM691.8 1100.0l1.4 1.4l-1.4 1.4l-1.4 -1.4ZM515.1 1027.7l1.4 1.4l-1.4 1.4l-1.4 -1.4ZM515.1 1087.1l1.4 1.4l-1.4 1.4l-1.4 -1.4ZM675.7 1025.9l1.4 1.4l-1.4 1.4l-1.4 -1.4ZM675.7 1103.1l1.4 1.4l-1.4 1.4l-1.4 -1.4ZM650.2 1025.4l1.4 1.4l-1.4 1.4l-1.4 -1.4ZM650.2 1091.4l1.4 1.4l-1.4 1.4l-1.4 -1.4ZM662.3 1025.8l1.4 1.4l-1.4 1.4l-1.4 -1.4ZM662.3 1090.0l1.4 1.4l-1.4 1.4l-1.4 -1.4ZM787.9 1023.5l1.4 1.4l-1.4 1.4l-1.4 -1.4ZM787.9 1093.9l1.4 1.4l-1.4 1.4l-1.4 -1.4ZM789.3 1012.5l1.4 1.4l-1.4 1.4l-1.4 -1.4ZM789.3 1088.4l1.4 1.4l-1.4 1.4l-1.4 -1.4ZM539.8 1027.5l1.4 1.4l-1.4 1.4l-1.4 -1.4ZM539.8 1090.1l1.4 1.4l-1.4 1.4l-1.4 -1.4ZM726.0 1015.4l1.4 1.4l-1.4 1.4l-1.4 -1.4ZM726.0 1094.7l1.4 1.4l-1.4 1.4l-1.4 -1.4ZM511.1 1028.2l1.4 1.4l-1.4 1.4l-1.4 -1.4ZM511.1 1090.0l1.4 1.4l-1.4 1.4l-1.4 -1.4ZM734.9 1027.8l1.4 1.4l-1.4 1.4l-1.4 -1.4ZM734.9 1092.3l1.4 1.4l-1.4 1.4l-1.4 -1.4ZM681.5 1028.1l1.4 1.4l-1.4 1.4l-1.4 -1.4ZM681.5 1087.6l1.4 1.4l-1.4 1.4l-1.4 -1.4ZM729.0 1023.9l1.4 1.4l-1.4 1.4l-1.4 -1.4ZM729.0 1087.3l1.4 1.4l-1.4 1.4l-1.4 -1.4ZM572.6 1022.3l1.4 1.4l-1.4 1.4l-1.4 -1.4ZM572.6 1093.7l1.4 1.4l-1.4 1.4l-1.4 -1.4ZM665.1 1013.7l1.4 1.4l-1.4 1.4l-1.4 -1.4ZM665.1 1090.3l1.4 1.4l-1.4 1.4l-1.4 -1.4ZM792.3 1028.7l1.4 1.4l-1.4 1.4l-1.4 -1.4ZM792.3 1087.8l1.4 1.4l-1.4 1.4l-1.4 -1.4ZM597.8 1027.3l1.4 1.4l-1.4 1.4l-1.4 -1.4ZM597.8 1100.4l1.4 1.4l-1.4 1.4l-1.4 -1.4ZM632.5 1027.5l1.4 1.4l-1.4 1.4l-1.4 -1.4ZM632.5 1094.1l1.4 1.4l-1.4 1.4l-1.4 -1.4ZM592.6 1029.4l1.4 1.4l-1.4 1.4l-1.4 -1.4ZM592.6 1087.8l1.4 1.4l-1.4 1.4l-1.4 -1.4ZM705.3 1009.4l1.4 1.4l-1.4 1.4l-1.4 -1.4ZM705.3 1092.1l1.4 1.4l-1.4 1.4l-1.4 -1.4ZM761.5 1024.6l1.4 1.4l-1.4 1.4l-1.4 -1.4ZM761.5 1090.0l1.4 1.4l-1.4 1.4l-1.4 -1.4ZM657.6 1018.7l1.4 1.4l-1.4 1.4l-1.4 -1.4ZM657.6 1092.9l1.4 1.4l-1.4 1.4l-1.4 -1.4ZM758.2 1029.5l1.4 1.4l-1.4 1.4l-1.4 -1.4ZM758.2 1088.1l1.4 1.4l-1.4 1.4l-1.4 -1.4ZM518.3 1017.9l1.4 1.4l-1.4 1.4l-1.4 -1.4ZM518.3 1088.4l1.4 1.4l-1.4 1.4l-1.4 -1.4ZM601.6 1029.6l1.4 1.4l-1.4 1.4l-1.4 -1.4ZM601.6 1087.4l1.4 1.4l-1.4 1.4l-1.4 -1.4ZM748.6 1019.7l1.4 1.4l-1.4 1.4l-1.4 -1.4ZM748.6 1098.0l1.4 1.4l-1.4 1.4l-1.4 -1.4ZM499.8 1024.4l1.4 1.4l-1.4 1.4l-1.4 -1.4ZM499.8 1093.5l1.4 1.4l-1.4 1.4l-1.4 -1.4ZM754.4 1022.3l1.4 1.4l-1.4 1.4l-1.4 -1.4ZM754.4 1095.6l1.4 1.4l-1.4 1.4l-1.4 -1.4ZM745.3 1027.7l1.4 1.4l-1.4 1.4l-1.4 -1.4ZM745.3 1092.0l1.4 1.4l-1.4 1.4l-1.4 -1.4ZM706.0 1013.8l1.4 1.4l-1.4 1.4l-1.4 -1.4ZM706.0 1088.8l1.4 1.4l-1.4 1.4l-1.4 -1.4ZM548.4 1029.3l1.4 1.4l-1.4 1.4l-1.4 -1.4ZM548.4 1101.3l1.4 1.4l-1.4 1.4l-1.4 -1.4ZM598.8 1022.2l1.4 1.4l-1.4 1.4l-1.4 -1.4ZM598.8 1103.3l1.4 1.4l-1.4 1.4l-1.4 -1.4ZM645.1 1028.8l1.4 1.4l-1.4 1.4l-1.4 -1.4ZM645.1 1096.4l1.4 1.4l-1.4 1.4l-1.4 -1.4ZM667.0 1021.5l1.4 1.4l-1.4 1.4l-1.4 -1.4ZM667.0 1103.5l1.4 1.4l-1.4 1.4l-1.4 -1.4ZM673.8 1021.6l1.4 1.4l-1.4 1.4l-1.4 -1.4ZM673.8 1100.2l1.4 1.4l-1.4 1.4l-1.4 -1.4ZM513.7 1010.1l1.4 1.4l-1.4 1.4l-1.4 -1.4ZM513.7 1087.8l1.4 1.4l-1.4 1.4l-1.4 -1.4ZM650.3 1027.1l1.4 1.4l-1.4 1.4l-1.4 -1.4ZM650.3 1087.8l1.4 1.4l-1.4 1.4l-1.4 -1.4ZM756.7 1026.0l1.4 1.4l-1.4 1.4l-1.4 -1.4ZM756.7 1092.9l1.4 1.4l-1.4 1.4l-1.4 -1.4ZM542.0 1007.8l1.4 1.4l-1.4 1.4l-1.4 -1.4ZM542.0 1094.2l1.4 1.4l-1.4 1.4l-1.4 -1.4ZM647.0 1023.5l1.4 1.4l-1.4 1.4l-1.4 -1.4ZM647.0 1090.7l1.4 1.4l-1.4 1.4l-1.4 -1.4ZM708.8 1027.4l1.4 1.4l-1.4 1.4l-1.4 -1.4ZM708.8 1089.2l1.4 1.4l-1.4 1.4l-1.4 -1.4ZM787.7 1026.9l1.4 1.4l-1.4 1.4l-1.4 -1.4ZM787.7 1088.7l1.4 1.4l-1.4 1.4l-1.4 -1.4ZM574.0 1027.7l1.4 1.4l-1.4 1.4l-1.4 -1.4ZM574.0 1095.6l1.4 1.4l-1.4 1.4l-1.4 -1.4ZM587.9 1028.9l1.4 1.4l-1.4 1.4l-1.4 -1.4ZM587.9 1089.5l1.4 1.4l-1.4 1.4l-1.4 -1.4ZM795.3 1029.0l1.4 1.4l-1.4 1.4l-1.4 -1.4ZM795.3 1096.9l1.4 1.4l-1.4 1.4l-1.4 -1.4ZM549.7 1027.3l1.4 1.4l-1.4 1.4l-1.4 -1.4ZM549.7 1092.0l1.4 1.4l-1.4 1.4l-1.4 -1.4ZM611.5 1029.3l1.4 1.4l-1.4 1.4l-1.4 -1.4ZM611.5 1095.2l1.4 1.4l-1.4 1.4l-1.4 -1.4ZM572.6 1029.1l1.4 1.4l-1.4 1.4l-1.4 -1.4ZM572.6 1093.9l1.4 1.4l-1.4 1.4l-1.4 -1.4ZM513.0 1029.2l1.4 1.4l-1.4 1.4l-1.4 -1.4ZM513.0 1095.8l1.4 1.4l-1.4 1.4l-1.4 -1.4ZM509.2 1028.4l1.4 1.4l-1.4 1.4l-1.4 -1.4ZM509.2 1087.6l1.4 1.4l-1.4 1.4l-1.4 -1.4ZM542.0 1029.6l1.4 1.4l-1.4 1.4l-1.4 -1.4ZM542.0 1087.5l1.4 1.4l-1.4 1.4l-1.4 -1.4ZM542.8 1028.5l1.4 1.4l-1.4 1.4l-1.4 -1.4ZM542.8 1092.2l1.4 1.4l-1.4 1.4l-1.4 -1.4ZM542.4 1027.5l1.4 1.4l-1.4 1.4l-1.4 -1.4ZM542.4 1089.2l1.4 1.4l-1.4 1.4l-1.4 -1.4ZM766.2 1027.3l1.4 1.4l-1.4 1.4l-1.4 -1.4ZM766.2 1100.2l1.4 1.4l-1.4 1.4l-1.4 -1.4ZM699.9 1028.2l1.4 1.4l-1.4 1.4l-1.4 -1.4ZM699.9 1089.4l1.4 1.4l-1.4 1.4l-1.4 -1.4ZM695.7 1028.5l1.4 1.4l-1.4 1.4l-1.4 -1.4ZM695.7 1096.3l1.4 1.4l-1.4 1.4l-1.4 -1.4ZM602.9 1013.1l1.4 1.4l-1.4 1.4l-1.4 -1.4ZM602.9 1087.2l1.4 1.4l-1.4 1.4l-1.4 -1.4ZM606.1 1029.5l1.4 1.4l-1.4 1.4l-1.4 -1.4ZM606.1 1094.0l1.4 1.4l-1.4 1.4l-1.4 -1.4ZM701.6 1028.4l1.4 1.4l-1.4 1.4l-1.4 -1.4ZM701.6 1087.9l1.4 1.4l-1.4 1.4l-1.4 -1.4ZM560.7 1028.6l1.4 1.4l-1.4 1.4l-1.4 -1.4ZM560.7 1091.4l1.4 1.4l-1.4 1.4l-1.4 -1.4ZM785.9 1023.5l1.4 1.4l-1.4 1.4l-1.4 -1.4ZM785.9 1092.7l1.4 1.4l-1.4 1.4l-1.4 -1.4ZM598.6 1027.5l1.4 1.4l-1.4 1.4l-1.4 -1.4ZM598.6 1092.3l1.4 1.4l-1.4 1.4l-1.4 -1.4ZM640.6 1015.4l1.4 1.4l-1.4 1.4l-1.4 -1.4ZM640.6 1095.1l1.4 1.4l-1.4 1.4l-1.4 -1.4ZM734.9 1024.3l1.4 1.4l-1.4 1.4l-1.4 -1.4ZM734.9 1091.0l1.4 1.4l-1.4 1.4l-1.4 -1.4ZM670.8 1025.7l1.4 1.4l-1.4 1.4l-1.4 -1.4ZM670.8 1096.5l1.4 1.4l-1.4 1.4l-1.4 -1.4ZM648.3 1025.9l1.4 1.4l-1.4 1.4l-1.4 -1.4ZM648.3 1092.4l1.4 1.4l-1.4 1.4l-1.4 -1.4ZM656.0 1027.8l1.4 1.4l-1.4 1.4l-1.4 -1.4ZM656.0 1088.9l1.4 1.4l-1.4 1.4l-1.4 -1.4ZM587.4 1021.4l1.4 1.4l-1.4 1.4l-1.4 -1.4ZM587.4 1092.6l1.4 1.4l-1.4 1.4l-1.4 -1.4ZM587.3 1028.4l1.4 1.4l-1.4 1.4l-1.4 -1.4ZM587.3 1087.4l1.4 1.4l-1.4 1.4l-1.4 -1.4ZM705.9 1025.6l1.4 1.4l-1.4 1.4l-1.4 -1.4ZM705.9 1095.5l1.4 1.4l-1.4 1.4l-1.4 -1.4ZM497.8 1022.7l1.4 1.4l-1.4 1.4l-1.4 -1.4ZM497.8 1098.5l1.4 1.4l-1.4 1.4l-1.4 -1.4ZM721.8 1024.8l1.4 1.4l-1.4 1.4l-1.4 -1.4ZM721.8 1089.7l1.4 1.4l-1.4 1.4l-1.4 -1.4ZM702.0 1023.6l1.4 1.4l-1.4 1.4l-1.4 -1.4ZM702.0 1089.9l1.4 1.4l-1.4 1.4l-1.4 -1.4ZM603.8 1021.4l1.4 1.4l-1.4 1.4l-1.4 -1.4ZM603.8 1106.3l1.4 1.4l-1.4 1.4l-1.4 -1.4ZM540.1 1027.3l1.4 1.4l-1.4 1.4l-1.4 -1.4ZM540.1 1089.5l1.4 1.4l-1.4 1.4l-1.4 -1.4ZM537.8 1028.6l1.4 1.4l-1.4 1.4l-1.4 -1.4ZM537.8 1090.0l1.4 1.4l-1.4 1.4l-1.4 -1.4ZM601.3 1028.3l1.4 1.4l-1.4 1.4l-1.4 -1.4ZM601.3 1089.1l1.4 1.4l-1.4 1.4l-1.4 -1.4ZM580.7 1028.6l1.4 1.4l-1.4 1.4l-1.4 -1.4ZM580.7 1091.7l1.4 1.4l-1.4 1.4l-1.4 -1.4ZM720.7 1023.2l1.4 1.4l-1.4 1.4l-1.4 -1.4ZM720.7 1088.5l1.4 1.4l-1.4 1.4l-1.4 -1.4ZM688.6 1011.1l1.4 1.4l-1.4 1.4l-1.4 -1.4ZM688.6 1087.9l1.4 1.4l-1.4 1.4l-1.4 -1.4ZM782.4 1027.3l1.4 1.4l-1.4 1.4l-1.4 -1.4ZM782.4 1094.4l1.4 1.4l-1.4 1.4l-1.4 -1.4ZM563.0 1024.1l1.4 1.4l-1.4 1.4l-1.4 -1.4ZM563.0 1090.4l1.4 1.4l-1.4 1.4l-1.4 -1.4ZM552.8 1028.5l1.4 1.4l-1.4 1.4l-1.4 -1.4ZM552.8 1101.1l1.4 1.4l-1.4 1.4l-1.4 -1.4ZM785.9 1021.0l1.4 1.4l-1.4 1.4l-1.4 -1.4ZM785.9 1097.3l1.4 1.4l-1.4 1.4l-1.4 -1.4ZM702.3 1025.8l1.4 1.4l-1.4 1.4l-1.4 -1.4ZM702.3 1089.5l1.4 1.4l-1.4 1.4l-1.4 -1.4ZM683.9 1027.5l1.4 1.4l-1.4 1.4l-1.4 -1.4ZM683.9 1093.3l1.4 1.4l-1.4 1.4l-1.4 -1.4ZM776.4 1026.3l1.4 1.4l-1.4 1.4l-1.4 -1.4ZM776.4 1088.2l1.4 1.4l-1.4 1.4l-1.4 -1.4ZM679.6 1029.4l1.4 1.4l-1.4 1.4l-1.4 -1.4ZM679.6 1096.2l1.4 1.4l-1.4 1.4l-1.4 -1.4ZM739.4 1026.9l1.4 1.4l-1.4 1.4l-1.4 -1.4ZM739.4 1095.0l1.4 1.4l-1.4 1.4l-1.4 -1.4ZM504.0 1028.4l1.4 1.4l-1.4 1.4l-1.4 -1.4ZM504.0 1088.6l1.4 1.4l-1.4 1.4l-1.4 -1.4ZM579.7 1029.0l1.4 1.4l-1.4 1.4l-1.4 -1.4ZM579.7 1087.4l1.4 1.4l-1.4 1.4l-1.4 -1.4ZM590.4 1028.0l1.4 1.4l-1.4 1.4l-1.4 -1.4ZM590.4 1090.7l1.4 1.4l-1.4 1.4l-1.4 -1.4ZM793.9 1029.3l1.4 1.4l-1.4 1.4l-1.4 -1.4ZM793.9 1092.8l1.4 1.4l-1.4 1.4l-1.4 -1.4ZM605.6 1029.0l1.4 1.4l-1.4 1.4l-1.4 -1.4ZM605.6 1088.7l1.4 1.4l-1.4 1.4l-1.4 -1.4ZM611.2 1024.6l1.4 1.4l-1.4 1.4l-1.4 -1.4ZM611.2 1106.2l1.4 1.4l-1.4 1.4l-1.4 -1.4ZM556.1 1020.5l1.4 1.4l-1.4 1.4l-1.4 -1.4ZM556.1 1090.0l1.4 1.4l-1.4 1.4l-1.4 -1.4ZM734.5 1024.9l1.4 1.4l-1.4 1.4l-1.4 -1.4ZM734.5 1088.7l1.4 1.4l-1.4 1.4l-1.4 -1.4ZM788.2 1027.5l1.4 1.4l-1.4 1.4l-1.4 -1.4ZM788.2 1094.9l1.4 1.4l-1.4 1.4l-1.4 -1.4ZM533.6 1026.8l1.4 1.4l-1.4 1.4l-1.4 -1.4ZM533.6 1087.4l1.4 1.4l-1.4 1.4l-1.4 -1.4ZM637.8 1027.1l1.4 1.4l-1.4 1.4l-1.4 -1.4ZM637.8 1092.4l1.4 1.4l-1.4 1.4l-1.4 -1.4ZM685.4 1027.2l1.4 1.4l-1.4 1.4l-1.4 -1.4ZM685.4 1103.3l1.4 1.4l-1.4 1.4l-1.4 -1.4ZM696.7 1018.9l1.4 1.4l-1.4 1.4l-1.4 -1.4ZM696.7 1091.0l1.4 1.4l-1.4 1.4l-1.4 -1.4ZM541.7 1006.3l1.4 1.4l-1.4 1.4l-1.4 -1.4ZM541.7 1091.7l1.4 1.4l-1.4 1.4l-1.4 -1.4ZM604.5 1027.2l1.4 1.4l-1.4 1.4l-1.4 -1.4ZM604.5 1089.9l1.4 1.4l-1.4 1.4l-1.4 -1.4ZM759.5 1028.8l1.4 1.4l-1.4 1.4l-1.4 -1.4ZM759.5 1100.9l1.4 1.4l-1.4 1.4l-1.4 -1.4ZM708.5 1024.9l1.4 1.4l-1.4 1.4l-1.4 -1.4ZM708.5 1089.7l1.4 1.4l-1.4 1.4l-1.4 -1.4ZM683.9 1027.9l1.4 1.4l-1.4 1.4l-1.4 -1.4ZM683.9 1091.8l1.4 1.4l-1.4 1.4l-1.4 -1.4ZM790.7 1029.2l1.4 1.4l-1.4 1.4l-1.4 -1.4ZM790.7 1096.9l1.4 1.4l-1.4 1.4l-1.4 -1.4ZM624.4 1023.1l1.4 1.4l-1.4 1.4l-1.4 -1.4ZM624.4 1088.1l1.4 1.4l-1.4 1.4l-1.4 -1.4ZM600.9 1025.4l1.4 1.4l-1.4 1.4l-1.4 -1.4ZM600.9 1087.5l1.4 1.4l-1.4 1.4l-1.4 -1.4ZM741.8 1027.1l1.4 1.4l-1.4 1.4l-1.4 -1.4ZM741.8 1091.4l1.4 1.4l-1.4 1.4l-1.4 -1.4ZM501.7 1026.6l1.4 1.4l-1.4 1.4l-1.4 -1.4ZM501.7 1092.9l1.4 1.4l-1.4 1.4l-1.4 -1.4ZM678.4 1017.3l1.4 1.4l-1.4 1.4l-1.4 -1.4ZM678.4 1087.2l1.4 1.4l-1.4 1.4l-1.4 -1.4ZM657.5 1028.0l1.4 1.4l-1.4 1.4l-1.4 -1.4ZM657.5 1102.6l1.4 1.4l-1.4 1.4l-1.4 -1.4ZM787.6 1028.5l1.4 1.4l-1.4 1.4l-1.4 -1.4ZM787.6 1088.4l1.4 1.4l-1.4 1.4l-1.4 -1.4ZM606.1 1019.7l1.4 1.4l-1.4 1.4l-1.4 -1.4ZM606.1 1087.2l1.4 1.4l-1.4 1.4l-1.4 -1.4ZM611.0 1029.0l1.4 1.4l-1.4 1.4l-1.4 -1.4ZM611.0 1095.4l1.4 1.4l-1.4 1.4l-1.4 -1.4ZM623.0 1027.3l1.4 1.4l-1.4 1.4l-1.4 -1.4ZM623.0 1096.0l1.4 1.4l-1.4 1.4l-1.4 -1.4ZM755.4 1024.2l1.4 1.4l-1.4 1.4l-1.4 -1.4ZM755.4 1087.6l1.4 1.4l-1.4 1.4l-1.4 -1.4ZM790.2 1027.6l1.4 1.4l-1.4 1.4l-1.4 -1.4ZM790.2 1093.5l1.4 1.4l-1.4 1.4l-1.4 -1.4ZM657.6 1026.6l1.4 1.4l-1.4 1.4l-1.4 -1.4ZM657.6 1093.7l1.4 1.4l-1.4 1.4l-1.4 -1.4ZM721.8 1022.3l1.4 1.4l-1.4 1.4l-1.4 -1.4ZM721.8 1091.8l1.4 1.4l-1.4 1.4l-1.4 -1.4ZM642.1 1013.2l1.4 1.4l-1.4 1.4l-1.4 -1.4ZM642.1 1092.3l1.4 1.4l-1.4 1.4l-1.4 -1.4ZM624.5 1020.8l1.4 1.4l-1.4 1.4l-1.4 -1.4ZM624.5 1088.7l1.4 1.4l-1.4 1.4l-1.4 -1.4ZM575.2 1028.5l1.4 1.4l-1.4 1.4l-1.4 -1.4ZM575.2 1089.1l1.4 1.4l-1.4 1.4l-1.4 -1.4ZM597.2 1022.0l1.4 1.4l-1.4 1.4l-1.4 -1.4ZM597.2 1093.8l1.4 1.4l-1.4 1.4l-1.4 -1.4ZM669.8 1029.2l1.4 1.4l-1.4 1.4l-1.4 -1.4ZM669.8 1093.4l1.4 1.4l-1.4 1.4l-1.4 -1.4ZM633.2 1027.0l1.4 1.4l-1.4 1.4l-1.4 -1.4ZM633.2 1092.6l1.4 1.4l-1.4 1.4l-1.4 -1.4Z" fill="#ffa500" fill-opacity="0.25"/>
</g>
<rect x="89.5" y="35.5" width="330" height="102.9" fill="none" stroke="#000" stroke-width="1.11" stroke-linejoin="miter"/>
<path d="M130.4 138.4V143.26M182.58 138.4V143.26M234.76 138.4V143.26M286.94 138.4V143.26M339.12 138.4V143.26M391.3 138.4V143.26M84.64 62.3H89.5M84.64 101.5H89.5" stroke="#000" stroke-width="1.11" fill="none"/>
<text transform="translate(111.13 158.98) scale(1.0649 1)" font-size="14.72">22:00</text>
<text transform="translate(164.16 158.97) scale(1.0358 1)" font-size="14.72">00:00</text>
<text transform="translate(216.21 158.98) scale(1.0344 1)" font-size="14.72">02:00</text>
<text transform="translate(268.22 159) scale(1.0384 1)" font-size="14.72">04:00</text>
<text transform="translate(320.27 158.96) scale(1.0384 1)" font-size="14.72">06:00</text>
<text transform="translate(372.28 158.96) scale(1.0389 1)" font-size="14.72">08:00</text>
<text transform="translate(53.48 67.53) scale(0.9934 1)" font-size="14.72">500</text>
<text transform="translate(53.14 106.7) scale(1.0542 1)" font-size="14.72">250</text>
<rect x="482.5" y="35.5" width="330" height="102.9" fill="none" stroke="#000" stroke-width="1.11" stroke-linejoin="miter"/>
<path d="M523.4 138.4V143.26M575.58 138.4V143.26M627.76 138.4V143.26M679.94 138.4V143.26M732.12 138.4V143.26M784.3 138.4V143.26M477.64 40.1H482.5M477.64 92.4H482.5" stroke="#000" stroke-width="1.11" fill="none"/>
<text transform="translate(504.13 158.98) scale(1.0649 1)" font-size="14.72">22:00</text>
<text transform="translate(557.16 158.97) scale(1.0358 1)" font-size="14.72">00:00</text>
<text transform="translate(609.21 158.98) scale(1.0344 1)" font-size="14.72">02:00</text>
<text transform="translate(661.22 159) scale(1.0384 1)" font-size="14.72">04:00</text>
<text transform="translate(713.27 158.96) scale(1.0384 1)" font-size="14.72">06:00</text>
<text transform="translate(765.28 158.96) scale(1.0389 1)" font-size="14.72">08:00</text>
<text transform="translate(464.34 46.11) scale(0.9977 1)" font-size="14.72">0</text>
<text transform="translate(435.48 97.57) scale(1.0924 1)" font-size="14.72">−200</text>
<text transform="translate(88.17 26.16) scale(1.0719 1)" font-size="16.67">NoRP 1GHz Stokes-I on 1999-07-02[JST]</text>
<text transform="translate(561.14 26) scale(1.0455 1)" font-size="16.67">NoRP 1GHz Stokes-V</text>
<text transform="translate(43.64 87.38) rotate(-90) translate(-35.66 0) scale(1.0233 1)" font-size="14.72">Flux [SFU]</text>
<rect x="89.5" y="197.5" width="330" height="102.9" fill="none" stroke="#000" stroke-width="1.11" stroke-linejoin="miter"/>
<path d="M130.4 300.4V305.26M182.58 300.4V305.26M234.76 300.4V305.26M286.94 300.4V305.26M339.12 300.4V305.26M391.3 300.4V305.26M84.64 214.2H89.5M84.64 244.3H89.5M84.64 274.3H89.5" stroke="#000" stroke-width="1.11" fill="none"/>
<text transform="translate(111.13 320.98) scale(1.0649 1)" font-size="14.72">22:00</text>
<text transform="translate(164.16 320.97) scale(1.0358 1)" font-size="14.72">00:00</text>
<text transform="translate(216.21 320.98) scale(1.0344 1)" font-size="14.72">02:00</text>
<text transform="translate(268.22 321) scale(1.0384 1)" font-size="14.72">04:00</text>
<text transform="translate(320.27 320.96) scale(1.0384 1)" font-size="14.72">06:00</text>
<text transform="translate(372.28 320.96) scale(1.0389 1)" font-size="14.72">08:00</text>
<text transform="translate(53.62 220.21) scale(0.9910 1)" font-size="14.72">300</text>
<text transform="translate(53.14 250.29) scale(1.0542 1)" font-size="14.72">200</text>
<text transform="translate(53.56 280.26) scale(0.9999 1)" font-size="14.72">100</text>
<rect x="482.5" y="197.5" width="330" height="102.9" fill="none" stroke="#000" stroke-width="1.11" stroke-linejoin="miter"/>
<path d="M523.4 300.4V305.26M575.58 300.4V305.26M627.76 300.4V305.26M679.94 300.4V305.26M732.12 300.4V305.26M784.3 300.4V305.26M477.64 237.2H482.5M477.64 292.3H482.5" stroke="#000" stroke-width="1.11" fill="none"/>
<text transform="translate(504.13 320.98) scale(1.0649 1)" font-size="14.72">22:00</text>
<text transform="translate(557.16 320.97) scale(1.0358 1)" font-size="14.72">00:00</text>
<text transform="translate(609.21 320.98) scale(1.0344 1)" font-size="14.72">02:00</text>
<text transform="translate(661.22 321) scale(1.0384 1)" font-size="14.72">04:00</text>
<text transform="translate(713.27 320.96) scale(1.0384 1)" font-size="14.72">06:00</text>
<text transform="translate(765.28 320.96) scale(1.0389 1)" font-size="14.72">08:00</text>
<text transform="translate(446.56 243.16) scale(0.9999 1)" font-size="14.72">100</text>
<text transform="translate(464.34 297.51) scale(0.9977 1)" font-size="14.72">0</text>
<text transform="translate(171.28 188) scale(1.0522 1)" font-size="16.67">NoRP 2GHz Stokes-I</text>
<text transform="translate(561.14 188) scale(1.0455 1)" font-size="16.67">NoRP 2GHz Stokes-V</text>
<text transform="translate(42.44 249.38) rotate(-90) translate(-35.66 0) scale(1.0233 1)" font-size="14.72">Flux [SFU]</text>
<rect x="89.5" y="359.5" width="330" height="102.9" fill="none" stroke="#000" stroke-width="1.11" stroke-linejoin="miter"/>
<path d="M130.4 462.4V467.26M182.58 462.4V467.26M234.76 462.4V467.26M286.94 462.4V467.26M339.12 462.4V467.26M391.3 462.4V467.26M84.64 382.4H89.5M84.64 409.3H89.5M84.64 436.3H89.5" stroke="#000" stroke-width="1.11" fill="none"/>
<text transform="translate(111.13 482.98) scale(1.0649 1)" font-size="14.72">22:00</text>
<text transform="translate(164.16 482.97) scale(1.0358 1)" font-size="14.72">00:00</text>
<text transform="translate(216.21 482.98) scale(1.0344 1)" font-size="14.72">02:00</text>
<text transform="translate(268.22 483) scale(1.0384 1)" font-size="14.72">04:00</text>
<text transform="translate(320.27 482.96) scale(1.0384 1)" font-size="14.72">06:00</text>
<text transform="translate(372.28 482.96) scale(1.0389 1)" font-size="14.72">08:00</text>
<text transform="translate(53.34 387.61) scale(0.9995 1)" font-size="14.72">750</text>
<text transform="translate(53.48 414.53) scale(0.9934 1)" font-size="14.72">500</text>
<text transform="translate(53.14 441.5) scale(1.0542 1)" font-size="14.72">250</text>
<rect x="482.5" y="359.5" width="330" height="102.9" fill="none" stroke="#000" stroke-width="1.11" stroke-linejoin="miter"/>
<path d="M523.4 462.4V467.26M575.58 462.4V467.26M627.76 462.4V467.26M679.94 462.4V467.26M732.12 462.4V467.26M784.3 462.4V467.26M477.64 396.3H482.5M477.64 460.2H482.5" stroke="#000" stroke-width="1.11" fill="none"/>
<text transform="translate(504.13 482.98) scale(1.0649 1)" font-size="14.72">22:00</text>
<text transform="translate(557.16 482.97) scale(1.0358 1)" font-size="14.72">00:00</text>
<text transform="translate(609.21 482.98) scale(1.0344 1)" font-size="14.72">02:00</text>
<text transform="translate(661.22 483) scale(1.0384 1)" font-size="14.72">04:00</text>
<text transform="translate(713.27 482.96) scale(1.0384 1)" font-size="14.72">06:00</text>
<text transform="translate(765.28 482.96) scale(1.0389 1)" font-size="14.72">08:00</text>
<text transform="translate(446.48 401.53) scale(0.9934 1)" font-size="14.72">500</text>
<text transform="translate(464.34 466.21) scale(0.9977 1)" font-size="14.72">0</text>
<text transform="translate(158.07 349.8) scale(1.0644 1)" font-size="16.67">NoRP 3.75GHz Stokes-I</text>
<text transform="translate(548.26 349.8) scale(1.0554 1)" font-size="16.67">NoRP 3.75GHz Stokes-V</text>
<text transform="translate(43.64 411.38) rotate(-90) translate(-35.66 0) scale(1.0233 1)" font-size="14.72">Flux [SFU]</text>
<rect x="89.5" y="522.5" width="330" height="102.9" fill="none" stroke="#000" stroke-width="1.11" stroke-linejoin="miter"/>
<path d="M130.4 625.4V630.26M182.58 625.4V630.26M234.76 625.4V630.26M286.94 625.4V630.26M339.12 625.4V630.26M391.3 625.4V630.26M84.64 542.4H89.5M84.64 584.4H89.5" stroke="#000" stroke-width="1.11" fill="none"/>
<text transform="translate(111.13 645.98) scale(1.0649 1)" font-size="14.72">22:00</text>
<text transform="translate(164.16 645.97) scale(1.0358 1)" font-size="14.72">00:00</text>
<text transform="translate(216.21 645.98) scale(1.0344 1)" font-size="14.72">02:00</text>
<text transform="translate(268.22 646) scale(1.0384 1)" font-size="14.72">04:00</text>
<text transform="translate(320.27 645.96) scale(1.0384 1)" font-size="14.72">06:00</text>
<text transform="translate(372.28 645.96) scale(1.0389 1)" font-size="14.72">08:00</text>
<text transform="translate(53.48 547.63) scale(0.9934 1)" font-size="14.72">500</text>
<text transform="translate(53.14 589.6) scale(1.0542 1)" font-size="14.72">250</text>
<rect x="482.5" y="522.5" width="330" height="102.9" fill="none" stroke="#000" stroke-width="1.11" stroke-linejoin="miter"/>
<path d="M523.4 625.4V630.26M575.58 625.4V630.26M627.76 625.4V630.26M679.94 625.4V630.26M732.12 625.4V630.26M784.3 625.4V630.26M477.64 570.3H482.5M477.64 623.2H482.5" stroke="#000" stroke-width="1.11" fill="none"/>
<text transform="translate(504.13 645.98) scale(1.0649 1)" font-size="14.72">22:00</text>
<text transform="translate(557.16 645.97) scale(1.0358 1)" font-size="14.72">00:00</text>
<text transform="translate(609.21 645.98) scale(1.0344 1)" font-size="14.72">02:00</text>
<text transform="translate(661.22 646) scale(1.0384 1)" font-size="14.72">04:00</text>
<text transform="translate(713.27 645.96) scale(1.0384 1)" font-size="14.72">06:00</text>
<text transform="translate(765.28 645.96) scale(1.0389 1)" font-size="14.72">08:00</text>
<text transform="translate(464.34 575.51) scale(0.9977 1)" font-size="14.72">0</text>
<text transform="translate(444.48 629.17) scale(1.0946 1)" font-size="14.72">−20</text>
<text transform="translate(163.27 512.8) scale(1.0587 1)" font-size="16.67">NoRP 9.4GHz Stokes-I</text>
<text transform="translate(554.15 512.8) scale(1.0520 1)" font-size="16.67">NoRP 9.4GHz Stokes-V</text>
<text transform="translate(43.64 574.38) rotate(-90) translate(-35.66 0) scale(1.0233 1)" font-size="14.72">Flux [SFU]</text>
<rect x="89.5" y="684.5" width="330" height="102.9" fill="none" stroke="#000" stroke-width="1.11" stroke-linejoin="miter"/>
<path d="M130.4 787.4V792.26M182.58 787.4V792.26M234.76 787.4V792.26M286.94 787.4V792.26M339.12 787.4V792.26M391.3 787.4V792.26M84.64 734.4H89.5M84.64 787.4H89.5" stroke="#000" stroke-width="1.11" fill="none"/>
<text transform="translate(111.13 807.98) scale(1.0649 1)" font-size="14.72">22:00</text>
<text transform="translate(164.16 807.97) scale(1.0358 1)" font-size="14.72">00:00</text>
<text transform="translate(216.21 807.98) scale(1.0344 1)" font-size="14.72">02:00</text>
<text transform="translate(268.22 808) scale(1.0384 1)" font-size="14.72">04:00</text>
<text transform="translate(320.27 807.96) scale(1.0384 1)" font-size="14.72">06:00</text>
<text transform="translate(372.28 807.96) scale(1.0389 1)" font-size="14.72">08:00</text>
<text transform="translate(53.48 739.63) scale(0.9934 1)" font-size="14.72">500</text>
<text transform="translate(71.34 792.61) scale(0.9977 1)" font-size="14.72">0</text>
<rect x="482.5" y="684.5" width="330" height="102.9" fill="none" stroke="#000" stroke-width="1.11" stroke-linejoin="miter"/>
<path d="M523.4 787.4V792.26M575.58 787.4V792.26M627.76 787.4V792.26M679.94 787.4V792.26M732.12 787.4V792.26M784.3 787.4V792.26M477.64 694.4H482.5M477.64 740.4H482.5M477.64 786.2H482.5" stroke="#000" stroke-width="1.11" fill="none"/>
<text transform="translate(504.13 807.98) scale(1.0649 1)" font-size="14.72">22:00</text>
<text transform="translate(557.16 807.97) scale(1.0358 1)" font-size="14.72">00:00</text>
<text transform="translate(609.21 807.98) scale(1.0344 1)" font-size="14.72">02:00</text>
<text transform="translate(661.22 808) scale(1.0384 1)" font-size="14.72">04:00</text>
<text transform="translate(713.27 807.96) scale(1.0384 1)" font-size="14.72">06:00</text>
<text transform="translate(765.28 807.96) scale(1.0389 1)" font-size="14.72">08:00</text>
<text transform="translate(455.44 699.64) scale(0.9668 1)" font-size="14.72">50</text>
<text transform="translate(464.34 745.61) scale(0.9977 1)" font-size="14.72">0</text>
<text transform="translate(444.48 792.23) scale(1.0946 1)" font-size="14.72">−50</text>
<text transform="translate(166.09 674.8) scale(1.0583 1)" font-size="16.67">NoRP 17GHz Stokes-I</text>
<text transform="translate(556.23 674.8) scale(1.0492 1)" font-size="16.67">NoRP 17GHz Stokes-V</text>
<text transform="translate(43.64 736.38) rotate(-90) translate(-35.66 0) scale(1.0233 1)" font-size="14.72">Flux [SFU]</text>
<rect x="89.5" y="846.5" width="330" height="102.9" fill="none" stroke="#000" stroke-width="1.11" stroke-linejoin="miter"/>
<path d="M130.4 949.4V954.26M182.58 949.4V954.26M234.76 949.4V954.26M286.94 949.4V954.26M339.12 949.4V954.26M391.3 949.4V954.26M84.64 870.4H89.5M84.64 903.2H89.5M84.64 936.4H89.5" stroke="#000" stroke-width="1.11" fill="none"/>
<text transform="translate(111.13 969.98) scale(1.0649 1)" font-size="14.72">22:00</text>
<text transform="translate(164.16 969.97) scale(1.0358 1)" font-size="14.72">00:00</text>
<text transform="translate(216.21 969.98) scale(1.0344 1)" font-size="14.72">02:00</text>
<text transform="translate(268.22 970) scale(1.0384 1)" font-size="14.72">04:00</text>
<text transform="translate(320.27 969.96) scale(1.0384 1)" font-size="14.72">06:00</text>
<text transform="translate(372.28 969.96) scale(1.0389 1)" font-size="14.72">08:00</text>
<text transform="translate(44.17 875.6) scale(1.0571 1)" font-size="14.72">2500</text>
<text transform="translate(44.17 909.18) scale(1.0571 1)" font-size="14.72">2000</text>
<text transform="translate(45.68 941.6) scale(1.0096 1)" font-size="14.72">1500</text>
<rect x="482.5" y="846.5" width="330" height="102.9" fill="none" stroke="#000" stroke-width="1.11" stroke-linejoin="miter"/>
<path d="M523.4 949.4V954.26M575.58 949.4V954.26M627.76 949.4V954.26M679.94 949.4V954.26M732.12 949.4V954.26M784.3 949.4V954.26M477.64 891.3H482.5M477.64 948.2H482.5" stroke="#000" stroke-width="1.11" fill="none"/>
<text transform="translate(504.13 969.98) scale(1.0649 1)" font-size="14.72">22:00</text>
<text transform="translate(557.16 969.97) scale(1.0358 1)" font-size="14.72">00:00</text>
<text transform="translate(609.21 969.98) scale(1.0344 1)" font-size="14.72">02:00</text>
<text transform="translate(661.22 970) scale(1.0384 1)" font-size="14.72">04:00</text>
<text transform="translate(713.27 969.96) scale(1.0384 1)" font-size="14.72">06:00</text>
<text transform="translate(765.28 969.96) scale(1.0389 1)" font-size="14.72">08:00</text>
<text transform="translate(464.34 896.51) scale(0.9977 1)" font-size="14.72">0</text>
<text transform="translate(444.48 954.23) scale(1.0946 1)" font-size="14.72">−50</text>
<text transform="translate(166.09 836.8) scale(1.0583 1)" font-size="16.67">NoRP 35GHz Stokes-I</text>
<text transform="translate(556.23 836.8) scale(1.0492 1)" font-size="16.67">NoRP 35GHz Stokes-V</text>
<text transform="translate(34.34 898.38) rotate(-90) translate(-35.66 0) scale(1.0233 1)" font-size="14.72">Flux [SFU]</text>
<rect x="89.5" y="1008.5" width="330" height="102.9" fill="none" stroke="#000" stroke-width="1.11" stroke-linejoin="miter"/>
<path d="M130.4 1111.4V1116.26M182.58 1111.4V1116.26M234.76 1111.4V1116.26M286.94 1111.4V1116.26M339.12 1111.4V1116.26M391.3 1111.4V1116.26M84.64 1010.4H89.5M84.64 1047.2H89.5M84.64 1085.2H89.5" stroke="#000" stroke-width="1.11" fill="none"/>
<text transform="translate(111.13 1131.98) scale(1.0649 1)" font-size="14.72">22:00</text>
<text transform="translate(164.16 1131.97) scale(1.0358 1)" font-size="14.72">00:00</text>
<text transform="translate(216.21 1131.98) scale(1.0344 1)" font-size="14.72">02:00</text>
<text transform="translate(268.22 1132) scale(1.0384 1)" font-size="14.72">04:00</text>
<text transform="translate(320.27 1131.96) scale(1.0384 1)" font-size="14.72">06:00</text>
<text transform="translate(372.28 1131.96) scale(1.0389 1)" font-size="14.72">08:00</text>
<text transform="translate(36.58 1015.57) scale(1.0277 1)" font-size="14.72">10000</text>
<text transform="translate(44.33 1053.2) scale(1.0516 1)" font-size="14.72">8000</text>
<text transform="translate(44.14 1091.2) scale(1.0578 1)" font-size="14.72">6000</text>
<rect x="482.5" y="1008.5" width="330" height="102.9" fill="none" stroke="#000" stroke-width="1.11" stroke-linejoin="miter"/>
<path d="M523.4 1111.4V1116.26M575.58 1111.4V1116.26M627.76 1111.4V1116.26M679.94 1111.4V1116.26M732.12 1111.4V1116.26M784.3 1111.4V1116.26M477.64 1018.2H482.5M477.64 1060.5H482.5M477.64 1103.3H482.5" stroke="#000" stroke-width="1.11" fill="none"/>
<text transform="translate(504.13 1131.98) scale(1.0649 1)" font-size="14.72">22:00</text>
<text transform="translate(557.16 1131.97) scale(1.0358 1)" font-size="14.72">00:00</text>
<text transform="translate(609.21 1131.98) scale(1.0344 1)" font-size="14.72">02:00</text>
<text transform="translate(661.22 1132) scale(1.0384 1)" font-size="14.72">04:00</text>
<text transform="translate(713.27 1131.96) scale(1.0384 1)" font-size="14.72">06:00</text>
<text transform="translate(765.28 1131.96) scale(1.0389 1)" font-size="14.72">08:00</text>
<text transform="translate(446.56 1024.16) scale(0.9999 1)" font-size="14.72">100</text>
<text transform="translate(464.34 1065.71) scale(0.9977 1)" font-size="14.72">0</text>
<text transform="translate(435.46 1108.51) scale(1.0946 1)" font-size="14.72">−100</text>
<text transform="translate(166.11 998.8) scale(1.0572 1)" font-size="16.67">NoRP 80GHz Stokes-I</text>
<text transform="translate(556.26 998.8) scale(1.0489 1)" font-size="16.67">NoRP 80GHz Stokes-V</text>
<text transform="translate(25.14 1060.38) rotate(-90) translate(-35.66 0) scale(1.0233 1)" font-size="14.72">Flux [SFU]</text>
<text transform="translate(221.66 1151.36) scale(1.0657 1)" font-size="14.72">Time[UT]</text>
<text transform="translate(614.66 1151.36) scale(1.0657 1)" font-size="14.72">Time[UT]</text>
</svg>
</body></html>
